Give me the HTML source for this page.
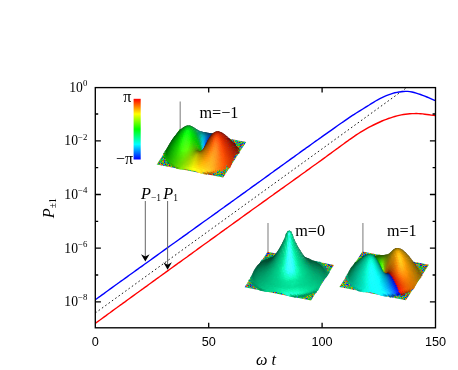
<!DOCTYPE html>
<html><head><meta charset="utf-8"><title>plot</title><style>html,body{margin:0;padding:0;background:#fff;overflow:hidden}svg{display:block;will-change:transform}</style></head><body>
<svg width="458" height="370" viewBox="0 0 458 370">
<rect width="458" height="370" fill="#fff"/>
<clipPath id="cp"><rect x="95.3" y="87.6" width="340.2" height="240.2"/></clipPath>
<g clip-path="url(#cp)" fill="none">
<path d="M95.3 313 L407 87.4" stroke="#1a1a1a" stroke-width="1" stroke-dasharray="1.6 2.5"/>
<path d="M95.3 299.8 L97.4 298.2 L99.6 296.7 L101.7 295.1 L103.9 293.6 L106.0 292.0 L108.1 290.5 L110.3 288.9 L112.4 287.4 L114.6 285.8 L116.7 284.3 L118.8 282.7 L121.0 281.2 L123.1 279.7 L125.3 278.1 L127.4 276.6 L129.5 275.0 L131.7 273.5 L133.8 272.0 L136.0 270.4 L138.1 268.9 L140.2 267.3 L142.4 265.8 L144.5 264.3 L146.7 262.7 L148.8 261.2 L150.9 259.7 L153.1 258.1 L155.2 256.6 L157.3 255.1 L159.5 253.5 L161.6 252.0 L163.8 250.4 L165.9 248.9 L168.0 247.4 L170.2 245.8 L172.3 244.3 L174.5 242.8 L176.6 241.2 L178.7 239.7 L180.9 238.2 L183.0 236.6 L185.2 235.1 L187.3 233.6 L189.4 232.0 L191.6 230.5 L193.7 229.0 L195.9 227.4 L198.0 225.9 L200.1 224.4 L202.3 222.8 L204.4 221.3 L206.6 219.8 L208.7 218.2 L210.8 216.7 L213.0 215.2 L215.1 213.6 L217.3 212.1 L219.4 210.5 L221.5 209.0 L223.7 207.5 L225.8 205.9 L228.0 204.4 L230.1 202.9 L232.2 201.3 L234.4 199.8 L236.5 198.2 L238.7 196.7 L240.8 195.1 L242.9 193.6 L245.1 192.1 L247.2 190.5 L249.4 189.0 L251.5 187.4 L253.6 185.9 L255.8 184.4 L257.9 182.8 L260.1 181.3 L262.2 179.7 L264.3 178.2 L266.5 176.6 L268.6 175.1 L270.7 173.5 L272.9 172.0 L275.0 170.4 L277.2 168.9 L279.3 167.4 L281.4 165.8 L283.6 164.3 L285.7 162.7 L287.9 161.2 L290.0 159.6 L292.1 158.1 L294.3 156.6 L296.4 155.0 L298.6 153.5 L300.7 151.9 L302.8 150.4 L305.0 148.9 L307.1 147.3 L309.3 145.8 L311.4 144.3 L313.5 142.7 L315.7 141.2 L317.8 139.7 L320.0 138.2 L322.1 136.6 L324.2 135.1 L326.4 133.6 L328.5 132.1 L330.7 130.6 L332.8 129.1 L334.9 127.6 L337.1 126.0 L339.2 124.5 L341.4 123.0 L343.5 121.6 L345.6 120.1 L347.8 118.6 L349.9 117.2 L352.1 115.7 L354.2 114.4 L356.3 113.0 L358.5 111.7 L360.6 110.3 L362.8 109.0 L364.9 107.7 L367.0 106.3 L369.2 105.0 L371.3 103.6 L373.5 102.3 L375.6 101.0 L377.7 99.8 L379.9 98.7 L382.0 97.6 L384.1 96.6 L386.3 95.7 L388.4 94.8 L390.6 94.1 L392.7 93.4 L394.8 92.8 L397.0 92.4 L399.1 92.0 L401.3 91.7 L403.4 91.5 L405.5 91.4 L407.7 91.4 L409.8 91.6 L412.0 92.0 L414.1 92.5 L416.2 93.1 L418.4 93.8 L420.5 94.5 L422.7 95.3 L424.8 96.1 L426.9 97.0 L429.1 97.9 L431.2 98.8 L433.4 99.8 L435.5 100.7" stroke="#0000ff" stroke-width="1.4"/>
<path d="M95.3 323.4 L97.4 321.8 L99.6 320.3 L101.7 318.7 L103.9 317.1 L106.0 315.6 L108.1 314.0 L110.3 312.5 L112.4 310.9 L114.6 309.3 L116.7 307.8 L118.8 306.2 L121.0 304.7 L123.1 303.1 L125.3 301.6 L127.4 300.0 L129.5 298.5 L131.7 296.9 L133.8 295.4 L136.0 293.8 L138.1 292.3 L140.2 290.7 L142.4 289.2 L144.5 287.6 L146.7 286.1 L148.8 284.5 L150.9 283.0 L153.1 281.4 L155.2 279.9 L157.3 278.3 L159.5 276.8 L161.6 275.2 L163.8 273.7 L165.9 272.1 L168.0 270.6 L170.2 269.0 L172.3 267.5 L174.5 265.9 L176.6 264.4 L178.7 262.8 L180.9 261.3 L183.0 259.8 L185.2 258.2 L187.3 256.7 L189.4 255.1 L191.6 253.6 L193.7 252.0 L195.9 250.5 L198.0 248.9 L200.1 247.4 L202.3 245.8 L204.4 244.3 L206.6 242.7 L208.7 241.2 L210.8 239.6 L213.0 238.1 L215.1 236.6 L217.3 235.0 L219.4 233.5 L221.5 231.9 L223.7 230.4 L225.8 228.8 L228.0 227.3 L230.1 225.7 L232.2 224.2 L234.4 222.6 L236.5 221.1 L238.7 219.6 L240.8 218.0 L242.9 216.5 L245.1 214.9 L247.2 213.4 L249.4 211.9 L251.5 210.3 L253.6 208.8 L255.8 207.2 L257.9 205.7 L260.1 204.2 L262.2 202.6 L264.3 201.1 L266.5 199.6 L268.6 198.0 L270.7 196.5 L272.9 195.0 L275.0 193.4 L277.2 191.9 L279.3 190.4 L281.4 188.8 L283.6 187.3 L285.7 185.8 L287.9 184.2 L290.0 182.7 L292.1 181.2 L294.3 179.6 L296.4 178.1 L298.6 176.6 L300.7 175.0 L302.8 173.5 L305.0 172.0 L307.1 170.4 L309.3 168.9 L311.4 167.3 L313.5 165.8 L315.7 164.3 L317.8 162.7 L320.0 161.2 L322.1 159.6 L324.2 158.1 L326.4 156.5 L328.5 154.9 L330.7 153.4 L332.8 151.8 L334.9 150.2 L337.1 148.7 L339.2 147.1 L341.4 145.5 L343.5 144.0 L345.6 142.4 L347.8 140.9 L349.9 139.3 L352.1 137.8 L354.2 136.4 L356.3 134.9 L358.5 133.5 L360.6 132.2 L362.8 130.8 L364.9 129.6 L367.0 128.4 L369.2 127.2 L371.3 126.1 L373.5 125.0 L375.6 124.0 L377.7 123.0 L379.9 122.0 L382.0 121.0 L384.1 120.1 L386.3 119.3 L388.4 118.5 L390.6 117.8 L392.7 117.1 L394.8 116.5 L397.0 115.9 L399.1 115.4 L401.3 114.9 L403.4 114.5 L405.5 114.2 L407.7 114.0 L409.8 113.8 L412.0 113.6 L414.1 113.6 L416.2 113.5 L418.4 113.6 L420.5 113.7 L422.7 113.9 L424.8 114.2 L426.9 114.5 L429.1 114.8 L431.2 115.1 L433.4 115.3 L435.5 115.6" stroke="#ff0000" stroke-width="1.4"/>
</g>
<filter id="nz" x="0" y="0" width="1" height="1" color-interpolation-filters="sRGB"><feTurbulence type="fractalNoise" baseFrequency="0.9" numOctaves="1" seed="4"/><feColorMatrix type="matrix" values="3 0 0 0 -1  3 0 0 0 -1  3 0 0 0 -1  0 0 0 0 1"/><feComponentTransfer><feFuncR type="table" tableValues=".05 .05 .05 .8 .85"/><feFuncG type="table" tableValues=".1 .7 .75 .7 .15"/><feFuncB type="table" tableValues=".85 .8 .1 .05 .05"/></feComponentTransfer><feComposite operator="in" in2="SourceGraphic"/></filter>
<g>
<path d="M180.2 129.9 V101.4" stroke="#909090" stroke-width="1.2" fill="none"/>
<path d="M179.7 128.9L246.2 142.1L223.2 177.6L156.7 164.4z" fill="#888" filter="url(#nz)"/>
<path d="M194.0 132.3l2.3 0.6l-0.7 1.3l-2.3-0.6z" fill="#009c81"/>
<path d="M195.4 132.7l2.4 0.5l-0.5 0.6l-2.5 0.2z" fill="#007b6a"/>
<path d="M200.4 132.9l2.5 0.5l-0.6-0.3l-2.5 0.5z" fill="#005b5c"/>
<path d="M186.9 132.7l2.3 0.6l-0.7 1.3l-2.3-0.6z" fill="#009f68"/>
<path d="M191.9 132.9l2.4 0.5l-0.7 1l-2.3-0.2z" fill="#008d6c"/>
<path d="M193.3 133.3l2.5 0.5l-0.6-0.6l-2.4 1z" fill="#005c4a"/>
<path d="M189.8 133.4l2.4 0.6l-0.5 0.2l-2.5 0.5z" fill="#006d4e"/>
<path d="M186.3 133.6l2.4 0.5l-0.7 1.3l-2.3-0.5z" fill="#009c62"/>
<path d="M187.8 134.0l2.4 0.5l-0.5-0.3l-2.5 1z" fill="#005c3c"/>
<path d="M184.3 134.1l2.3 0.5l-0.6 1.3l-2.4-0.5z" fill="#009c5b"/>
<path d="M185.7 134.5l2.5 0.5l-0.6-0.5l-2.4 1.2z" fill="#005c37"/>
<path d="M178.7 134.8l2.4 0.5l-0.7 1.3l-2.3-0.5z" fill="#009f4a"/>
<path d="M183.7 135.0l2.4 0.5l-0.5-0.5l-2.4 1.3z" fill="#005c33"/>
<path d="M180.2 135.1l2.4 0.5l-0.7 1.3l-2.3-0.5z" fill="#00a04e"/>
<path d="M181.7 135.5l2.4 0.5l-0.5-0.1l-2.5 0.9z" fill="#006332"/>
<path d="M208.4 133.0l2.5 0.3l-0.5-0.1l-2.5-0.4z" fill="#003e5c"/>
<path d="M179.7 135.9l2.4 0.6l-0.6 0.6l-2.4 0.1z" fill="#007f3a"/>
<path d="M209.9 133.2l2.5 0.4l-0.5-0.1l-2.5-0.5z" fill="#00385c"/>
<path d="M176.2 136.1l2.3 0.5l-0.7 1.3l-2.3-0.5z" fill="#009e3f"/>
<path d="M206.4 132.6l2.5 0.4l-0.6-0.1l-2.5-0.4z" fill="#00455c"/>
<path d="M211.4 133.4l2.5 0.5l-0.5-0.1l-2.5-0.5z" fill="#00325c"/>
<path d="M207.9 132.8l2.5 0.4l-0.6 0l-2.5-0.4z" fill="#003f5c"/>
<path d="M212.9 133.7l2.5 0.5l-0.5 0l-2.5-0.6z" fill="#002c5c"/>
<path d="M174.1 136.6l2.4 0.5l-0.7 1.3l-2.3-0.5z" fill="#00a23b"/>
<path d="M204.3 132.2l2.5 0.4l-0.5 0.1l-2.5-0.6z" fill="#004d5c"/>
<path d="M209.4 133.0l2.5 0.5l-0.6 0.1l-2.4-0.5z" fill="#00395c"/>
<path d="M214.4 134.0l2.5 0.6l-0.5-0.1l-2.5-0.6z" fill="#00265c"/>
<path d="M175.7 136.9l2.3 0.5l-0.7 1.3l-2.3-0.5z" fill="#009e3b"/>
<path d="M224.6 137.8l2.4 0.5l-0.6 0.5l-2.3-1.4z" fill="#000d5c"/>
<path d="M205.8 132.4l2.5 0.5l-0.5 0.1l-2.5-0.6z" fill="#00465c"/>
<path d="M210.9 133.3l2.5 0.5l-0.6 0.1l-2.4-0.6z" fill="#00325c"/>
<path d="M216.0 134.3l2.4 0.8l-0.5-0.1l-2.5-0.7z" fill="#00205c"/>
<path d="M177.1 137.3l2.4 0.4l-0.5-0.1l-2.5 1z" fill="#005e25"/>
<path d="M226.2 137.9l2.4 0.6l-0.8 1.1l-2.3-1.2z" fill="#000f87"/>
<path d="M202.3 131.8l2.5 0.5l-0.6 0l-2.4-0.7z" fill="#00545c"/>
<path d="M207.4 132.7l2.4 0.5l-0.5 0.2l-2.5-0.6z" fill="#00405c"/>
<path d="M212.4 133.5l2.5 0.6l-0.5 0.1l-2.5-0.6z" fill="#002c5c"/>
<path d="M217.5 134.8l2.4 0.7l-0.5-0.1l-2.5-0.7z" fill="#001b5c"/>
<path d="M227.7 138.1l2.4 0.6l-0.7 1.3l-2.4-0.7z" fill="#000d9f"/>
<path d="M203.8 132.1l2.5 0.5l-0.6 0.1l-2.4-0.7z" fill="#004e5c"/>
<path d="M208.9 132.9l2.5 0.6l-0.6 0.2l-2.5-0.6z" fill="#00395c"/>
<path d="M213.9 133.9l2.5 0.6l-0.5 0.1l-2.5-0.7z" fill="#00255c"/>
<path d="M219.0 135.2l2.4 0.9l-0.5-0.2l-2.4-0.8z" fill="#00165c"/>
<path d="M175.1 137.7l2.4 0.6l-0.7 1.1l-2.3-0.4z" fill="#009735"/>
<path d="M205.3 132.3l2.5 0.6l-0.6 0.3l-2.4-0.7z" fill="#00485c"/>
<path d="M210.4 133.2l2.5 0.6l-0.6 0.2l-2.5-0.6z" fill="#00325c"/>
<path d="M215.5 134.2l2.4 0.7l-0.5 0.1l-2.5-0.7z" fill="#001f5c"/>
<path d="M220.5 135.7l2.5 1l-0.6-0.3l-2.4-0.8z" fill="#00125c"/>
<path d="M201.8 131.6l2.5 0.7l-0.6 0l-2.4-0.8z" fill="#00565c"/>
<path d="M206.9 132.7l2.4 0.5l-0.5 0.3l-2.5-0.6z" fill="#00415c"/>
<path d="M211.9 133.5l2.5 0.6l-0.6 0.2l-2.4-0.6z" fill="#002b5c"/>
<path d="M217.0 134.6l2.4 0.8l-0.5 0l-2.5-0.7z" fill="#001a5c"/>
<path d="M173.1 138.2l2.3 0.6l-0.7 1.3l-2.3-0.6z" fill="#009e32"/>
<path d="M222.0 136.3l2.5 1l-0.6-0.3l-2.4-0.9z" fill="#000e5c"/>
<path d="M227.0 139.1l2.5 0.6l-0.6 0.3l-2.3-1.6z" fill="#00065c"/>
<path d="M203.3 131.9l2.5 0.7l-0.6 0.3l-2.4-0.9z" fill="#00505c"/>
<path d="M208.4 133.0l2.4 0.5l-0.5 0.4l-2.5-0.6z" fill="#003b5e"/>
<path d="M213.4 133.8l2.5 0.7l-0.6 0.2l-2.4-0.6z" fill="#00255c"/>
<path d="M218.5 135.1l2.4 0.8l-0.5-0.1l-2.5-0.7z" fill="#00155c"/>
<path d="M174.5 138.6l2.4 0.4l-0.5-0.1l-2.4 1z" fill="#005c1e"/>
<path d="M199.7 131.1l2.5 0.7l-0.5-0.1l-2.5-0.9z" fill="#005c59"/>
<path d="M204.8 132.3l2.5 0.7l-0.6 0.4l-2.4-0.9z" fill="#004b5e"/>
<path d="M209.9 133.3l2.4 0.5l-0.5 0.4l-2.5-0.6z" fill="#00325c"/>
<path d="M214.9 134.2l2.5 0.7l-0.6 0.2l-2.4-0.7z" fill="#001f5c"/>
<path d="M220.0 135.6l2.4 0.8l-0.5-0.1l-2.5-0.8z" fill="#00115c"/>
<path d="M201.3 131.4l2.4 0.8l-0.5 0.2l-2.5-1.1z" fill="#00585c"/>
<path d="M206.4 132.7l2.4 0.7l-0.6 0.4l-2.4-0.8z" fill="#004865"/>
<path d="M211.4 133.6l2.5 0.6l-0.6 0.3l-2.5-0.6z" fill="#002d60"/>
<path d="M216.5 134.6l2.4 0.7l-0.5 0.1l-2.5-0.6z" fill="#00195c"/>
<path d="M172.6 139.0l2.3 0.6l-0.7 1.2l-2.3-0.5z" fill="#009b2e"/>
<path d="M221.5 136.1l2.4 0.9l-0.5-0.2l-2.4-0.8z" fill="#000d5c"/>
<path d="M202.8 131.9l2.4 0.8l-0.6 0.3l-2.4-1z" fill="#00545e"/>
<path d="M207.9 133.1l2.4 0.6l-0.6 0.5l-2.4-0.7z" fill="#004167"/>
<path d="M212.9 133.9l2.5 0.6l-0.6 0.4l-2.5-0.7z" fill="#00245c"/>
<path d="M218.0 135.0l2.4 0.8l-0.5 0l-2.5-0.7z" fill="#00145c"/>
<path d="M223.0 136.6l2.4 1.1l-0.5-0.3l-2.4-0.9z" fill="#00095c"/>
<path d="M199.2 130.8l2.5 0.9l-0.6-0.1l-2.4-1.1z" fill="#005c56"/>
<path d="M204.3 132.3l2.5 0.9l-0.7 0.4l-2.4-1z" fill="#005468"/>
<path d="M209.4 133.4l2.4 0.6l-0.6 0.5l-2.4-0.6z" fill="#003765"/>
<path d="M214.4 134.3l2.5 0.6l-0.6 0.3l-2.4-0.6z" fill="#001f5f"/>
<path d="M219.5 135.5l2.4 0.7l-0.5 0l-2.5-0.7z" fill="#000f5c"/>
<path d="M229.6 140.5l2.4 0.6l-0.6 0.6l-2.3-1.9z" fill="#00025e"/>
<path d="M200.8 131.2l2.4 1.1l-0.6 0.1l-2.4-1.2z" fill="#005b5c"/>
<path d="M205.9 132.8l2.4 0.8l-0.6 0.5l-2.5-0.8z" fill="#00506d"/>
<path d="M210.9 133.7l2.4 0.6l-0.6 0.5l-2.4-0.6z" fill="#002f66"/>
<path d="M215.9 134.6l2.5 0.7l-0.6 0.2l-2.4-0.6z" fill="#00185c"/>
<path d="M172.0 139.9l2.4 0.5l-0.6 0.7l-2.4 0.1z" fill="#007d22"/>
<path d="M221.0 135.9l2.4 0.9l-0.5-0.2l-2.5-0.7z" fill="#000b5c"/>
<path d="M202.3 131.8l2.4 1.1l-0.6 0.3l-2.4-1.2z" fill="#005f68"/>
<path d="M207.4 133.3l2.4 0.6l-0.6 0.6l-2.4-0.7z" fill="#00476e"/>
<path d="M212.4 134.0l2.4 0.7l-0.5 0.4l-2.5-0.6z" fill="#002766"/>
<path d="M217.4 135.0l2.5 0.7l-0.6 0.1l-2.4-0.5z" fill="#00125c"/>
<path d="M222.5 136.5l2.4 0.9l-0.5-0.3l-2.4-0.8z" fill="#00085c"/>
<path d="M198.7 130.5l2.4 1.1l-0.5 0l-2.4-1.4z" fill="#005c53"/>
<path d="M203.8 132.4l2.4 1l-0.6 0.5l-2.4-1.1z" fill="#005d70"/>
<path d="M208.9 133.6l2.4 0.6l-0.6 0.6l-2.4-0.6z" fill="#003c6d"/>
<path d="M213.9 134.4l2.5 0.6l-0.6 0.4l-2.5-0.6z" fill="#002067"/>
<path d="M218.9 135.4l2.5 0.7l-0.5 0l-2.5-0.5z" fill="#000e5c"/>
<path d="M200.3 131.1l2.4 1.2l-0.7 0.2l-2.3-1.4z" fill="#00605e"/>
<path d="M205.4 133.0l2.4 0.9l-0.7 0.6l-2.4-1z" fill="#005775"/>
<path d="M210.4 133.9l2.4 0.6l-0.6 0.6l-2.4-0.5z" fill="#003470"/>
<path d="M215.4 134.8l2.5 0.6l-0.6 0.3l-2.5-0.5z" fill="#00175e"/>
<path d="M171.4 140.8l2.5-0.1l-0.6 0.1l-2.4 1.3z" fill="#005c17"/>
<path d="M220.4 135.9l2.5 0.7l-0.5-0.1l-2.5-0.6z" fill="#000a5c"/>
<path d="M230.6 141.2l2.4 1.2l-0.6-0.1l-2.3-1.9z" fill="#5c0100"/>
<path d="M201.8 131.8l2.4 1.3l-0.7 0.4l-2.3-1.5z" fill="#006b72"/>
<path d="M206.9 133.5l2.4 0.7l-0.7 0.8l-2.4-0.8z" fill="#004e79"/>
<path d="M211.9 134.3l2.4 0.6l-0.6 0.5l-2.4-0.5z" fill="#00296d"/>
<path d="M216.9 135.1l2.5 0.6l-0.6 0.2l-2.5-0.5z" fill="#00115c"/>
<path d="M222.0 136.3l2.4 0.9l-0.5-0.3l-2.5-0.7z" fill="#00075c"/>
<path d="M198.2 130.2l2.4 1.3l-0.6 0l-2.3-1.5z" fill="#005c50"/>
<path d="M203.4 132.6l2.3 1.1l-0.7 0.6l-2.3-1.3z" fill="#006d80"/>
<path d="M208.4 133.9l2.4 0.6l-0.6 0.8l-2.5-0.6z" fill="#004278"/>
<path d="M213.4 134.6l2.4 0.6l-0.5 0.5l-2.5-0.5z" fill="#001e67"/>
<path d="M218.4 135.5l2.5 0.6l-0.5 0l-2.5-0.5z" fill="#000c5c"/>
<path d="M199.8 130.9l2.3 1.5l-0.6 0.2l-2.3-1.7z" fill="#006a65"/>
<path d="M204.9 133.3l2.3 0.9l-0.7 0.8l-2.3-1.1z" fill="#006585"/>
<path d="M209.9 134.3l2.4 0.5l-0.6 0.8l-2.4-0.6z" fill="#003677"/>
<path d="M214.9 135.0l2.4 0.5l-0.5 0.3l-2.5-0.3z" fill="#00155c"/>
<path d="M170.9 142.0l2.4-1.3l-0.6 0.1l-2.2 2.1z" fill="#005c15"/>
<path d="M219.9 135.8l2.5 0.7l-0.5-0.2l-2.5-0.4z" fill="#00085c"/>
<path d="M196.2 129.2l2.4 1.2l-0.6-0.2l-2.3-1.5z" fill="#005c46"/>
<path d="M201.3 131.8l2.4 1.5l-0.7 0.5l-2.3-1.7z" fill="#007377"/>
<path d="M206.4 133.8l2.3 0.8l-0.6 0.9l-2.4-0.8z" fill="#005785"/>
<path d="M211.4 134.6l2.4 0.6l-0.6 0.7l-2.4-0.6z" fill="#002c78"/>
<path d="M216.4 135.3l2.5 0.4l-0.6 0.2l-2.5-0.3z" fill="#000f5c"/>
<path d="M221.4 136.2l2.5 0.7l-0.5-0.2l-2.5-0.6z" fill="#00055c"/>
<path d="M197.7 129.9l2.4 1.5l-0.6 0l-2.3-1.7z" fill="#005f4f"/>
<path d="M202.9 132.7l2.3 1.4l-0.7 0.7l-2.3-1.6z" fill="#007a8b"/>
<path d="M207.9 134.3l2.4 0.6l-0.7 0.9l-2.4-0.6z" fill="#004984"/>
<path d="M212.9 134.9l2.4 0.5l-0.6 0.6l-2.4-0.4z" fill="#001e6b"/>
<path d="M217.9 135.6l2.5 0.4l-0.6 0l-2.5-0.2z" fill="#000b5c"/>
<path d="M233.1 142.9l2.4 0.7l-0.7 1l-2.2-2.1z" fill="#720400"/>
<path d="M199.3 130.8l2.3 1.7l-0.7 0.3l-2.2-2z" fill="#007166"/>
<path d="M204.4 133.6l2.3 1.1l-0.7 0.9l-2.3-1.3z" fill="#007496"/>
<path d="M209.4 134.7l2.4 0.5l-0.7 0.9l-2.4-0.5z" fill="#003b83"/>
<path d="M214.4 135.2l2.4 0.4l-0.5 0.5l-2.5-0.3z" fill="#001461"/>
<path d="M219.4 135.8l2.5 0.5l-0.5-0.2l-2.5-0.2z" fill="#00075c"/>
<path d="M195.7 128.7l2.3 1.5l-0.5-0.2l-2.3-1.7z" fill="#005c42"/>
<path d="M200.9 131.9l2.2 1.7l-0.7 0.5l-2.2-2z" fill="#008282"/>
<path d="M205.9 134.3l2.3 0.8l-0.7 1.1l-2.3-1z" fill="#006394"/>
<path d="M210.9 135.0l2.4 0.5l-0.6 0.9l-2.5-0.5z" fill="#002c7e"/>
<path d="M215.8 135.5l2.5 0.3l-0.5 0.2l-2.5-0.1z" fill="#000d5c"/>
<path d="M197.3 129.6l2.2 1.8l-0.6 0l-2.2-2z" fill="#006650"/>
<path d="M202.4 133.0l2.3 1.5l-0.8 0.9l-2.2-1.9z" fill="#008491"/>
<path d="M207.4 134.8l2.3 0.6l-0.6 1.1l-2.4-0.6z" fill="#005091"/>
<path d="M212.4 135.3l2.4 0.4l-0.6 0.7l-2.4-0.3z" fill="#001e72"/>
<path d="M217.3 135.7l2.5 0.2l-0.5 0l-2.5 0z" fill="#00095c"/>
<path d="M198.8 130.7l2.3 1.9l-0.7 0.3l-2.2-2.2z" fill="#007868"/>
<path d="M203.9 134.0l2.3 1.3l-0.8 1l-2.2-1.5z" fill="#007fa0"/>
<path d="M208.9 135.2l2.3 0.5l-0.6 1.1l-2.4-0.5z" fill="#004091"/>
<path d="M213.8 135.6l2.5 0.2l-0.5 0.5l-2.5 0z" fill="#001261"/>
<path d="M234.1 144.0l2.4 0.7l-0.7 1l-2.2-2.4z" fill="#700600"/>
<path d="M195.2 128.3l2.3 1.7l-0.6-0.2l-2.2-1.9z" fill="#005c3e"/>
<path d="M200.4 131.9l2.2 2l-0.7 0.6l-2.2-2.3z" fill="#00908a"/>
<path d="M205.4 134.8l2.3 1l-0.7 1.2l-2.3-1.1z" fill="#0070a5"/>
<path d="M210.4 135.5l2.3 0.5l-0.6 1l-2.4-0.4z" fill="#002d85"/>
<path d="M215.3 135.8l2.5 0.1l-0.5 0.1l-2.5 0.2z" fill="#000c5c"/>
<path d="M196.8 129.3l2.2 2l-0.6 0l-2.2-2.2z" fill="#00694e"/>
<path d="M201.9 133.3l2.2 1.8l-0.7 0.9l-2.2-2.2z" fill="#0097a1"/>
<path d="M206.9 135.4l2.3 0.7l-0.7 1.2l-2.3-0.6z" fill="#0059a1"/>
<path d="M211.8 135.8l2.5 0.3l-0.6 0.8l-2.4-0.1z" fill="#001d76"/>
<path d="M216.8 135.9l2.5 0l-0.5-0.1l-2.5 0.3z" fill="#00075c"/>
<path d="M198.3 130.6l2.2 2.2l-0.7 0.3l-2.1-2.5z" fill="#008069"/>
<path d="M203.4 134.5l2.3 1.5l-0.8 1.2l-2.3-1.8z" fill="#0092b2"/>
<path d="M208.4 135.8l2.3 0.5l-0.7 1.3l-2.3-0.5z" fill="#004298"/>
<path d="M213.3 136.0l2.5 0l-0.6 0.5l-2.4 0.3z" fill="#001061"/>
<path d="M233.7 143.3l2.1 2.3l-0.5-0.5l-2.2-2.4z" fill="#5c0500"/>
<path d="M194.7 127.9l2.3 1.8l-0.6-0.1l-2.3-2z" fill="#005e3a"/>
<path d="M199.9 132.1l2.1 2.2l-0.7 0.6l-2.1-2.6z" fill="#009588"/>
<path d="M204.9 135.5l2.3 1l-0.8 1.4l-2.3-1.2z" fill="#0080b8"/>
<path d="M209.9 136.1l2.3 0.4l-0.6 1.2l-2.4-0.3z" fill="#002e90"/>
<path d="M214.8 136.1l2.5-0.2l-0.5 0.2l-2.5 0.5z" fill="#000a5c"/>
<path d="M196.3 129.0l2.2 2.2l-0.7 0.1l-2.1-2.4z" fill="#00724e"/>
<path d="M201.4 133.6l2.2 2.1l-0.8 1l-2.1-2.5z" fill="#00a5a8"/>
<path d="M206.4 136.2l2.3 0.6l-0.7 1.5l-2.3-0.7z" fill="#0063b2"/>
<path d="M211.3 136.4l2.4 0.1l-0.5 0.9l-2.5 0.1z" fill="#001b79"/>
<path d="M231.6 141.2l2.2 2.2l-0.5-0.6l-2.2-2.1z" fill="#5c0500"/>
<path d="M192.6 126.7l2.4 1.5l-0.6-0.3l-2.3-1.5z" fill="#005c2e"/>
<path d="M197.8 130.5l2.2 2.5l-0.7 0.3l-2.1-2.8z" fill="#008364"/>
<path d="M202.9 135.1l2.2 1.7l-0.8 1.3l-2.2-2z" fill="#00a0bb"/>
<path d="M207.9 136.6l2.3 0.5l-0.7 1.4l-2.3-0.4z" fill="#0049ad"/>
<path d="M212.8 136.5l2.4-0.2l-0.5 0.5l-2.4 0.6z" fill="#000d5d"/>
<path d="M233.1 142.7l2.2 2.4l-0.5-0.6l-2.2-2.4z" fill="#5c0600"/>
<path d="M194.2 127.5l2.2 2l-0.6-0.1l-2.2-2.1z" fill="#006136"/>
<path d="M199.4 132.2l2.1 2.6l-0.7 0.6l-2.1-2.9z" fill="#009681"/>
<path d="M204.4 136.3l2.3 1.2l-0.8 1.5l-2.3-1.3z" fill="#008ec8"/>
<path d="M209.3 136.9l2.4 0.3l-0.6 1.3l-2.4-0.2z" fill="#002d98"/>
<path d="M214.3 136.5l2.5-0.5l-0.6 0.1l-2.4 0.8z" fill="#00075c"/>
<path d="M234.7 144.3l2.1 2.5l-0.5-0.4l-2.2-2.7z" fill="#600600"/>
<path d="M190.5 125.9l2.5 0.9l-0.6-0.2l-2.4-1z" fill="#005c25"/>
<path d="M195.8 128.8l2.1 2.4l-0.6 0.1l-2.1-2.6z" fill="#00774a"/>
<path d="M200.9 134.0l2.1 2.5l-0.7 1l-2.1-2.9z" fill="#00b3ae"/>
<path d="M205.9 137.1l2.2 0.6l-0.7 1.7l-2.2-0.6z" fill="#006cc1"/>
<path d="M210.8 137.1l2.4-0.1l-0.5 0.9l-2.5 0.5z" fill="#00187a"/>
<path d="M231.1 140.7l2.2 2.1l-0.5-0.6l-2.2-2.1z" fill="#5c0600"/>
<path d="M236.1 146.2l2.4 0.7l-0.8 1.2l-2.1-2.4z" fill="#7b0900"/>
<path d="M192.1 126.3l2.3 1.6l-0.5-0.1l-2.4-1.7z" fill="#005c29"/>
<path d="M197.3 130.4l2.1 2.7l-0.7 0.4l-2-3z" fill="#008a60"/>
<path d="M202.4 135.8l2.2 2l-0.8 1.4l-2.2-2.4z" fill="#00afc4"/>
<path d="M207.4 137.5l2.2 0.4l-0.6 1.7l-2.3-0.4z" fill="#004ab5"/>
<path d="M212.2 137.1l2.5-0.5l-0.5 0.4l-2.4 1z" fill="#000b5c"/>
<path d="M168.5 145.7l2-3.3l-0.5 0.7l-2.1 3.3z" fill="#005c0e"/>
<path d="M232.6 142.1l2.2 2.4l-0.5-0.6l-2.2-2.4z" fill="#5c0600"/>
<path d="M188.5 125.6l2.5 0.3l-0.6-0.1l-2.5-0.3z" fill="#005c1e"/>
<path d="M193.7 127.2l2.2 2.1l-0.6 0l-2.2-2.2z" fill="#007037"/>
<path d="M198.9 132.3l2.1 2.9l-0.8 0.7l-2-3.2z" fill="#00997a"/>
<path d="M203.9 137.2l2.2 1.3l-0.8 1.8l-2.2-1.6z" fill="#019cd5"/>
<path d="M208.8 137.8l2.3 0.1l-0.6 1.5l-2.3 0.1z" fill="#002b9c"/>
<path d="M213.8 136.9l2.4-0.8l-0.5 0l-2.4 1.2z" fill="#00055c"/>
<path d="M170.0 143.2l2-3.1l-0.5 0.7l-2.1 3.2z" fill="#005c0e"/>
<path d="M175.0 136.0l2.1-2.7l-0.5 0.6l-2.1 2.7z" fill="#005c10"/>
<path d="M234.2 143.7l2.1 2.7l-0.5-0.6l-2.2-2.6z" fill="#5d0700"/>
<path d="M190.0 125.6l2.4 1l-0.5 0l-2.4-1z" fill="#005c20"/>
<path d="M195.3 128.6l2.1 2.6l-0.7 0.1l-2.1-2.7z" fill="#008147"/>
<path d="M200.4 134.4l2.1 2.9l-0.8 1l-2-3.2z" fill="#00b3a4"/>
<path d="M205.4 138.2l2.2 0.6l-0.7 1.9l-2.3-0.7z" fill="#0176d0"/>
<path d="M210.2 137.9l2.4-0.4l-0.4 1l-2.4 0.8z" fill="#001370"/>
<path d="M171.5 140.9l2-3l-0.5 0.7l-2.1 3.1z" fill="#005c0e"/>
<path d="M176.5 134.1l2.1-2.6l-0.5 0.6l-2.1 2.6z" fill="#005c10"/>
<path d="M181.5 128.8l2.3-1.7l-0.6 0.3l-2.3 1.8z" fill="#005c13"/>
<path d="M230.5 140.1l2.3 2.2l-0.5-0.6l-2.3-2.1z" fill="#5c0600"/>
<path d="M186.4 125.8l2.5-0.3l-0.5 0.1l-2.5 0.4z" fill="#005c18"/>
<path d="M235.7 145.6l2.1 2.4l-0.6 0l-2.1-3z" fill="#6d0800"/>
<path d="M191.6 126.0l2.3 1.7l-0.6 0.1l-2.3-1.7z" fill="#006828"/>
<path d="M196.8 130.4l2.1 3l-0.7 0.3l-2-3.2z" fill="#008e59"/>
<path d="M201.9 136.5l2.2 2.4l-0.9 1.5l-2.1-2.8z" fill="#00b8c3"/>
<path d="M206.9 138.6l2.2 0.4l-0.7 1.8l-2.2-0.3z" fill="#004cc2"/>
<path d="M211.7 137.9l2.4-1l-0.5 0.3l-2.3 1.5z" fill="#00085c"/>
<path d="M167.9 146.4l2.1-3.2l-0.5 0.8l-2.1 3.3z" fill="#005c0d"/>
<path d="M173.0 138.7l2.1-2.9l-0.6 0.8l-2.1 2.9z" fill="#005c0e"/>
<path d="M178.0 132.3l2.2-2.3l-0.5 0.6l-2.2 2.3z" fill="#005c10"/>
<path d="M182.9 127.6l2.4-1.4l-0.5 0.4l-2.4 1.4z" fill="#005c13"/>
<path d="M232.1 141.5l2.2 2.4l-0.6-0.5l-2.1-2.4z" fill="#5c0700"/>
<path d="M187.9 125.4l2.5 0.3l-0.5 0.3l-2.5-0.4z" fill="#005c19"/>
<path d="M237.1 147.3l2.4 0.6l-0.8 1.3l-2.2-1.8z" fill="#850a00"/>
<path d="M193.2 127.0l2.2 2.2l-0.7 0.2l-2.1-2.3z" fill="#007a33"/>
<path d="M198.4 132.5l2 3.3l-0.7 0.6l-2-3.5z" fill="#009f72"/>
<path d="M203.4 138.3l2.2 1.5l-0.8 1.9l-2.2-1.8z" fill="#02ace0"/>
<path d="M208.3 138.9l2.3-0.1l-0.6 1.5l-2.3 0.4z" fill="#0027a0"/>
<path d="M169.4 144.0l2.1-3.2l-0.5 0.9l-2.1 3.2z" fill="#005c0d"/>
<path d="M174.4 136.6l2.2-2.7l-0.5 0.8l-2.2 2.7z" fill="#005c0e"/>
<path d="M179.4 130.6l2.3-2l-0.5 0.6l-2.3 2.1z" fill="#005c10"/>
<path d="M184.4 126.6l2.4-0.9l-0.4 0.4l-2.5 1z" fill="#005c14"/>
<path d="M233.6 143.2l2.2 2.6l-0.6-0.5l-2.1-2.7z" fill="#5d0700"/>
<path d="M189.5 125.4l2.4 1l-0.6 0.3l-2.4-1z" fill="#00601d"/>
<path d="M194.8 128.5l2.1 2.7l-0.7 0.3l-2.1-2.9z" fill="#008c42"/>
<path d="M199.9 134.9l2 3.2l-0.7 1l-2-3.6z" fill="#00b296"/>
<path d="M204.9 139.4l2.2 0.7l-0.8 2.1l-2.2-0.7z" fill="#027fde"/>
<path d="M209.7 139.0l2.4-0.9l-0.5 0.9l-2.3 1.4z" fill="#000e68"/>
<path d="M170.9 141.6l2.1-3l-0.5 1l-2.1 3z" fill="#005c0d"/>
<path d="M175.9 134.7l2.2-2.6l-0.5 0.9l-2.2 2.5z" fill="#005c0e"/>
<path d="M180.9 129.2l2.3-1.8l-0.4 0.7l-2.4 1.8z" fill="#005c10"/>
<path d="M230.0 139.6l2.3 2.1l-0.6-0.5l-2.2-2.2z" fill="#5c0700"/>
<path d="M185.9 125.8l2.5-0.3l-0.5 0.6l-2.5 0.3z" fill="#005c15"/>
<path d="M235.2 145.0l2.1 3l-0.6-0.6l-2.1-2.9z" fill="#620700"/>
<path d="M191.1 125.9l2.3 1.7l-0.6 0.3l-2.3-1.7z" fill="#007826"/>
<path d="M196.3 130.4l2.1 3.2l-0.7 0.4l-2-3.4z" fill="#00914e"/>
<path d="M201.4 137.3l2.1 2.8l-0.8 1.6l-2.1-3.3z" fill="#00c4c4"/>
<path d="M206.4 139.9l2.2 0.3l-0.7 2l-2.2-0.2z" fill="#004ac6"/>
<path d="M211.2 138.6l2.4-1.4l-0.6 0.2l-2.2 2z" fill="#00055c"/>
<path d="M167.4 147.2l2-3.2l-0.4 1.1l-2.1 3.1z" fill="#005c0b"/>
<path d="M172.4 139.4l2.1-2.8l-0.4 1l-2.2 2.8z" fill="#005c0c"/>
<path d="M177.4 132.8l2.2-2.3l-0.4 0.9l-2.3 2.3z" fill="#005c0e"/>
<path d="M182.4 127.9l2.4-1.4l-0.5 0.8l-2.4 1.3z" fill="#005c11"/>
<path d="M231.6 141.0l2.2 2.4l-0.6-0.5l-2.2-2.5z" fill="#5c0700"/>
<path d="M187.5 125.4l2.4 0.4l-0.6 0.6l-2.4-0.4z" fill="#006919"/>
<path d="M236.6 147.2l2.3 1.8l-0.7 0.7l-2.1-3.1z" fill="#7a0900"/>
<path d="M192.7 127.0l2.2 2.2l-0.7 0.4l-2.2-2.4z" fill="#00862f"/>
<path d="M197.9 132.8l2 3.5l-0.7 0.6l-2-3.8z" fill="#00a367"/>
<path d="M202.9 139.4l2.2 1.9l-0.9 2l-2.1-2.2z" fill="#02b9e5"/>
<path d="M207.7 140.1l2.3-0.4l-0.4 1.6l-2.4 0.8z" fill="#001f93"/>
<path d="M168.9 144.9l2.1-3.2l-0.5 1.1l-2.1 3.1z" fill="#005c0b"/>
<path d="M173.9 137.3l2.1-2.6l-0.4 1l-2.2 2.6z" fill="#005c0c"/>
<path d="M178.9 131.2l2.3-2l-0.5 0.9l-2.3 2z" fill="#005c0e"/>
<path d="M183.9 126.9l2.4-0.9l-0.5 0.8l-2.4 0.9z" fill="#005d11"/>
<path d="M233.1 142.6l2.2 2.7l-0.6-0.5l-2.1-2.7z" fill="#620800"/>
<path d="M189.1 125.5l2.3 1l-0.6 0.6l-2.4-1z" fill="#007c1e"/>
<path d="M194.3 128.5l2.1 2.8l-0.7 0.4l-2.1-2.9z" fill="#009239"/>
<path d="M199.4 135.4l2 3.6l-0.8 1l-1.9-4z" fill="#00b084"/>
<path d="M204.4 140.8l2.1 0.7l-0.7 2.4l-2.2-0.8z" fill="#058bee"/>
<path d="M209.1 140.1l2.4-1.4l-0.4 0.8l-2.3 2z" fill="#00095d"/>
<path d="M170.4 142.5l2.1-3l-0.5 1.2l-2.1 2.9z" fill="#005c0b"/>
<path d="M175.4 135.4l2.2-2.5l-0.5 1.1l-2.2 2.4z" fill="#005c0c"/>
<path d="M180.3 129.7l2.4-1.7l-0.4 1l-2.4 1.7z" fill="#005c0e"/>
<path d="M229.5 139.0l2.2 2.2l-0.5-0.6l-2.2-2.2z" fill="#5c0700"/>
<path d="M185.4 126.1l2.4-0.3l-0.5 1l-2.4 0.2z" fill="#007416"/>
<path d="M234.7 144.5l2.1 2.8l-0.6-0.4l-2.1-2.9z" fill="#670800"/>
<path d="M190.6 126.0l2.3 1.7l-0.7 0.6l-2.3-1.7z" fill="#009126"/>
<path d="M195.8 130.5l2 3.4l-0.7 0.4l-2-3.4z" fill="#009b45"/>
<path d="M200.9 138.2l2.1 3.3l-0.9 1.4l-1.9-3.8z" fill="#00c5b5"/>
<path d="M205.8 141.3l2.2 0.2l-0.6 2.2l-2.2 0z" fill="#0046ca"/>
<path d="M166.8 148.2l2.1-3.2l-0.4 1.2l-2.1 3z" fill="#005c0a"/>
<path d="M171.9 140.3l2.1-2.8l-0.4 1.2l-2.2 2.7z" fill="#005c0b"/>
<path d="M176.8 133.6l2.3-2.3l-0.4 1.2l-2.3 2.2z" fill="#005c0c"/>
<path d="M181.8 128.4l2.4-1.3l-0.4 1.1l-2.4 1.3z" fill="#006310"/>
<path d="M231.1 140.4l2.1 2.5l-0.5-0.5l-2.2-2.5z" fill="#5e0700"/>
<path d="M187.0 125.7l2.4 0.4l-0.6 1l-2.4-0.4z" fill="#008219"/>
<path d="M236.2 146.5l2 3.1l-0.5-0.3l-2.1-3.2z" fill="#720900"/>
<path d="M192.2 127.1l2.2 2.3l-0.8 0.6l-2.1-2.4z" fill="#009c2c"/>
<path d="M197.4 133.0l1.9 3.8l-0.7 0.6l-1.9-3.9z" fill="#00a556"/>
<path d="M202.4 140.7l2.2 2.2l-0.9 2.1l-2.1-2.7z" fill="#02c3e3"/>
<path d="M207.2 141.6l2.3-0.9l-0.4 1.5l-2.3 1.5z" fill="#001581"/>
<path d="M168.3 145.8l2.1-3l-0.4 1.2l-2.1 3z" fill="#005c0a"/>
<path d="M173.3 138.2l2.2-2.6l-0.4 1.2l-2.2 2.6z" fill="#005c0b"/>
<path d="M178.3 131.9l2.3-2l-0.4 1.3l-2.3 1.9z" fill="#005d0c"/>
<path d="M183.3 127.3l2.5-0.8l-0.5 1.3l-2.4 0.7z" fill="#007412"/>
<path d="M232.6 142.1l2.1 2.7l-0.5-0.5l-2.2-2.7z" fill="#650800"/>
<path d="M188.6 125.8l2.3 1l-0.7 1l-2.3-1.1z" fill="#00991e"/>
<path d="M237.6 148.9l2.4 1.1l-0.8 1.1l-2.2-2.6z" fill="#810a00"/>
<path d="M193.8 128.7l2 2.9l-0.7 0.5l-2.1-2.9z" fill="#009f31"/>
<path d="M198.9 135.9l1.9 4l-0.7 0.9l-1.9-4.3z" fill="#00ae6f"/>
<path d="M203.9 142.4l2.1 0.7l-0.8 2.6l-2.1-0.9z" fill="#0a99ff"/>
<path d="M208.7 141.4l2.3-2.1l-0.6 0.6l-2.1 2.6z" fill="#00055c"/>
<path d="M169.8 143.5l2.1-2.9l-0.4 1.3l-2.1 2.9z" fill="#005c0a"/>
<path d="M174.8 136.3l2.2-2.4l-0.3 1.3l-2.3 2.3z" fill="#005d0b"/>
<path d="M179.8 130.4l2.3-1.6l-0.3 1.3l-2.4 1.6z" fill="#00670e"/>
<path d="M229.0 138.4l2.2 2.2l-0.5-0.5l-2.2-2.2z" fill="#5c0700"/>
<path d="M184.9 126.6l2.4-0.2l-0.5 1.3l-2.4 0.2z" fill="#008816"/>
<path d="M234.1 144.0l2.1 2.9l-0.6-0.4l-2-3z" fill="#6c0900"/>
<path d="M190.2 126.3l2.2 1.7l-0.8 0.9l-2.2-1.6z" fill="#00a823"/>
<path d="M195.3 130.8l2 3.4l-0.7 0.6l-2-3.5z" fill="#00a539"/>
<path d="M200.4 139.0l2 3.8l-0.8 1.4l-1.9-4.3z" fill="#00bd99"/>
<path d="M205.3 143.0l2.2 0l-0.6 2.2l-2.2 0.4z" fill="#003cc4"/>
<path d="M166.3 149.2l2.1-3l-0.4 1.3l-2.2 2.7z" fill="#005c09"/>
<path d="M171.3 141.3l2.2-2.7l-0.4 1.3l-2.2 2.7z" fill="#005c09"/>
<path d="M176.3 134.5l2.3-2.2l-0.4 1.4l-2.3 2.1z" fill="#00620b"/>
<path d="M181.3 129.1l2.4-1.2l-0.4 1.5l-2.4 1.1z" fill="#007610"/>
<path d="M230.5 139.9l2.2 2.5l-0.5-0.5l-2.2-2.5z" fill="#5f0800"/>
<path d="M186.5 126.2l2.3 0.4l-0.6 1.4l-2.3-0.4z" fill="#00a21a"/>
<path d="M235.7 146.0l2 3.2l-0.6-0.4l-2-3.2z" fill="#700900"/>
<path d="M191.7 127.4l2.2 2.3l-0.8 0.9l-2.2-2.3z" fill="#00ac26"/>
<path d="M196.8 133.4l2 3.9l-0.7 0.6l-2-4z" fill="#00a744"/>
<path d="M201.9 142.0l2.1 2.7l-0.9 2.2l-2-3.5z" fill="#01cedb"/>
<path d="M206.6 143.2l2.3-1.4l-0.4 1.1l-2.2 2.3z" fill="#000c70"/>
<path d="M167.8 147.0l2.1-3.1l-0.4 1.4l-2.1 3z" fill="#005c08"/>
<path d="M172.8 139.3l2.2-2.6l-0.4 1.4l-2.2 2.6z" fill="#00620a"/>
<path d="M177.8 132.8l2.3-1.9l-0.4 1.6l-2.3 1.8z" fill="#006d0c"/>
<path d="M182.9 128.0l2.3-0.6l-0.5 1.6l-2.3 0.6z" fill="#008912"/>
<path d="M232.1 141.6l2.1 2.7l-0.6-0.4l-2.1-2.8z" fill="#660800"/>
<path d="M188.1 126.3l2.3 1l-0.8 1.4l-2.2-1z" fill="#00b41d"/>
<path d="M193.3 129.0l2 3l-0.7 0.8l-2.1-3z" fill="#00ae28"/>
<path d="M198.4 136.4l1.9 4.3l-0.7 0.8l-1.9-4.4z" fill="#00ac56"/>
<path d="M203.4 144.1l2.1 0.8l-0.8 2.7l-2.1-1z" fill="#11adff"/>
<path d="M208.3 142.5l2.1-2.6l-0.6 0.3l-2 3.3z" fill="#00015c"/>
<path d="M169.3 144.7l2.1-2.9l-0.4 1.4l-2.1 2.9z" fill="#005e08"/>
<path d="M174.3 137.3l2.2-2.3l-0.3 1.5l-2.3 2.3z" fill="#00670a"/>
<path d="M179.3 131.3l2.3-1.5l-0.3 1.7l-2.4 1.4z" fill="#00760d"/>
<path d="M228.5 137.9l2.2 2.2l-0.6-0.4l-2.1-2.4z" fill="#5d0800"/>
<path d="M184.4 127.3l2.4-0.1l-0.6 1.7l-2.3 0.1z" fill="#009e15"/>
<path d="M233.6 143.5l2.1 2.9l-0.6-0.3l-2.1-3z" fill="#6e0900"/>
<path d="M189.7 126.9l2.2 1.7l-0.8 1.2l-2.2-1.6z" fill="#00c01f"/>
<path d="M194.8 131.2l2 3.5l-0.7 0.8l-2-3.5z" fill="#00b22d"/>
<path d="M199.9 139.8l1.9 4.3l-0.7 1.2l-1.9-4.7z" fill="#00b879"/>
<path d="M204.8 144.8l2.1-0.3l-0.5 2.1l-2.2 0.9z" fill="#002cb0"/>
<path d="M165.7 150.1l2.2-2.7l-0.3 1.7l-2.3 2z" fill="#005c07"/>
<path d="M170.7 142.5l2.2-2.7l-0.3 1.5l-2.2 2.7z" fill="#006208"/>
<path d="M175.7 135.5l2.3-2l-0.3 1.6l-2.3 2z" fill="#006e0a"/>
<path d="M180.8 130.0l2.3-1l-0.4 1.8l-2.3 1z" fill="#00860e"/>
<path d="M230.0 139.4l2.2 2.5l-0.6-0.4l-2.1-2.6z" fill="#630800"/>
<path d="M186.0 127.0l2.3 0.4l-0.7 1.7l-2.2-0.4z" fill="#00b818"/>
<path d="M235.2 145.6l2 3.2l-0.6-0.3l-2-3.2z" fill="#720a00"/>
<path d="M191.2 128.0l2.2 2.3l-0.8 1.2l-2.2-2.3z" fill="#00c321"/>
<path d="M196.3 133.8l2 4l-0.7 0.9l-2-4.1z" fill="#00b032"/>
<path d="M201.4 143.2l2 3.4l-0.8 2l-2-4.2z" fill="#00cfc1"/>
<path d="M206.1 145.1l2.3-2.4l-0.6 0.7l-2 3.3z" fill="#00045c"/>
<path d="M167.2 148.2l2.2-3l-0.4 1.5l-2.1 3z" fill="#006107"/>
<path d="M172.2 140.4l2.3-2.4l-0.4 1.6l-2.2 2.4z" fill="#006a09"/>
<path d="M177.2 133.9l2.3-1.8l-0.3 1.9l-2.3 1.6z" fill="#007c0b"/>
<path d="M226.4 136.0l2.3 2l-0.5-0.5l-2.3-2z" fill="#5c0800"/>
<path d="M182.4 129.0l2.3-0.6l-0.5 2l-2.3 0.5z" fill="#009910"/>
<path d="M231.6 141.1l2.1 2.8l-0.6-0.3l-2.1-2.9z" fill="#6a0900"/>
<path d="M187.6 127.2l2.2 0.9l-0.7 1.7l-2.3-0.9z" fill="#00cc1a"/>
<path d="M236.7 147.9l2 3.5l-0.6-0.3l-2-3.5z" fill="#750a00"/>
<path d="M192.8 129.7l2 2.9l-0.8 1.1l-2-2.9z" fill="#00be20"/>
<path d="M197.8 137.0l2 4.4l-0.7 0.8l-2-4.4z" fill="#00ae3b"/>
<path d="M202.8 145.9l2.2 1l-0.8 2.7l-2.2-1.2z" fill="#14b9ff"/>
<path d="M168.7 145.9l2.2-2.8l-0.4 1.6l-2.1 2.8z" fill="#006307"/>
<path d="M173.7 138.5l2.3-2.2l-0.3 1.8l-2.3 2.1z" fill="#007209"/>
<path d="M178.8 132.4l2.3-1.4l-0.4 2l-2.3 1.3z" fill="#00840c"/>
<path d="M228.0 137.3l2.2 2.3l-0.6-0.4l-2.2-2.4z" fill="#5d0800"/>
<path d="M184.0 128.4l2.2-0.2l-0.6 2.1l-2.2 0.1z" fill="#00af12"/>
<path d="M233.1 143.1l2.1 3l-0.6-0.3l-2.1-3.1z" fill="#730a00"/>
<path d="M189.2 127.8l2.2 1.6l-0.9 1.6l-2.2-1.6z" fill="#01d71b"/>
<path d="M194.3 131.8l2 3.5l-0.8 1.1l-2-3.5z" fill="#00bb21"/>
<path d="M199.4 140.5l1.9 4.7l-0.7 0.9l-1.9-4.8z" fill="#00b351"/>
<path d="M204.1 146.8l2.3-0.9l-0.4 1.5l-2.3 2.2z" fill="#001685"/>
<path d="M165.1 150.8l2.3-2l-0.4 2.1l-2.3 0.9z" fill="#007107"/>
<path d="M170.2 143.8l2.2-2.6l-0.3 1.7l-2.2 2.5z" fill="#006807"/>
<path d="M175.2 136.7l2.3-1.9l-0.3 2l-2.3 1.8z" fill="#007909"/>
<path d="M180.3 131.2l2.3-1l-0.4 2.2l-2.3 0.8z" fill="#00980d"/>
<path d="M229.5 138.9l2.2 2.6l-0.6-0.3l-2.1-2.7z" fill="#670900"/>
<path d="M185.5 128.1l2.3 0.4l-0.7 2.1l-2.2-0.5z" fill="#01ce15"/>
<path d="M234.7 145.2l2 3.2l-0.6-0.2l-2.1-3.2z" fill="#780a00"/>
<path d="M190.7 128.9l2.2 2.3l-0.9 1.5l-2.1-2.3z" fill="#00d41a"/>
<path d="M195.8 134.5l2 4l-0.8 1.1l-1.9-4z" fill="#00bb22"/>
<path d="M200.9 144.3l1.9 4.2l-0.7 1.7l-1.9-5z" fill="#00c088"/>
<path d="M166.7 149.5l2.2-2.9l-0.4 1.7l-2.2 2.8z" fill="#006606"/>
<path d="M171.7 141.7l2.2-2.3l-0.3 1.8l-2.2 2.3z" fill="#007207"/>
<path d="M176.7 135.1l2.3-1.6l-0.3 2.1l-2.3 1.5z" fill="#008409"/>
<path d="M225.9 135.5l2.3 2l-0.6-0.3l-2.2-2.2z" fill="#5c0800"/>
<path d="M181.9 130.2l2.2-0.5l-0.5 2.3l-2.2 0.4z" fill="#00ac0e"/>
<path d="M231.1 140.7l2.1 2.8l-0.6-0.2l-2.1-2.9z" fill="#700a00"/>
<path d="M187.1 128.3l2.2 0.9l-0.8 2.1l-2.2-1z" fill="#02e117"/>
<path d="M236.2 147.6l2 3.5l-0.6-0.3l-2-3.4z" fill="#790b00"/>
<path d="M192.2 130.6l2.1 2.9l-0.8 1.4l-2.1-2.9z" fill="#00cd18"/>
<path d="M197.3 137.7l2 4.4l-0.8 1.1l-1.9-4.5z" fill="#00b824"/>
<path d="M202.3 147.7l2.2 1.3l-0.9 2.6l-2.1-1.9z" fill="#0db9ff"/>
<path d="M168.2 147.3l2.2-2.8l-0.4 1.8l-2.2 2.7z" fill="#006906"/>
<path d="M173.2 139.8l2.2-2l-0.2 2l-2.3 2z" fill="#007707"/>
<path d="M178.3 133.7l2.2-1.2l-0.4 2.2l-2.2 1.2z" fill="#00940a"/>
<path d="M227.5 136.8l2.1 2.4l-0.5-0.3l-2.2-2.5z" fill="#620900"/>
<path d="M183.5 129.7l2.2-0.1l-0.6 2.3l-2.2 0z" fill="#00c30e"/>
<path d="M232.6 142.7l2.1 3l-0.7-0.1l-2-3.2z" fill="#760a00"/>
<path d="M188.7 128.9l2.1 1.6l-0.8 2l-2.2-1.6z" fill="#03e716"/>
<path d="M237.7 150.2l2.1 2.7l-0.8 0.7l-1.9-3.6z" fill="#8e0d00"/>
<path d="M193.8 132.8l2 3.4l-0.8 1.5l-2-3.5z" fill="#00ca17"/>
<path d="M198.9 141.3l1.8 4.8l-0.7 1l-1.9-4.8z" fill="#00b92a"/>
<path d="M203.5 149.3l2.3-2.3l-0.6 0.6l-1.9 4z" fill="#00035c"/>
<path d="M164.6 151.3l2.3-0.9l-0.5 2.1l-2.3 0.1z" fill="#009107"/>
<path d="M169.6 145.1l2.3-2.4l-0.3 1.8l-2.3 2.5z" fill="#007106"/>
<path d="M174.7 138.1l2.3-1.8l-0.3 2.2l-2.3 1.7z" fill="#008107"/>
<path d="M223.8 133.9l2.3 1.7l-0.5-0.3l-2.3-1.9z" fill="#5c0800"/>
<path d="M179.9 132.6l2.2-0.9l-0.5 2.4l-2.2 0.8z" fill="#00a30a"/>
<path d="M229.0 138.4l2.1 2.7l-0.6-0.2l-2.1-2.8z" fill="#6e0a00"/>
<path d="M185.1 129.5l2.1 0.3l-0.7 2.4l-2.2-0.5z" fill="#02df11"/>
<path d="M234.1 144.9l2.1 3.3l-0.7-0.2l-2-3.3z" fill="#7c0b00"/>
<path d="M190.2 130.1l2.2 2.2l-0.9 1.9l-2.2-2.3z" fill="#02e413"/>
<path d="M195.3 135.5l2 4l-0.8 1.3l-2-4z" fill="#00c014"/>
<path d="M200.4 145.2l1.9 4.9l-0.8 1.1l-1.8-5z" fill="#00bb3c"/>
<path d="M166.2 151.0l2.1-2.9l-0.3 1.8l-2.2 2.7z" fill="#006905"/>
<path d="M171.1 143.1l2.3-2.2l-0.3 2.1l-2.3 2.1z" fill="#007706"/>
<path d="M176.2 136.5l2.3-1.4l-0.4 2.3l-2.2 1.4z" fill="#008f07"/>
<path d="M225.4 135.0l2.2 2.1l-0.5-0.2l-2.2-2.3z" fill="#600900"/>
<path d="M181.4 131.7l2.2-0.5l-0.6 2.5l-2.1 0.4z" fill="#00b80a"/>
<path d="M230.6 140.3l2 2.9l-0.6-0.1l-2-3z" fill="#770b00"/>
<path d="M186.6 129.7l2.2 0.9l-0.8 2.3l-2.2-1z" fill="#09fd17"/>
<path d="M235.7 147.3l2 3.5l-0.7-0.1l-2-3.5z" fill="#820c00"/>
<path d="M191.7 131.8l2.1 2.8l-0.8 1.8l-2.1-2.9z" fill="#01db0f"/>
<path d="M196.8 138.6l2 4.5l-0.8 1.3l-1.9-4.4z" fill="#00c512"/>
<path d="M201.8 149.2l2.2 2.1l-0.8 1.3l-2.2-2z" fill="#00b9c8"/>
<path d="M167.6 148.7l2.2-2.6l-0.3 1.9l-2.2 2.6z" fill="#006f04"/>
<path d="M172.6 141.3l2.3-2l-0.3 2.3l-2.2 1.8z" fill="#008105"/>
<path d="M221.8 132.6l2.3 1.4l-0.5-0.3l-2.3-1.5z" fill="#5c0800"/>
<path d="M177.8 135.2l2.2-1.1l-0.4 2.5l-2.2 1z" fill="#009c07"/>
<path d="M227.0 136.4l2.1 2.5l-0.6-0.2l-2.1-2.6z" fill="#6b0a00"/>
<path d="M183.0 131.2l2.1-0.1l-0.6 2.5l-2.1 0z" fill="#01d10a"/>
<path d="M232.1 142.4l2 3.1l-0.6-0.1l-2-3.2z" fill="#7c0b00"/>
<path d="M188.1 130.3l2.2 1.6l-0.8 2.2l-2.2-1.6z" fill="#0aff15"/>
<path d="M237.2 149.9l2 3.6l-0.7 0.1l-1.9-3.8z" fill="#8c0d00"/>
<path d="M193.3 134.0l2 3.4l-0.8 1.7l-2.1-3.5z" fill="#00d50b"/>
<path d="M198.3 142.2l1.9 4.8l-0.7 1.3l-1.9-4.8z" fill="#00c30e"/>
<path d="M169.1 146.6l2.3-2.4l-0.3 2.1l-2.3 2.3z" fill="#007504"/>
<path d="M174.2 139.6l2.2-1.6l-0.3 2.3l-2.2 1.6z" fill="#009005"/>
<path d="M223.4 133.4l2.2 1.9l-0.6-0.2l-2.2-2z" fill="#5c0900"/>
<path d="M179.4 134.1l2.1-0.7l-0.5 2.5l-2.1 0.7z" fill="#00b306"/>
<path d="M228.5 138.1l2.1 2.7l-0.6-0.1l-2.1-2.8z" fill="#750b00"/>
<path d="M184.6 131.0l2.1 0.4l-0.7 2.6l-2.2-0.5z" fill="#05ed0d"/>
<path d="M233.6 144.6l2 3.4l-0.6-0.1l-2-3.3z" fill="#7c0c00"/>
<path d="M189.7 131.5l2.1 2.2l-0.8 2.1l-2.2-2.2z" fill="#05f30c"/>
<path d="M194.8 136.7l2 4l-0.8 1.5l-2-3.9z" fill="#00cb06"/>
<path d="M199.8 146.1l1.9 5l-0.7 1.1l-1.9-4.8z" fill="#00bd01"/>
<path d="M165.6 152.4l2.2-2.7l-0.3 2.1l-2.3 2z" fill="#006d03"/>
<path d="M170.6 144.7l2.3-2.1l-0.3 2.2l-2.3 2z" fill="#008104"/>
<path d="M219.7 131.7l2.4 0.9l-0.5-0.2l-2.4-1z" fill="#5c0900"/>
<path d="M175.7 138.1l2.3-1.3l-0.4 2.5l-2.2 1.3z" fill="#009c04"/>
<path d="M224.9 134.6l2.2 2.2l-0.6-0.1l-2.2-2.3z" fill="#6c0a00"/>
<path d="M180.9 133.3l2.2-0.4l-0.6 2.7l-2.1 0.3z" fill="#00c205"/>
<path d="M230.1 140.0l2 3l-0.6-0.1l-2.1-3z" fill="#7e0c00"/>
<path d="M186.1 131.3l2.1 0.9l-0.7 2.5l-2.2-1z" fill="#0fff14"/>
<path d="M235.2 147.1l1.9 3.5l-0.6 0l-2-3.5z" fill="#840c00"/>
<path d="M191.2 133.2l2.1 2.8l-0.8 2l-2.2-2.8z" fill="#02e505"/>
<path d="M196.3 139.9l1.9 4.4l-0.7 1.5l-2-4.4z" fill="#02c500"/>
<path d="M201.2 150.2l2.2 2.1l-0.7 0.6l-2.3-1.2z" fill="#60b000"/>
<path d="M167.1 150.3l2.2-2.6l-0.3 2.1l-2.2 2.5z" fill="#007503"/>
<path d="M172.1 142.9l2.3-1.9l-0.3 2.4l-2.3 1.8z" fill="#008903"/>
<path d="M221.3 132.1l2.3 1.6l-0.6-0.1l-2.3-1.6z" fill="#5f0900"/>
<path d="M177.3 136.9l2.2-1.1l-0.5 2.7l-2.1 0.9z" fill="#00a403"/>
<path d="M226.5 136.1l2.1 2.5l-0.6 0l-2.1-2.7z" fill="#770b00"/>
<path d="M182.5 132.9l2.1 0l-0.6 2.7l-2.2-0.1z" fill="#02dc05"/>
<path d="M231.6 142.1l2 3.2l-0.6 0.1l-2-3.3z" fill="#820c00"/>
<path d="M187.6 132.0l2.2 1.5l-0.9 2.4l-2.1-1.5z" fill="#0cff0e"/>
<path d="M236.7 149.7l1.9 3.9l-0.6 0l-2-3.9z" fill="#8d0d00"/>
<path d="M192.7 135.4l2.1 3.4l-0.8 1.8l-2.1-3.3z" fill="#03d900"/>
<path d="M197.8 143.4l1.9 4.8l-0.7 1.2l-1.9-4.5z" fill="#0fc200"/>
<path d="M163.7 152.7l2.3 0.5l-0.7 1.4l-2.3-0.6z" fill="#009e03"/>
<path d="M168.6 148.2l2.2-2.3l-0.2 2.3l-2.3 2.1z" fill="#007902"/>
<path d="M217.6 131.4l2.5 0.3l-0.5 0l-2.5-0.4z" fill="#5c0900"/>
<path d="M173.7 141.2l2.2-1.5l-0.3 2.6l-2.3 1.4z" fill="#009002"/>
<path d="M222.9 133.0l2.2 2l-0.6 0l-2.2-2z" fill="#6d0b00"/>
<path d="M178.9 135.9l2.1-0.7l-0.5 2.7l-2.1 0.6z" fill="#00b702"/>
<path d="M228.0 137.8l2.1 2.8l-0.6 0.1l-2.1-2.9z" fill="#800d00"/>
<path d="M184.0 132.8l2.1 0.4l-0.7 2.7l-2.1-0.5z" fill="#08f909"/>
<path d="M233.1 144.5l2 3.4l-0.6 0l-2-3.4z" fill="#890d00"/>
<path d="M189.2 133.1l2.1 2.2l-0.9 2.3l-2.1-2.1z" fill="#0bff08"/>
<path d="M194.3 138.1l2 4l-0.8 1.6l-2.1-3.9z" fill="#0ad000"/>
<path d="M199.3 147.3l1.9 4.8l-0.7 0.2l-1.9-3.8z" fill="#29a900"/>
<path d="M165.0 153.4l2.3-2l-0.4 2.5l-2.3 0.7z" fill="#008302"/>
<path d="M170.1 146.3l2.3-2l-0.3 2.4l-2.3 1.9z" fill="#008302"/>
<path d="M219.2 131.4l2.4 1l-0.5 0.1l-2.5-1.1z" fill="#5c0900"/>
<path d="M175.2 139.8l2.2-1.2l-0.4 2.7l-2.2 1.1z" fill="#009e01"/>
<path d="M224.4 134.3l2.2 2.3l-0.6 0.1l-2.2-2.4z" fill="#780c00"/>
<path d="M180.4 135.1l2.1-0.3l-0.6 2.8l-2.1 0.3z" fill="#01cd01"/>
<path d="M229.6 139.8l2 3.1l-0.7 0.1l-2-3.2z" fill="#830d00"/>
<path d="M185.6 133.0l2.1 1l-0.8 2.6l-2.1-0.9z" fill="#17ff14"/>
<path d="M234.6 147.0l2 3.6l-0.6 0.1l-2-3.6z" fill="#900e00"/>
<path d="M190.7 134.8l2.1 2.8l-0.9 2.1l-2.1-2.7z" fill="#0bec03"/>
<path d="M195.8 141.3l1.9 4.3l-0.7 1.4l-2-4.2z" fill="#15ca00"/>
<path d="M200.5 151.4l2.4 1.3l-0.5-0.4l-2.5-0.6z" fill="#485c00"/>
<path d="M166.5 151.9l2.3-2.4l-0.3 2.2l-2.2 2.3z" fill="#007a01"/>
<path d="M215.6 131.7l2.5-0.4l-0.5 0.2l-2.5 0.4z" fill="#5c0a00"/>
<path d="M171.6 144.6l2.3-1.7l-0.4 2.5l-2.2 1.6z" fill="#009101"/>
<path d="M220.8 131.9l2.3 1.6l-0.6 0.2l-2.3-1.7z" fill="#6c0b00"/>
<path d="M176.8 138.7l2.2-1l-0.5 2.8l-2.2 0.8z" fill="#01af00"/>
<path d="M226.0 135.9l2.1 2.6l-0.7 0.1l-2.1-2.7z" fill="#810d00"/>
<path d="M182.0 134.7l2.1 0.1l-0.7 2.8l-2.1-0.1z" fill="#05dd02"/>
<path d="M231.1 142.0l2 3.3l-0.7 0.1l-2-3.3z" fill="#8a0e00"/>
<path d="M187.1 133.8l2.1 1.5l-0.8 2.5l-2.1-1.5z" fill="#1fff16"/>
<path d="M236.2 149.7l1.9 3.8l-0.6 0.1l-2-3.8z" fill="#8f0e00"/>
<path d="M192.2 137.0l2.1 3.4l-0.9 1.8l-2.1-3.2z" fill="#10db01"/>
<path d="M197.3 144.8l1.9 4.5l-0.7 0.8l-2-4z" fill="#27be00"/>
<path d="M168.1 149.9l2.2-2.2l-0.3 2.4l-2.2 2.1z" fill="#008300"/>
<path d="M217.1 131.2l2.5 0.4l-0.5 0.4l-2.5-0.5z" fill="#5d0b00"/>
<path d="M173.2 143.0l2.2-1.4l-0.4 2.6l-2.2 1.4z" fill="#019900"/>
<path d="M222.4 132.8l2.2 2.1l-0.7 0.2l-2.2-2.1z" fill="#7e0e00"/>
<path d="M178.4 137.7l2.1-0.6l-0.6 2.8l-2.1 0.6z" fill="#03bf00"/>
<path d="M227.5 137.7l2.1 2.9l-0.7 0.2l-2.1-3z" fill="#8b0f00"/>
<path d="M183.5 134.7l2.1 0.4l-0.7 2.8l-2.1-0.4z" fill="#12ff0b"/>
<path d="M232.6 144.4l2 3.5l-0.7 0.1l-2-3.4z" fill="#930f00"/>
<path d="M188.6 134.9l2.2 2.1l-0.9 2.4l-2.1-2z" fill="#1aff0c"/>
<path d="M193.7 139.7l2 3.8l-0.8 1.5l-2-3.6z" fill="#19d100"/>
<path d="M198.7 148.4l2 3.8l-0.6-0.2l-2.1-2.7z" fill="#3e9400"/>
<path d="M164.6 154.0l2.3-0.7l-0.6 2.3l-2.3-0.4z" fill="#00a000"/>
<path d="M213.6 132.7l2.4-1.2l-0.5 0.5l-2.4 1.2z" fill="#5c0c00"/>
<path d="M169.6 148.0l2.2-1.9l-0.3 2.5l-2.2 1.8z" fill="#018b00"/>
<path d="M218.7 131.2l2.4 1.2l-0.6 0.4l-2.4-1.1z" fill="#760e00"/>
<path d="M174.8 141.7l2.1-1.2l-0.4 2.8l-2.2 1.1z" fill="#02a600"/>
<path d="M223.9 134.2l2.2 2.4l-0.7 0.3l-2.1-2.5z" fill="#870f00"/>
<path d="M179.9 137.1l2.1-0.3l-0.6 2.9l-2.1 0.2z" fill="#07d401"/>
<path d="M229.0 139.8l2.1 3.1l-0.7 0.2l-2-3.2z" fill="#8c0f00"/>
<path d="M185.1 135.0l2.1 0.9l-0.8 2.8l-2.1-1z" fill="#23ff16"/>
<path d="M234.1 147.0l2 3.6l-0.7 0.2l-1.9-3.6z" fill="#940f00"/>
<path d="M190.2 136.6l2.1 2.7l-0.9 2.1l-2.1-2.5z" fill="#19f204"/>
<path d="M195.2 142.7l2 4.1l-0.7 1.1l-2.1-3.7z" fill="#27c800"/>
<path d="M210.2 136.5l2.1-2.6l-0.5 0.7l-2.1 2.6z" fill="#5c1000"/>
<path d="M166.0 153.7l2.3-2.4l-0.3 2.4l-2.3 1.9z" fill="#017d00"/>
<path d="M215.1 131.7l2.5-0.3l-0.5 0.7l-2.5 0.2z" fill="#5c0c00"/>
<path d="M171.1 146.3l2.2-1.6l-0.3 2.7l-2.2 1.5z" fill="#029700"/>
<path d="M220.3 131.8l2.3 1.7l-0.7 0.5l-2.3-1.7z" fill="#830f00"/>
<path d="M176.3 140.6l2.1-0.9l-0.5 2.8l-2.1 0.8z" fill="#05b200"/>
<path d="M225.5 135.8l2.1 2.7l-0.7 0.3l-2.1-2.7z" fill="#8e1000"/>
<path d="M181.5 136.7l2 0.1l-0.6 2.9l-2.1-0.1z" fill="#0de603"/>
<path d="M230.6 142.0l2 3.3l-0.7 0.3l-2-3.3z" fill="#931000"/>
<path d="M186.6 135.7l2.1 1.4l-0.8 2.7l-2.1-1.4z" fill="#2aff17"/>
<path d="M235.6 149.7l2 3.8l-0.7 0.3l-1.9-3.8z" fill="#961000"/>
<path d="M191.7 138.7l2.1 3.2l-0.9 1.8l-2.1-2.9z" fill="#1ee001"/>
<path d="M196.7 146.0l2 4l-0.7 0.4l-2-3.3z" fill="#37ae00"/>
<path d="M206.7 142.6l2-3.8l-0.5 1l-2 3.8z" fill="#5c1800"/>
<path d="M211.6 134.5l2.3-1.9l-0.5 0.8l-2.2 1.9z" fill="#5c0f00"/>
<path d="M167.5 151.6l2.3-2l-0.3 2.4l-2.2 2z" fill="#028900"/>
<path d="M216.7 131.2l2.4 0.5l-0.6 0.8l-2.4-0.5z" fill="#7b1000"/>
<path d="M172.7 144.9l2.2-1.4l-0.4 2.8l-2.2 1.2z" fill="#04a000"/>
<path d="M221.9 132.9l2.2 2.1l-0.7 0.5l-2.2-2.2z" fill="#8e1100"/>
<path d="M177.9 139.7l2.1-0.6l-0.6 2.9l-2.1 0.5z" fill="#08c500"/>
<path d="M227.0 137.7l2.1 2.9l-0.7 0.4l-2.1-3z" fill="#951100"/>
<path d="M183.0 136.7l2.1 0.4l-0.7 2.9l-2.1-0.5z" fill="#1cff0d"/>
<path d="M232.1 144.5l2 3.5l-0.7 0.3l-2-3.5z" fill="#961000"/>
<path d="M188.1 136.8l2.2 2l-0.9 2.5l-2.2-1.9z" fill="#27ff0d"/>
<path d="M193.2 141.2l2 3.6l-0.8 1.5l-2-3.3z" fill="#28d400"/>
<path d="M198.2 149.1l2 2.8l-0.6-0.2l-2.2-2z" fill="#447f00"/>
<path d="M208.2 139.7l2.1-3.3l-0.5 1l-2.1 3.3z" fill="#5c1600"/>
<path d="M164.1 154.7l2.4 0.3l-0.7 1.5l-2.3-0.5z" fill="#02a200"/>
<path d="M213.0 133.0l2.5-1.1l-0.5 1l-2.4 1.1z" fill="#5d0f00"/>
<path d="M169.1 149.8l2.2-1.8l-0.3 2.6l-2.2 1.8z" fill="#038f00"/>
<path d="M218.3 131.4l2.3 1.1l-0.7 0.9l-2.3-1.2z" fill="#901300"/>
<path d="M174.2 143.6l2.2-1.1l-0.5 2.8l-2.1 1.1z" fill="#06ad00"/>
<path d="M223.4 134.3l2.2 2.4l-0.7 0.5l-2.2-2.5z" fill="#9a1300"/>
<path d="M179.4 139.1l2.1-0.3l-0.6 3l-2.1 0.2z" fill="#0cd401"/>
<path d="M228.5 139.8l2.1 3.2l-0.7 0.4l-2.1-3.2z" fill="#9a1200"/>
<path d="M184.5 137.0l2.1 0.9l-0.7 2.8l-2.1-0.9z" fill="#2eff18"/>
<path d="M233.6 147.1l2 3.6l-0.7 0.4l-2-3.7z" fill="#9c1100"/>
<path d="M189.6 138.4l2.2 2.6l-0.9 2.1l-2.2-2.3z" fill="#25f505"/>
<path d="M194.7 144.1l2 3.7l-0.8 1l-2-3.3z" fill="#36c400"/>
<path d="M209.6 137.2l2.2-2.6l-0.4 1.1l-2.2 2.5z" fill="#5c1500"/>
<path d="M165.5 155.2l2.3-2l-0.4 2.7l-2.3 0.6z" fill="#038700"/>
<path d="M214.6 132.0l2.4-0.3l-0.5 1.2l-2.4 0.2z" fill="#7f1500"/>
<path d="M170.6 148.2l2.2-1.5l-0.3 2.7l-2.2 1.4z" fill="#059500"/>
<path d="M219.8 132.0l2.3 1.7l-0.7 0.8l-2.3-1.7z" fill="#9b1500"/>
<path d="M175.8 142.5l2.1-0.8l-0.5 2.9l-2.1 0.8z" fill="#09b800"/>
<path d="M225.0 136.0l2.1 2.7l-0.8 0.5l-2-2.7z" fill="#9e1300"/>
<path d="M181.0 138.8l2 0.1l-0.6 2.9l-2.1-0.1z" fill="#15ec05"/>
<path d="M230.1 142.2l2 3.3l-0.7 0.5l-2-3.4z" fill="#991200"/>
<path d="M186.1 137.7l2.1 1.4l-0.8 2.7l-2.2-1.3z" fill="#36ff18"/>
<path d="M235.1 149.9l2 3.8l-0.7 0.4l-1.9-3.9z" fill="#991100"/>
<path d="M191.2 140.4l2.1 3l-0.9 1.8l-2.1-2.7z" fill="#2be402"/>
<path d="M196.2 147.0l2 3.3l-0.7 0.4l-2.1-2.7z" fill="#42a300"/>
<path d="M206.2 143.5l2-3.7l-0.5 1.2l-2 3.7z" fill="#5c1f00"/>
<path d="M211.0 135.1l2.3-1.8l-0.3 1.3l-2.3 1.8z" fill="#661600"/>
<path d="M167.0 153.5l2.3-2l-0.3 2.5l-2.3 2z" fill="#048600"/>
<path d="M216.2 131.6l2.4 0.5l-0.7 1.3l-2.3-0.6z" fill="#9a1900"/>
<path d="M172.2 146.8l2.1-1.3l-0.4 2.8l-2.1 1.2z" fill="#07a300"/>
<path d="M221.4 133.1l2.2 2.1l-0.8 0.8l-2.2-2.1z" fill="#a41600"/>
<path d="M177.4 141.7l2-0.5l-0.5 3l-2.1 0.4z" fill="#0cc400"/>
<path d="M226.5 137.9l2.1 3l-0.8 0.6l-2-3.1z" fill="#9f1400"/>
<path d="M182.5 138.8l2.1 0.4l-0.7 2.9l-2.1-0.4z" fill="#24ff0d"/>
<path d="M231.6 144.7l2 3.5l-0.7 0.5l-2-3.6z" fill="#9f1300"/>
<path d="M187.6 138.8l2.1 1.9l-0.8 2.4l-2.2-1.7z" fill="#31ff0d"/>
<path d="M192.7 142.8l2 3.3l-0.8 1.3l-2.1-2.9z" fill="#35d200"/>
<path d="M197.6 149.6l2.2 2l-0.6-0.1l-2.3-1.5z" fill="#467300"/>
<path d="M207.6 140.6l2.1-3.2l-0.4 1.3l-2.1 3.2z" fill="#5c1c00"/>
<path d="M212.5 133.5l2.4-0.9l-0.4 1.5l-2.4 0.9z" fill="#7c1900"/>
<path d="M168.6 151.7l2.2-1.7l-0.3 2.6l-2.3 1.7z" fill="#069600"/>
<path d="M217.8 131.8l2.3 1.2l-0.8 1.2l-2.2-1.2z" fill="#ab1b00"/>
<path d="M173.7 145.6l2.2-1l-0.5 2.8l-2.1 1z" fill="#0aaf00"/>
<path d="M222.9 134.6l2.2 2.4l-0.8 0.8l-2.1-2.5z" fill="#a91700"/>
<path d="M178.9 141.2l2.1-0.2l-0.6 2.9l-2.1 0.2z" fill="#12d901"/>
<path d="M228.0 140.1l2.1 3.2l-0.8 0.6l-2-3.3z" fill="#a21400"/>
<path d="M184.0 139.1l2.1 0.9l-0.8 2.8l-2-0.8z" fill="#35ff17"/>
<path d="M233.1 147.3l2 3.7l-0.7 0.5l-2-3.7z" fill="#a21300"/>
<path d="M189.1 140.3l2.2 2.4l-0.9 2.1l-2.2-2.1z" fill="#35ff08"/>
<path d="M194.2 145.3l2 3.3l-0.8 0.8l-2.1-2.7z" fill="#41be00"/>
<path d="M204.2 147.7l2-3.9l-0.6 1.1l-2 3.6z" fill="#5c2c00"/>
<path d="M209.0 138.1l2.3-2.5l-0.4 1.4l-2.2 2.5z" fill="#641c00"/>
<path d="M165.1 155.9l2.3-0.7l-0.7 2.4l-2.2-0.4z" fill="#06a700"/>
<path d="M214.1 132.6l2.4-0.2l-0.6 1.7l-2.3 0.1z" fill="#9a1f00"/>
<path d="M170.1 150.1l2.2-1.4l-0.4 2.7l-2.2 1.4z" fill="#089800"/>
<path d="M219.4 132.5l2.2 1.7l-0.8 1.1l-2.2-1.7z" fill="#b81d00"/>
<path d="M175.3 144.6l2.1-0.8l-0.5 3l-2.1 0.7z" fill="#0dbc00"/>
<path d="M224.5 136.3l2.1 2.8l-0.8 0.7l-2.1-2.7z" fill="#ac1800"/>
<path d="M180.4 140.9l2.1 0.1l-0.7 2.9l-2-0.1z" fill="#1ae904"/>
<path d="M229.5 142.5l2.1 3.3l-0.8 0.7l-2-3.5z" fill="#a41500"/>
<path d="M185.5 139.8l2.2 1.3l-0.9 2.6l-2.1-1.2z" fill="#41ff19"/>
<path d="M234.6 150.2l2 3.8l-0.7 0.5l-2-3.8z" fill="#a61400"/>
<path d="M190.6 142.1l2.2 2.8l-0.9 1.7l-2.2-2.4z" fill="#37e502"/>
<path d="M195.6 147.8l2.1 2.7l-0.7 0.4l-2.2-2.2z" fill="#4ea300"/>
<path d="M205.7 144.6l2-3.6l-0.5 1.3l-2 3.5z" fill="#5c2500"/>
<path d="M210.5 136.0l2.3-1.7l-0.3 1.7l-2.3 1.7z" fill="#741e00"/>
<path d="M166.5 155.5l2.2-2l-0.3 2.7l-2.2 1.4z" fill="#078b00"/>
<path d="M215.7 132.3l2.3 0.5l-0.7 1.6l-2.3-0.5z" fill="#ba2400"/>
<path d="M171.7 148.8l2.1-1.2l-0.4 2.8l-2.2 1.2z" fill="#0aa400"/>
<path d="M220.9 133.6l2.2 2.1l-0.8 1.1l-2.2-2.1z" fill="#ba1d00"/>
<path d="M176.8 143.8l2.1-0.5l-0.6 3l-2 0.4z" fill="#11c700"/>
<path d="M226.0 138.3l2.1 3l-0.8 0.8l-2.1-3z" fill="#af1800"/>
<path d="M182.0 140.9l2 0.4l-0.7 2.9l-2-0.4z" fill="#2aff0c"/>
<path d="M231.1 145.0l2 3.6l-0.8 0.6l-1.9-3.6z" fill="#a61500"/>
<path d="M187.1 140.8l2.1 1.7l-0.8 2.5l-2.2-1.6z" fill="#41ff12"/>
<path d="M192.1 144.3l2.1 2.9l-0.8 1.3l-2.1-2.5z" fill="#41d400"/>
<path d="M197.0 149.8l2.3 1.5l-0.6 0.1l-2.4-1.1z" fill="#476c00"/>
<path d="M207.1 141.8l2.1-3.1l-0.4 1.5l-2.1 3z" fill="#5e2200"/>
<path d="M163.1 156.3l2.3 0.5l-0.6 1.3l-2.4-0.5z" fill="#079f00"/>
<path d="M212.1 134.4l2.3-0.8l-0.5 1.9l-2.3 0.9z" fill="#8e2300"/>
<path d="M168.1 153.6l2.2-1.6l-0.4 2.7l-2.2 1.6z" fill="#099400"/>
<path d="M217.3 132.6l2.3 1.1l-0.8 1.5l-2.3-1.1z" fill="#c52500"/>
<path d="M173.2 147.6l2.1-1l-0.4 2.9l-2.2 1z" fill="#0eb300"/>
<path d="M222.4 135.1l2.2 2.5l-0.8 1l-2.2-2.4z" fill="#b91d00"/>
<path d="M178.4 143.3l2-0.2l-0.6 3l-2 0.1z" fill="#17d801"/>
<path d="M227.5 140.5l2.1 3.2l-0.8 0.8l-2-3.2z" fill="#ae1800"/>
<path d="M183.5 141.2l2.1 0.8l-0.8 2.8l-2.1-0.7z" fill="#3bff14"/>
<path d="M232.6 147.7l2 3.7l-0.8 0.7l-1.9-3.7z" fill="#a91600"/>
<path d="M188.6 142.2l2.1 2.1l-0.8 2.1l-2.2-1.8z" fill="#40ff08"/>
<path d="M193.6 146.5l2.1 2.7l-0.7 0.9l-2.2-2.3z" fill="#4dbf00"/>
<path d="M198.3 151.0l2.5 0.4l-0.5 0l-2.5-0.3z" fill="#515c00"/>
<path d="M203.7 148.5l2-3.6l-0.5 1.1l-2.1 3.1z" fill="#5c3200"/>
<path d="M208.5 139.3l2.2-2.4l-0.3 1.8l-2.2 2.3z" fill="#702400"/>
<path d="M164.6 156.6l2.3 0.4l-0.6 1.4l-2.4-0.5z" fill="#09a200"/>
<path d="M213.7 133.6l2.2-0.2l-0.6 2.1l-2.2 0.1z" fill="#af2900"/>
<path d="M169.6 152.1l2.2-1.4l-0.4 2.8l-2.2 1.4z" fill="#0b9f00"/>
<path d="M218.9 133.3l2.2 1.6l-0.8 1.5l-2.3-1.6z" fill="#ce2600"/>
<path d="M174.8 146.6l2.1-0.7l-0.6 3l-2.1 0.7z" fill="#12c000"/>
<path d="M224.0 136.9l2.1 2.7l-0.8 1.1l-2.1-2.8z" fill="#ba1d00"/>
<path d="M179.9 143.0l2.1 0.1l-0.7 3l-2-0.1z" fill="#21ec05"/>
<path d="M229.0 142.9l2.1 3.4l-0.8 0.8l-2-3.4z" fill="#b01800"/>
<path d="M185.0 141.8l2.1 1.2l-0.8 2.7l-2.1-1.1z" fill="#46ff16"/>
<path d="M234.1 150.6l2 3.8l-0.7 0.7l-2-3.9z" fill="#ab1600"/>
<path d="M190.1 143.8l2.1 2.4l-0.8 1.8l-2.2-2.1z" fill="#44eb03"/>
<path d="M195.1 148.5l2.2 2.2l-0.8 0.5l-2.2-1.7z" fill="#559f00"/>
<path d="M205.1 145.7l2.1-3.4l-0.5 1.5l-2.1 3z" fill="#5c2b00"/>
<path d="M210.0 137.2l2.3-1.6l-0.4 2.1l-2.3 1.5z" fill="#862800"/>
<path d="M166.0 157.1l2.3-1.6l-0.6 2.8l-2.2 0z" fill="#0a9b00"/>
<path d="M215.3 133.3l2.2 0.5l-0.7 2l-2.2-0.5z" fill="#cd2e01"/>
<path d="M171.2 150.8l2.1-1.2l-0.4 2.9l-2.2 1.1z" fill="#0eaa00"/>
<path d="M220.4 134.4l2.2 2.1l-0.9 1.4l-2.1-2.1z" fill="#ce2600"/>
<path d="M176.3 145.9l2.1-0.4l-0.6 2.9l-2.1 0.5z" fill="#16c900"/>
<path d="M225.5 138.9l2.1 3l-0.8 1l-2.1-3z" fill="#bb1d00"/>
<path d="M181.4 143.0l2.1 0.4l-0.7 2.9l-2.1-0.3z" fill="#30ff0b"/>
<path d="M230.5 145.5l2.1 3.6l-0.8 0.8l-2-3.6z" fill="#b31900"/>
<path d="M186.5 142.8l2.2 1.5l-0.9 2.5l-2.1-1.4z" fill="#4aff11"/>
<path d="M191.6 145.7l2.1 2.5l-0.8 1.3l-2.2-2.1z" fill="#4dd701"/>
<path d="M196.4 150.1l2.4 1.1l-0.6 0.4l-2.4-0.9z" fill="#4d6e00"/>
<path d="M206.5 143.1l2.2-3l-0.4 1.7l-2.2 2.8z" fill="#642900"/>
<path d="M211.6 135.7l2.2-0.8l-0.5 2.3l-2.2 0.7z" fill="#a22e00"/>
<path d="M167.5 155.6l2.2-1.6l-0.3 2.8l-2.2 1.5z" fill="#0c9b00"/>
<path d="M216.8 133.6l2.2 1l-0.8 1.9l-2.2-1z" fill="#e23302"/>
<path d="M172.7 149.7l2.1-1l-0.5 2.9l-2.1 0.9z" fill="#11b200"/>
<path d="M221.9 135.9l2.2 2.4l-0.9 1.4l-2.1-2.5z" fill="#c92400"/>
<path d="M177.9 145.4l2-0.2l-0.6 3l-2.1 0.2z" fill="#1dd801"/>
<path d="M227.0 141.1l2 3.3l-0.7 1l-2.1-3.3z" fill="#bb1d00"/>
<path d="M183.0 143.3l2.1 0.8l-0.8 2.7l-2.1-0.6z" fill="#3fff11"/>
<path d="M232.1 148.2l2 3.8l-0.8 0.8l-2-3.8z" fill="#ae1800"/>
<path d="M188.1 144.0l2.1 1.9l-0.9 2.1l-2.1-1.6z" fill="#4aff09"/>
<path d="M193.1 147.5l2.1 2.3l-0.7 1l-2.3-1.9z" fill="#56bf00"/>
<path d="M197.8 151.0l2.5 0.4l-0.5 0.3l-2.5-0.4z" fill="#525c00"/>
<path d="M203.1 149.1l2.1-3.1l-0.5 1.1l-2.1 2.7z" fill="#5c3800"/>
<path d="M207.9 140.6l2.3-2.2l-0.3 2.1l-2.3 2z" fill="#7c2e00"/>
<path d="M213.2 134.9l2.2-0.1l-0.6 2.3l-2.2 0.1z" fill="#c23400"/>
<path d="M169.1 154.1l2.2-1.3l-0.4 2.8l-2.2 1.3z" fill="#0e9e00"/>
<path d="M218.4 134.3l2.2 1.6l-0.9 1.8l-2.2-1.6z" fill="#e43202"/>
<path d="M174.3 148.7l2-0.6l-0.5 2.9l-2.1 0.7z" fill="#16c000"/>
<path d="M223.4 137.7l2.2 2.7l-0.9 1.3l-2.1-2.7z" fill="#c82300"/>
<path d="M179.4 145.2l2.1 0.1l-0.7 2.9l-2.1-0.1z" fill="#26ea04"/>
<path d="M228.5 143.6l2 3.4l-0.7 1l-2-3.4z" fill="#b81c00"/>
<path d="M184.5 143.9l2.1 1.1l-0.8 2.6l-2.1-1z" fill="#4dff15"/>
<path d="M233.6 151.1l2 3.9l-0.8 0.8l-1.9-3.9z" fill="#b31900"/>
<path d="M189.6 145.5l2.1 2l-0.8 1.8l-2.2-1.7z" fill="#4eeb03"/>
<path d="M194.5 149.2l2.3 1.7l-0.8 0.7l-2.2-1.3z" fill="#5ca000"/>
<path d="M199.3 151.5l2.5-0.9l-0.5 0.5l-2.5 0.5z" fill="#5c5500"/>
<path d="M204.5 146.8l2.1-3.1l-0.3 1.5l-2.2 2.7z" fill="#5c3000"/>
<path d="M209.5 138.6l2.2-1.4l-0.3 2.4l-2.3 1.3z" fill="#933200"/>
<path d="M165.6 157.7l2.3 0l-0.7 1.8l-2.3-0.5z" fill="#0da900"/>
<path d="M214.8 134.6l2.1 0.5l-0.7 2.3l-2.1-0.5z" fill="#e03b02"/>
<path d="M170.6 152.8l2.2-1.1l-0.5 2.9l-2.1 1.1z" fill="#11aa00"/>
<path d="M219.9 135.5l2.2 2l-0.9 1.7l-2.2-2z" fill="#de2f01"/>
<path d="M175.8 148.0l2.1-0.4l-0.6 2.9l-2.1 0.5z" fill="#1bcb00"/>
<path d="M225.0 139.7l2 3l-0.8 1.2l-2-2.9z" fill="#c92300"/>
<path d="M180.9 145.2l2.1 0.3l-0.7 2.9l-2.1-0.3z" fill="#34fc09"/>
<path d="M230.0 146.2l2 3.6l-0.7 0.9l-2-3.5z" fill="#b91c00"/>
<path d="M186.0 144.7l2.1 1.4l-0.8 2.4l-2.1-1.2z" fill="#53ff11"/>
<path d="M191.1 147.0l2.1 2.1l-0.8 1.5l-2.2-1.8z" fill="#57d801"/>
<path d="M195.9 150.4l2.4 0.9l-0.6 0.6l-2.4-0.7z" fill="#597a00"/>
<path d="M201.0 151.1l2.2-2.1l-0.4 0.8l-2.4 1.6z" fill="#5c4700"/>
<path d="M206.0 144.4l2.2-2.7l-0.3 1.9l-2.3 2.3z" fill="#6a3100"/>
<path d="M211.1 137.2l2.2-0.7l-0.5 2.5l-2.2 0.7z" fill="#af3800"/>
<path d="M167.0 157.8l2.2-1.7l-0.4 2.9l-2.2 0.5z" fill="#0e9e00"/>
<path d="M216.3 134.9l2.2 1l-0.8 2.2l-2.2-1z" fill="#f44106"/>
<path d="M172.2 151.7l2.1-0.9l-0.5 2.9l-2.1 0.9z" fill="#15b400"/>
<path d="M221.4 136.9l2.2 2.4l-0.9 1.6l-2.1-2.3z" fill="#d92c01"/>
<path d="M177.3 147.6l2.1-0.2l-0.6 2.9l-2.1 0.2z" fill="#21d601"/>
<path d="M226.5 142.0l2 3.2l-0.8 1.2l-2-3.2z" fill="#c32200"/>
<path d="M182.4 145.4l2.1 0.7l-0.7 2.7l-2.1-0.6z" fill="#41ff0d"/>
<path d="M231.5 148.9l2 3.8l-0.7 1l-2-3.8z" fill="#b91c00"/>
<path d="M187.5 145.8l2.2 1.6l-0.9 2.2l-2.1-1.4z" fill="#54ff09"/>
<path d="M192.5 148.6l2.2 1.8l-0.7 1.1l-2.3-1.4z" fill="#5ebd00"/>
<path d="M197.4 151.0l2.4 0.5l-0.6 0.6l-2.4-0.5z" fill="#5f6b00"/>
<path d="M202.5 149.7l2.2-2.6l-0.4 1.2l-2.3 2.2z" fill="#5c3c00"/>
<path d="M207.4 142.1l2.3-2.1l-0.3 2.4l-2.3 1.7z" fill="#7f3500"/>
<path d="M212.7 136.4l2.1-0.1l-0.6 2.6l-2.1 0.1z" fill="#d13f01"/>
<path d="M168.6 156.2l2.1-1.4l-0.4 2.9l-2.1 1.4z" fill="#11a200"/>
<path d="M217.8 135.6l2.2 1.5l-0.8 2.1l-2.2-1.4z" fill="#f53f06"/>
<path d="M173.7 150.8l2.1-0.6l-0.5 2.9l-2.1 0.7z" fill="#1ac100"/>
<path d="M222.9 138.7l2.2 2.7l-0.9 1.5l-2.1-2.6z" fill="#d32a00"/>
<path d="M178.9 147.3l2 0.1l-0.6 2.9l-2.1-0.1z" fill="#2ce904"/>
<path d="M228.0 144.4l2 3.4l-0.7 1.2l-2.1-3.4z" fill="#c12100"/>
<path d="M184.0 145.9l2.1 1l-0.8 2.5l-2.1-0.8z" fill="#4fff10"/>
<path d="M233.1 151.8l1.9 3.9l-0.7 1l-2-3.9z" fill="#b81c00"/>
<path d="M189.0 147.1l2.2 1.7l-0.8 1.8l-2.2-1.4z" fill="#57ea03"/>
<path d="M194.0 149.9l2.3 1.3l-0.8 1l-2.3-1.1z" fill="#65a500"/>
<path d="M198.8 151.5l2.5-0.5l-0.5 0.7l-2.5 0.3z" fill="#5c5700"/>
<path d="M204.0 147.8l2.1-2.7l-0.3 1.6l-2.3 2.3z" fill="#613700"/>
<path d="M209.0 140.2l2.2-1.3l-0.4 2.6l-2.2 1.2z" fill="#9c3b00"/>
<path d="M214.3 136.2l2.1 0.4l-0.7 2.6l-2.2-0.4z" fill="#ee4705"/>
<path d="M170.1 154.9l2.2-1.1l-0.5 2.9l-2.1 1.1z" fill="#14ab00"/>
<path d="M219.4 136.7l2.1 2l-0.8 2l-2.2-1.9z" fill="#ee3a04"/>
<path d="M175.3 150.2l2.1-0.5l-0.6 2.9l-2.1 0.5z" fill="#1fcb00"/>
<path d="M224.4 140.7l2.1 3l-0.8 1.5l-2.1-3z" fill="#ce2800"/>
<path d="M180.4 147.3l2.1 0.3l-0.7 2.8l-2.1-0.3z" fill="#37f607"/>
<path d="M229.5 147.0l2 3.6l-0.7 1.2l-2.1-3.6z" fill="#bf2000"/>
<path d="M185.5 146.6l2.1 1.2l-0.8 2.4l-2.1-1z" fill="#57ff0f"/>
<path d="M190.5 148.4l2.2 1.7l-0.8 1.5l-2.2-1.4z" fill="#5fd801"/>
<path d="M195.4 150.8l2.4 0.8l-0.7 0.9l-2.4-0.7z" fill="#668800"/>
<path d="M200.4 151.3l2.3-1.5l-0.4 1l-2.4 1.1z" fill="#5c4a00"/>
<path d="M205.4 145.6l2.2-2.3l-0.2 2.1l-2.3 1.9z" fill="#773c00"/>
<path d="M210.6 138.9l2.1-0.6l-0.5 2.7l-2.1 0.6z" fill="#b94100"/>
<path d="M166.5 158.9l2.3-0.6l-0.6 2.3l-2.3-0.4z" fill="#13b100"/>
<path d="M215.8 136.5l2.1 0.9l-0.7 2.5l-2.2-0.9z" fill="#ff520d"/>
<path d="M171.7 153.8l2.1-0.9l-0.5 2.9l-2.1 0.9z" fill="#18b500"/>
<path d="M220.9 138.2l2.1 2.3l-0.8 1.9l-2.2-2.3z" fill="#e43402"/>
<path d="M176.8 149.7l2.1-0.2l-0.6 2.9l-2.1 0.2z" fill="#26d601"/>
<path d="M226.0 143.0l2 3.2l-0.8 1.4l-2.1-3.2z" fill="#ce2700"/>
<path d="M181.9 147.5l2.1 0.6l-0.7 2.7l-2.1-0.5z" fill="#47ff0d"/>
<path d="M231.0 149.8l2 3.7l-0.7 1.2l-2-3.8z" fill="#bc2000"/>
<path d="M187.0 147.6l2.1 1.3l-0.8 2.2l-2.1-1.2z" fill="#5fff0b"/>
<path d="M192.0 149.6l2.2 1.5l-0.8 1.3l-2.2-1.2z" fill="#68c400"/>
<path d="M196.9 151.3l2.4 0.5l-0.6 0.8l-2.4-0.4z" fill="#717e00"/>
<path d="M201.9 150.3l2.3-2.1l-0.4 1.3l-2.3 1.7z" fill="#5c4000"/>
<path d="M206.9 143.6l2.3-1.8l-0.4 2.5l-2.2 1.5z" fill="#8a3f00"/>
<path d="M212.2 138.2l2.1-0.1l-0.6 2.8l-2.1 0z" fill="#d24601"/>
<path d="M168.0 158.4l2.2-1.4l-0.5 2.9l-2.1 0.7z" fill="#14a500"/>
<path d="M217.3 137.2l2.2 1.4l-0.8 2.4l-2.2-1.4z" fill="#ff510e"/>
<path d="M173.2 152.9l2.1-0.6l-0.5 2.9l-2.1 0.7z" fill="#1ec100"/>
<path d="M222.4 140.0l2.1 2.6l-0.8 1.8l-2.2-2.6z" fill="#e13201"/>
<path d="M178.3 149.4l2.1 0l-0.6 2.9l-2.1 0z" fill="#2fe203"/>
<path d="M227.5 145.4l2 3.4l-0.8 1.4l-2-3.4z" fill="#cb2600"/>
<path d="M183.4 147.9l2.1 0.8l-0.7 2.6l-2.1-0.7z" fill="#53ff0e"/>
<path d="M232.5 152.7l2 3.9l-0.7 1.1l-2-3.9z" fill="#bd2000"/>
<path d="M188.5 148.6l2.2 1.5l-0.8 1.9l-2.2-1.3z" fill="#61ee04"/>
<path d="M193.4 150.7l2.3 1l-0.7 1.2l-2.3-0.9z" fill="#6ca800"/>
<path d="M198.3 151.7l2.5-0.3l-0.6 1l-2.4 0.1z" fill="#6d6900"/>
<path d="M203.4 148.7l2.2-2.2l-0.3 1.8l-2.3 1.8z" fill="#6d4200"/>
<path d="M208.5 141.9l2.2-1.1l-0.5 2.7l-2.1 1z" fill="#a64500"/>
<path d="M213.7 138.0l2.1 0.4l-0.7 2.7l-2.1-0.4z" fill="#fc5509"/>
<path d="M169.6 157.0l2.1-1.1l-0.4 2.9l-2.1 1.2z" fill="#18ac00"/>
<path d="M218.9 138.3l2.1 1.8l-0.9 2.2l-2.1-1.7z" fill="#ff4708"/>
<path d="M174.7 152.3l2.1-0.5l-0.5 2.9l-2.1 0.5z" fill="#23c900"/>
<path d="M223.9 142.0l2.1 2.9l-0.8 1.7l-2.1-2.9z" fill="#db2f01"/>
<path d="M179.9 149.3l2 0.3l-0.6 2.8l-2.1-0.2z" fill="#3bef06"/>
<path d="M229.0 148.0l2 3.6l-0.8 1.3l-2-3.5z" fill="#c82500"/>
<path d="M184.9 148.5l2.2 1l-0.8 2.4l-2.1-0.9z" fill="#5dff0d"/>
<path d="M190.0 149.7l2.2 1.4l-0.8 1.6l-2.2-1.1z" fill="#68da01"/>
<path d="M194.9 151.4l2.3 0.6l-0.6 1.1l-2.4-0.5z" fill="#749700"/>
<path d="M199.8 151.6l2.4-1.1l-0.4 1.3l-2.5 0.7z" fill="#675500"/>
<path d="M204.8 146.9l2.3-2l-0.3 2.3l-2.3 1.5z" fill="#804500"/>
<path d="M210.1 140.8l2.1-0.6l-0.5 2.8l-2.1 0.5z" fill="#c24b00"/>
<path d="M166.1 159.6l2.3 0.5l-0.7 1.3l-2.3-0.5z" fill="#14a400"/>
<path d="M215.3 138.3l2.1 0.9l-0.8 2.6l-2.1-0.8z" fill="#ff6213"/>
<path d="M171.2 155.9l2.1-0.9l-0.5 3l-2.1 0.9z" fill="#1bb300"/>
<path d="M220.4 139.7l2.1 2.2l-0.9 2.1l-2.1-2.1z" fill="#f64005"/>
<path d="M176.3 151.8l2.1-0.2l-0.6 2.8l-2.1 0.3z" fill="#2ad201"/>
<path d="M225.4 144.2l2.1 3.1l-0.8 1.6l-2.1-3z" fill="#d72d00"/>
<path d="M181.4 149.5l2.1 0.5l-0.7 2.6l-2.1-0.3z" fill="#4aff0a"/>
<path d="M230.5 150.8l2 3.7l-0.8 1.3l-2-3.7z" fill="#c62500"/>
<path d="M186.4 149.3l2.2 1.1l-0.8 2.2l-2.1-1z" fill="#61fb08"/>
<path d="M191.5 150.7l2.2 1.2l-0.8 1.4l-2.2-0.9z" fill="#70c700"/>
<path d="M196.4 151.8l2.3 0.4l-0.6 1.2l-2.4-0.5z" fill="#7e8c00"/>
<path d="M201.3 150.9l2.4-1.6l-0.4 1.6l-2.4 1.1z" fill="#6e5000"/>
<path d="M206.4 145.1l2.2-1.4l-0.3 2.5l-2.3 1.2z" fill="#944900"/>
<path d="M211.7 140.1l2.1 0l-0.7 2.8l-2 0.1z" fill="#db5002"/>
<path d="M167.5 160.0l2.3-0.8l-0.6 2.5l-2.3-0.4z" fill="#19b100"/>
<path d="M216.8 138.9l2.1 1.4l-0.8 2.6l-2.1-1.3z" fill="#ff5f13"/>
<path d="M172.7 155.0l2.1-0.6l-0.6 2.9l-2 0.7z" fill="#21bd00"/>
<path d="M221.9 141.4l2.1 2.6l-0.8 2l-2.2-2.5z" fill="#e93902"/>
<path d="M177.8 151.5l2.1 0l-0.7 2.8l-2 0z" fill="#33df02"/>
<path d="M227.0 146.6l2 3.3l-0.8 1.6l-2.1-3.3z" fill="#d32c00"/>
<path d="M182.9 149.8l2.1 0.7l-0.7 2.6l-2.1-0.6z" fill="#54ff0a"/>
<path d="M232.0 153.7l2 3.9l-0.8 1.3l-1.9-3.9z" fill="#c42400"/>
<path d="M187.9 150.2l2.2 1.2l-0.8 1.9l-2.2-1z" fill="#65e603"/>
<path d="M192.9 151.5l2.3 0.9l-0.7 1.3l-2.3-0.7z" fill="#76b100"/>
<path d="M197.8 152.1l2.4 0l-0.5 1.2l-2.4-0.1z" fill="#817e00"/>
<path d="M202.8 149.7l2.3-1.8l-0.3 2l-2.3 1.3z" fill="#794e00"/>
<path d="M208.0 143.7l2.2-1l-0.5 2.9l-2.2 0.8z" fill="#ab4d00"/>
<path d="M213.2 140.0l2.1 0.4l-0.7 2.8l-2.1-0.4z" fill="#ff5e0a"/>
<path d="M169.1 159.2l2.1-1.2l-0.5 3l-2.1 0.7z" fill="#1bae00"/>
<path d="M218.3 140.0l2.2 1.8l-0.9 2.4l-2.1-1.7z" fill="#ff570f"/>
<path d="M174.2 154.4l2.1-0.5l-0.6 2.9l-2 0.5z" fill="#27c900"/>
<path d="M223.4 143.4l2.1 2.8l-0.8 1.9l-2.2-2.7z" fill="#e43602"/>
<path d="M179.3 151.4l2.1 0.2l-0.6 2.7l-2.1-0.1z" fill="#3de804"/>
<path d="M228.5 149.2l2 3.5l-0.8 1.5l-2-3.5z" fill="#cf2a00"/>
<path d="M184.4 150.3l2.1 0.9l-0.7 2.4l-2.2-0.7z" fill="#5cfc09"/>
<path d="M189.4 151.0l2.3 1.2l-0.8 1.7l-2.2-0.9z" fill="#6fda01"/>
<path d="M194.4 152.1l2.3 0.6l-0.7 1.3l-2.3-0.5z" fill="#80a300"/>
<path d="M199.3 152.1l2.4-0.7l-0.5 1.5l-2.4 0.4z" fill="#7c6a00"/>
<path d="M204.3 148.2l2.3-1.6l-0.3 2.4l-2.3 1.2z" fill="#8c5100"/>
<path d="M209.6 142.7l2.1-0.5l-0.6 3l-2.1 0.4z" fill="#c55200"/>
<path d="M214.8 140.2l2.1 0.9l-0.8 2.8l-2.1-0.8z" fill="#ff7018"/>
<path d="M170.6 158.1l2.1-1l-0.5 3l-2.1 0.9z" fill="#1fb300"/>
<path d="M219.9 141.4l2.1 2.1l-0.9 2.3l-2.1-2z" fill="#ff4c09"/>
<path d="M175.7 153.9l2.1-0.3l-0.6 2.8l-2.1 0.3z" fill="#2dcd01"/>
<path d="M224.9 145.6l2.1 3.1l-0.8 1.8l-2.1-3z" fill="#e03401"/>
<path d="M180.8 151.5l2.2 0.4l-0.7 2.6l-2.2-0.3z" fill="#48ee05"/>
<path d="M230.0 152.0l2 3.6l-0.8 1.5l-2-3.6z" fill="#cd2900"/>
<path d="M185.9 151.0l2.2 0.9l-0.8 2.2l-2.2-0.8z" fill="#65f407"/>
<path d="M190.9 151.8l2.3 1l-0.8 1.6l-2.2-0.8z" fill="#77c900"/>
<path d="M195.9 152.4l2.3 0.5l-0.6 1.3l-2.4-0.5z" fill="#8e9d00"/>
<path d="M200.8 151.6l2.4-1.1l-0.5 1.7l-2.3 0.8z" fill="#7f6000"/>
<path d="M205.9 146.7l2.2-1.2l-0.4 2.7l-2.2 0.9z" fill="#a15500"/>
<path d="M211.2 142.2l2-0.1l-0.6 3l-2.1 0z" fill="#e65c03"/>
<path d="M216.3 140.9l2.1 1.3l-0.8 2.7l-2.1-1.2z" fill="#ff6e19"/>
<path d="M172.2 157.2l2.1-0.7l-0.6 2.9l-2.1 0.7z" fill="#24bc00"/>
<path d="M221.4 143.1l2.1 2.4l-0.9 2.2l-2.1-2.4z" fill="#f44304"/>
<path d="M177.3 153.5l2.1 0l-0.7 2.8l-2.1 0.1z" fill="#37dc02"/>
<path d="M226.4 148.0l2.1 3.3l-0.8 1.7l-2.1-3.2z" fill="#db3101"/>
<path d="M182.4 151.7l2.1 0.6l-0.7 2.5l-2.2-0.4z" fill="#54f507"/>
<path d="M231.5 154.8l2 3.9l-0.8 1.4l-2-3.8z" fill="#cd2900"/>
<path d="M187.4 151.7l2.2 1l-0.8 2l-2.2-0.8z" fill="#6be603"/>
<path d="M192.4 152.5l2.3 0.7l-0.7 1.5l-2.3-0.6z" fill="#7fb900"/>
<path d="M197.4 152.7l2.3 0.1l-0.6 1.4l-2.4-0.2z" fill="#969300"/>
<path d="M202.3 150.7l2.3-1.3l-0.4 2.1l-2.3 0.9z" fill="#8d5f00"/>
<path d="M207.5 145.6l2.2-0.8l-0.6 2.8l-2.1 0.6z" fill="#b75800"/>
<path d="M212.7 142.0l2.1 0.4l-0.7 3l-2.1-0.4z" fill="#ff680c"/>
<path d="M168.5 161.0l2.3-0.7l-0.6 2.6l-2.3-0.5z" fill="#1eb100"/>
<path d="M217.8 141.9l2.1 1.7l-0.8 2.6l-2.1-1.6z" fill="#ff6716"/>
<path d="M173.7 156.4l2.1-0.4l-0.6 2.8l-2.1 0.5z" fill="#2ac400"/>
<path d="M222.9 145.0l2.1 2.7l-0.9 2.1l-2.1-2.6z" fill="#ef3f03"/>
<path d="M178.8 153.4l2.1 0.1l-0.7 2.7l-2.1 0z" fill="#40e203"/>
<path d="M228.0 150.5l2 3.5l-0.8 1.7l-2.1-3.4z" fill="#d52f00"/>
<path d="M183.9 152.1l2.1 0.7l-0.7 2.4l-2.2-0.6z" fill="#5df106"/>
<path d="M188.9 152.4l2.2 0.9l-0.7 1.8l-2.3-0.7z" fill="#74d801"/>
<path d="M193.9 152.9l2.3 0.6l-0.7 1.5l-2.3-0.5z" fill="#8aae00"/>
<path d="M198.8 152.7l2.4-0.3l-0.6 1.6l-2.3 0.1z" fill="#8d7b00"/>
<path d="M203.9 149.5l2.2-1.2l-0.4 2.4l-2.2 0.9z" fill="#9b5e00"/>
<path d="M209.1 144.7l2.1-0.4l-0.6 3l-2.1 0.3z" fill="#ce5c01"/>
<path d="M214.3 142.3l2 0.8l-0.7 3l-2.1-0.8z" fill="#ff7c1b"/>
<path d="M170.1 160.2l2.1-0.9l-0.5 3l-2.1 0.5z" fill="#23b900"/>
<path d="M219.3 143.3l2.2 2l-0.9 2.5l-2.1-2z" fill="#ff5b10"/>
<path d="M175.2 155.9l2.1-0.3l-0.6 2.8l-2.1 0.4z" fill="#31cb00"/>
<path d="M224.4 147.2l2.1 2.9l-0.9 2.1l-2.1-3z" fill="#e63a02"/>
<path d="M180.3 153.4l2.1 0.3l-0.7 2.6l-2.1-0.2z" fill="#4ceb05"/>
<path d="M229.5 153.3l2 3.6l-0.8 1.7l-2-3.7z" fill="#d02d00"/>
<path d="M185.4 152.6l2.1 0.8l-0.7 2.2l-2.2-0.6z" fill="#67ec05"/>
<path d="M190.4 153.0l2.2 0.8l-0.7 1.7l-2.2-0.6z" fill="#7dcb00"/>
<path d="M195.4 153.2l2.3 0.5l-0.7 1.5l-2.3-0.5z" fill="#9cad00"/>
<path d="M200.3 152.4l2.3-0.7l-0.5 1.9l-2.3 0.4z" fill="#957500"/>
<path d="M205.4 148.4l2.2-0.9l-0.5 2.6l-2.1 0.7z" fill="#ab5f00"/>
<path d="M210.7 144.3l2 0l-0.6 3l-2.1 0z" fill="#ea6404"/>
<path d="M215.8 143.0l2.1 1.2l-0.8 2.9l-2.1-1.2z" fill="#ff7f20"/>
<path d="M171.6 159.3l2.1-0.8l-0.5 3l-2.1 0.8z" fill="#28bd00"/>
<path d="M220.9 144.9l2.1 2.3l-0.9 2.4l-2.1-2.3z" fill="#ff4e08"/>
<path d="M176.7 155.6l2.1-0.1l-0.6 2.7l-2.1 0.2z" fill="#3ad801"/>
<path d="M225.9 149.5l2.1 3.2l-0.9 1.9l-2-3.1z" fill="#de3601"/>
<path d="M181.8 153.6l2.2 0.5l-0.7 2.4l-2.2-0.3z" fill="#56ec05"/>
<path d="M231.0 156.1l2 3.9l-0.8 1.6l-2-3.8z" fill="#cd2c00"/>
<path d="M186.9 153.2l2.2 0.8l-0.8 2.1l-2.2-0.7z" fill="#6fe203"/>
<path d="M191.9 153.5l2.2 0.6l-0.7 1.7l-2.2-0.5z" fill="#86bd00"/>
<path d="M196.9 153.5l2.3 0.2l-0.7 1.6l-2.3-0.3z" fill="#a7a500"/>
<path d="M201.8 151.8l2.3-0.9l-0.5 2.1l-2.2 0.6z" fill="#9b6d00"/>
<path d="M207.0 147.4l2.1-0.6l-0.5 2.9l-2.1 0.4z" fill="#bf6200"/>
<path d="M212.2 144.2l2.1 0.4l-0.7 3.1l-2.1-0.5z" fill="#ff710d"/>
<path d="M168.0 161.8l2.4 0.5l-0.7 1.3l-2.3-0.5z" fill="#1e9e00"/>
<path d="M217.3 143.9l2.1 1.6l-0.8 2.8l-2.1-1.5z" fill="#ff741b"/>
<path d="M173.2 158.5l2.1-0.5l-0.6 2.9l-2.1 0.6z" fill="#2ec600"/>
<path d="M222.4 146.8l2.1 2.6l-0.9 2.3l-2.1-2.6z" fill="#f94705"/>
<path d="M178.3 155.4l2.1 0l-0.7 2.7l-2.1 0z" fill="#42db02"/>
<path d="M227.4 152.0l2.1 3.5l-0.8 1.8l-2.1-3.4z" fill="#da3401"/>
<path d="M183.3 153.9l2.2 0.6l-0.7 2.3l-2.2-0.4z" fill="#62ef06"/>
<path d="M188.4 153.8l2.2 0.7l-0.8 1.9l-2.2-0.6z" fill="#79d901"/>
<path d="M193.4 153.9l2.2 0.5l-0.6 1.6l-2.3-0.4z" fill="#93b700"/>
<path d="M198.3 153.6l2.4-0.2l-0.6 1.8l-2.3 0z" fill="#9f8d00"/>
<path d="M203.4 150.9l2.2-0.9l-0.5 2.5l-2.2 0.6z" fill="#a66a00"/>
<path d="M208.6 146.8l2.1-0.3l-0.6 3l-2.1 0.1z" fill="#d56601"/>
<path d="M213.7 144.5l2.1 0.8l-0.8 3l-2-0.8z" fill="#ff811a"/>
<path d="M169.5 162.1l2.3-0.6l-0.7 2.5l-2.2-0.5z" fill="#25b300"/>
<path d="M218.8 145.3l2.1 1.9l-0.8 2.7l-2.2-1.9z" fill="#ff6512"/>
<path d="M174.7 158.0l2.1-0.4l-0.6 2.8l-2.1 0.4z" fill="#35ca00"/>
<path d="M223.9 148.9l2.1 2.9l-0.9 2.2l-2.1-2.9z" fill="#ec4003"/>
<path d="M179.8 155.3l2.1 0.3l-0.7 2.6l-2.1-0.2z" fill="#4ee403"/>
<path d="M229.0 154.7l2 3.6l-0.8 1.8l-2.1-3.5z" fill="#d73200"/>
<path d="M184.8 154.3l2.2 0.6l-0.7 2.3l-2.2-0.6z" fill="#68e403"/>
<path d="M189.9 154.3l2.2 0.6l-0.7 1.8l-2.3-0.5z" fill="#82cd01"/>
<path d="M194.9 154.2l2.3 0.4l-0.7 1.7l-2.3-0.5z" fill="#a8b900"/>
<path d="M199.8 153.4l2.3-0.5l-0.5 2l-2.3 0.2z" fill="#a48300"/>
<path d="M205.0 150.0l2.1-0.6l-0.5 2.6l-2.2 0.5z" fill="#b96c00"/>
<path d="M210.1 146.4l2.1 0.1l-0.7 3.1l-2-0.2z" fill="#ef6e05"/>
<path d="M215.3 145.1l2 1.2l-0.8 3l-2-1.2z" fill="#ff8721"/>
<path d="M171.1 161.5l2.1-0.8l-0.5 3l-2.2 0.2z" fill="#2cc000"/>
<path d="M220.3 146.8l2.2 2.3l-0.9 2.6l-2.2-2.3z" fill="#ff590c"/>
<path d="M176.2 157.6l2.1-0.2l-0.6 2.8l-2.1 0.2z" fill="#3cd001"/>
<path d="M225.4 151.2l2.1 3.1l-0.9 2.1l-2.1-3.1z" fill="#e73d02"/>
<path d="M181.3 155.4l2.1 0.4l-0.7 2.5l-2.1-0.3z" fill="#58e604"/>
<path d="M230.5 157.6l2 3.8l-0.8 1.8l-2.1-3.9z" fill="#d43000"/>
<path d="M186.3 154.7l2.2 0.7l-0.7 2.1l-2.2-0.5z" fill="#74e103"/>
<path d="M191.4 154.7l2.2 0.5l-0.7 1.8l-2.2-0.5z" fill="#8cc200"/>
<path d="M196.4 154.4l2.2 0.3l-0.6 1.7l-2.3-0.3z" fill="#b7b600"/>
<path d="M201.4 152.9l2.2-0.5l-0.5 2.2l-2.3 0.3z" fill="#a77900"/>
<path d="M206.5 149.3l2.1-0.4l-0.6 2.8l-2.1 0.3z" fill="#c96d00"/>
<path d="M211.7 146.4l2 0.5l-0.7 3l-2-0.4z" fill="#ff7d10"/>
<path d="M216.8 146.1l2.1 1.5l-0.9 2.9l-2.1-1.5z" fill="#ff7e1d"/>
<path d="M172.6 160.6l2.1-0.5l-0.5 2.9l-2.1 0.7z" fill="#31c000"/>
<path d="M221.9 148.7l2.1 2.5l-0.9 2.5l-2.1-2.5z" fill="#fd4e07"/>
<path d="M177.7 157.3l2.1 0l-0.6 2.7l-2.1 0.1z" fill="#46d801"/>
<path d="M226.9 153.7l2.1 3.3l-0.9 2l-2.1-3.3z" fill="#e33a01"/>
<path d="M182.8 155.7l2.2 0.4l-0.8 2.4l-2.1-0.4z" fill="#63e704"/>
<path d="M187.8 155.2l2.2 0.6l-0.7 2l-2.2-0.5z" fill="#7dd701"/>
<path d="M192.9 155.0l2.2 0.4l-0.7 1.8l-2.2-0.4z" fill="#9cbf00"/>
<path d="M197.9 154.5l2.2 0.1l-0.6 1.9l-2.3-0.2z" fill="#b4a300"/>
<path d="M202.9 152.3l2.2-0.5l-0.5 2.4l-2.2 0.4z" fill="#b47700"/>
<path d="M208.1 148.8l2.1-0.1l-0.7 2.9l-2 0.1z" fill="#da6e02"/>
<path d="M213.2 146.7l2.1 0.8l-0.8 3.1l-2-0.8z" fill="#ff8b1c"/>
<path d="M218.3 147.4l2.1 1.8l-0.9 2.8l-2.1-1.8z" fill="#ff6f16"/>
<path d="M174.2 160.0l2.1-0.4l-0.6 2.9l-2.1 0.5z" fill="#39cb00"/>
<path d="M223.4 150.7l2.1 2.8l-0.9 2.4l-2.1-2.8z" fill="#f44804"/>
<path d="M179.3 157.2l2.1 0.2l-0.7 2.6l-2.1-0.1z" fill="#4fdb02"/>
<path d="M228.4 156.3l2.1 3.6l-0.9 1.9l-2-3.5z" fill="#dd3701"/>
<path d="M184.3 155.9l2.2 0.5l-0.7 2.3l-2.2-0.4z" fill="#6ee503"/>
<path d="M189.3 155.6l2.3 0.5l-0.8 2l-2.2-0.5z" fill="#8ad301"/>
<path d="M194.4 155.2l2.2 0.5l-0.7 1.8l-2.2-0.5z" fill="#b1c300"/>
<path d="M199.4 154.5l2.2-0.2l-0.6 2l-2.2 0.1z" fill="#b39300"/>
<path d="M204.5 151.7l2.1-0.4l-0.6 2.6l-2.1 0.3z" fill="#c27600"/>
<path d="M209.6 148.6l2.1 0.1l-0.7 3.1l-2-0.2z" fill="#f67707"/>
<path d="M214.7 147.4l2.1 1.1l-0.8 3.1l-2.1-1.2z" fill="#ff9123"/>
<path d="M170.5 163.2l2.3-0.2l-0.6 2.1l-2.3-0.5z" fill="#2aac00"/>
<path d="M219.8 148.9l2.1 2.2l-0.8 2.7l-2.2-2.2z" fill="#ff5f0d"/>
<path d="M175.7 159.6l2.1-0.2l-0.6 2.7l-2.1 0.3z" fill="#40cf01"/>
<path d="M224.9 153.0l2.1 3l-0.9 2.3l-2.1-3z" fill="#ec4202"/>
<path d="M180.8 157.3l2.1 0.2l-0.7 2.5l-2.1-0.1z" fill="#5adf02"/>
<path d="M230.0 159.1l2 3.9l-0.9 1.9l-2-3.9z" fill="#d83500"/>
<path d="M185.8 156.3l2.2 0.5l-0.7 2.2l-2.2-0.5z" fill="#76dd02"/>
<path d="M190.8 155.9l2.3 0.5l-0.7 1.9l-2.3-0.4z" fill="#98ce01"/>
<path d="M195.9 155.5l2.2 0.3l-0.7 1.9l-2.2-0.4z" fill="#c0c000"/>
<path d="M200.9 154.2l2.2-0.3l-0.6 2.2l-2.2 0.2z" fill="#b68800"/>
<path d="M206.0 151.2l2.1-0.3l-0.6 2.9l-2.1 0.1z" fill="#d27701"/>
<path d="M211.2 148.6l2 0.5l-0.7 3.1l-2.1-0.5z" fill="#ff8210"/>
<path d="M216.3 148.3l2.1 1.5l-0.9 3l-2.1-1.5z" fill="#ff8a21"/>
<path d="M172.1 162.9l2.1-0.7l-0.6 3l-2.1-0.2z" fill="#35c500"/>
<path d="M221.3 150.7l2.2 2.5l-0.9 2.5l-2.2-2.4z" fill="#ff580a"/>
<path d="M177.2 159.3l2.1-0.1l-0.6 2.7l-2.1 0.2z" fill="#49d601"/>
<path d="M226.4 155.4l2.1 3.3l-0.9 2.2l-2.1-3.3z" fill="#ea4002"/>
<path d="M182.3 157.4l2.1 0.3l-0.7 2.4l-2.1-0.2z" fill="#65e103"/>
<path d="M187.3 156.6l2.2 0.5l-0.7 2.1l-2.2-0.4z" fill="#80d501"/>
<path d="M192.3 156.2l2.3 0.4l-0.7 1.9l-2.2-0.4z" fill="#a3c600"/>
<path d="M197.4 155.7l2.2 0.1l-0.6 2l-2.3-0.3z" fill="#bfaf00"/>
<path d="M202.4 153.8l2.2-0.3l-0.6 2.5l-2.2 0.1z" fill="#bd8200"/>
<path d="M207.6 150.9l2-0.1l-0.6 3l-2.1-0.1z" fill="#e47903"/>
<path d="M212.7 149.0l2 0.8l-0.7 3.1l-2.1-0.8z" fill="#ff921d"/>
<path d="M217.8 149.6l2.1 1.8l-0.9 2.8l-2.1-1.7z" fill="#ff7b1a"/>
<path d="M173.6 162.1l2.1-0.4l-0.5 2.9l-2.1 0.5z" fill="#3dcc00"/>
<path d="M222.8 152.7l2.2 2.7l-0.9 2.5l-2.2-2.7z" fill="#ff5208"/>
<path d="M178.7 159.1l2.1 0.1l-0.6 2.6l-2.1 0z" fill="#52d801"/>
<path d="M227.9 158.0l2.1 3.5l-0.9 2.1l-2.1-3.4z" fill="#e33c01"/>
<path d="M183.8 157.6l2.1 0.4l-0.7 2.3l-2.1-0.3z" fill="#6fdf02"/>
<path d="M188.8 156.9l2.2 0.5l-0.7 2l-2.2-0.4z" fill="#8dd301"/>
<path d="M193.9 156.4l2.2 0.5l-0.7 1.9l-2.2-0.5z" fill="#b7c900"/>
<path d="M198.9 155.7l2.2 0l-0.6 2.1l-2.2-0.1z" fill="#be9f00"/>
<path d="M204.0 153.4l2.1-0.2l-0.6 2.6l-2.1 0.1z" fill="#cd8201"/>
<path d="M209.1 150.7l2.1 0.3l-0.7 3l-2.1-0.3z" fill="#fd8209"/>
<path d="M214.2 149.7l2.1 1.1l-0.8 3.1l-2.1-1.2z" fill="#ff9723"/>
<path d="M219.3 151.0l2.1 2.2l-0.9 2.7l-2.1-2z" fill="#ff6e13"/>
<path d="M175.2 161.6l2-0.3l-0.5 2.9l-2.1 0.4z" fill="#42cb00"/>
<path d="M224.4 154.9l2.1 3l-0.9 2.3l-2.1-2.9z" fill="#f34904"/>
<path d="M180.2 159.1l2.2 0.2l-0.7 2.5l-2.1-0.1z" fill="#5ddc02"/>
<path d="M229.4 160.8l2.1 3.9l-0.9 1.8l-2-3.6z" fill="#db3801"/>
<path d="M185.3 157.8l2.2 0.5l-0.7 2.2l-2.2-0.3z" fill="#79da02"/>
<path d="M190.3 157.2l2.2 0.4l-0.7 2.1l-2.2-0.4z" fill="#9acf01"/>
<path d="M195.4 156.7l2.2 0.3l-0.7 2l-2.2-0.4z" fill="#c9ca00"/>
<path d="M200.4 155.6l2.2-0.2l-0.6 2.3l-2.2 0z" fill="#c29500"/>
<path d="M205.5 153.1l2.1-0.1l-0.6 2.8l-2.1-0.1z" fill="#d87f01"/>
<path d="M210.6 150.9l2.1 0.5l-0.7 3.1l-2.1-0.6z" fill="#ff8f14"/>
<path d="M215.7 150.6l2.1 1.5l-0.8 3l-2.1-1.5z" fill="#ff9122"/>
<path d="M171.5 164.3l2.3 0.2l-0.6 1.7l-2.3-0.6z" fill="#30a600"/>
<path d="M220.8 152.8l2.1 2.4l-0.9 2.7l-2.1-2.4z" fill="#ff5d0a"/>
<path d="M176.7 161.3l2.1-0.2l-0.6 2.8l-2.1 0.2z" fill="#4cd101"/>
<path d="M225.9 157.3l2.1 3.2l-0.9 2.3l-2.1-3.2z" fill="#ed4503"/>
<path d="M181.7 159.1l2.2 0.3l-0.7 2.4l-2.1-0.1z" fill="#6ae103"/>
<path d="M186.8 158.1l2.2 0.4l-0.7 2.2l-2.2-0.4z" fill="#85d801"/>
<path d="M191.8 157.4l2.2 0.5l-0.7 2l-2.2-0.4z" fill="#acd001"/>
<path d="M196.9 156.9l2.2 0.2l-0.7 2.1l-2.2-0.3z" fill="#c7b800"/>
<path d="M201.9 155.3l2.2-0.1l-0.6 2.5l-2.2-0.1z" fill="#c78d00"/>
<path d="M207.1 152.9l2 0.1l-0.6 2.9l-2.1-0.2z" fill="#ee8505"/>
<path d="M212.2 151.3l2 0.8l-0.7 3.1l-2.1-0.9z" fill="#ff991e"/>
<path d="M217.3 151.8l2.1 1.8l-0.9 2.9l-2.1-1.7z" fill="#ff851d"/>
<path d="M173.0 164.4l2.2-0.6l-0.6 2.7l-2.2-0.5z" fill="#3cbf00"/>
<path d="M222.3 154.7l2.1 2.7l-0.9 2.6l-2.1-2.6z" fill="#ff5809"/>
<path d="M178.2 161.0l2.1 0l-0.6 2.7l-2.1 0.1z" fill="#56d701"/>
<path d="M227.4 159.9l2.1 3.4l-0.9 2.3l-2.1-3.5z" fill="#e54001"/>
<path d="M183.3 159.3l2.1 0.3l-0.7 2.4l-2.1-0.3z" fill="#72dc02"/>
<path d="M188.3 158.3l2.2 0.5l-0.7 2.1l-2.2-0.4z" fill="#90d301"/>
<path d="M193.3 157.7l2.3 0.4l-0.7 2.1l-2.3-0.5z" fill="#bed101"/>
<path d="M198.4 157.0l2.2 0.1l-0.7 2.2l-2.2-0.3z" fill="#c7aa00"/>
<path d="M203.5 155.1l2.1-0.1l-0.6 2.7l-2.2-0.1z" fill="#d68d01"/>
<path d="M208.6 152.9l2.1 0.3l-0.7 3l-2.1-0.4z" fill="#ff8a0b"/>
<path d="M213.7 152.0l2.1 1.1l-0.8 3.1l-2.1-1.2z" fill="#ff9b22"/>
<path d="M218.8 153.3l2.1 2l-0.9 2.9l-2.1-2.1z" fill="#ff7313"/>
<path d="M174.6 163.7l2.1-0.4l-0.6 3l-2.1 0.1z" fill="#49d301"/>
<path d="M223.8 156.9l2.2 2.9l-1 2.5l-2.1-2.9z" fill="#f95005"/>
<path d="M179.7 160.9l2.1 0.1l-0.6 2.6l-2.1 0z" fill="#61db02"/>
<path d="M228.9 162.6l2 3.7l-0.8 1.3l-2.1-2.6z" fill="#da3b01"/>
<path d="M184.8 159.4l2.1 0.4l-0.7 2.3l-2.1-0.3z" fill="#7fde02"/>
<path d="M189.8 158.6l2.2 0.4l-0.7 2.1l-2.2-0.4z" fill="#a0d301"/>
<path d="M194.9 157.9l2.2 0.5l-0.7 2l-2.2-0.4z" fill="#cfd201"/>
<path d="M199.9 157.0l2.2 0l-0.7 2.3l-2.2-0.1z" fill="#cca000"/>
<path d="M205.0 154.9l2.1 0.1l-0.7 2.8l-2.1-0.2z" fill="#e58d03"/>
<path d="M210.1 153.1l2.1 0.6l-0.8 3.1l-2-0.7z" fill="#ff9816"/>
<path d="M215.2 152.9l2.1 1.4l-0.8 3.1l-2.1-1.5z" fill="#ff9823"/>
<path d="M220.3 155.0l2.1 2.3l-0.9 2.7l-2.1-2.2z" fill="#ff6a10"/>
<path d="M176.2 163.3l2-0.3l-0.6 2.9l-2 0.4z" fill="#50d301"/>
<path d="M225.4 159.3l2.1 3.1l-0.9 2.4l-2.1-3.1z" fill="#f04a03"/>
<path d="M181.2 160.9l2.2 0.2l-0.7 2.5l-2.1-0.1z" fill="#6adb02"/>
<path d="M186.3 159.6l2.1 0.4l-0.6 2.3l-2.2-0.4z" fill="#88d701"/>
<path d="M191.3 158.8l2.2 0.4l-0.7 2.2l-2.2-0.5z" fill="#b2d501"/>
<path d="M196.4 158.2l2.2 0.3l-0.7 2.1l-2.2-0.3z" fill="#d1c401"/>
<path d="M201.4 156.9l2.2 0l-0.7 2.5l-2.1-0.2z" fill="#d39901"/>
<path d="M206.5 154.9l2.1 0.2l-0.7 2.9l-2.1-0.3z" fill="#f58f07"/>
<path d="M211.6 153.6l2.1 0.8l-0.8 3.1l-2-0.9z" fill="#ffa21f"/>
<path d="M216.7 154.1l2.1 1.7l-0.8 3l-2.1-1.7z" fill="#ff8a1d"/>
<path d="M172.5 165.4l2.4 0.5l-0.7 1.4l-2.3-0.6z" fill="#35a100"/>
<path d="M221.8 156.9l2.1 2.6l-0.9 2.6l-2.1-2.5z" fill="#ff5e0a"/>
<path d="M177.7 163.0l2.1-0.1l-0.6 2.8l-2.1 0.2z" fill="#5ad701"/>
<path d="M226.9 161.8l2 3.5l-0.8 2.3l-2.1-3.5z" fill="#e84502"/>
<path d="M182.7 161.0l2.2 0.2l-0.7 2.5l-2.1-0.2z" fill="#76dc02"/>
<path d="M187.8 159.8l2.2 0.4l-0.7 2.2l-2.2-0.3z" fill="#97d801"/>
<path d="M192.8 159.0l2.2 0.5l-0.7 2.1l-2.2-0.4z" fill="#c4d701"/>
<path d="M197.9 158.3l2.2 0.3l-0.7 2.2l-2.2-0.3z" fill="#d1b501"/>
<path d="M203.0 156.8l2.1 0.1l-0.7 2.6l-2.1-0.2z" fill="#db9402"/>
<path d="M208.1 155.0l2 0.4l-0.7 3l-2-0.5z" fill="#ff950d"/>
<path d="M213.2 154.3l2 1.1l-0.8 3.1l-2-1.2z" fill="#ffa223"/>
<path d="M218.2 155.5l2.2 2l-0.9 2.9l-2.1-1.9z" fill="#ff8019"/>
<path d="M223.3 159.0l2.1 2.9l-0.9 2.5l-2.1-2.8z" fill="#fd5606"/>
<path d="M179.2 162.8l2.1 0l-0.6 2.7l-2.1 0.1z" fill="#63d801"/>
<path d="M228.3 164.6l2.2 2.6l-0.8 1.2l-2.2-1.2z" fill="#e54302"/>
<path d="M184.2 161.1l2.2 0.3l-0.7 2.4l-2.1-0.3z" fill="#81db02"/>
<path d="M189.3 160.0l2.2 0.4l-0.7 2.2l-2.2-0.3z" fill="#a6d801"/>
<path d="M194.3 159.3l2.2 0.4l-0.7 2.2l-2.2-0.4z" fill="#d0d401"/>
<path d="M199.4 158.4l2.2 0.2l-0.7 2.4l-2.2-0.3z" fill="#d5ab01"/>
<path d="M204.5 156.8l2.1 0.2l-0.7 2.8l-2.1-0.4z" fill="#ee9805"/>
<path d="M209.6 155.3l2.1 0.7l-0.8 3l-2-0.7z" fill="#ffa017"/>
<path d="M214.7 155.2l2.1 1.4l-0.9 3.1l-2-1.5z" fill="#ff9920"/>
<path d="M219.8 157.2l2.1 2.3l-0.9 2.8l-2.1-2.3z" fill="#ff6e10"/>
<path d="M175.6 165.5l2.1-0.4l-0.6 2.8l-2.2-0.4z" fill="#52ce01"/>
<path d="M224.8 161.3l2.1 3.1l-0.9 2.6l-2.1-3.2z" fill="#f65004"/>
<path d="M180.7 162.7l2.1 0.1l-0.6 2.6l-2.1 0z" fill="#6edb02"/>
<path d="M185.8 161.2l2.1 0.3l-0.7 2.4l-2.1-0.3z" fill="#8fdd02"/>
<path d="M190.8 160.2l2.2 0.5l-0.7 2.2l-2.2-0.4z" fill="#b7da02"/>
<path d="M195.9 159.6l2.1 0.3l-0.7 2.3l-2.1-0.5z" fill="#d9cd02"/>
<path d="M200.9 158.5l2.2 0.2l-0.7 2.5l-2.2-0.3z" fill="#dea602"/>
<path d="M206.0 156.9l2.1 0.3l-0.7 2.9l-2.1-0.5z" fill="#fc9909"/>
<path d="M211.1 155.8l2.1 0.9l-0.8 3.1l-2-1z" fill="#ffaa20"/>
<path d="M216.2 156.4l2.1 1.7l-0.8 3l-2.1-1.7z" fill="#ff911e"/>
<path d="M221.3 159.1l2.1 2.5l-0.9 2.8l-2.1-2.6z" fill="#ff620a"/>
<path d="M177.2 165.1l2-0.3l-0.6 3l-2.1 0z" fill="#60db02"/>
<path d="M182.2 162.7l2.1 0.2l-0.6 2.5l-2.1-0.1z" fill="#78d902"/>
<path d="M187.3 161.4l2.1 0.3l-0.7 2.4l-2.1-0.4z" fill="#9dde02"/>
<path d="M192.3 160.5l2.2 0.4l-0.7 2.3l-2.2-0.5z" fill="#c7db02"/>
<path d="M197.4 159.8l2.1 0.3l-0.6 2.3l-2.2-0.4z" fill="#d8be01"/>
<path d="M202.4 158.5l2.2 0.3l-0.7 2.6l-2.1-0.4z" fill="#e9a304"/>
<path d="M207.6 157.1l2 0.5l-0.7 3l-2.1-0.7z" fill="#ffa111"/>
<path d="M212.6 156.6l2.1 1.1l-0.8 3.1l-2.1-1.2z" fill="#ffa823"/>
<path d="M217.7 157.8l2.1 2l-0.8 2.9l-2.1-1.9z" fill="#ff8016"/>
<path d="M222.8 161.2l2.1 2.8l-0.9 2.6l-2.1-2.7z" fill="#ff5b07"/>
<path d="M178.7 164.8l2-0.1l-0.6 2.9l-2 0.2z" fill="#67d901"/>
<path d="M183.7 162.8l2.2 0.2l-0.7 2.5l-2.1-0.2z" fill="#86dd02"/>
<path d="M188.8 161.6l2.1 0.3l-0.7 2.4l-2.1-0.4z" fill="#abdc02"/>
<path d="M193.8 160.8l2.2 0.4l-0.7 2.3l-2.2-0.5z" fill="#dadf02"/>
<path d="M198.9 160.0l2.1 0.3l-0.6 2.4l-2.2-0.4z" fill="#dfb602"/>
<path d="M204.0 158.6l2.1 0.4l-0.7 2.7l-2.1-0.4z" fill="#f29f06"/>
<path d="M209.1 157.5l2 0.7l-0.7 3l-2.1-0.8z" fill="#ffa919"/>
<path d="M214.2 157.5l2.1 1.5l-0.9 3l-2.1-1.4z" fill="#ffa323"/>
<path d="M219.2 159.5l2.2 2.2l-0.9 2.9l-2.2-2.2z" fill="#ff7612"/>
<path d="M224.3 163.4l2.1 3.2l-0.9 2.5l-2.1-3z" fill="#f65404"/>
<path d="M180.2 164.6l2.1 0l-0.7 2.8l-2 0.1z" fill="#73dd02"/>
<path d="M185.2 162.9l2.2 0.2l-0.7 2.5l-2.1-0.2z" fill="#93de02"/>
<path d="M190.3 161.8l2.2 0.4l-0.7 2.3l-2.2-0.4z" fill="#badc02"/>
<path d="M195.3 161.0l2.2 0.5l-0.7 2.3l-2.2-0.5z" fill="#dfd402"/>
<path d="M200.4 160.1l2.2 0.3l-0.7 2.5l-2.2-0.4z" fill="#e9b204"/>
<path d="M205.5 158.8l2.1 0.5l-0.7 2.8l-2.1-0.5z" fill="#ffa40c"/>
<path d="M210.6 158.1l2.1 0.9l-0.8 3.1l-2.1-1.1z" fill="#ffae20"/>
<path d="M215.7 158.7l2.1 1.7l-0.9 3l-2.1-1.7z" fill="#ff971f"/>
<path d="M220.8 161.3l2.1 2.5l-0.9 2.8l-2.1-2.5z" fill="#ff6b0c"/>
<path d="M176.5 167.1l2.3 0.1l-0.6 1.8l-2.3-0.5z" fill="#4ca900"/>
<path d="M181.7 164.6l2.1 0.1l-0.7 2.7l-2.1-0.1z" fill="#7fdf02"/>
<path d="M186.8 163.0l2.1 0.3l-0.7 2.5l-2.1-0.3z" fill="#a0de02"/>
<path d="M191.8 162.0l2.2 0.5l-0.7 2.3l-2.2-0.5z" fill="#cee103"/>
<path d="M196.9 161.3l2.1 0.4l-0.7 2.4l-2.1-0.5z" fill="#e5cb03"/>
<path d="M201.9 160.3l2.2 0.3l-0.7 2.7l-2.2-0.5z" fill="#f1ad06"/>
<path d="M207.0 159.2l2.1 0.6l-0.7 2.9l-2.1-0.7z" fill="#ffa711"/>
<path d="M212.1 158.8l2.1 1.2l-0.8 3.1l-2.1-1.3z" fill="#ffac22"/>
<path d="M217.2 160.1l2.1 2l-0.9 3l-2.1-2z" fill="#ff8b1a"/>
<path d="M222.3 163.4l2.1 2.7l-0.9 2.9l-2.1-2.9z" fill="#ff6209"/>
<path d="M178.1 167.0l2.2-0.2l-0.7 2.5l-2.2-0.4z" fill="#62c900"/>
<path d="M183.2 164.6l2.1 0.1l-0.6 2.7l-2.2-0.1z" fill="#8fe604"/>
<path d="M188.3 163.2l2.1 0.3l-0.7 2.5l-2.1-0.4z" fill="#afdf02"/>
<path d="M193.3 162.3l2.2 0.4l-0.7 2.4l-2.2-0.5z" fill="#e1e603"/>
<path d="M198.4 161.5l2.1 0.4l-0.7 2.5l-2.1-0.5z" fill="#e8c104"/>
<path d="M203.5 160.5l2.1 0.4l-0.7 2.8l-2.2-0.6z" fill="#ffaf0a"/>
<path d="M208.6 159.6l2 0.8l-0.7 3l-2.1-0.9z" fill="#ffac18"/>
<path d="M213.6 159.8l2.1 1.5l-0.8 3l-2.1-1.5z" fill="#ffa723"/>
<path d="M218.7 161.8l2.1 2.2l-0.9 2.9l-2.1-2.2z" fill="#ff7e14"/>
<path d="M223.8 165.6l2.1 3.1l-0.9 1.5l-2.1-1.6z" fill="#f15504"/>
<path d="M179.7 166.7l2.1-0.1l-0.7 3l-2.1-0.4z" fill="#7ae303"/>
<path d="M184.7 164.6l2.1 0.2l-0.6 2.7l-2.1-0.2z" fill="#98e103"/>
<path d="M189.8 163.4l2.1 0.4l-0.7 2.4l-2.1-0.4z" fill="#c4e704"/>
<path d="M194.8 162.6l2.2 0.4l-0.7 2.4l-2.2-0.5z" fill="#e6dc04"/>
<path d="M199.9 161.8l2.1 0.4l-0.7 2.5l-2.1-0.5z" fill="#efbb06"/>
<path d="M205.0 160.8l2.1 0.6l-0.8 2.8l-2-0.7z" fill="#ffad0e"/>
<path d="M210.1 160.3l2.1 1l-0.8 3l-2.1-1.1z" fill="#ffb31f"/>
<path d="M215.2 161.0l2.1 1.7l-0.9 3.1l-2.1-1.8z" fill="#ff9b1e"/>
<path d="M220.2 163.6l2.2 2.5l-1 2.9l-2.1-2.5z" fill="#ff710e"/>
<path d="M181.2 166.5l2.1 0.1l-0.7 3l-2.1-0.1z" fill="#88e804"/>
<path d="M186.2 164.7l2.2 0.3l-0.7 2.6l-2.1-0.3z" fill="#a8e503"/>
<path d="M191.3 163.6l2.1 0.5l-0.7 2.4l-2.1-0.5z" fill="#d3e704"/>
<path d="M196.4 162.9l2.1 0.4l-0.7 2.5l-2.2-0.6z" fill="#edd505"/>
<path d="M201.4 162.0l2.1 0.5l-0.7 2.7l-2.1-0.6z" fill="#fbb909"/>
<path d="M206.5 161.2l2.1 0.7l-0.8 2.9l-2-0.8z" fill="#ffb214"/>
<path d="M211.6 161.1l2.1 1.3l-0.8 3l-2.1-1.3z" fill="#ffb223"/>
<path d="M216.7 162.5l2.1 1.9l-0.9 3l-2.1-2z" fill="#ff8b17"/>
<path d="M221.7 165.6l2.2 2.9l-0.9 2.2l-2.2-2.1z" fill="#ff6408"/>
<path d="M182.7 166.5l2.1 0.1l-0.7 2.9l-2 0z" fill="#93e704"/>
<path d="M187.8 164.9l2.1 0.3l-0.7 2.6l-2.1-0.3z" fill="#b7e704"/>
<path d="M192.8 163.9l2.2 0.5l-0.8 2.4l-2.1-0.5z" fill="#e7ec05"/>
<path d="M197.9 163.2l2.1 0.4l-0.7 2.6l-2.2-0.6z" fill="#ecc705"/>
<path d="M202.9 162.4l2.2 0.5l-0.8 2.7l-2.1-0.6z" fill="#ffb60c"/>
<path d="M208.0 161.8l2.1 0.9l-0.8 2.9l-2-1z" fill="#ffb91c"/>
<path d="M213.1 162.1l2.1 1.5l-0.8 3.1l-2.1-1.6z" fill="#ffa921"/>
<path d="M218.2 164.1l2.1 2.2l-0.9 3l-2.1-2.3z" fill="#ff8213"/>
<path d="M184.2 166.5l2.1 0.2l-0.7 2.8l-2-0.1z" fill="#a1ea04"/>
<path d="M189.3 165.1l2.1 0.3l-0.7 2.6l-2.1-0.4z" fill="#caed05"/>
<path d="M194.3 164.2l2.2 0.5l-0.8 2.5l-2.1-0.6z" fill="#efe605"/>
<path d="M199.4 163.5l2.1 0.5l-0.7 2.6l-2.1-0.6z" fill="#f6c407"/>
<path d="M204.5 162.7l2.1 0.7l-0.8 2.8l-2.1-0.7z" fill="#ffb911"/>
<path d="M209.6 162.5l2 1.1l-0.8 3l-2-1.2z" fill="#ffb71f"/>
<path d="M214.6 163.4l2.1 1.7l-0.8 3l-2.1-1.7z" fill="#ff9f1e"/>
<path d="M219.7 165.9l2.1 2.6l-0.9 2.6l-2.1-2.2z" fill="#ff730d"/>
<path d="M185.7 166.6l2.1 0.2l-0.7 2.8l-2-0.2z" fill="#b4f206"/>
<path d="M190.8 165.3l2.1 0.4l-0.7 2.6l-2.1-0.4z" fill="#dcf006"/>
<path d="M195.8 164.5l2.2 0.5l-0.8 2.6l-2.1-0.6z" fill="#f6df07"/>
<path d="M200.9 163.8l2.1 0.6l-0.7 2.7l-2.1-0.7z" fill="#ffc20b"/>
<path d="M206.0 163.3l2.1 0.8l-0.8 2.9l-2.1-0.9z" fill="#ffbd18"/>
<path d="M211.1 163.4l2.1 1.3l-0.8 3l-2.1-1.4z" fill="#ffb522"/>
<path d="M216.2 164.8l2.1 1.9l-0.9 3.1l-2.1-2z" fill="#ff9419"/>
<path d="M221.2 168.0l2.1 2.3l-0.7 1.2l-2.2-0.6z" fill="#fa6407"/>
<path d="M187.2 166.7l2.1 0.3l-0.7 2.8l-2-0.3z" fill="#c3f407"/>
<path d="M192.3 165.6l2.1 0.5l-0.7 2.5l-2.1-0.5z" fill="#f0f607"/>
<path d="M197.4 164.9l2.1 0.5l-0.7 2.6l-2.2-0.6z" fill="#feda0a"/>
<path d="M202.4 164.2l2.1 0.7l-0.7 2.7l-2.1-0.7z" fill="#ffc30f"/>
<path d="M207.5 163.9l2.1 1l-0.8 2.9l-2.1-1z" fill="#ffbb1a"/>
<path d="M212.6 164.4l2.1 1.5l-0.8 3.1l-2.1-1.6z" fill="#ffae21"/>
<path d="M217.7 166.4l2.1 2.3l-0.9 2.9l-2.1-2.1z" fill="#ff8513"/>
<path d="M188.8 166.9l2.1 0.3l-0.7 2.8l-2.1-0.3z" fill="#d6f908"/>
<path d="M193.8 165.9l2.1 0.5l-0.7 2.6l-2.1-0.5z" fill="#f7ef07"/>
<path d="M198.9 165.2l2.1 0.6l-0.7 2.7l-2.2-0.7z" fill="#ffcf0a"/>
<path d="M204.0 164.7l2.1 0.8l-0.8 2.8l-2.1-0.8z" fill="#ffc314"/>
<path d="M209.0 164.7l2.1 1.1l-0.8 3l-2.1-1.2z" fill="#ffbf21"/>
<path d="M214.1 165.7l2.1 1.7l-0.8 3.1l-2.1-1.8z" fill="#ffa51f"/>
<path d="M190.3 167.1l2.1 0.4l-0.7 2.8l-2.1-0.4z" fill="#e5fa08"/>
<path d="M195.3 166.3l2.1 0.5l-0.7 2.7l-2.1-0.6z" fill="#fce709"/>
<path d="M200.4 165.7l2.1 0.6l-0.7 2.8l-2.2-0.8z" fill="#ffcf0e"/>
<path d="M205.5 165.3l2.1 0.9l-0.8 2.9l-2.1-1z" fill="#ffc318"/>
<path d="M210.6 165.6l2 1.4l-0.8 3l-2.1-1.4z" fill="#ffb720"/>
<path d="M215.6 167.1l2.1 2.1l-0.8 2.9l-2.1-1.9z" fill="#ff9417"/>
<path d="M191.8 167.4l2.1 0.5l-0.7 2.8l-2.1-0.5z" fill="#f7fe0a"/>
<path d="M196.8 166.6l2.2 0.6l-0.8 2.7l-2.1-0.6z" fill="#ffe50d"/>
<path d="M201.9 166.1l2.1 0.8l-0.7 2.8l-2.1-0.8z" fill="#ffd114"/>
<path d="M207.0 166.0l2.1 1.1l-0.8 2.9l-2.1-1.1z" fill="#ffc61e"/>
<path d="M212.1 166.7l2.1 1.6l-0.9 3.1l-2.1-1.7z" fill="#ffb623"/>
<path d="M193.3 167.7l2.1 0.6l-0.7 2.8l-2.1-0.6z" fill="#ffff0f"/>
<path d="M198.4 167.1l2.1 0.6l-0.8 2.8l-2.1-0.7z" fill="#ffe110"/>
<path d="M203.4 166.7l2.1 0.9l-0.7 2.9l-2.1-1z" fill="#ffce17"/>
<path d="M208.5 166.9l2.1 1.2l-0.8 3l-2.1-1.3z" fill="#ffc521"/>
<path d="M213.6 168.0l2.1 1.9l-0.9 2.8l-2-1.5z" fill="#ffab20"/>
<path d="M194.8 168.1l2.1 0.6l-0.7 2.8l-2.1-0.6z" fill="#ffff11"/>
<path d="M199.9 167.6l2.1 0.7l-0.8 2.8l-2.1-0.8z" fill="#ffdd13"/>
<path d="M205.0 167.4l2 1l-0.7 2.9l-2.1-1z" fill="#ffcf1c"/>
<path d="M210.0 167.9l2.1 1.4l-0.8 3.2l-2.1-1.6z" fill="#ffc224"/>
<path d="M215.1 169.6l2.1 2l-0.7 1.4l-2.2-0.5z" fill="#fa7907"/>
<path d="M196.3 168.5l2.1 0.7l-0.7 2.9l-2.1-0.7z" fill="#fff412"/>
<path d="M201.4 168.1l2.1 0.8l-0.8 3l-2.1-0.9z" fill="#ffdd18"/>
<path d="M206.5 168.2l2.1 1.1l-0.8 3.1l-2.1-1.3z" fill="#ffd423"/>
<path d="M211.6 169.1l2.1 1.7l-0.9 2.4l-2.1-0.9z" fill="#ffaf1d"/>
<path d="M197.9 169.0l2 0.7l-0.7 3.1l-2.1-0.9z" fill="#fff818"/>
<path d="M202.9 168.8l2.1 0.9l-0.8 3.1l-2.1-1.1z" fill="#ffe621"/>
<path d="M208.0 169.1l2.1 1.3l-0.8 3l-2.1-1.2z" fill="#ffcb23"/>
<path d="M213.0 170.5l2.2 1.7l-0.8 1.3l-2.2-0.5z" fill="#e47303"/>
<path d="M199.4 169.6l2 0.8l-0.7 3l-2.1-0.8z" fill="#fff31c"/>
<path d="M204.4 169.5l2.1 1.1l-0.8 3l-2-1z" fill="#ffde22"/>
<path d="M200.9 170.2l2.1 0.9l-0.8 2.8l-2.1-0.6z" fill="#ffdb15"/>
<path d="M206.0 170.4l2.1 1.4l-0.8 2.2l-2.1-0.6z" fill="#ffba14"/>
<path d="M210.9 171.5l2.3 1.2l-0.8 1.3l-2.2-0.5z" fill="#c26800"/>
<path d="M207.4 171.5l2.2 1.3l-0.7 1.4l-2.3-0.5z" fill="#d07d01"/>
<path d="M203.8 171.9l2.3 1.1l-0.8 1.4l-2.2-0.5z" fill="#cd8900"/>
<path d="M208.8 172.5l2.3 0.7l-0.7 1.3l-2.3-0.6z" fill="#a86000"/>
<path d="M205.3 172.7l2.3 0.7l-0.7 1.3l-2.3-0.6z" fill="#aa6d00"/>
<path d="M268.0 252.7 V222.9" stroke="#909090" stroke-width="1.2" fill="none"/>
<path d="M267.5 251.7L334.0 264.9L311.0 300.4L244.5 287.2z" fill="#888" filter="url(#nz)"/>
<path d="M277.2 254.2l2.4 0.6l-0.7 1.3l-2.4-0.6z" fill="#009462"/>
<path d="M278.7 254.5l2.4 0.6l-0.7 1.3l-2.3-0.6z" fill="#009161"/>
<path d="M283.8 254.6l2.3 0.6l-0.6 1.2l-2.4-0.5z" fill="#008b5c"/>
<path d="M280.2 254.8l2.4 0.6l-0.7 1.2l-2.3-0.5z" fill="#008f5f"/>
<path d="M285.2 255.0l2.4 0.6l-0.5 0.4l-2.5 0.2z" fill="#006745"/>
<path d="M276.7 255.0l2.3 0.6l-0.6 1.3l-2.4-0.6z" fill="#008f5f"/>
<path d="M281.7 255.2l2.4 0.6l-0.5 0.4l-2.5 0.2z" fill="#006543"/>
<path d="M286.7 255.5l2.5 0.5l-0.6-0.6l-2.5 0.5z" fill="#004f35"/>
<path d="M278.2 255.4l2.3 0.5l-0.5 0.9l-2.5-0.1z" fill="#007a51"/>
<path d="M274.7 255.5l2.3 0.6l-0.7 1.3l-2.3-0.6z" fill="#009060"/>
<path d="M279.6 255.8l2.5 0.5l-0.6-0.5l-2.4 0.9z" fill="#004f35"/>
<path d="M271.1 255.8l2.4 0.5l-0.7 1.3l-2.4-0.5z" fill="#009161"/>
<path d="M276.1 255.9l2.4 0.6l-0.5 0.3l-2.5 0.4z" fill="#006443"/>
<path d="M272.6 256.1l2.4 0.5l-0.7 1.3l-2.3-0.5z" fill="#008d5e"/>
<path d="M269.1 256.3l2.3 0.5l-0.7 1.3l-2.3-0.5z" fill="#009261"/>
<path d="M274.1 256.4l2.4 0.6l-0.5 0l-2.5 0.7z" fill="#005539"/>
<path d="M270.6 256.6l2.3 0.5l-0.6 1.3l-2.4-0.5z" fill="#008e5e"/>
<path d="M267.1 256.8l2.3 0.5l-0.7 1.3l-2.3-0.5z" fill="#009161"/>
<path d="M272.0 257.0l2.5 0.5l-0.6-0.1l-2.4 0.8z" fill="#005035"/>
<path d="M265.0 257.3l2.3 0.5l-0.6 1.3l-2.4-0.5z" fill="#009060"/>
<path d="M270.0 257.5l2.4 0.5l-0.5 0l-2.5 0.7z" fill="#005438"/>
<path d="M268.0 257.9l2.4 0.6l-0.5 0.4l-2.5 0.3z" fill="#006845"/>
<path d="M266.0 258.4l2.3 0.6l-0.6 0.8l-2.4-0.1z" fill="#007a51"/>
<path d="M267.4 259.1l2.4-0.5l-0.6-0.3l-2.3 1.5z" fill="#004f35"/>
<path d="M282.5 255.1l2.5-0.3l-0.5 0l-2.5 0.2z" fill="#004f35"/>
<path d="M292.6 254.9l2.5 0.2l-0.5-0.1l-2.5-0.2z" fill="#004f35"/>
<path d="M297.7 255.5l2.5 0.4l-0.5-0.1l-2.5-0.5z" fill="#004f35"/>
<path d="M264.0 258.9l2.3 0.5l-0.7 1.3l-2.3-0.5z" fill="#008e5f"/>
<path d="M279.0 255.6l2.5-0.5l-0.5 0.1l-2.5 0.4z" fill="#004f35"/>
<path d="M294.1 255.0l2.6 0.3l-0.6-0.2l-2.5-0.2z" fill="#004f35"/>
<path d="M299.2 255.7l2.5 0.6l-0.5-0.2l-2.5-0.5z" fill="#004f35"/>
<path d="M265.3 259.4l2.5 0.1l-0.5-0.2l-2.4 1.3z" fill="#004f35"/>
<path d="M275.5 256.4l2.4-0.7l-0.5 0.1l-2.5 0.6z" fill="#004f35"/>
<path d="M280.5 255.3l2.5-0.4l-0.5 0.1l-2.5 0.3z" fill="#004f35"/>
<path d="M295.7 255.1l2.5 0.4l-0.6-0.1l-2.5-0.4z" fill="#004f35"/>
<path d="M300.7 256.0l2.5 0.7l-0.5-0.2l-2.5-0.6z" fill="#004f35"/>
<path d="M261.9 259.4l2.4 0.5l-0.7 1.3l-2.3-0.5z" fill="#009161"/>
<path d="M277.0 255.9l2.4-0.5l-0.5 0.1l-2.5 0.5z" fill="#004f35"/>
<path d="M297.2 255.3l2.5 0.5l-0.5-0.1l-2.5-0.5z" fill="#004f35"/>
<path d="M302.2 256.4l2.5 0.7l-0.5-0.2l-2.5-0.6z" fill="#004f35"/>
<path d="M263.4 259.8l2.4 0.4l-0.5 0.5l-2.5 0.4z" fill="#006443"/>
<path d="M312.4 260.5l2.4 0.6l-0.6 0.5l-2.3-1.4z" fill="#005035"/>
<path d="M273.4 256.9l2.5-0.8l-0.5 0.2l-2.5 0.7z" fill="#004f35"/>
<path d="M278.5 255.6l2.5-0.4l-0.6 0l-2.5 0.5z" fill="#004f35"/>
<path d="M298.7 255.6l2.5 0.5l-0.5-0.1l-2.5-0.5z" fill="#004f35"/>
<path d="M303.8 256.8l2.4 0.8l-0.5-0.2l-2.5-0.7z" fill="#004f35"/>
<path d="M314.0 260.7l2.4 0.6l-0.7 1.1l-2.4-1.2z" fill="#007a51"/>
<path d="M274.9 256.4l2.5-0.6l-0.5 0.2l-2.5 0.6z" fill="#004f35"/>
<path d="M300.2 255.9l2.5 0.6l-0.5-0.1l-2.5-0.6z" fill="#004f35"/>
<path d="M305.3 257.3l2.4 0.9l-0.5-0.2l-2.4-0.9z" fill="#004f35"/>
<path d="M261.4 260.2l2.3 0.6l-0.6 1.1l-2.4-0.4z" fill="#00895b"/>
<path d="M315.5 260.9l2.4 0.6l-0.7 1.3l-2.4-0.7z" fill="#008c5e"/>
<path d="M271.4 257.5l2.4-0.8l-0.5 0.2l-2.4 0.7z" fill="#004f35"/>
<path d="M276.4 256.0l2.5-0.5l-0.5 0.1l-2.5 0.6z" fill="#004f35"/>
<path d="M301.7 256.2l2.5 0.7l-0.5 0l-2.5-0.7z" fill="#004f35"/>
<path d="M306.8 257.8l2.4 1l-0.5-0.3l-2.4-0.9z" fill="#004f35"/>
<path d="M262.8 260.8l2.4-0.4l-0.5 0l-2.4 1.5z" fill="#004f35"/>
<path d="M272.9 256.9l2.5-0.6l-0.5 0.2l-2.5 0.7z" fill="#004f35"/>
<path d="M277.9 255.7l2.5-0.4l-0.5 0l-2.5 0.5z" fill="#004f35"/>
<path d="M298.2 255.5l2.5 0.5l-0.6-0.1l-2.5-0.6z" fill="#004f35"/>
<path d="M303.2 256.6l2.5 0.8l-0.5 0l-2.5-0.8z" fill="#004f35"/>
<path d="M308.3 258.4l2.4 1.1l-0.5-0.3l-2.4-1z" fill="#004f35"/>
<path d="M269.4 258.2l2.4-0.9l-0.5 0.3l-2.5 0.8z" fill="#004f35"/>
<path d="M318.6 261.5l2.3 0.6l-0.7 1.3l-2.3-0.6z" fill="#008f5f"/>
<path d="M274.4 256.5l2.5-0.5l-0.5 0.1l-2.5 0.7z" fill="#004f35"/>
<path d="M299.7 255.8l2.5 0.6l-0.6-0.1l-2.4-0.7z" fill="#004f35"/>
<path d="M304.8 257.1l2.4 0.8l-0.5 0l-2.5-0.8z" fill="#004f35"/>
<path d="M260.8 261.1l2.4 0.4l-0.5 0.6l-2.5 0.3z" fill="#006a47"/>
<path d="M309.8 259.0l2.4 1.2l-0.5-0.3l-2.4-1.1z" fill="#004f35"/>
<path d="M265.8 259.8l2.4-1.1l-0.5 0.2l-2.4 1.2z" fill="#004f35"/>
<path d="M314.9 261.9l2.4 0.6l-0.6 0.5l-2.3-1.6z" fill="#004f35"/>
<path d="M270.9 257.6l2.4-0.7l-0.5 0.3l-2.5 0.7z" fill="#004f35"/>
<path d="M275.9 256.2l2.5-0.6l-0.5 0.1l-2.5 0.7z" fill="#004f35"/>
<path d="M301.2 256.2l2.5 0.7l-0.6-0.2l-2.4-0.7z" fill="#004f35"/>
<path d="M306.3 257.6l2.4 0.9l-0.5 0l-2.5-0.9z" fill="#004f35"/>
<path d="M262.3 261.9l2.4-1.5l-0.6 0.2l-2.3 1.6z" fill="#004f35"/>
<path d="M311.3 259.7l2.5 1.3l-0.6-0.3l-2.4-1.2z" fill="#004f35"/>
<path d="M267.3 259.1l2.5-1.1l-0.5 0.4l-2.5 0.9z" fill="#004f35"/>
<path d="M316.5 262.1l2.4 0.6l-0.8 1.2l-2.3-1.3z" fill="#007d53"/>
<path d="M272.4 257.1l2.4-0.6l-0.5 0.3l-2.4 0.7z" fill="#004f35"/>
<path d="M277.4 255.9l2.5-0.6l-0.5 0.1l-2.5 0.6z" fill="#004f35"/>
<path d="M302.7 256.6l2.5 0.7l-0.6 0l-2.4-0.8z" fill="#004f35"/>
<path d="M307.8 258.1l2.4 1.1l-0.5-0.1l-2.4-1z" fill="#004f35"/>
<path d="M263.8 260.9l2.4-1.3l-0.5 0.3l-2.4 1.2z" fill="#004f35"/>
<path d="M312.9 260.5l2.4 1.4l-0.6-0.4l-2.4-1.3z" fill="#004f35"/>
<path d="M268.8 258.4l2.5-0.8l-0.5 0.3l-2.5 0.8z" fill="#004f35"/>
<path d="M318.0 262.3l2.4 0.6l-0.7 1.3l-2.3-0.6z" fill="#009463"/>
<path d="M273.9 256.7l2.5-0.6l-0.6 0.2l-2.4 0.7z" fill="#004f35"/>
<path d="M299.2 255.7l2.4 0.6l-0.5-0.2l-2.5-0.6z" fill="#004f35"/>
<path d="M304.2 257.0l2.5 0.9l-0.6-0.1l-2.4-0.9z" fill="#004f35"/>
<path d="M260.2 262.1l2.5-0.3l-0.5 0.2l-2.4 1.2z" fill="#004f35"/>
<path d="M309.3 258.7l2.4 1.2l-0.5-0.1l-2.4-1.1z" fill="#004f35"/>
<path d="M265.3 260.1l2.4-1.2l-0.5 0.4l-2.4 1.1z" fill="#004f35"/>
<path d="M270.3 257.8l2.5-0.7l-0.5 0.4l-2.5 0.7z" fill="#004f35"/>
<path d="M319.5 262.6l2.4 0.6l-0.7 1.3l-2.3-0.6z" fill="#009261"/>
<path d="M275.4 256.4l2.5-0.7l-0.6 0.2l-2.4 0.7z" fill="#004f35"/>
<path d="M300.7 256.0l2.5 0.7l-0.6-0.1l-2.4-0.7z" fill="#004f35"/>
<path d="M305.8 257.5l2.4 0.9l-0.6 0.1l-2.4-1z" fill="#004f35"/>
<path d="M310.8 259.4l2.4 1.3l-0.5-0.2l-2.4-1.1z" fill="#004f35"/>
<path d="M266.8 259.3l2.4-1l-0.5 0.5l-2.4 0.8z" fill="#004f35"/>
<path d="M271.8 257.4l2.5-0.7l-0.5 0.3l-2.5 0.8z" fill="#004f35"/>
<path d="M276.9 256.0l2.5-0.6l-0.5 0l-2.5 0.7z" fill="#004f35"/>
<path d="M302.2 256.4l2.5 0.8l-0.6-0.1l-2.4-0.8z" fill="#004f35"/>
<path d="M307.3 258.0l2.4 1l-0.6 0.1l-2.4-1z" fill="#004f35"/>
<path d="M263.3 261.1l2.4-1.2l-0.5 0.4l-2.4 1.2z" fill="#004f35"/>
<path d="M312.4 260.2l2.3 1.3l-0.5-0.2l-2.4-1.2z" fill="#004f35"/>
<path d="M268.3 258.6l2.5-0.7l-0.5 0.4l-2.5 0.8z" fill="#004f35"/>
<path d="M317.4 263.2l2.4 0.7l-0.7 0.8l-2.2-1.7z" fill="#006040"/>
<path d="M273.4 257.0l2.4-0.7l-0.5 0.2l-2.5 0.7z" fill="#004f35"/>
<path d="M303.7 256.9l2.5 0.9l-0.6-0.1l-2.4-0.9z" fill="#004f35"/>
<path d="M259.7 263.1l2.4-1.2l-0.5 0.3l-2.3 1.7z" fill="#004f35"/>
<path d="M308.8 258.6l2.4 1.1l-0.6 0.1l-2.4-1.1z" fill="#004f35"/>
<path d="M264.8 260.3l2.4-1.1l-0.5 0.5l-2.4 1z" fill="#004f35"/>
<path d="M313.9 261.0l2.3 1.4l-0.5-0.2l-2.4-1.4z" fill="#004f35"/>
<path d="M269.8 258.1l2.5-0.7l-0.5 0.4l-2.5 0.8z" fill="#004f35"/>
<path d="M319.0 263.5l2.4 0.5l-0.8 1.3l-2.3-1z" fill="#00885b"/>
<path d="M274.9 256.5l2.4-0.7l-0.5 0.2l-2.4 0.8z" fill="#004f35"/>
<path d="M305.2 257.4l2.5 1l-0.6 0l-2.4-1z" fill="#004f35"/>
<path d="M261.3 262.4l2.3-1.4l-0.5 0.4l-2.4 1.3z" fill="#004f35"/>
<path d="M310.3 259.3l2.4 1.2l-0.5 0l-2.4-1.1z" fill="#005136"/>
<path d="M266.3 259.5l2.4-0.8l-0.5 0.5l-2.4 0.8z" fill="#004f35"/>
<path d="M315.4 261.9l2.3 1.6l-0.5-0.3l-2.3-1.5z" fill="#004f35"/>
<path d="M271.3 257.7l2.5-0.8l-0.5 0.3l-2.5 0.9z" fill="#004f35"/>
<path d="M320.5 263.7l2.4 0.6l-0.7 1.3l-2.3-0.6z" fill="#009362"/>
<path d="M301.7 256.3l2.4 0.8l-0.5-0.1l-2.4-0.9z" fill="#004f35"/>
<path d="M306.8 258.0l2.4 1l-0.6 0.1l-2.4-1.1z" fill="#004f35"/>
<path d="M262.7 261.4l2.4-1.2l-0.4 0.5l-2.5 1.2z" fill="#004f35"/>
<path d="M311.9 260.0l2.3 1.3l-0.5 0l-2.4-1.3z" fill="#004f35"/>
<path d="M267.8 258.9l2.4-0.7l-0.5 0.5l-2.4 0.8z" fill="#004f35"/>
<path d="M316.9 262.9l2.3 1.7l-0.5-0.4l-2.3-1.6z" fill="#004f35"/>
<path d="M272.8 257.2l2.5-0.8l-0.5 0.3l-2.5 0.8z" fill="#004f35"/>
<path d="M303.2 256.8l2.4 0.9l-0.5-0.1l-2.4-1z" fill="#004f35"/>
<path d="M259.2 263.8l2.4-1.6l-0.5 0.4l-2.4 1.7z" fill="#004f35"/>
<path d="M308.3 258.6l2.4 1.1l-0.6 0.1l-2.4-1.2z" fill="#004f35"/>
<path d="M264.2 260.6l2.5-1l-0.5 0.6l-2.5 0.9z" fill="#004f35"/>
<path d="M313.4 260.8l2.3 1.4l-0.5-0.1l-2.4-1.3z" fill="#004f35"/>
<path d="M269.3 258.5l2.4-0.8l-0.4 0.4l-2.5 0.9z" fill="#004f35"/>
<path d="M318.4 264.1l2.4 1l-0.7 0.4l-2.2-1.9z" fill="#005438"/>
<path d="M274.4 256.8l2.4-0.8l-0.5 0.1l-2.5 0.9z" fill="#004f35"/>
<path d="M304.7 257.3l2.5 1l-0.6 0l-2.4-1.1z" fill="#004f35"/>
<path d="M260.7 262.7l2.4-1.3l-0.5 0.5l-2.4 1.3z" fill="#004f35"/>
<path d="M309.8 259.2l2.4 1.2l-0.6 0.1l-2.4-1.2z" fill="#005237"/>
<path d="M265.7 259.9l2.5-0.8l-0.5 0.6l-2.4 0.8z" fill="#004f35"/>
<path d="M314.9 261.6l2.3 1.5l-0.5-0.1l-2.4-1.4z" fill="#005035"/>
<path d="M270.8 258.0l2.5-0.8l-0.5 0.3l-2.5 0.9z" fill="#004f35"/>
<path d="M320.0 264.6l2.3 0.6l-0.7 1.2l-2.3-1.4z" fill="#008055"/>
<path d="M306.3 257.9l2.4 1.1l-0.6 0l-2.4-1.1z" fill="#004f35"/>
<path d="M262.2 261.8l2.4-1.2l-0.4 0.6l-2.5 1.1z" fill="#004f35"/>
<path d="M311.3 259.9l2.4 1.3l-0.6 0.1l-2.4-1.2z" fill="#00583b"/>
<path d="M267.2 259.3l2.5-0.7l-0.5 0.5l-2.4 0.8z" fill="#004f35"/>
<path d="M316.4 262.6l2.3 1.5l-0.5-0.1l-2.4-1.5z" fill="#004f35"/>
<path d="M272.3 257.5l2.5-0.8l-0.5 0.2l-2.5 1z" fill="#004f35"/>
<path d="M321.5 264.8l2.3 0.6l-0.6 1.3l-2.4-0.6z" fill="#008d5e"/>
<path d="M302.7 256.6l2.4 1l-0.5-0.2l-2.4-1.1z" fill="#004f35"/>
<path d="M258.7 264.3l2.3-1.7l-0.4 0.6l-2.4 1.5z" fill="#004f35"/>
<path d="M307.8 258.5l2.4 1.2l-0.6 0l-2.4-1.2z" fill="#004f35"/>
<path d="M263.7 260.9l2.4-0.9l-0.4 0.7l-2.5 0.9z" fill="#004f35"/>
<path d="M312.9 260.7l2.3 1.3l-0.6 0.1l-2.3-1.3z" fill="#00573a"/>
<path d="M268.8 258.8l2.4-0.8l-0.5 0.5l-2.4 0.9z" fill="#004f35"/>
<path d="M317.9 263.5l2.3 1.9l-0.5-0.3l-2.3-1.6z" fill="#004f35"/>
<path d="M273.8 257.0l2.5-0.9l-0.6 0.1l-2.4 1.1z" fill="#004f35"/>
<path d="M304.2 257.2l2.4 1l-0.5-0.1l-2.4-1.1z" fill="#004f35"/>
<path d="M260.2 263.1l2.4-1.3l-0.5 0.6l-2.4 1.3z" fill="#004f35"/>
<path d="M309.3 259.2l2.4 1.2l-0.6 0.1l-2.4-1.2z" fill="#005438"/>
<path d="M265.2 260.3l2.5-0.8l-0.5 0.7l-2.5 0.8z" fill="#004f35"/>
<path d="M314.4 261.5l2.3 1.4l-0.6 0.1l-2.3-1.4z" fill="#00583b"/>
<path d="M270.3 258.3l2.4-0.8l-0.5 0.4l-2.4 0.9z" fill="#004f35"/>
<path d="M319.4 264.8l2.4 1.4l-0.7 0.2l-2.2-1.9z" fill="#005338"/>
<path d="M305.7 257.8l2.4 1.1l-0.5 0l-2.4-1.2z" fill="#004f35"/>
<path d="M261.7 262.2l2.4-1.1l-0.5 0.7l-2.4 1z" fill="#004f35"/>
<path d="M310.8 259.9l2.4 1.3l-0.6 0.2l-2.4-1.3z" fill="#005539"/>
<path d="M266.7 259.8l2.5-0.9l-0.5 0.6l-2.4 0.9z" fill="#004f35"/>
<path d="M315.9 262.4l2.3 1.6l-0.6-0.1l-2.3-1.5z" fill="#00593c"/>
<path d="M271.8 257.8l2.4-0.9l-0.5 0.3l-2.4 1z" fill="#004f35"/>
<path d="M320.9 265.7l2.4 0.6l-0.7 1.2l-2.3-1.6z" fill="#00754e"/>
<path d="M258.2 264.6l2.3-1.5l-0.4 0.7l-2.4 1.4z" fill="#004f35"/>
<path d="M307.3 258.4l2.3 1.2l-0.5 0.1l-2.4-1.2z" fill="#004f35"/>
<path d="M263.2 261.4l2.4-0.9l-0.4 0.8l-2.5 0.8z" fill="#004f35"/>
<path d="M312.3 260.7l2.4 1.3l-0.6 0.2l-2.4-1.3z" fill="#005b3c"/>
<path d="M268.2 259.2l2.5-0.8l-0.5 0.5l-2.4 0.9z" fill="#004f35"/>
<path d="M317.4 263.4l2.3 1.6l-0.6 0l-2.3-1.6z" fill="#00593b"/>
<path d="M322.5 266.0l2.3 0.5l-0.6 1.3l-2.4-0.6z" fill="#009362"/>
<path d="M303.7 257.0l2.4 1.1l-0.5-0.2l-2.4-1.3z" fill="#004f35"/>
<path d="M259.6 263.6l2.4-1.3l-0.4 0.7l-2.4 1.3z" fill="#004f35"/>
<path d="M308.8 259.2l2.4 1.2l-0.6 0.1l-2.4-1.3z" fill="#005237"/>
<path d="M264.7 260.8l2.4-0.8l-0.4 0.7l-2.5 0.9z" fill="#004f35"/>
<path d="M313.9 261.5l2.3 1.3l-0.6 0.3l-2.4-1.4z" fill="#005c3d"/>
<path d="M269.7 258.7l2.5-0.9l-0.5 0.4l-2.4 1z" fill="#004f35"/>
<path d="M319.0 264.4l2.2 1.9l-0.5-0.2l-2.4-1.7z" fill="#005236"/>
<path d="M324.0 266.3l2.3 0.5l-0.6 1.3l-2.4-0.5z" fill="#008f60"/>
<path d="M305.2 257.7l2.4 1.2l-0.6-0.1l-2.3-1.4z" fill="#004f35"/>
<path d="M261.1 262.7l2.5-1.1l-0.5 0.8l-2.4 1z" fill="#004f35"/>
<path d="M310.3 259.9l2.4 1.3l-0.6 0.2l-2.4-1.4z" fill="#005a3c"/>
<path d="M266.2 260.3l2.4-0.9l-0.4 0.6l-2.5 1z" fill="#004f35"/>
<path d="M315.4 262.3l2.3 1.5l-0.6 0.2l-2.3-1.5z" fill="#005e3e"/>
<path d="M271.3 258.2l2.4-1.1l-0.5 0.3l-2.4 1.2z" fill="#004f35"/>
<path d="M320.4 265.7l2.3 1.6l-0.6 0.1l-2.2-1.9z" fill="#005a3c"/>
<path d="M257.6 265.1l2.4-1.4l-0.4 0.8l-2.4 1.3z" fill="#004f35"/>
<path d="M306.7 258.4l2.4 1.2l-0.6 0l-2.3-1.3z" fill="#004f35"/>
<path d="M262.6 261.9l2.5-0.8l-0.5 0.8l-2.4 0.8z" fill="#004f35"/>
<path d="M311.8 260.7l2.4 1.3l-0.6 0.3l-2.4-1.4z" fill="#005c3e"/>
<path d="M267.7 259.7l2.5-0.9l-0.5 0.6l-2.5 0.9z" fill="#004f35"/>
<path d="M316.9 263.3l2.3 1.6l-0.6 0.1l-2.3-1.6z" fill="#005e3f"/>
<path d="M321.9 266.8l2.4 0.6l-0.7 1.2l-2.3-1.7z" fill="#00744d"/>
<path d="M259.1 264.1l2.4-1.2l-0.4 0.8l-2.4 1.2z" fill="#004f35"/>
<path d="M308.3 259.1l2.3 1.3l-0.6 0.1l-2.3-1.4z" fill="#005639"/>
<path d="M264.2 261.3l2.4-0.8l-0.5 0.8l-2.4 0.9z" fill="#004f35"/>
<path d="M313.4 261.5l2.3 1.4l-0.6 0.3l-2.4-1.4z" fill="#005f3f"/>
<path d="M269.2 259.1l2.5-1l-0.5 0.5l-2.4 1.1z" fill="#004f35"/>
<path d="M318.4 264.3l2.3 1.7l-0.6 0.1l-2.3-1.7z" fill="#005d3e"/>
<path d="M323.5 267.1l2.3 0.5l-0.7 1.3l-2.3-0.6z" fill="#009060"/>
<path d="M304.7 257.4l2.4 1.3l-0.6-0.2l-2.3-1.5z" fill="#004f35"/>
<path d="M260.6 263.2l2.4-1l-0.4 0.9l-2.4 0.9z" fill="#004f35"/>
<path d="M309.8 259.9l2.3 1.4l-0.6 0.1l-2.3-1.4z" fill="#00573a"/>
<path d="M265.7 260.8l2.4-1l-0.4 0.8l-2.5 0.9z" fill="#004f35"/>
<path d="M314.9 262.4l2.3 1.4l-0.6 0.3l-2.4-1.5z" fill="#006543"/>
<path d="M270.8 258.5l2.4-1.1l-0.5 0.3l-2.4 1.3z" fill="#004f35"/>
<path d="M320.0 265.4l2.2 1.9l-0.6-0.1l-2.3-1.7z" fill="#005c3d"/>
<path d="M257.1 265.6l2.4-1.3l-0.5 0.9l-2.4 1.2z" fill="#004f35"/>
<path d="M306.2 258.2l2.4 1.4l-0.6-0.1l-2.3-1.5z" fill="#004f35"/>
<path d="M262.1 262.5l2.5-0.9l-0.5 1l-2.4 0.8z" fill="#005639"/>
<path d="M311.3 260.7l2.4 1.4l-0.7 0.2l-2.3-1.4z" fill="#005c3d"/>
<path d="M267.2 260.2l2.4-1l-0.4 0.7l-2.5 1z" fill="#004f35"/>
<path d="M316.4 263.3l2.3 1.5l-0.6 0.2l-2.3-1.5z" fill="#006241"/>
<path d="M321.5 266.7l2.2 1.8l-0.6 0.1l-2.2-2z" fill="#006342"/>
<path d="M258.6 264.7l2.4-1.2l-0.4 0.9l-2.4 1.2z" fill="#004f35"/>
<path d="M307.7 259.0l2.4 1.4l-0.6 0.1l-2.3-1.5z" fill="#005438"/>
<path d="M263.6 261.9l2.5-0.9l-0.5 0.9l-2.4 0.9z" fill="#005236"/>
<path d="M312.8 261.6l2.4 1.4l-0.7 0.3l-2.3-1.5z" fill="#006342"/>
<path d="M268.7 259.6l2.4-1.1l-0.4 0.6l-2.5 1.1z" fill="#004f35"/>
<path d="M317.9 264.2l2.3 1.7l-0.6 0.2l-2.3-1.6z" fill="#006342"/>
<path d="M322.9 267.9l2.4 0.6l-0.7 1.3l-2.3-1.7z" fill="#007a51"/>
<path d="M260.1 263.8l2.4-0.9l-0.4 0.9l-2.5 0.9z" fill="#005337"/>
<path d="M309.3 259.9l2.3 1.4l-0.6 0.2l-2.3-1.6z" fill="#00583b"/>
<path d="M265.1 261.3l2.5-0.9l-0.5 0.8l-2.4 1z" fill="#005035"/>
<path d="M314.4 262.5l2.3 1.4l-0.7 0.4l-2.3-1.5z" fill="#006845"/>
<path d="M270.2 259.0l2.4-1.3l-0.5 0.4l-2.3 1.4z" fill="#004f35"/>
<path d="M319.4 265.3l2.3 1.8l-0.6 0.2l-2.3-1.8z" fill="#006342"/>
<path d="M324.5 268.2l2.3 0.5l-0.7 1.3l-2.3-0.5z" fill="#009161"/>
<path d="M256.6 266.2l2.3-1.2l-0.4 0.9l-2.4 1.3z" fill="#005136"/>
<path d="M305.7 257.9l2.3 1.5l-0.5-0.1l-2.3-1.7z" fill="#004f35"/>
<path d="M261.6 263.1l2.4-0.8l-0.4 1l-2.4 0.8z" fill="#00573a"/>
<path d="M310.8 260.7l2.3 1.5l-0.6 0.2l-2.3-1.5z" fill="#006040"/>
<path d="M266.7 260.7l2.4-1l-0.5 0.8l-2.4 1z" fill="#004f35"/>
<path d="M315.9 263.4l2.3 1.5l-0.7 0.3l-2.3-1.5z" fill="#006946"/>
<path d="M271.8 258.2l2.3-1.5l-0.5 0.2l-2.3 1.7z" fill="#004f35"/>
<path d="M321.0 266.5l2.2 2l-0.6 0l-2.3-1.9z" fill="#005f40"/>
<path d="M258.1 265.3l2.4-1.1l-0.5 1l-2.4 1.1z" fill="#005539"/>
<path d="M307.2 258.9l2.4 1.5l-0.6 0l-2.3-1.7z" fill="#005136"/>
<path d="M263.1 262.5l2.4-0.9l-0.4 1l-2.4 0.9z" fill="#005539"/>
<path d="M312.3 261.6l2.3 1.5l-0.6 0.3l-2.3-1.5z" fill="#006543"/>
<path d="M268.2 260.1l2.4-1.2l-0.5 0.7l-2.4 1.2z" fill="#004f35"/>
<path d="M317.4 264.3l2.3 1.6l-0.7 0.3l-2.3-1.6z" fill="#006f4a"/>
<path d="M322.5 267.9l2.2 1.7l-0.7 0.4l-2.1-2.2z" fill="#006a47"/>
<path d="M259.6 264.4l2.4-0.9l-0.4 1.1l-2.5 0.9z" fill="#005d3e"/>
<path d="M308.8 259.8l2.3 1.6l-0.6 0.1l-2.3-1.7z" fill="#00593b"/>
<path d="M264.6 261.9l2.5-0.9l-0.5 0.9l-2.4 0.9z" fill="#005236"/>
<path d="M313.8 262.6l2.4 1.5l-0.7 0.3l-2.3-1.5z" fill="#006745"/>
<path d="M269.7 259.4l2.4-1.4l-0.5 0.5l-2.3 1.5z" fill="#004f35"/>
<path d="M318.9 265.3l2.3 1.8l-0.7 0.2l-2.2-1.7z" fill="#006b47"/>
<path d="M323.9 269.0l2.4 0.6l-0.7 1.3l-2.3-1.4z" fill="#008257"/>
<path d="M256.0 266.9l2.4-1.2l-0.4 1l-2.4 1.3z" fill="#005438"/>
<path d="M305.2 257.6l2.3 1.6l-0.6-0.2l-2.2-1.9z" fill="#004f35"/>
<path d="M261.1 263.7l2.4-0.8l-0.4 1.1l-2.5 0.8z" fill="#005f40"/>
<path d="M310.3 260.8l2.3 1.5l-0.6 0.2l-2.3-1.6z" fill="#006140"/>
<path d="M266.1 261.3l2.5-1l-0.5 0.8l-2.4 1.1z" fill="#005035"/>
<path d="M315.4 263.5l2.3 1.5l-0.7 0.4l-2.3-1.5z" fill="#006b47"/>
<path d="M271.3 258.6l2.3-1.7l-0.5 0.4l-2.3 1.7z" fill="#004f35"/>
<path d="M320.4 266.5l2.3 1.8l-0.7 0.2l-2.2-1.8z" fill="#006a47"/>
<path d="M325.5 269.3l2.3 0.5l-0.7 1.3l-2.3-0.5z" fill="#008e5f"/>
<path d="M257.5 266.0l2.4-1.1l-0.4 1.1l-2.4 1.1z" fill="#00593b"/>
<path d="M306.7 258.6l2.3 1.7l-0.6-0.1l-2.2-1.9z" fill="#005136"/>
<path d="M262.6 263.2l2.4-0.9l-0.4 1l-2.4 0.9z" fill="#00593b"/>
<path d="M311.8 261.7l2.3 1.5l-0.6 0.4l-2.3-1.6z" fill="#006946"/>
<path d="M267.7 260.7l2.4-1.3l-0.5 0.8l-2.4 1.3z" fill="#004f35"/>
<path d="M316.9 264.5l2.3 1.5l-0.7 0.4l-2.3-1.5z" fill="#006d48"/>
<path d="M322.0 267.7l2.2 2.1l-0.6 0l-2.3-1.9z" fill="#006745"/>
<path d="M259.1 265.1l2.4-0.8l-0.5 1.1l-2.4 0.9z" fill="#005e3f"/>
<path d="M308.2 259.7l2.3 1.7l-0.6 0l-2.2-1.8z" fill="#005b3d"/>
<path d="M264.1 262.5l2.4-0.9l-0.4 1l-2.4 1z" fill="#00593b"/>
<path d="M313.3 262.7l2.3 1.5l-0.6 0.4l-2.3-1.6z" fill="#006b47"/>
<path d="M269.2 259.9l2.4-1.5l-0.5 0.7l-2.4 1.5z" fill="#004f35"/>
<path d="M318.4 265.4l2.3 1.7l-0.7 0.4l-2.3-1.7z" fill="#00724c"/>
<path d="M323.4 269.2l2.4 1.4l-0.8 0.8l-2.2-2.3z" fill="#00734d"/>
<path d="M255.5 267.7l2.4-1.3l-0.4 1.2l-2.4 1.2z" fill="#00583b"/>
<path d="M304.7 257.1l2.3 1.8l-0.6-0.3l-2.2-2.1z" fill="#004f35"/>
<path d="M260.6 264.5l2.4-0.8l-0.5 1.1l-2.4 0.8z" fill="#005c3d"/>
<path d="M309.8 260.8l2.3 1.6l-0.7 0.2l-2.2-1.8z" fill="#006141"/>
<path d="M265.6 261.9l2.4-1l-0.4 1l-2.4 1z" fill="#005237"/>
<path d="M314.9 263.7l2.2 1.5l-0.6 0.5l-2.3-1.7z" fill="#006e49"/>
<path d="M270.7 259.0l2.4-1.7l-0.5 0.5l-2.3 1.8z" fill="#004f35"/>
<path d="M319.9 266.5l2.3 1.9l-0.7 0.3l-2.2-1.8z" fill="#006f4a"/>
<path d="M324.9 270.1l2.4 0.6l-0.7 1.3l-2.3-1z" fill="#00895b"/>
<path d="M257.0 266.7l2.4-1l-0.4 1.1l-2.4 1.1z" fill="#005b3d"/>
<path d="M306.2 258.3l2.3 1.9l-0.6-0.2l-2.2-2.1z" fill="#005035"/>
<path d="M262.1 263.9l2.4-0.9l-0.4 1.1l-2.5 0.9z" fill="#006140"/>
<path d="M311.3 261.8l2.3 1.6l-0.7 0.3l-2.2-1.7z" fill="#006b48"/>
<path d="M267.1 261.3l2.4-1.3l-0.4 0.9l-2.4 1.3z" fill="#004f35"/>
<path d="M316.4 264.7l2.3 1.5l-0.7 0.5l-2.3-1.6z" fill="#00744d"/>
<path d="M272.3 257.9l2.3-1.9l-0.6 0.3l-2.2 2.1z" fill="#004f35"/>
<path d="M321.4 267.7l2.3 2l-0.7 0.2l-2.2-1.9z" fill="#00704b"/>
<path d="M258.5 265.9l2.4-0.9l-0.4 1.3l-2.4 0.8z" fill="#006241"/>
<path d="M307.7 259.5l2.3 1.8l-0.6 0l-2.2-2z" fill="#00583b"/>
<path d="M263.6 263.2l2.4-0.9l-0.4 1.1l-2.5 1z" fill="#005f3f"/>
<path d="M312.8 262.8l2.3 1.6l-0.7 0.4l-2.2-1.7z" fill="#006d48"/>
<path d="M268.7 260.5l2.3-1.5l-0.4 0.7l-2.4 1.6z" fill="#004f35"/>
<path d="M317.9 265.6l2.3 1.7l-0.7 0.4l-2.3-1.6z" fill="#00764f"/>
<path d="M323.0 269.0l2.2 2.2l-0.7 0.1l-2.2-2z" fill="#006f4a"/>
<path d="M255.0 268.5l2.4-1.2l-0.4 1.2l-2.4 1.2z" fill="#00593c"/>
<path d="M304.1 256.5l2.3 2.1l-0.5-0.4l-2.2-2.4z" fill="#004f35"/>
<path d="M260.0 265.2l2.5-0.8l-0.5 1.3l-2.4 0.8z" fill="#006241"/>
<path d="M309.3 260.7l2.2 1.8l-0.6 0.1l-2.3-1.9z" fill="#006141"/>
<path d="M265.1 262.6l2.4-1l-0.4 1.1l-2.4 1z" fill="#00583b"/>
<path d="M314.3 263.8l2.3 1.7l-0.7 0.4l-2.2-1.7z" fill="#00724c"/>
<path d="M270.2 259.5l2.3-1.7l-0.4 0.6l-2.3 1.9z" fill="#004f35"/>
<path d="M319.4 266.7l2.3 1.8l-0.7 0.4l-2.3-1.8z" fill="#007850"/>
<path d="M324.4 270.6l2.4 1l-0.8 1.2l-2.2-2.1z" fill="#007f55"/>
<path d="M256.5 267.6l2.4-1.1l-0.4 1.2l-2.4 1.1z" fill="#006241"/>
<path d="M305.7 257.9l2.2 2l-0.5-0.2l-2.2-2.2z" fill="#005136"/>
<path d="M261.6 264.6l2.4-0.8l-0.5 1.2l-2.4 0.9z" fill="#006141"/>
<path d="M310.8 261.8l2.3 1.8l-0.7 0.3l-2.3-1.9z" fill="#006846"/>
<path d="M266.6 261.9l2.4-1.2l-0.4 1l-2.4 1.3z" fill="#005438"/>
<path d="M315.9 264.9l2.2 1.6l-0.7 0.5l-2.2-1.7z" fill="#00714b"/>
<path d="M271.8 258.4l2.2-2.1l-0.5 0.6l-2.2 2.2z" fill="#004f35"/>
<path d="M320.9 267.8l2.3 2l-0.7 0.3l-2.2-1.9z" fill="#00774f"/>
<path d="M258.0 266.7l2.4-0.8l-0.4 1.3l-2.4 0.8z" fill="#006745"/>
<path d="M307.2 259.2l2.3 2.1l-0.7-0.1l-2.2-2.2z" fill="#005e3f"/>
<path d="M263.1 264.0l2.4-0.9l-0.5 1.2l-2.4 0.9z" fill="#006241"/>
<path d="M312.3 262.9l2.3 1.7l-0.7 0.4l-2.3-1.7z" fill="#00704b"/>
<path d="M268.1 261.1l2.4-1.5l-0.4 0.9l-2.4 1.6z" fill="#004f35"/>
<path d="M317.4 265.9l2.3 1.6l-0.7 0.5l-2.3-1.6z" fill="#007750"/>
<path d="M322.5 269.1l2.2 2.1l-0.7 0.2l-2.2-1.9z" fill="#00764e"/>
<path d="M327.5 271.5l2.3 0.5l-0.7 1.3l-2.3-0.5z" fill="#009161"/>
<path d="M254.5 269.3l2.3-1.1l-0.4 1.3l-2.3 1.2z" fill="#006442"/>
<path d="M259.5 266.0l2.4-0.7l-0.4 1.3l-2.4 0.7z" fill="#006946"/>
<path d="M308.8 260.6l2.2 1.9l-0.7 0.2l-2.2-2.2z" fill="#006544"/>
<path d="M264.6 263.3l2.4-1l-0.4 1.2l-2.4 1z" fill="#005e3e"/>
<path d="M313.8 264.0l2.3 1.7l-0.7 0.5l-2.3-1.8z" fill="#00774f"/>
<path d="M269.7 260.1l2.3-1.8l-0.4 0.9l-2.4 1.8z" fill="#004f35"/>
<path d="M318.9 266.9l2.3 1.7l-0.7 0.5l-2.3-1.6z" fill="#007b52"/>
<path d="M324.0 270.5l2.2 2.1l-0.7 0.4l-2.2-2.3z" fill="#007e54"/>
<path d="M256.0 268.4l2.4-1l-0.4 1.3l-2.4 1.1z" fill="#006242"/>
<path d="M305.2 257.4l2.2 2.3l-0.6-0.2l-2.1-2.6z" fill="#004f35"/>
<path d="M261.0 265.4l2.4-0.8l-0.4 1.3l-2.4 0.8z" fill="#006644"/>
<path d="M310.3 261.8l2.2 1.9l-0.6 0.3l-2.3-2z" fill="#006b47"/>
<path d="M266.1 262.7l2.4-1.3l-0.4 1.2l-2.4 1.2z" fill="#00583b"/>
<path d="M315.3 265.1l2.3 1.7l-0.7 0.5l-2.2-1.7z" fill="#007a52"/>
<path d="M271.2 259.0l2.3-2.1l-0.5 0.7l-2.2 2.2z" fill="#004f35"/>
<path d="M320.4 268.0l2.3 1.9l-0.7 0.4l-2.3-1.8z" fill="#007a52"/>
<path d="M325.4 272.0l2.4 0.6l-0.8 1.3l-2.3-1.4z" fill="#008357"/>
<path d="M257.5 267.6l2.4-0.9l-0.5 1.4l-2.3 0.8z" fill="#006644"/>
<path d="M306.7 259.0l2.2 2.2l-0.6-0.1l-2.2-2.4z" fill="#006241"/>
<path d="M262.5 264.8l2.4-0.9l-0.4 1.3l-2.4 0.9z" fill="#006644"/>
<path d="M311.8 263.1l2.3 1.8l-0.7 0.4l-2.3-1.9z" fill="#00744e"/>
<path d="M267.6 261.8l2.4-1.5l-0.4 1.1l-2.4 1.5z" fill="#005136"/>
<path d="M316.9 266.2l2.2 1.6l-0.7 0.6l-2.2-1.7z" fill="#007c53"/>
<path d="M272.8 257.6l2.2-2.6l-0.5 0.7l-2.2 2.6z" fill="#004f35"/>
<path d="M321.9 269.3l2.3 2l-0.7 0.4l-2.3-2z" fill="#007b52"/>
<path d="M326.9 272.3l2.4 0.5l-0.7 1.3l-2.3-0.5z" fill="#008f60"/>
<path d="M253.9 270.3l2.4-1.2l-0.4 1.4l-2.4 1.2z" fill="#006845"/>
<path d="M303.2 254.9l2.1 2.7l-0.5-0.5l-2.1-3z" fill="#004f35"/>
<path d="M259.0 266.9l2.4-0.8l-0.4 1.4l-2.4 0.8z" fill="#006b47"/>
<path d="M308.3 260.4l2.2 2.2l-0.7 0.1l-2.2-2.3z" fill="#006644"/>
<path d="M264.1 264.1l2.3-0.9l-0.4 1.3l-2.4 0.9z" fill="#006442"/>
<path d="M313.3 264.2l2.3 1.7l-0.7 0.6l-2.3-1.8z" fill="#00774f"/>
<path d="M269.1 260.9l2.4-1.8l-0.4 1l-2.4 1.8z" fill="#005035"/>
<path d="M318.4 267.2l2.2 1.7l-0.7 0.6l-2.2-1.7z" fill="#008156"/>
<path d="M274.4 255.8l2.1-2.9l-0.6 0.7l-2.1 2.9z" fill="#004f35"/>
<path d="M323.5 270.6l2.1 2.3l-0.6 0.2l-2.2-2.1z" fill="#007850"/>
<path d="M255.5 269.3l2.3-1l-0.4 1.4l-2.4 1.1z" fill="#006543"/>
<path d="M304.7 256.8l2.1 2.6l-0.6-0.2l-2-2.9z" fill="#005a3c"/>
<path d="M260.5 266.3l2.4-0.8l-0.4 1.4l-2.4 0.8z" fill="#006a47"/>
<path d="M309.8 261.9l2.2 2l-0.7 0.3l-2.2-2.2z" fill="#00714b"/>
<path d="M265.6 263.5l2.3-1.2l-0.4 1.3l-2.3 1.1z" fill="#006141"/>
<path d="M314.8 265.3l2.3 1.8l-0.7 0.5l-2.3-1.7z" fill="#007c53"/>
<path d="M270.7 259.7l2.3-2.1l-0.5 1l-2.2 2.1z" fill="#004f35"/>
<path d="M319.9 268.3l2.2 1.8l-0.7 0.6l-2.2-1.8z" fill="#007c53"/>
<path d="M324.9 272.2l2.3 1.4l-0.8 1l-2.1-2.2z" fill="#008358"/>
<path d="M301.2 252.0l2.1 2.9l-0.6-0.7l-2-3.1z" fill="#004f35"/>
<path d="M257.0 268.5l2.4-0.8l-0.5 1.4l-2.4 0.8z" fill="#006d49"/>
<path d="M306.2 258.6l2.2 2.5l-0.6 0l-2.2-2.7z" fill="#006443"/>
<path d="M262.0 265.6l2.4-0.8l-0.4 1.4l-2.4 0.8z" fill="#006c48"/>
<path d="M311.3 263.2l2.2 1.9l-0.7 0.5l-2.2-2.1z" fill="#007951"/>
<path d="M267.1 262.6l2.3-1.4l-0.3 1.3l-2.4 1.4z" fill="#005e3f"/>
<path d="M316.3 266.5l2.3 1.7l-0.7 0.6l-2.3-1.8z" fill="#008257"/>
<path d="M272.3 258.3l2.1-2.6l-0.4 1l-2.2 2.5z" fill="#004f35"/>
<path d="M321.4 269.5l2.2 2l-0.7 0.5l-2.2-2z" fill="#007e54"/>
<path d="M326.4 273.1l2.3 0.6l-0.6 1.3l-2.4-0.7z" fill="#009060"/>
<path d="M253.4 271.3l2.4-1.2l-0.4 1.4l-2.4 1.4z" fill="#006846"/>
<path d="M302.7 254.1l2.1 2.9l-0.6-0.5l-2-3.1z" fill="#00583b"/>
<path d="M258.5 267.8l2.4-0.7l-0.5 1.4l-2.4 0.7z" fill="#00714c"/>
<path d="M307.8 260.3l2.1 2.3l-0.6 0.2l-2.2-2.5z" fill="#006a47"/>
<path d="M263.5 265.0l2.4-0.9l-0.4 1.4l-2.4 0.9z" fill="#006b47"/>
<path d="M312.8 264.5l2.2 1.8l-0.7 0.5l-2.2-1.9z" fill="#007c52"/>
<path d="M268.6 261.7l2.3-1.8l-0.3 1.3l-2.4 1.7z" fill="#00583b"/>
<path d="M317.9 267.6l2.2 1.6l-0.7 0.7l-2.3-1.7z" fill="#008055"/>
<path d="M273.8 256.5l2.1-2.9l-0.4 1l-2.2 2.8z" fill="#004f35"/>
<path d="M322.9 270.8l2.2 2.1l-0.7 0.4l-2.2-2z" fill="#007d54"/>
<path d="M254.9 270.3l2.4-1l-0.4 1.5l-2.4 1z" fill="#006c48"/>
<path d="M304.2 256.2l2.1 2.9l-0.6-0.2l-2-3.2z" fill="#005b3d"/>
<path d="M260.0 267.2l2.4-0.8l-0.5 1.5l-2.3 0.8z" fill="#00704b"/>
<path d="M309.3 261.9l2.2 2.1l-0.7 0.4l-2.2-2.4z" fill="#007850"/>
<path d="M265.0 264.3l2.4-1.1l-0.4 1.4l-2.4 1.1z" fill="#006744"/>
<path d="M314.3 265.6l2.3 1.8l-0.8 0.6l-2.2-1.8z" fill="#008156"/>
<path d="M270.1 260.5l2.3-2l-0.4 1.2l-2.3 2z" fill="#005136"/>
<path d="M319.4 268.7l2.2 1.7l-0.7 0.6l-2.2-1.7z" fill="#008458"/>
<path d="M275.3 254.4l2.1-3l-0.4 1l-2.1 3z" fill="#004f35"/>
<path d="M324.5 272.2l2.1 2.2l-0.7 0.6l-2.1-2.4z" fill="#008559"/>
<path d="M300.7 251.1l2 3.1l-0.5-0.5l-2.1-3.4z" fill="#005639"/>
<path d="M256.5 269.4l2.3-0.8l-0.4 1.5l-2.4 0.9z" fill="#00724c"/>
<path d="M305.7 258.3l2.2 2.7l-0.7 0l-2.1-3z" fill="#006b48"/>
<path d="M261.5 266.6l2.4-0.8l-0.5 1.5l-2.3 0.7z" fill="#00714c"/>
<path d="M310.8 263.3l2.2 2.1l-0.7 0.4l-2.2-2.1z" fill="#007951"/>
<path d="M266.5 263.5l2.4-1.3l-0.4 1.4l-2.3 1.3z" fill="#006241"/>
<path d="M315.8 266.8l2.3 1.7l-0.7 0.7l-2.3-1.8z" fill="#008055"/>
<path d="M271.7 259.1l2.2-2.5l-0.4 1.3l-2.2 2.4z" fill="#004f35"/>
<path d="M320.9 269.8l2.2 1.9l-0.7 0.6l-2.2-1.9z" fill="#008458"/>
<path d="M276.9 252.2l2-3.1l-0.5 1l-2 3.1z" fill="#004f35"/>
<path d="M325.9 273.8l2.3 0.7l-0.7 1.3l-2.3-1.3z" fill="#008559"/>
<path d="M252.9 272.4l2.3-1.3l-0.3 1.5l-2.4 1.5z" fill="#006946"/>
<path d="M302.2 253.4l2.1 3.1l-0.6-0.3l-2.1-3.3z" fill="#006442"/>
<path d="M258.0 268.7l2.3-0.7l-0.4 1.6l-2.4 0.7z" fill="#00774f"/>
<path d="M307.3 260.2l2.1 2.5l-0.7 0.2l-2.1-2.7z" fill="#00744d"/>
<path d="M263.0 265.9l2.4-0.8l-0.4 1.5l-2.4 0.8z" fill="#00714b"/>
<path d="M312.3 264.7l2.2 1.9l-0.7 0.6l-2.2-2z" fill="#008055"/>
<path d="M268.1 262.6l2.3-1.7l-0.4 1.5l-2.3 1.6z" fill="#006443"/>
<path d="M317.3 267.9l2.3 1.7l-0.7 0.8l-2.3-1.8z" fill="#008659"/>
<path d="M273.2 257.3l2.2-2.8l-0.4 1.3l-2.2 2.8z" fill="#004f35"/>
<path d="M322.4 271.1l2.2 2l-0.7 0.6l-2.2-2.1z" fill="#008659"/>
<path d="M278.4 249.9l2-3.3l-0.5 1l-2 3.4z" fill="#004f35"/>
<path d="M298.7 247.8l2 3.4l-0.6-0.5l-2-3.8z" fill="#005a3c"/>
<path d="M254.4 271.4l2.4-1.1l-0.4 1.6l-2.4 1z" fill="#006d49"/>
<path d="M303.7 255.7l2.1 3.1l-0.6-0.1l-2.1-3.4z" fill="#006946"/>
<path d="M259.5 268.2l2.4-0.8l-0.5 1.6l-2.4 0.7z" fill="#007850"/>
<path d="M308.8 261.9l2.1 2.3l-0.7 0.4l-2.1-2.5z" fill="#007b52"/>
<path d="M264.5 265.3l2.4-1.1l-0.4 1.6l-2.4 1z" fill="#006e49"/>
<path d="M313.8 266.0l2.2 1.8l-0.7 0.6l-2.2-1.8z" fill="#00875a"/>
<path d="M269.6 261.4l2.3-1.9l-0.3 1.6l-2.4 1.7z" fill="#005d3e"/>
<path d="M318.9 269.1l2.2 1.7l-0.7 0.7l-2.3-1.7z" fill="#00895b"/>
<path d="M274.8 255.3l2.1-2.9l-0.4 1.4l-2.2 2.8z" fill="#004f35"/>
<path d="M324.0 272.5l2.1 2.3l-0.7 0.4l-2.2-2.2z" fill="#008256"/>
<path d="M279.9 247.4l2-3.6l-0.5 1.1l-2 3.6z" fill="#004f35"/>
<path d="M300.2 250.3l2 3.4l-0.6-0.3l-2-3.6z" fill="#006845"/>
<path d="M255.9 270.5l2.4-0.9l-0.4 1.6l-2.4 0.9z" fill="#00744d"/>
<path d="M305.2 258.0l2.1 2.9l-0.6 0.1l-2.1-3.2z" fill="#00714c"/>
<path d="M261.0 267.5l2.4-0.7l-0.5 1.6l-2.3 0.7z" fill="#00754e"/>
<path d="M310.3 263.5l2.2 2.2l-0.8 0.5l-2.1-2.3z" fill="#008055"/>
<path d="M266.0 264.5l2.4-1.3l-0.4 1.7l-2.4 1.1z" fill="#006c48"/>
<path d="M315.3 267.2l2.3 1.7l-0.8 0.7l-2.2-1.8z" fill="#008a5c"/>
<path d="M271.1 260.1l2.3-2.4l-0.4 1.6l-2.2 2.2z" fill="#00573a"/>
<path d="M320.4 270.2l2.2 1.9l-0.7 0.6l-2.3-1.8z" fill="#00895b"/>
<path d="M276.3 253.2l2.1-3.1l-0.4 1.5l-2.1 2.9z" fill="#004f35"/>
<path d="M325.4 274.1l2.3 1.4l-0.8 1.1l-2.2-2z" fill="#008d5e"/>
<path d="M281.5 244.7l1.9-3.9l-0.5 1.2l-2 3.8z" fill="#004f35"/>
<path d="M296.7 244.1l1.9 3.7l-0.6-0.5l-1.9-4.1z" fill="#005f3f"/>
<path d="M252.4 273.6l2.3-1.4l-0.3 1.6l-2.4 1.4z" fill="#006d48"/>
<path d="M301.7 252.8l2 3.3l-0.6-0.1l-2-3.5z" fill="#006c48"/>
<path d="M257.5 269.7l2.3-0.6l-0.4 1.6l-2.4 0.7z" fill="#007d53"/>
<path d="M306.8 260.1l2.1 2.7l-0.7 0.3l-2.1-2.9z" fill="#007d53"/>
<path d="M262.5 266.9l2.4-0.8l-0.5 1.6l-2.3 0.8z" fill="#007850"/>
<path d="M311.8 265.0l2.2 2l-0.7 0.6l-2.2-2.1z" fill="#008458"/>
<path d="M267.5 263.6l2.4-1.5l-0.4 1.7l-2.3 1.3z" fill="#006946"/>
<path d="M316.8 268.3l2.3 1.8l-0.8 0.7l-2.2-1.8z" fill="#008c5d"/>
<path d="M272.7 258.4l2.2-2.7l-0.4 1.7l-2.2 2.5z" fill="#00583b"/>
<path d="M321.9 271.4l2.2 2.1l-0.7 0.6l-2.2-2z" fill="#008c5d"/>
<path d="M277.8 250.9l2.1-3.3l-0.4 1.6l-2.1 3.1z" fill="#005237"/>
<path d="M283.0 241.7l1.9-4.3l-0.5 1.5l-1.9 4z" fill="#004f35"/>
<path d="M287.8 231.2l2.5-0.4l-0.6 0.1l-2.4 0.6z" fill="#004f35"/>
<path d="M293.1 236.5l1.9 4.3l-0.5-0.8l-1.9-5.5z" fill="#00593b"/>
<path d="M298.2 246.9l2 3.7l-0.7-0.2l-1.9-4z" fill="#006a47"/>
<path d="M253.9 272.4l2.3-1l-0.4 1.7l-2.3 1z" fill="#00734d"/>
<path d="M303.2 255.3l2.1 3.3l-0.7 0l-2-3.4z" fill="#007850"/>
<path d="M259.0 269.2l2.3-0.7l-0.4 1.6l-2.4 0.7z" fill="#007a51"/>
<path d="M308.3 262.0l2.1 2.4l-0.7 0.5l-2.1-2.6z" fill="#008257"/>
<path d="M264.0 266.3l2.4-1l-0.5 1.7l-2.3 0.9z" fill="#00744d"/>
<path d="M313.3 266.3l2.2 1.9l-0.7 0.7l-2.2-1.9z" fill="#008a5c"/>
<path d="M269.0 262.5l2.4-1.8l-0.4 1.8l-2.3 1.6z" fill="#006744"/>
<path d="M318.3 269.5l2.3 1.7l-0.8 0.8l-2.2-1.7z" fill="#008e5f"/>
<path d="M274.2 256.4l2.2-2.8l-0.4 1.8l-2.2 2.6z" fill="#00593b"/>
<path d="M323.4 272.8l2.2 2.2l-0.7 0.5l-2.2-2.1z" fill="#00885b"/>
<path d="M279.3 248.4l2.1-3.5l-0.4 1.8l-2.1 3.3z" fill="#005438"/>
<path d="M284.5 238.4l1.9-5.4l-0.5 1.9l-1.9 4.9z" fill="#004f35"/>
<path d="M289.4 230.5l2.4 1.4l-0.7 0.5l-2.3-1.6z" fill="#006e49"/>
<path d="M294.7 239.9l1.9 4.2l-0.6-0.4l-1.9-4.6z" fill="#006d48"/>
<path d="M299.7 249.7l2 3.6l-0.7 0l-1.9-3.8z" fill="#00754e"/>
<path d="M255.4 271.6l2.4-0.9l-0.5 1.7l-2.3 0.9z" fill="#007850"/>
<path d="M304.8 257.7l2 3.2l-0.7 0.2l-2-3.3z" fill="#007e54"/>
<path d="M260.5 268.6l2.3-0.8l-0.4 1.7l-2.4 0.7z" fill="#007951"/>
<path d="M309.8 263.7l2.1 2.3l-0.7 0.5l-2.1-2.3z" fill="#008559"/>
<path d="M265.5 265.5l2.4-1.1l-0.4 1.8l-2.4 1z" fill="#00714c"/>
<path d="M314.8 267.6l2.2 1.8l-0.7 0.7l-2.2-1.8z" fill="#008d5e"/>
<path d="M270.6 261.2l2.2-2.1l-0.3 1.9l-2.3 1.9z" fill="#006644"/>
<path d="M319.9 270.6l2.2 1.8l-0.7 0.8l-2.3-1.8z" fill="#008d5e"/>
<path d="M275.7 254.3l2.2-2.9l-0.3 2l-2.3 2.7z" fill="#005f3f"/>
<path d="M324.9 274.3l2.2 2.1l-0.7 0.8l-2.2-2.4z" fill="#009362"/>
<path d="M280.8 245.7l2.1-3.7l-0.3 2.1l-2.2 3.4z" fill="#005c3d"/>
<path d="M285.8 233.7l2.2-2.7l-0.4 1.4l-2.1 3.4z" fill="#00593b"/>
<path d="M291.1 231.3l2 4.1l-0.7-0.2l-1.9-3.6z" fill="#008156"/>
<path d="M296.2 243.2l1.9 4.1l-0.6-0.1l-1.9-4.4z" fill="#007a51"/>
<path d="M251.8 274.8l2.4-1.4l-0.4 1.8l-2.3 1z" fill="#006d49"/>
<path d="M301.2 252.5l2 3.5l-0.6 0.1l-2-3.6z" fill="#007f55"/>
<path d="M257.0 270.8l2.3-0.7l-0.5 1.7l-2.3 0.7z" fill="#007951"/>
<path d="M306.3 260.1l2 2.9l-0.7 0.4l-2-3.1z" fill="#008156"/>
<path d="M262.0 267.9l2.3-0.7l-0.4 1.7l-2.3 0.7z" fill="#007e54"/>
<path d="M311.3 265.3l2.2 2.1l-0.8 0.7l-2.2-2.2z" fill="#00895b"/>
<path d="M267.0 264.6l2.4-1.3l-0.4 1.9l-2.3 1.2z" fill="#00704b"/>
<path d="M316.3 268.8l2.3 1.8l-0.8 0.8l-2.2-1.9z" fill="#009362"/>
<path d="M272.1 259.6l2.2-2.4l-0.2 2l-2.3 2.2z" fill="#006342"/>
<path d="M321.4 271.8l2.2 2l-0.7 0.7l-2.3-1.9z" fill="#008e5f"/>
<path d="M277.2 252.1l2.2-3l-0.3 2.2l-2.2 2.7z" fill="#006544"/>
<path d="M282.3 242.8l2.1-3.9l-0.3 2.7l-2.1 3.3z" fill="#006141"/>
<path d="M287.4 231.0l2.2-0.4l-0.6 2.3l-2.2 0.2z" fill="#00a26c"/>
<path d="M292.7 234.5l1.8 5.5l-0.6 0.2l-1.8-6z" fill="#008559"/>
<path d="M297.7 246.4l1.9 3.9l-0.6 0.2l-1.9-4.2z" fill="#008257"/>
<path d="M253.4 273.6l2.3-1l-0.4 1.7l-2.3 1.1z" fill="#00754e"/>
<path d="M302.7 255.1l2 3.4l-0.6 0.3l-2-3.5z" fill="#008156"/>
<path d="M258.5 270.2l2.3-0.6l-0.5 1.7l-2.3 0.6z" fill="#008156"/>
<path d="M307.8 262.2l2.1 2.5l-0.7 0.6l-2.2-2.7z" fill="#008b5d"/>
<path d="M263.5 267.3l2.3-0.8l-0.4 1.8l-2.3 0.7z" fill="#007c53"/>
<path d="M312.8 266.7l2.2 2l-0.8 0.7l-2.2-2z" fill="#009161"/>
<path d="M268.5 263.6l2.3-1.5l-0.3 1.9l-2.3 1.4z" fill="#00724c"/>
<path d="M317.8 270.0l2.3 1.7l-0.8 0.8l-2.2-1.7z" fill="#009161"/>
<path d="M273.6 257.7l2.2-2.5l-0.2 2.1l-2.3 2.4z" fill="#006946"/>
<path d="M322.9 273.2l2.2 2.1l-0.7 0.7l-2.2-2.1z" fill="#008d5e"/>
<path d="M278.7 249.8l2.2-3.2l-0.3 2.5l-2.2 2.8z" fill="#006644"/>
<path d="M283.8 239.7l2-4.8l-0.1 4.2l-2.2 3.2z" fill="#00744d"/>
<path d="M289.1 230.5l2.2 1.4l-0.9 1.9l-2.2-1.2z" fill="#02d791"/>
<path d="M294.2 239.1l1.9 4.6l-0.7 0.4l-1.9-4.9z" fill="#008d5e"/>
<path d="M299.2 249.4l2 3.9l-0.7 0.3l-1.9-4z" fill="#00875a"/>
<path d="M254.9 272.7l2.3-0.9l-0.4 1.8l-2.3 0.9z" fill="#007950"/>
<path d="M304.2 257.7l2.1 3.3l-0.7 0.4l-2-3.5z" fill="#00895c"/>
<path d="M260.0 269.6l2.3-0.6l-0.5 1.7l-2.3 0.6z" fill="#008156"/>
<path d="M309.3 264.0l2.1 2.4l-0.7 0.6l-2.2-2.5z" fill="#008f60"/>
<path d="M265.0 266.6l2.3-1l-0.4 1.9l-2.3 0.9z" fill="#007c53"/>
<path d="M314.3 268.0l2.2 1.9l-0.7 0.8l-2.3-1.9z" fill="#009161"/>
<path d="M270.0 262.4l2.3-1.8l-0.3 2.2l-2.3 1.5z" fill="#00734d"/>
<path d="M319.3 271.1l2.3 1.8l-0.8 0.8l-2.2-1.7z" fill="#009362"/>
<path d="M275.1 255.7l2.2-2.6l-0.2 2.4l-2.3 2.3z" fill="#006b47"/>
<path d="M324.4 274.6l2.2 2.4l-0.8 0.7l-2.1-2.4z" fill="#008f60"/>
<path d="M280.2 247.2l2.1-3.2l-0.2 3l-2.2 2.7z" fill="#00704b"/>
<path d="M285.4 235.0l2-2.7l-0.4 4.5l-2 2.7z" fill="#009764"/>
<path d="M290.6 231.5l2.1 3.4l-0.8 2.1l-2.1-3.9z" fill="#00c583"/>
<path d="M295.7 242.8l1.9 4.4l-0.7 0.5l-1.9-4.5z" fill="#009463"/>
<path d="M251.3 275.7l2.4-1l-0.5 2.1l-2.3 0.2z" fill="#008156"/>
<path d="M300.7 252.4l2 3.6l-0.7 0.5l-2-3.8z" fill="#008d5e"/>
<path d="M256.4 271.9l2.4-0.7l-0.5 1.8l-2.3 0.7z" fill="#008056"/>
<path d="M305.8 260.2l2 3l-0.7 0.6l-2-3.2z" fill="#008e5f"/>
<path d="M261.5 269.0l2.3-0.6l-0.5 1.7l-2.3 0.7z" fill="#008357"/>
<path d="M310.8 265.6l2.1 2.2l-0.7 0.8l-2.2-2.3z" fill="#009362"/>
<path d="M266.5 265.8l2.3-1.2l-0.4 2l-2.3 1z" fill="#007a51"/>
<path d="M315.8 269.3l2.2 1.8l-0.7 0.8l-2.3-1.8z" fill="#009664"/>
<path d="M271.5 261.0l2.3-2.2l-0.3 2.4l-2.2 1.9z" fill="#00714b"/>
<path d="M320.9 272.3l2.2 2l-0.8 0.7l-2.2-1.9z" fill="#009462"/>
<path d="M276.6 253.6l2.2-2.6l-0.2 2.7l-2.2 2.3z" fill="#00764f"/>
<path d="M281.7 244.4l2.1-3.1l-0.2 3.8l-2.2 2.3z" fill="#008257"/>
<path d="M287.1 232.3l1.9-0.2l-0.6 4.1l-1.9 0.7z" fill="#01d08b"/>
<path d="M292.2 234.2l1.8 5.9l-0.7 1.6l-1.8-5.6z" fill="#00b578"/>
<path d="M297.2 246.3l1.9 4.1l-0.7 0.7l-1.9-4.3z" fill="#009664"/>
<path d="M252.9 274.9l2.3-1.1l-0.4 1.8l-2.3 1.3z" fill="#00754e"/>
<path d="M302.2 255.2l2 3.5l-0.7 0.5l-2-3.6z" fill="#009664"/>
<path d="M258.0 271.3l2.3-0.6l-0.5 1.8l-2.3 0.6z" fill="#008659"/>
<path d="M307.2 262.4l2.2 2.7l-0.8 0.7l-2.1-2.8z" fill="#009261"/>
<path d="M263.0 268.4l2.3-0.7l-0.4 1.9l-2.4 0.6z" fill="#008257"/>
<path d="M312.3 267.2l2.2 2l-0.8 0.8l-2.2-2.1z" fill="#009765"/>
<path d="M268.0 264.8l2.3-1.3l-0.4 2.1l-2.2 1.2z" fill="#007d53"/>
<path d="M317.3 270.5l2.2 1.8l-0.7 0.8l-2.2-1.8z" fill="#009463"/>
<path d="M273.1 259.2l2.2-2.2l-0.3 2.5l-2.2 2z" fill="#00714b"/>
<path d="M322.4 273.6l2.2 2.1l-0.8 0.8l-2.2-2.1z" fill="#009564"/>
<path d="M278.1 251.4l2.2-2.6l-0.2 3.1l-2.2 2.2z" fill="#007c53"/>
<path d="M283.3 241.5l2-3l-0.4 4.8l-1.9 2z" fill="#009564"/>
<path d="M288.6 232.0l1.9 1l-0.7 4.6l-1.9-1.5z" fill="#41ffff"/>
<path d="M293.7 239.2l1.9 4.8l-0.7 1.4l-2-4.6z" fill="#00b679"/>
<path d="M298.7 249.6l2 3.9l-0.7 0.7l-2-4z" fill="#009a67"/>
<path d="M254.4 273.9l2.3-0.9l-0.4 1.9l-2.3 0.9z" fill="#007d53"/>
<path d="M303.7 257.8l2.1 3.5l-0.8 0.6l-2-3.5z" fill="#009564"/>
<path d="M259.5 270.8l2.3-0.7l-0.5 1.9l-2.3 0.5z" fill="#008055"/>
<path d="M308.8 264.4l2.1 2.4l-0.8 0.7l-2.1-2.5z" fill="#009664"/>
<path d="M264.5 267.8l2.3-0.9l-0.4 2l-2.3 0.7z" fill="#008257"/>
<path d="M313.8 268.5l2.2 1.9l-0.8 0.9l-2.2-1.9z" fill="#009865"/>
<path d="M269.5 263.8l2.3-1.6l-0.4 2.3l-2.2 1.3z" fill="#007e54"/>
<path d="M318.8 271.7l2.3 1.7l-0.8 0.9l-2.2-1.7z" fill="#009664"/>
<path d="M274.6 257.3l2.2-2.2l-0.3 2.7l-2.2 2z" fill="#007b52"/>
<path d="M323.9 275.1l2.2 2.4l-0.8 0.6l-2.1-2.3z" fill="#009362"/>
<path d="M279.7 249.0l2.1-2.5l-0.3 3.6l-2.1 2z" fill="#00885b"/>
<path d="M285.0 238.6l1.8-2.6l-0.5 6.1l-1.8 1.3z" fill="#00b378"/>
<path d="M290.2 232.9l2 3.5l-0.9 4.3l-2.1-3.5z" fill="#0cfdb3"/>
<path d="M295.2 243.2l1.9 4.4l-0.7 1.3l-2-4.4z" fill="#00b277"/>
<path d="M250.9 276.4l2.3-0.2l-0.6 1.9l-2.3-0.4z" fill="#009362"/>
<path d="M300.2 252.6l2 3.8l-0.7 0.7l-2-3.8z" fill="#009d69"/>
<path d="M255.9 273.1l2.3-0.7l-0.4 1.8l-2.3 0.8z" fill="#008458"/>
<path d="M305.2 260.5l2.1 3.1l-0.7 0.7l-2.1-3.3z" fill="#009865"/>
<path d="M261.0 270.2l2.3-0.7l-0.5 1.9l-2.3 0.6z" fill="#008458"/>
<path d="M310.3 266.1l2.1 2.2l-0.7 0.9l-2.2-2.3z" fill="#009966"/>
<path d="M266.0 267.0l2.3-1l-0.4 2.1l-2.3 0.9z" fill="#008558"/>
<path d="M315.3 269.8l2.2 1.8l-0.8 0.9l-2.2-1.8z" fill="#009765"/>
<path d="M271.0 262.5l2.3-1.8l-0.3 2.6l-2.3 1.4z" fill="#007f54"/>
<path d="M320.3 272.9l2.3 1.9l-0.8 0.8l-2.2-1.9z" fill="#009664"/>
<path d="M276.1 255.4l2.2-2.2l-0.3 3l-2.2 1.9z" fill="#008458"/>
<path d="M281.3 246.6l2-2.3l-0.4 4.2l-2 1.8z" fill="#009664"/>
<path d="M286.6 236.0l1.8-0.8l-0.6 6.5l-1.8 0.4z" fill="#02d992"/>
<path d="M291.7 236.1l2 5.4l-0.9 2.6l-2.1-4z" fill="#01dc94"/>
<path d="M296.7 246.8l2 4.2l-0.8 1.1l-2-4.1z" fill="#00b075"/>
<path d="M252.3 276.3l2.3-1.2l-0.3 1.9l-2.4 1.1z" fill="#00744d"/>
<path d="M301.7 255.5l2 3.6l-0.7 0.8l-2-3.6z" fill="#009f6a"/>
<path d="M257.5 272.4l2.3-0.5l-0.5 1.8l-2.3 0.6z" fill="#008659"/>
<path d="M306.7 262.8l2.1 2.8l-0.7 0.8l-2.1-2.9z" fill="#009b67"/>
<path d="M262.5 269.6l2.3-0.6l-0.5 1.9l-2.3 0.5z" fill="#00875a"/>
<path d="M311.8 267.7l2.2 2l-0.8 0.9l-2.2-2.1z" fill="#009d69"/>
<path d="M267.5 266.2l2.3-1.2l-0.4 2.3l-2.3 0.9z" fill="#008659"/>
<path d="M316.8 271.0l2.2 1.8l-0.7 1l-2.3-1.9z" fill="#009966"/>
<path d="M272.6 260.9l2.2-2l-0.3 2.9l-2.2 1.7z" fill="#008357"/>
<path d="M321.9 274.1l2.2 2.1l-0.8 0.8l-2.2-2z" fill="#009664"/>
<path d="M277.7 253.4l2.1-2.2l-0.3 3.5l-2.2 1.7z" fill="#008d5e"/>
<path d="M282.9 244.4l1.9-2l-0.5 4.7l-1.9 1.4z" fill="#00a971"/>
<path d="M288.1 235.2l1.8 1.4l-0.6 6.1l-1.8-1z" fill="#1cffd6"/>
<path d="M293.2 240.7l2 4.5l-0.9 2.1l-2-3.9z" fill="#00d08b"/>
<path d="M298.2 250.1l2 4l-0.8 1.1l-2-3.9z" fill="#00ae74"/>
<path d="M253.9 275.2l2.3-0.9l-0.5 1.9l-2.2 1z" fill="#008055"/>
<path d="M303.2 258.3l2 3.4l-0.7 0.9l-2-3.5z" fill="#00a16b"/>
<path d="M259.0 271.9l2.3-0.6l-0.5 1.9l-2.3 0.5z" fill="#00895c"/>
<path d="M308.2 264.8l2.2 2.5l-0.8 0.9l-2.1-2.6z" fill="#009f6a"/>
<path d="M264.0 269.0l2.3-0.7l-0.5 2l-2.3 0.6z" fill="#00885b"/>
<path d="M313.3 269.1l2.2 1.9l-0.8 0.9l-2.2-1.9z" fill="#009c68"/>
<path d="M269.0 265.2l2.3-1.3l-0.4 2.4l-2.2 1.1z" fill="#00895b"/>
<path d="M318.3 272.3l2.2 1.7l-0.7 1l-2.3-1.8z" fill="#009a67"/>
<path d="M274.1 259.2l2.2-2l-0.4 3.1l-2.1 1.7z" fill="#008559"/>
<path d="M323.4 275.6l2.2 2.3l-0.8 0.7l-2.2-2.2z" fill="#009463"/>
<path d="M279.2 251.3l2.1-2l-0.4 3.9l-2 1.6z" fill="#009a67"/>
<path d="M284.5 242.4l1.8-1.3l-0.5 5.2l-1.9 0.8z" fill="#00c281"/>
<path d="M289.7 236.6l1.9 3.3l-0.8 4.7l-1.9-2z" fill="#24ffe9"/>
<path d="M294.7 244.4l2 4.3l-0.8 1.9l-2.1-4z" fill="#00c986"/>
<path d="M250.4 277.2l2.4 0.4l-0.7 1.4l-2.3-0.5z" fill="#009261"/>
<path d="M299.7 253.2l2 3.8l-0.8 1.1l-2-3.7z" fill="#00ad73"/>
<path d="M255.4 274.4l2.3-0.8l-0.5 1.9l-2.2 0.8z" fill="#008558"/>
<path d="M304.7 260.9l2.1 3.3l-0.8 0.8l-2-3.2z" fill="#00a06a"/>
<path d="M260.5 271.4l2.3-0.6l-0.5 1.9l-2.3 0.5z" fill="#00895b"/>
<path d="M309.7 266.6l2.2 2.3l-0.8 0.9l-2.1-2.3z" fill="#009c68"/>
<path d="M265.5 268.3l2.3-0.8l-0.5 2.1l-2.2 0.7z" fill="#00895b"/>
<path d="M314.8 270.4l2.2 1.8l-0.8 1l-2.2-1.8z" fill="#009f6a"/>
<path d="M270.6 264.1l2.2-1.5l-0.4 2.7l-2.2 1.1z" fill="#008d5e"/>
<path d="M319.8 273.4l2.2 1.9l-0.7 0.9l-2.2-1.8z" fill="#009a67"/>
<path d="M275.7 257.4l2.1-1.9l-0.4 3.3l-2.1 1.6z" fill="#009161"/>
<path d="M280.8 249.4l2-1.8l-0.5 4.3l-1.9 1.4z" fill="#00a66f"/>
<path d="M286.0 241.1l1.9-0.4l-0.6 5.5l-1.9 0.1z" fill="#03e098"/>
<path d="M291.2 239.7l2 3.9l-0.9 3.5l-2-2.8z" fill="#0effb8"/>
<path d="M296.2 247.9l2 4.1l-0.8 1.6l-2-3.8z" fill="#00c583"/>
<path d="M251.8 277.6l2.3-1.2l-0.5 2.3l-2.2 0.2z" fill="#008358"/>
<path d="M301.2 256.2l2 3.5l-0.7 1.1l-2.1-3.5z" fill="#00af75"/>
<path d="M256.9 273.7l2.3-0.6l-0.5 1.9l-2.2 0.6z" fill="#008a5c"/>
<path d="M306.2 263.4l2.1 2.8l-0.7 0.9l-2.1-2.8z" fill="#00a46e"/>
<path d="M262.0 270.8l2.3-0.6l-0.5 2l-2.3 0.5z" fill="#008e5f"/>
<path d="M311.2 268.3l2.2 2.1l-0.8 0.9l-2.1-2.1z" fill="#00a06b"/>
<path d="M267.0 267.6l2.3-1l-0.5 2.3l-2.2 0.8z" fill="#008a5c"/>
<path d="M316.3 271.6l2.2 1.9l-0.8 1l-2.2-1.9z" fill="#00a06b"/>
<path d="M272.1 262.8l2.2-1.7l-0.4 3l-2.2 1.3z" fill="#008c5d"/>
<path d="M321.4 274.7l2.1 2.1l-0.7 0.8l-2.2-2z" fill="#009b67"/>
<path d="M277.2 255.6l2.1-1.7l-0.4 3.6l-2.1 1.4z" fill="#009a67"/>
<path d="M282.4 247.6l1.9-1.4l-0.5 4.7l-1.9 1z" fill="#00b87b"/>
<path d="M287.6 240.7l1.9 1.1l-0.7 5.1l-1.9-0.8z" fill="#23ffe4"/>
<path d="M292.7 243.1l2 3.9l-0.9 2.9l-2.1-3.3z" fill="#03e69c"/>
<path d="M297.7 251.2l2 3.8l-0.8 1.6l-2-3.7z" fill="#00c080"/>
<path d="M253.4 276.5l2.2-0.9l-0.4 2l-2.2 1.1z" fill="#008156"/>
<path d="M302.7 258.9l2 3.5l-0.7 1.1l-2.1-3.5z" fill="#00ae74"/>
<path d="M258.5 273.1l2.2-0.5l-0.5 1.9l-2.2 0.5z" fill="#008c5d"/>
<path d="M307.7 265.4l2.2 2.6l-0.8 0.9l-2.2-2.5z" fill="#00a770"/>
<path d="M263.5 270.3l2.3-0.7l-0.5 2.1l-2.3 0.5z" fill="#008e5f"/>
<path d="M312.7 269.7l2.3 1.9l-0.8 1.1l-2.2-2z" fill="#00a26c"/>
<path d="M268.6 266.7l2.2-1.1l-0.5 2.5l-2.2 0.9z" fill="#008f5f"/>
<path d="M317.8 272.9l2.2 1.7l-0.8 1.1l-2.2-1.8z" fill="#00a06b"/>
<path d="M273.6 261.2l2.2-1.7l-0.4 3.3l-2.1 1.4z" fill="#009362"/>
<path d="M322.9 276.1l2.1 2.2l-0.7 0.8l-2.2-2.1z" fill="#009a67"/>
<path d="M278.8 253.9l2-1.6l-0.5 4l-2 1.2z" fill="#00a66e"/>
<path d="M284.0 246.2l1.8-0.9l-0.5 5l-1.9 0.5z" fill="#00cc88"/>
<path d="M289.1 241.7l2 2l-0.8 4.7l-1.9-1.6z" fill="#3effff"/>
<path d="M294.2 246.4l2 3.9l-0.9 2.4l-2.1-3.5z" fill="#01d992"/>
<path d="M299.2 254.2l2 3.7l-0.8 1.5l-2-3.6z" fill="#00bc7d"/>
<path d="M254.9 275.7l2.3-0.8l-0.5 2l-2.3 0.8z" fill="#008a5c"/>
<path d="M304.2 261.6l2.1 3.3l-0.8 1l-2.1-3.2z" fill="#00ac73"/>
<path d="M260.0 272.6l2.2-0.5l-0.5 1.9l-2.2 0.5z" fill="#009060"/>
<path d="M309.2 267.3l2.2 2.3l-0.8 1l-2.2-2.3z" fill="#00a76f"/>
<path d="M265.0 269.7l2.3-0.7l-0.5 2.1l-2.3 0.6z" fill="#009262"/>
<path d="M314.3 271.1l2.2 1.8l-0.8 1l-2.2-1.8z" fill="#00a06b"/>
<path d="M270.1 265.7l2.2-1.1l-0.5 2.6l-2.1 1z" fill="#009261"/>
<path d="M319.3 274.1l2.2 1.8l-0.7 1l-2.3-1.8z" fill="#00a26c"/>
<path d="M275.2 259.6l2.1-1.6l-0.5 3.5l-2 1.3z" fill="#009b67"/>
<path d="M280.4 252.4l1.9-1.4l-0.5 4.2l-1.9 1.1z" fill="#00b378"/>
<path d="M285.5 245.3l1.9-0.1l-0.6 5.1l-1.9-0.1z" fill="#07e9a1"/>
<path d="M290.6 243.6l2.1 2.8l-0.9 4l-2-2.2z" fill="#24ffe8"/>
<path d="M295.7 249.6l2 3.8l-0.8 2.1l-2.1-3.5z" fill="#00d58f"/>
<path d="M251.4 278.3l2.3-0.2l-0.6 2l-2.3-0.5z" fill="#009765"/>
<path d="M300.7 257.1l2 3.5l-0.8 1.4l-2-3.4z" fill="#00bb7d"/>
<path d="M256.4 275.0l2.3-0.7l-0.5 2l-2.3 0.7z" fill="#008a5c"/>
<path d="M305.7 264.1l2.1 2.8l-0.8 1.1l-2.1-2.8z" fill="#00b075"/>
<path d="M261.5 272.1l2.3-0.6l-0.6 2l-2.2 0.5z" fill="#009160"/>
<path d="M310.7 268.9l2.2 2.1l-0.8 1.1l-2.2-2.1z" fill="#00a870"/>
<path d="M266.5 269.0l2.3-0.8l-0.5 2.3l-2.2 0.7z" fill="#009261"/>
<path d="M315.8 272.3l2.2 1.8l-0.8 1.1l-2.2-1.8z" fill="#00a26c"/>
<path d="M271.6 264.6l2.2-1.3l-0.5 3l-2.1 1z" fill="#009966"/>
<path d="M320.8 275.3l2.2 2.1l-0.8 0.9l-2.1-2z" fill="#009d69"/>
<path d="M276.7 258.1l2.1-1.4l-0.5 3.6l-2 1.2z" fill="#00a36d"/>
<path d="M281.9 251.0l1.9-1.1l-0.5 4.5l-1.9 0.8z" fill="#00c281"/>
<path d="M287.1 245.2l1.8 0.8l-0.6 4.9l-1.9-0.7z" fill="#23ffe3"/>
<path d="M292.1 246.1l2.1 3.2l-0.9 3.4l-2.1-2.7z" fill="#0dffb6"/>
<path d="M297.2 252.7l2 3.6l-0.8 2l-2.1-3.5z" fill="#00cc88"/>
<path d="M252.8 278.1l2.3-1.1l-0.4 2.2l-2.3 0.8z" fill="#008257"/>
<path d="M302.2 259.9l2 3.4l-0.8 1.3l-2-3.3z" fill="#00b97c"/>
<path d="M257.9 274.3l2.3-0.5l-0.5 2l-2.3 0.5z" fill="#009060"/>
<path d="M307.2 266.2l2.1 2.5l-0.8 1.1l-2.1-2.5z" fill="#00af75"/>
<path d="M263.0 271.6l2.3-0.6l-0.6 2.1l-2.2 0.5z" fill="#009261"/>
<path d="M312.2 270.4l2.2 1.9l-0.8 1.1l-2.2-1.9z" fill="#00a870"/>
<path d="M268.1 268.2l2.2-0.8l-0.5 2.4l-2.2 0.7z" fill="#009664"/>
<path d="M317.3 273.6l2.2 1.7l-0.8 1.1l-2.2-1.8z" fill="#00a36d"/>
<path d="M273.1 263.4l2.2-1.4l-0.5 3.2l-2.1 1.1z" fill="#009d69"/>
<path d="M322.3 276.7l2.2 2.2l-0.7 0.9l-2.2-2.1z" fill="#009f6a"/>
<path d="M278.3 256.7l2-1.3l-0.5 3.9l-2 1z" fill="#00b076"/>
<path d="M283.5 249.9l1.8-0.6l-0.6 4.8l-1.8 0.3z" fill="#01d18c"/>
<path d="M288.6 245.9l1.9 1.6l-0.7 4.6l-2-1.3z" fill="#3dffff"/>
<path d="M293.6 248.9l2.1 3.4l-0.9 2.9l-2.1-3z" fill="#06eda3"/>
<path d="M298.7 255.6l2 3.5l-0.8 1.8l-2.1-3.3z" fill="#00c885"/>
<path d="M254.4 277.1l2.2-0.8l-0.4 2.1l-2.3 0.9z" fill="#008b5c"/>
<path d="M303.7 262.5l2.1 3.2l-0.8 1.3l-2.1-3.1z" fill="#00b77a"/>
<path d="M259.5 273.9l2.2-0.5l-0.5 2l-2.3 0.4z" fill="#009362"/>
<path d="M308.7 268.0l2.2 2.3l-0.8 1.2l-2.2-2.3z" fill="#00ae74"/>
<path d="M264.5 271.0l2.3-0.5l-0.6 2.1l-2.2 0.5z" fill="#009563"/>
<path d="M313.7 271.8l2.3 1.8l-0.8 1.1l-2.3-1.8z" fill="#00a870"/>
<path d="M269.6 267.4l2.2-0.9l-0.5 2.6l-2.2 0.8z" fill="#009a67"/>
<path d="M318.8 274.8l2.2 1.8l-0.8 1l-2.2-1.8z" fill="#00a56e"/>
<path d="M274.7 262.0l2.1-1.4l-0.5 3.6l-2.1 1.1z" fill="#00a36d"/>
<path d="M279.9 255.4l1.9-1.1l-0.5 4.2l-2 0.8z" fill="#00bd7e"/>
<path d="M285.0 249.3l1.9 0l-0.7 4.8l-1.8-0.1z" fill="#08eca4"/>
<path d="M290.1 247.4l2 2.2l-0.8 4.1l-2-1.8z" fill="#3bffff"/>
<path d="M295.1 251.7l2.1 3.5l-0.9 2.5l-2.1-3.1z" fill="#02e198"/>
<path d="M250.9 279.1l2.3 0.4l-0.6 1.4l-2.4-0.5z" fill="#009161"/>
<path d="M300.2 258.4l2 3.4l-0.8 1.7l-2.1-3.3z" fill="#00c785"/>
<path d="M255.9 276.3l2.3-0.7l-0.5 2.1l-2.3 0.8z" fill="#009060"/>
<path d="M305.2 265.0l2.1 2.7l-0.8 1.3l-2.1-2.7z" fill="#00b67a"/>
<path d="M261.0 273.4l2.2-0.5l-0.5 2.1l-2.2 0.4z" fill="#009563"/>
<path d="M310.2 269.7l2.2 2.1l-0.8 1.1l-2.2-2.1z" fill="#00b076"/>
<path d="M266.0 270.5l2.3-0.7l-0.6 2.3l-2.2 0.5z" fill="#009865"/>
<path d="M315.2 273.0l2.3 1.9l-0.8 1.1l-2.2-1.9z" fill="#00ab72"/>
<path d="M271.1 266.5l2.2-1l-0.5 2.9l-2.2 0.7z" fill="#009d69"/>
<path d="M320.3 276.0l2.2 2l-0.8 1l-2.2-2z" fill="#00a66f"/>
<path d="M276.3 260.7l2-1.3l-0.5 3.7l-2 1.1z" fill="#00ae74"/>
<path d="M281.4 254.3l1.9-0.8l-0.6 4.4l-1.9 0.5z" fill="#00c986"/>
<path d="M286.5 249.3l1.9 0.7l-0.7 4.7l-1.8-0.6z" fill="#1dffd5"/>
<path d="M291.6 249.4l2.1 2.6l-0.9 3.7l-2.1-2.2z" fill="#22ffe3"/>
<path d="M296.6 254.5l2.1 3.4l-0.9 2.3l-2.1-3.1z" fill="#01da92"/>
<path d="M252.3 279.5l2.3-1l-0.5 2.4l-2.3-0.1z" fill="#008f5f"/>
<path d="M301.7 261.1l2 3.3l-0.8 1.6l-2.1-3.2z" fill="#00c382"/>
<path d="M257.4 275.7l2.3-0.6l-0.5 2.1l-2.3 0.6z" fill="#009362"/>
<path d="M306.7 267.0l2.1 2.5l-0.8 1.3l-2.1-2.5z" fill="#00b87a"/>
<path d="M262.5 272.9l2.2-0.5l-0.5 2.1l-2.2 0.4z" fill="#009966"/>
<path d="M311.7 271.2l2.2 1.9l-0.8 1.2l-2.2-1.9z" fill="#00af74"/>
<path d="M267.6 269.8l2.2-0.7l-0.6 2.5l-2.1 0.5z" fill="#009c68"/>
<path d="M316.8 274.3l2.2 1.8l-0.8 1.1l-2.2-1.8z" fill="#00aa71"/>
<path d="M272.6 265.5l2.2-1.1l-0.5 3.2l-2.1 0.8z" fill="#00a36c"/>
<path d="M321.8 277.4l2.2 2.1l-0.8 1l-2.2-2.1z" fill="#00a36d"/>
<path d="M277.8 259.4l2-1l-0.6 3.9l-1.9 0.8z" fill="#00b77a"/>
<path d="M282.9 253.5l1.9-0.4l-0.6 4.5l-1.9 0.3z" fill="#02d690"/>
<path d="M288.0 249.9l2 1.3l-0.8 4.5l-1.9-1.1z" fill="#3bffff"/>
<path d="M293.1 251.7l2.1 2.9l-0.9 3.2l-2.1-2.4z" fill="#11ffbf"/>
<path d="M248.9 279.6l2.3 0.5l-0.7 1.3l-2.3-0.5z" fill="#009362"/>
<path d="M298.2 257.3l2 3.3l-0.8 2.1l-2.1-3.1z" fill="#00d48e"/>
<path d="M253.9 278.6l2.2-0.9l-0.4 2.2l-2.3 1z" fill="#008c5d"/>
<path d="M303.2 263.7l2.1 3l-0.9 1.5l-2.1-2.9z" fill="#00c180"/>
<path d="M259.0 275.1l2.2-0.4l-0.5 2l-2.3 0.5z" fill="#009161"/>
<path d="M308.2 268.9l2.2 2.3l-0.9 1.2l-2.1-2.2z" fill="#00b77a"/>
<path d="M264.0 272.4l2.3-0.5l-0.6 2.2l-2.2 0.4z" fill="#009a67"/>
<path d="M313.2 272.5l2.2 1.9l-0.8 1.1l-2.2-1.8z" fill="#00ab72"/>
<path d="M269.1 269.1l2.2-0.7l-0.6 2.6l-2.1 0.6z" fill="#00a36d"/>
<path d="M318.3 275.5l2.2 1.8l-0.8 1.1l-2.2-1.8z" fill="#00aa71"/>
<path d="M274.2 264.4l2-1.1l-0.5 3.5l-2 0.8z" fill="#00ab72"/>
<path d="M279.3 258.4l2-0.8l-0.6 4l-1.9 0.7z" fill="#00c181"/>
<path d="M284.5 253.1l1.9 0.1l-0.7 4.6l-1.9-0.2z" fill="#09efa7"/>
<path d="M289.6 251.1l1.9 1.8l-0.8 4.1l-1.9-1.5z" fill="#43ffff"/>
<path d="M294.6 254.2l2.1 3l-0.9 2.9l-2.1-2.7z" fill="#09f5aa"/>
<path d="M250.4 279.9l2.3 0.5l-0.7 1.3l-2.3-0.5z" fill="#009160"/>
<path d="M299.7 259.9l2 3.3l-0.8 1.9l-2.1-3.1z" fill="#00d18b"/>
<path d="M255.4 277.8l2.2-0.7l-0.5 2.1l-2.2 0.8z" fill="#009261"/>
<path d="M304.7 266.0l2.1 2.7l-0.8 1.4l-2.2-2.5z" fill="#00c080"/>
<path d="M260.5 274.7l2.2-0.4l-0.5 2.1l-2.3 0.3z" fill="#009a67"/>
<path d="M309.7 270.5l2.2 2.1l-0.8 1.3l-2.2-2.1z" fill="#00b478"/>
<path d="M265.5 271.9l2.3-0.5l-0.6 2.3l-2.2 0.4z" fill="#009e69"/>
<path d="M314.7 273.8l2.2 1.8l-0.8 1.2l-2.2-1.8z" fill="#00ad73"/>
<path d="M270.6 268.4l2.2-0.8l-0.6 2.8l-2.1 0.6z" fill="#00a770"/>
<path d="M319.8 276.7l2.2 2l-0.8 1.1l-2.2-2z" fill="#00ab72"/>
<path d="M275.7 263.3l2.1-1l-0.6 3.7l-2 0.8z" fill="#00b679"/>
<path d="M280.9 257.5l1.9-0.5l-0.6 4.2l-1.9 0.4z" fill="#01d08c"/>
<path d="M286.0 253.2l1.9 0.6l-0.7 4.4l-1.9-0.5z" fill="#1cffd3"/>
<path d="M291.1 252.7l2 2.2l-0.8 3.8l-2.1-1.8z" fill="#34ffff"/>
<path d="M296.1 256.7l2.1 3.1l-0.9 2.6l-2.1-2.8z" fill="#04e79e"/>
<path d="M251.9 280.2l2.3 0.1l-0.7 1.7l-2.3-0.5z" fill="#009a67"/>
<path d="M301.2 262.5l2.1 3.2l-0.9 1.8l-2.1-3z" fill="#00cc88"/>
<path d="M256.9 277.1l2.2-0.6l-0.5 2.1l-2.2 0.7z" fill="#009563"/>
<path d="M306.2 268.0l2.1 2.5l-0.8 1.4l-2.2-2.4z" fill="#00bf7f"/>
<path d="M262.0 274.3l2.2-0.5l-0.5 2.2l-2.3 0.3z" fill="#009a67"/>
<path d="M311.2 272.0l2.2 1.9l-0.8 1.3l-2.2-1.9z" fill="#00b277"/>
<path d="M267.1 271.4l2.1-0.6l-0.5 2.4l-2.2 0.5z" fill="#00a66f"/>
<path d="M316.2 275.1l2.3 1.7l-0.8 1.2l-2.3-1.7z" fill="#00ab72"/>
<path d="M272.2 267.6l2.1-0.8l-0.6 3l-2.1 0.6z" fill="#00af74"/>
<path d="M321.3 278.1l2.2 2.1l-0.8 1.1l-2.2-2.1z" fill="#00a870"/>
<path d="M277.3 262.3l2-0.9l-0.6 3.8l-2 0.8z" fill="#00bd7e"/>
<path d="M282.4 256.9l1.9-0.2l-0.6 4.3l-1.9 0.1z" fill="#03db95"/>
<path d="M287.5 253.7l2 1.1l-0.8 4.3l-1.9-0.9z" fill="#37ffff"/>
<path d="M292.6 254.7l2.1 2.5l-0.9 3.4l-2.1-2.1z" fill="#1fffdc"/>
<path d="M297.6 259.2l2.1 3.1l-0.9 2.4l-2.1-2.9z" fill="#02df96"/>
<path d="M253.3 280.3l2.3-1.1l-0.5 2.5l-2.3 0.3z" fill="#009060"/>
<path d="M302.7 265.0l2.1 2.9l-0.9 1.6l-2.1-2.6z" fill="#00cb87"/>
<path d="M258.4 276.5l2.3-0.4l-0.6 2.1l-2.2 0.5z" fill="#009a67"/>
<path d="M307.7 269.8l2.1 2.3l-0.8 1.3l-2.2-2.1z" fill="#00bb7d"/>
<path d="M263.5 273.8l2.2-0.4l-0.5 2.2l-2.2 0.3z" fill="#009c68"/>
<path d="M312.7 273.4l2.2 1.8l-0.8 1.2l-2.2-1.8z" fill="#00b276"/>
<path d="M268.6 270.8l2.1-0.6l-0.5 2.6l-2.2 0.4z" fill="#00a76f"/>
<path d="M317.8 276.3l2.2 1.8l-0.8 1.2l-2.2-1.8z" fill="#00ae74"/>
<path d="M273.7 266.8l2.1-0.9l-0.6 3.3l-2 0.5z" fill="#00b276"/>
<path d="M278.8 261.4l2-0.7l-0.6 4l-1.9 0.5z" fill="#00c885"/>
<path d="M283.9 256.7l2 0.1l-0.7 4.4l-1.9-0.2z" fill="#0bf3ab"/>
<path d="M289.0 254.7l2 1.5l-0.8 4.1l-1.9-1.3z" fill="#45ffff"/>
<path d="M294.1 256.9l2.1 2.6l-0.9 3.1l-2.1-2.4z" fill="#12ffc0"/>
<path d="M299.1 261.7l2.1 3.1l-0.8 2.2l-2.2-2.9z" fill="#01d991"/>
<path d="M254.9 279.3l2.2-0.7l-0.5 2.2l-2.2 0.9z" fill="#009462"/>
<path d="M304.2 267.3l2.1 2.5l-0.9 1.6l-2.1-2.5z" fill="#00c684"/>
<path d="M260.0 276.0l2.2-0.3l-0.6 2.1l-2.2 0.3z" fill="#009f6a"/>
<path d="M309.2 271.5l2.2 2l-0.9 1.4l-2.1-2z" fill="#00b97b"/>
<path d="M265.0 273.4l2.2-0.4l-0.5 2.2l-2.2 0.4z" fill="#00a26c"/>
<path d="M314.2 274.6l2.2 1.8l-0.8 1.3l-2.2-1.8z" fill="#00b076"/>
<path d="M270.1 270.2l2.1-0.6l-0.5 2.7l-2.1 0.5z" fill="#00a970"/>
<path d="M319.3 277.5l2.2 2l-0.8 1.2l-2.2-2z" fill="#00ad73"/>
<path d="M275.2 265.9l2-0.8l-0.5 3.5l-2 0.6z" fill="#00b87b"/>
<path d="M280.4 260.7l1.9-0.4l-0.6 4.1l-1.9 0.3z" fill="#01d28d"/>
<path d="M285.5 256.8l1.9 0.6l-0.7 4.2l-1.9-0.5z" fill="#1dffd6"/>
<path d="M290.5 256.1l2.1 1.8l-0.9 3.8l-2-1.6z" fill="#3dffff"/>
<path d="M295.6 259.1l2.1 2.7l-0.9 2.9l-2.1-2.5z" fill="#09f6ac"/>
<path d="M300.6 264.2l2.2 3l-0.9 1.9l-2.2-2.7z" fill="#01d58e"/>
<path d="M256.4 278.6l2.2-0.6l-0.5 2.2l-2.2 0.6z" fill="#009c68"/>
<path d="M305.7 269.2l2.1 2.3l-0.8 1.5l-2.2-2.2z" fill="#00c583"/>
<path d="M261.5 275.6l2.2-0.3l-0.6 2.1l-2.2 0.3z" fill="#009d69"/>
<path d="M310.7 272.9l2.2 1.9l-0.8 1.3l-2.2-1.8z" fill="#00b679"/>
<path d="M266.5 272.9l2.2-0.4l-0.5 2.4l-2.2 0.3z" fill="#00a46e"/>
<path d="M315.7 275.9l2.2 1.7l-0.8 1.3l-2.2-1.7z" fill="#00af75"/>
<path d="M271.6 269.6l2.1-0.7l-0.5 2.9l-2.1 0.5z" fill="#00b377"/>
<path d="M320.8 278.9l2.2 2.1l-0.8 1.1l-2.2-2.1z" fill="#00ad73"/>
<path d="M276.8 265.1l2-0.7l-0.6 3.7l-2 0.5z" fill="#00c382"/>
<path d="M281.9 260.2l1.9-0.1l-0.6 4.2l-1.9 0z" fill="#04e099"/>
<path d="M287.0 257.3l1.9 0.9l-0.7 4.2l-1.9-0.9z" fill="#32ffff"/>
<path d="M292.1 257.7l2 2.2l-0.8 3.5l-2.1-1.9z" fill="#31ffff"/>
<path d="M297.1 261.4l2.1 2.8l-0.9 2.6l-2.1-2.6z" fill="#05eaa0"/>
<path d="M252.8 281.3l2.3-0.2l-0.6 2l-2.3-0.5z" fill="#009c68"/>
<path d="M302.1 266.5l2.2 2.7l-0.9 1.8l-2.1-2.4z" fill="#00d28c"/>
<path d="M257.9 278.0l2.2-0.5l-0.5 2.2l-2.2 0.5z" fill="#009a67"/>
<path d="M307.2 270.9l2.1 2.2l-0.8 1.4l-2.2-2z" fill="#00c181"/>
<path d="M263.0 275.2l2.2-0.3l-0.6 2.2l-2.2 0.3z" fill="#00a36d"/>
<path d="M312.2 274.3l2.2 1.8l-0.8 1.3l-2.2-1.8z" fill="#00b579"/>
<path d="M268.1 272.5l2.1-0.5l-0.5 2.5l-2.2 0.3z" fill="#00ab72"/>
<path d="M317.2 277.1l2.2 1.8l-0.8 1.2l-2.2-1.7z" fill="#00ae74"/>
<path d="M273.2 268.9l2.1-0.6l-0.6 3.1l-2.1 0.4z" fill="#00b77a"/>
<path d="M278.3 264.3l2-0.5l-0.6 3.9l-2 0.4z" fill="#01ce8a"/>
<path d="M283.4 260.1l1.9 0.2l-0.6 4.1l-1.9-0.2z" fill="#0cf5ae"/>
<path d="M288.5 258.1l2 1.4l-0.8 3.9l-1.9-1.1z" fill="#42ffff"/>
<path d="M293.6 259.6l2.1 2.3l-0.9 3.3l-2.1-2.1z" fill="#22ffe2"/>
<path d="M298.6 263.7l2.1 2.9l-0.9 2.3l-2.1-2.6z" fill="#02e198"/>
<path d="M254.3 281.0l2.3-0.9l-0.5 2.5l-2.2 0.5z" fill="#009664"/>
<path d="M303.6 268.6l2.2 2.4l-0.9 1.7l-2.1-2.3z" fill="#00cf8a"/>
<path d="M259.4 277.4l2.3-0.3l-0.6 2.1l-2.2 0.5z" fill="#009f6a"/>
<path d="M308.7 272.5l2.1 2l-0.8 1.4l-2.2-1.9z" fill="#00bf7f"/>
<path d="M264.5 274.8l2.2-0.3l-0.5 2.3l-2.3 0.3z" fill="#00a46d"/>
<path d="M313.7 275.5l2.2 1.8l-0.8 1.3l-2.2-1.7z" fill="#00b579"/>
<path d="M269.6 272.0l2.1-0.5l-0.5 2.7l-2.2 0.3z" fill="#00ae74"/>
<path d="M318.8 278.3l2.2 2l-0.9 1.3l-2.2-2z" fill="#00b276"/>
<path d="M274.7 268.3l2.1-0.5l-0.6 3.2l-2.1 0.4z" fill="#00bf7f"/>
<path d="M279.8 263.8l2-0.3l-0.6 4l-2 0.2z" fill="#02d690"/>
<path d="M284.9 260.2l2 0.6l-0.7 4.1l-1.9-0.5z" fill="#1bffd1"/>
<path d="M290.0 259.3l2 1.6l-0.8 3.8l-2-1.4z" fill="#44ffff"/>
<path d="M295.1 261.6l2.1 2.5l-0.9 3l-2.1-2.3z" fill="#12ffbf"/>
<path d="M250.8 281.8l2.4 0.5l-0.7 1.3l-2.3-0.5z" fill="#009161"/>
<path d="M300.1 266.0l2.1 2.7l-0.8 2.1l-2.2-2.4z" fill="#02dd95"/>
<path d="M255.9 280.1l2.2-0.6l-0.5 2.3l-2.2 0.8z" fill="#009c68"/>
<path d="M305.1 270.4l2.2 2.2l-0.9 1.7l-2.1-2.2z" fill="#00cc88"/>
<path d="M261.0 277.0l2.2-0.3l-0.6 2.2l-2.2 0.3z" fill="#00a16b"/>
<path d="M310.2 273.9l2.2 1.9l-0.9 1.4l-2.2-1.8z" fill="#00bb7d"/>
<path d="M266.0 274.5l2.2-0.4l-0.5 2.4l-2.2 0.2z" fill="#00ac73"/>
<path d="M315.2 276.8l2.2 1.7l-0.8 1.3l-2.2-1.7z" fill="#00b377"/>
<path d="M271.1 271.5l2.1-0.5l-0.5 2.8l-2.1 0.3z" fill="#00b378"/>
<path d="M320.3 279.7l2.2 2.1l-0.9 1.2l-2.1-2z" fill="#00b075"/>
<path d="M276.2 267.7l2.1-0.5l-0.6 3.5l-2.1 0.3z" fill="#00c583"/>
<path d="M281.4 263.4l1.9 0l-0.6 4l-2 0z" fill="#04e19a"/>
<path d="M286.5 260.7l1.9 0.8l-0.7 4.1l-2-0.8z" fill="#2efff9"/>
<path d="M291.5 260.8l2.1 1.8l-0.9 3.6l-2-1.7z" fill="#37ffff"/>
<path d="M296.6 263.7l2.1 2.6l-0.9 2.7l-2.1-2.3z" fill="#09f6ac"/>
<path d="M252.4 282.1l2.3 0.5l-0.7 1.3l-2.3-0.5z" fill="#008f5f"/>
<path d="M301.6 268.2l2.2 2.4l-0.9 1.9l-2.2-2.2z" fill="#01d790"/>
<path d="M257.4 279.5l2.2-0.6l-0.5 2.4l-2.2 0.5z" fill="#00a06b"/>
<path d="M306.6 272.1l2.2 2l-0.8 1.6l-2.2-2z" fill="#00c583"/>
<path d="M262.5 276.7l2.2-0.3l-0.6 2.2l-2.2 0.3z" fill="#00a56e"/>
<path d="M311.7 275.2l2.2 1.8l-0.8 1.4l-2.3-1.8z" fill="#00b77a"/>
<path d="M267.6 274.1l2.1-0.3l-0.6 2.4l-2.1 0.2z" fill="#00ab72"/>
<path d="M316.7 278.0l2.2 1.8l-0.8 1.3l-2.2-1.8z" fill="#00b176"/>
<path d="M272.7 271.0l2-0.4l-0.5 2.9l-2.1 0.3z" fill="#00bc7d"/>
<path d="M277.8 267.2l2-0.4l-0.6 3.6l-2 0.2z" fill="#01cc89"/>
<path d="M282.9 263.3l1.9 0.3l-0.6 4l-2-0.2z" fill="#0bf3ac"/>
<path d="M288.0 261.4l2 1.2l-0.8 3.9l-2-1z" fill="#42ffff"/>
<path d="M293.0 262.4l2.1 2.1l-0.9 3.3l-2-1.9z" fill="#2bfff6"/>
<path d="M298.1 265.8l2.1 2.6l-0.9 2.4l-2.1-2.2z" fill="#07efa6"/>
<path d="M253.8 282.5l2.3-0.6l-0.6 2.3l-2.3-0.4z" fill="#009d69"/>
<path d="M303.1 270.0l2.2 2.3l-0.9 1.8l-2.2-2.1z" fill="#01d38d"/>
<path d="M258.9 278.9l2.2-0.4l-0.5 2.3l-2.2 0.5z" fill="#00a16c"/>
<path d="M308.1 273.6l2.2 1.9l-0.8 1.5l-2.2-1.8z" fill="#00c080"/>
<path d="M264.0 276.3l2.2-0.3l-0.6 2.3l-2.2 0.3z" fill="#00a76f"/>
<path d="M313.2 276.5l2.2 1.7l-0.8 1.4l-2.2-1.7z" fill="#00b77a"/>
<path d="M269.1 273.7l2.1-0.3l-0.6 2.5l-2.1 0.2z" fill="#00b076"/>
<path d="M318.2 279.2l2.2 2l-0.8 1.3l-2.2-2z" fill="#00b478"/>
<path d="M274.2 270.5l2.1-0.3l-0.6 3l-2.1 0.2z" fill="#00c281"/>
<path d="M279.3 266.8l2-0.2l-0.7 3.7l-1.9 0.1z" fill="#03da94"/>
<path d="M284.4 263.5l2 0.5l-0.7 4l-2-0.4z" fill="#1cffd3"/>
<path d="M289.5 262.5l2 1.4l-0.8 3.8l-2-1.3z" fill="#45ffff"/>
<path d="M294.6 264.2l2 2.3l-0.8 3l-2.1-2z" fill="#1effdb"/>
<path d="M299.6 267.9l2.1 2.4l-0.9 2.2l-2.1-2.1z" fill="#04e49b"/>
<path d="M255.3 281.9l2.2-0.8l-0.5 2.6l-2.1 0.5z" fill="#009e69"/>
<path d="M304.6 271.7l2.2 2.1l-0.9 1.8l-2.1-2z" fill="#00cf8b"/>
<path d="M260.5 278.5l2.2-0.3l-0.6 2.2l-2.2 0.4z" fill="#00a56e"/>
<path d="M309.6 275.0l2.2 1.7l-0.8 1.5l-2.2-1.7z" fill="#00c080"/>
<path d="M265.5 276.0l2.2-0.3l-0.6 2.3l-2.2 0.3z" fill="#00aa71"/>
<path d="M314.7 277.7l2.2 1.7l-0.8 1.4l-2.2-1.7z" fill="#00b77a"/>
<path d="M270.6 273.3l2.1-0.3l-0.6 2.7l-2.1 0.2z" fill="#00b578"/>
<path d="M319.8 280.6l2.1 2.1l-0.8 1.3l-2.2-2.1z" fill="#00b77a"/>
<path d="M275.7 270.1l2.1-0.3l-0.7 3.2l-2 0.1z" fill="#00c885"/>
<path d="M280.8 266.5l2 0.1l-0.7 3.8l-1.9-0.1z" fill="#06e69e"/>
<path d="M285.9 263.9l2 0.8l-0.7 4l-2-0.7z" fill="#2afff1"/>
<path d="M291.0 263.7l2 1.7l-0.8 3.6l-2-1.5z" fill="#40ffff"/>
<path d="M296.1 266.1l2.1 2.3l-0.9 2.8l-2.1-2z" fill="#13ffc1"/>
<path d="M251.8 282.9l2.4 0.5l-0.7 1.3l-2.3-0.5z" fill="#009060"/>
<path d="M301.1 269.8l2.1 2.2l-0.8 2.1l-2.2-2.1z" fill="#02dc95"/>
<path d="M256.9 281.1l2.2-0.6l-0.5 2.4l-2.2 0.8z" fill="#00a36d"/>
<path d="M306.1 273.3l2.2 2l-0.9 1.6l-2.1-1.8z" fill="#00c885"/>
<path d="M262.0 278.1l2.2-0.2l-0.6 2.2l-2.2 0.3z" fill="#00a76f"/>
<path d="M311.1 276.2l2.3 1.8l-0.9 1.4l-2.2-1.7z" fill="#00be7f"/>
<path d="M267.0 275.7l2.2-0.2l-0.6 2.3l-2.2 0.2z" fill="#00ad73"/>
<path d="M316.2 278.9l2.2 1.8l-0.8 1.4l-2.2-1.8z" fill="#00b87b"/>
<path d="M272.1 273.0l2.1-0.3l-0.6 2.8l-2.1 0.1z" fill="#00bb7d"/>
<path d="M277.2 269.8l2.1-0.2l-0.7 3.3l-2 0z" fill="#01ce8a"/>
<path d="M282.4 266.5l1.9 0.2l-0.7 3.9l-1.9-0.3z" fill="#12ffbb"/>
<path d="M287.4 264.6l2 1.1l-0.7 3.8l-2-0.9z" fill="#3cffff"/>
<path d="M292.5 265.2l2.1 1.9l-0.9 3.3l-2-1.6z" fill="#32ffff"/>
<path d="M297.6 268.1l2.1 2.2l-0.9 2.4l-2.1-1.9z" fill="#0cfab1"/>
<path d="M253.3 283.2l2.4 0.5l-0.7 1.3l-2.3-0.5z" fill="#009362"/>
<path d="M302.6 271.5l2.1 2.1l-0.8 1.9l-2.2-1.9z" fill="#01d891"/>
<path d="M258.4 280.5l2.2-0.4l-0.5 2.4l-2.2 0.4z" fill="#00a870"/>
<path d="M307.6 274.8l2.2 1.8l-0.8 1.5l-2.2-1.7z" fill="#00c684"/>
<path d="M263.5 277.8l2.2-0.2l-0.6 2.3l-2.2 0.2z" fill="#00ab72"/>
<path d="M312.7 277.5l2.2 1.7l-0.9 1.4l-2.2-1.6z" fill="#00b97b"/>
<path d="M268.6 275.4l2.1-0.2l-0.6 2.4l-2.1 0.2z" fill="#00b578"/>
<path d="M317.7 280.2l2.2 1.9l-0.8 1.4l-2.2-2z" fill="#00b87b"/>
<path d="M273.7 272.6l2.1-0.2l-0.7 2.9l-2.1 0.1z" fill="#00c483"/>
<path d="M278.8 269.5l2 0l-0.7 3.4l-2-0.1z" fill="#03d993"/>
<path d="M283.9 266.7l1.9 0.5l-0.6 3.8l-2-0.5z" fill="#18ffc9"/>
<path d="M289.0 265.6l2 1.3l-0.8 3.6l-2-1.1z" fill="#42ffff"/>
<path d="M294.0 266.9l2.1 2l-0.9 3l-2-1.7z" fill="#26ffeb"/>
<path d="M299.1 269.9l2.1 2.1l-0.9 2.2l-2.1-1.9z" fill="#06eaa1"/>
<path d="M254.8 283.5l2.3-0.6l-0.6 2.4l-2.3-0.4z" fill="#009f6a"/>
<path d="M304.1 273.1l2.2 2l-0.9 1.8l-2.2-1.8z" fill="#01d38d"/>
<path d="M259.9 280.0l2.2-0.3l-0.5 2.3l-2.2 0.4z" fill="#00a971"/>
<path d="M309.1 276.1l2.2 1.7l-0.8 1.5l-2.2-1.6z" fill="#00c583"/>
<path d="M265.0 277.5l2.2-0.2l-0.6 2.4l-2.2 0.1z" fill="#00ae74"/>
<path d="M314.2 278.7l2.2 1.7l-0.8 1.4l-2.3-1.7z" fill="#00ba7c"/>
<path d="M270.1 275.1l2.1-0.2l-0.6 2.6l-2.1 0.1z" fill="#00b87b"/>
<path d="M319.2 281.6l2.2 2l-0.8 1.4l-2.2-2.1z" fill="#00b87b"/>
<path d="M275.2 272.3l2.1-0.1l-0.7 3l-2 0z" fill="#00c987"/>
<path d="M280.3 269.4l2 0.1l-0.7 3.5l-2-0.2z" fill="#06e59e"/>
<path d="M285.4 267.1l2 0.7l-0.7 3.8l-2-0.7z" fill="#2afff2"/>
<path d="M290.5 266.7l2 1.5l-0.8 3.5l-2-1.3z" fill="#42ffff"/>
<path d="M295.5 268.6l2.1 2l-0.8 2.6l-2.1-1.6z" fill="#13ffc1"/>
<path d="M300.6 271.5l2.1 2.1l-0.9 2l-2.1-1.8z" fill="#03e198"/>
<path d="M256.4 282.9l2.1-0.7l-0.5 2.7l-2.2 0.4z" fill="#00a36d"/>
<path d="M305.6 274.6l2.2 1.9l-0.9 1.7l-2.2-1.8z" fill="#00cb87"/>
<path d="M261.5 279.6l2.1-0.2l-0.5 2.3l-2.2 0.3z" fill="#00a971"/>
<path d="M310.6 277.3l2.2 1.7l-0.8 1.5l-2.2-1.6z" fill="#00bf7f"/>
<path d="M266.5 277.2l2.2-0.1l-0.6 2.3l-2.2 0.2z" fill="#00b378"/>
<path d="M315.7 279.9l2.2 1.8l-0.8 1.4l-2.2-1.8z" fill="#00bd7e"/>
<path d="M271.6 274.8l2.1-0.1l-0.6 2.6l-2.1 0.1z" fill="#00bf80"/>
<path d="M276.7 272.1l2.1-0.1l-0.7 3.1l-2 0z" fill="#01d08c"/>
<path d="M281.8 269.4l2 0.3l-0.7 3.5l-2-0.3z" fill="#0df6af"/>
<path d="M286.9 267.7l2 1l-0.7 3.6l-2-0.9z" fill="#37ffff"/>
<path d="M292.0 268.0l2.1 1.7l-0.9 3.1l-2-1.4z" fill="#37ffff"/>
<path d="M297.0 270.2l2.2 2l-0.9 2.4l-2.1-1.7z" fill="#0fffb8"/>
<path d="M252.8 284.0l2.4 0.5l-0.7 1.3l-2.3-0.5z" fill="#009261"/>
<path d="M302.1 273.1l2.1 1.9l-0.8 2l-2.2-1.8z" fill="#01d992"/>
<path d="M257.9 282.2l2.2-0.5l-0.6 2.5l-2.1 0.6z" fill="#00a76f"/>
<path d="M307.1 276.0l2.2 1.7l-0.8 1.6l-2.2-1.6z" fill="#00ca87"/>
<path d="M263.0 279.3l2.2-0.2l-0.6 2.3l-2.2 0.2z" fill="#00ac73"/>
<path d="M312.1 278.5l2.2 1.7l-0.8 1.5l-2.2-1.6z" fill="#00be7f"/>
<path d="M268.0 277.0l2.2-0.1l-0.6 2.4l-2.2 0.1z" fill="#00b77a"/>
<path d="M317.2 281.1l2.2 2l-0.8 1.5l-2.2-2z" fill="#00b97c"/>
<path d="M273.1 274.6l2.1-0.1l-0.6 2.7l-2.1 0z" fill="#00c281"/>
<path d="M278.2 272.0l2.1 0l-0.7 3.1l-2-0.1z" fill="#02d691"/>
<path d="M283.3 269.7l2.1 0.4l-0.8 3.5l-2-0.5z" fill="#17ffc7"/>
<path d="M288.4 268.6l2.1 1.1l-0.8 3.4l-2-1z" fill="#3bffff"/>
<path d="M293.5 269.5l2.1 1.7l-0.9 2.8l-2.1-1.4z" fill="#29ffef"/>
<path d="M298.5 271.8l2.2 1.9l-0.9 2.3l-2.1-1.7z" fill="#07eda5"/>
<path d="M254.3 284.3l2.4 0.5l-0.7 1.3l-2.3-0.5z" fill="#009160"/>
<path d="M303.6 274.6l2.1 1.8l-0.8 1.9l-2.2-1.7z" fill="#01d58f"/>
<path d="M259.4 281.7l2.2-0.4l-0.6 2.5l-2.1 0.4z" fill="#00aa72"/>
<path d="M308.6 277.2l2.2 1.7l-0.8 1.6l-2.2-1.6z" fill="#00c584"/>
<path d="M264.5 279.1l2.2-0.2l-0.6 2.3l-2.2 0.1z" fill="#00af75"/>
<path d="M313.6 279.7l2.3 1.7l-0.9 1.5l-2.2-1.7z" fill="#00c080"/>
<path d="M269.6 276.8l2.1-0.1l-0.6 2.5l-2.2 0z" fill="#00bb7d"/>
<path d="M318.7 282.6l2.2 2.1l-0.8 1.5l-2.2-2.2z" fill="#00be7f"/>
<path d="M274.7 274.4l2.1-0.1l-0.7 2.9l-2.1-0.1z" fill="#00c885"/>
<path d="M279.8 271.9l2 0.2l-0.7 3.2l-2-0.2z" fill="#04de97"/>
<path d="M284.9 270.0l2 0.7l-0.7 3.4l-2.1-0.7z" fill="#1cffd2"/>
<path d="M289.9 269.6l2.1 1.3l-0.8 3.1l-2.1-1.1z" fill="#35ffff"/>
<path d="M295.0 270.9l2.1 1.7l-0.8 2.6l-2.2-1.5z" fill="#19ffce"/>
<path d="M300.0 273.3l2.2 1.8l-0.9 2.1l-2.1-1.6z" fill="#06e9a0"/>
<path d="M255.8 284.6l2.3-0.5l-0.7 2.4l-2.2-0.5z" fill="#009f6a"/>
<path d="M305.1 276.0l2.1 1.7l-0.8 1.7l-2.2-1.6z" fill="#00cc88"/>
<path d="M260.9 281.2l2.2-0.3l-0.6 2.5l-2.1 0.3z" fill="#00ac73"/>
<path d="M310.1 278.4l2.2 1.7l-0.8 1.6l-2.2-1.6z" fill="#00c483"/>
<path d="M266.0 278.8l2.2-0.1l-0.6 2.4l-2.2 0z" fill="#00b478"/>
<path d="M315.2 280.9l2.2 1.8l-0.9 1.5l-2.2-1.8z" fill="#00c080"/>
<path d="M271.1 276.6l2.1 0l-0.6 2.5l-2.1 0z" fill="#00be7e"/>
<path d="M276.2 274.3l2.1 0l-0.7 2.9l-2.1-0.1z" fill="#01cc88"/>
<path d="M281.3 272.0l2 0.4l-0.7 3.1l-2-0.3z" fill="#0aeea7"/>
<path d="M286.4 270.6l2 0.9l-0.7 3.2l-2.1-0.8z" fill="#27ffea"/>
<path d="M291.4 270.7l2.1 1.4l-0.8 2.9l-2.1-1.2z" fill="#2ffffc"/>
<path d="M296.5 272.3l2.1 1.7l-0.8 2.5l-2.2-1.6z" fill="#0efbb3"/>
<path d="M301.5 274.7l2.2 1.8l-0.9 2l-2.1-1.7z" fill="#02dd96"/>
<path d="M257.4 284.1l2.1-0.7l-0.5 2.8l-2.2 0.2z" fill="#00ab72"/>
<path d="M306.6 277.2l2.2 1.7l-0.9 1.7l-2.2-1.6z" fill="#00cc89"/>
<path d="M262.5 280.9l2.1-0.2l-0.6 2.3l-2.1 0.3z" fill="#00b176"/>
<path d="M311.6 279.6l2.2 1.7l-0.8 1.5l-2.2-1.6z" fill="#00c180"/>
<path d="M267.5 278.6l2.2-0.1l-0.6 2.4l-2.2 0.1z" fill="#00b77a"/>
<path d="M316.7 282.2l2.2 2l-0.9 1.5l-2.2-2z" fill="#00c181"/>
<path d="M272.6 276.5l2.1-0.1l-0.6 2.6l-2.1 0z" fill="#00c483"/>
<path d="M277.7 274.2l2.1 0.1l-0.7 3l-2.1-0.2z" fill="#02d48f"/>
<path d="M282.8 272.2l2 0.5l-0.7 3.2l-2-0.5z" fill="#0cf5ae"/>
<path d="M287.9 271.3l2 1l-0.7 3.1l-2.1-0.9z" fill="#31ffff"/>
<path d="M292.9 271.9l2.2 1.4l-0.9 2.8l-2.1-1.3z" fill="#24ffe4"/>
<path d="M298.0 273.7l2.1 1.7l-0.8 2.3l-2.2-1.6z" fill="#09f2a9"/>
<path d="M253.8 285.1l2.3 0.6l-0.6 1.3l-2.4-0.6z" fill="#008f5f"/>
<path d="M303.0 276.1l2.2 1.6l-0.8 1.9l-2.2-1.5z" fill="#01d790"/>
<path d="M258.9 283.4l2.1-0.4l-0.5 2.5l-2.1 0.7z" fill="#00b075"/>
<path d="M308.1 278.4l2.2 1.6l-0.9 1.7l-2.2-1.6z" fill="#00cb88"/>
<path d="M264.0 280.6l2.1-0.1l-0.6 2.3l-2.1 0.2z" fill="#00b378"/>
<path d="M313.1 280.8l2.2 1.7l-0.8 1.5l-2.2-1.7z" fill="#00c482"/>
<path d="M269.0 278.4l2.2 0l-0.6 2.4l-2.2 0.1z" fill="#00bb7d"/>
<path d="M318.2 283.6l2.2 2.2l-0.9 1.6l-2.1-2.3z" fill="#00c181"/>
<path d="M274.1 276.3l2.2 0.1l-0.7 2.7l-2.1-0.2z" fill="#01cb88"/>
<path d="M279.2 274.2l2.1 0.3l-0.7 2.9l-2-0.2z" fill="#04de97"/>
<path d="M284.3 272.6l2.1 0.7l-0.8 3.1l-2-0.6z" fill="#19ffcb"/>
<path d="M289.4 272.1l2.1 1.2l-0.8 2.9l-2.1-1z" fill="#28ffec"/>
<path d="M294.5 273.1l2.1 1.5l-0.9 2.6l-2.1-1.4z" fill="#1cffd3"/>
<path d="M299.5 275.0l2.2 1.7l-0.9 2.1l-2.2-1.5z" fill="#05e49c"/>
<path d="M255.3 285.4l2.4 0.5l-0.7 1.4l-2.3-0.6z" fill="#009160"/>
<path d="M304.5 277.3l2.2 1.6l-0.8 1.8l-2.2-1.5z" fill="#01d28c"/>
<path d="M260.4 282.9l2.2-0.3l-0.6 2.5l-2.1 0.4z" fill="#00b377"/>
<path d="M309.6 279.6l2.2 1.6l-0.8 1.7l-2.2-1.6z" fill="#00ca87"/>
<path d="M265.5 280.4l2.2-0.1l-0.7 2.4l-2.1 0z" fill="#00b578"/>
<path d="M314.6 282.0l2.2 1.8l-0.8 1.6l-2.2-1.9z" fill="#00c483"/>
<path d="M270.6 278.3l2.1 0l-0.6 2.5l-2.2-0.1z" fill="#00be7f"/>
<path d="M275.7 276.3l2.1 0.1l-0.7 2.7l-2.1-0.2z" fill="#01cc88"/>
<path d="M280.8 274.4l2 0.3l-0.7 3l-2-0.4z" fill="#08e9a2"/>
<path d="M285.8 273.1l2.1 0.8l-0.7 3l-2.1-0.7z" fill="#19ffcb"/>
<path d="M290.9 273.1l2.1 1.2l-0.8 2.8l-2.1-1.1z" fill="#25ffe7"/>
<path d="M296.0 274.3l2.1 1.5l-0.8 2.5l-2.2-1.4z" fill="#0cf8af"/>
<path d="M301.0 276.3l2.2 1.6l-0.9 2l-2.1-1.4z" fill="#03dd95"/>
<path d="M256.8 285.7l2.3-0.2l-0.7 2.1l-2.2-0.5z" fill="#00a06a"/>
<path d="M306.0 278.5l2.2 1.6l-0.8 1.8l-2.2-1.6z" fill="#01cf8b"/>
<path d="M261.9 282.5l2.2-0.2l-0.6 2.5l-2.1 0.3z" fill="#00b77a"/>
<path d="M311.1 280.8l2.2 1.6l-0.8 1.6l-2.2-1.6z" fill="#00c584"/>
<path d="M267.0 280.2l2.2 0l-0.7 2.4l-2.1 0z" fill="#00b77a"/>
<path d="M316.2 283.3l2.1 2l-0.8 1.5l-2.2-1.9z" fill="#00c583"/>
<path d="M272.1 278.2l2.1 0.1l-0.6 2.5l-2.2-0.1z" fill="#00c181"/>
<path d="M277.2 276.3l2.1 0.2l-0.7 2.7l-2.1-0.2z" fill="#02d590"/>
<path d="M282.3 274.6l2 0.5l-0.7 2.9l-2-0.4z" fill="#0aefa8"/>
<path d="M287.4 273.7l2 0.9l-0.7 3l-2.1-0.8z" fill="#1cffd2"/>
<path d="M292.4 274.1l2.1 1.3l-0.8 2.7l-2.1-1.2z" fill="#1bffd1"/>
<path d="M297.5 275.5l2.1 1.6l-0.8 2.2l-2.2-1.4z" fill="#08eda5"/>
<path d="M302.5 277.5l2.2 1.6l-0.8 1.9l-2.2-1.4z" fill="#01d690"/>
<path d="M258.3 285.4l2.2-0.6l-0.6 2.8l-2.1-0.1z" fill="#00b176"/>
<path d="M307.5 279.7l2.2 1.5l-0.8 1.8l-2.2-1.6z" fill="#00cb88"/>
<path d="M263.5 282.2l2.1-0.1l-0.6 2.4l-2.1 0.3z" fill="#00b579"/>
<path d="M312.6 281.9l2.2 1.7l-0.8 1.6l-2.2-1.7z" fill="#00c785"/>
<path d="M268.5 280.1l2.2 0l-0.7 2.4l-2.1 0z" fill="#00bc7e"/>
<path d="M317.7 284.7l2.1 2.3l-0.8 1.5l-2.2-2.3z" fill="#00c382"/>
<path d="M273.6 278.2l2.1 0.1l-0.6 2.5l-2.2-0.1z" fill="#00c886"/>
<path d="M278.7 276.4l2.1 0.2l-0.7 2.8l-2.1-0.3z" fill="#03d994"/>
<path d="M283.8 275.0l2.1 0.6l-0.8 2.9l-2-0.6z" fill="#0ffcb5"/>
<path d="M288.9 274.5l2.1 1l-0.8 2.8l-2.1-0.9z" fill="#21ffdd"/>
<path d="M293.9 275.1l2.2 1.4l-0.9 2.5l-2.1-1.2z" fill="#13ffc0"/>
<path d="M299.0 276.7l2.1 1.6l-0.8 2.1l-2.2-1.4z" fill="#04e199"/>
<path d="M304.0 278.7l2.2 1.5l-0.8 1.9l-2.2-1.5z" fill="#01d48e"/>
<path d="M259.9 284.7l2.1-0.3l-0.5 2.7l-2.1 0.5z" fill="#00b579"/>
<path d="M309.1 280.8l2.2 1.6l-0.9 1.7l-2.2-1.6z" fill="#00c785"/>
<path d="M265.0 282.0l2.1-0.1l-0.6 2.4l-2.1 0.2z" fill="#00b97b"/>
<path d="M314.1 283.1l2.2 1.9l-0.8 1.6l-2.2-1.9z" fill="#00c986"/>
<path d="M270.0 280.0l2.2 0l-0.6 2.5l-2.2-0.1z" fill="#00bf80"/>
<path d="M275.1 278.2l2.2 0.1l-0.7 2.6l-2.1-0.2z" fill="#01ca87"/>
<path d="M280.2 276.5l2.1 0.4l-0.7 2.8l-2.1-0.4z" fill="#05e29b"/>
<path d="M285.3 275.4l2.1 0.8l-0.8 2.8l-2-0.7z" fill="#15ffc1"/>
<path d="M290.4 275.3l2.1 1.1l-0.8 2.7l-2.1-1z" fill="#1dffd5"/>
<path d="M295.4 276.2l2.2 1.4l-0.9 2.4l-2.1-1.3z" fill="#0efcb4"/>
<path d="M300.5 277.9l2.1 1.5l-0.8 2l-2.2-1.4z" fill="#03dc95"/>
<path d="M256.3 286.5l2.3 0.6l-0.6 1.3l-2.4-0.6z" fill="#009261"/>
<path d="M305.5 279.8l2.2 1.5l-0.8 1.9l-2.2-1.5z" fill="#01d18c"/>
<path d="M261.4 284.3l2.2-0.3l-0.6 2.6l-2.2 0.4z" fill="#00b478"/>
<path d="M310.6 281.9l2.2 1.6l-0.9 1.7l-2.2-1.6z" fill="#00c885"/>
<path d="M266.5 281.8l2.2 0l-0.7 2.4l-2.1 0.1z" fill="#00bb7d"/>
<path d="M315.6 284.5l2.2 1.9l-0.8 1.7l-2.2-2z" fill="#00c885"/>
<path d="M271.6 279.9l2.1 0.1l-0.6 2.5l-2.2-0.1z" fill="#00c684"/>
<path d="M276.6 278.2l2.2 0.3l-0.7 2.6l-2.1-0.3z" fill="#01ce8a"/>
<path d="M281.7 276.8l2.1 0.5l-0.7 2.7l-2.1-0.4z" fill="#07e7a0"/>
<path d="M286.8 276.0l2.1 0.8l-0.7 2.8l-2.1-0.8z" fill="#14ffc0"/>
<path d="M291.9 276.2l2.1 1.2l-0.8 2.5l-2.1-1z" fill="#13ffbe"/>
<path d="M296.9 277.3l2.2 1.4l-0.8 2.3l-2.2-1.3z" fill="#08eda5"/>
<path d="M302.0 279.0l2.2 1.5l-0.9 1.9l-2.2-1.4z" fill="#02d892"/>
<path d="M257.8 286.8l2.3 0.2l-0.6 1.7l-2.3-0.6z" fill="#009764"/>
<path d="M307.0 280.9l2.2 1.6l-0.8 1.7l-2.2-1.4z" fill="#01cf8a"/>
<path d="M262.9 284.0l2.2-0.2l-0.6 2.6l-2.2 0.2z" fill="#00b77a"/>
<path d="M312.1 283.1l2.2 1.7l-0.9 1.7l-2.1-1.7z" fill="#00c885"/>
<path d="M268.0 281.7l2.2 0.1l-0.7 2.4l-2.1-0.1z" fill="#00be7f"/>
<path d="M317.2 285.9l2.1 2.3l-0.8 1.4l-2.2-2z" fill="#00c281"/>
<path d="M273.1 279.9l2.1 0.2l-0.6 2.5l-2.2-0.2z" fill="#01ca88"/>
<path d="M278.2 278.3l2.1 0.4l-0.7 2.6l-2.1-0.4z" fill="#02d58f"/>
<path d="M283.3 277.1l2.1 0.6l-0.8 2.8l-2.1-0.6z" fill="#0aefa8"/>
<path d="M288.3 276.6l2.1 1l-0.7 2.7l-2.1-0.9z" fill="#14ffc0"/>
<path d="M293.4 277.1l2.1 1.3l-0.8 2.4l-2.1-1.1z" fill="#0efab2"/>
<path d="M298.4 278.4l2.2 1.4l-0.8 2.1l-2.2-1.3z" fill="#05e49c"/>
<path d="M303.5 280.1l2.2 1.4l-0.9 2l-2.1-1.5z" fill="#01d38e"/>
<path d="M259.3 286.8l2.2-0.5l-0.6 2.7l-2.2-0.5z" fill="#00b277"/>
<path d="M308.5 282.1l2.2 1.5l-0.8 1.7l-2.2-1.5z" fill="#00cc88"/>
<path d="M264.5 283.7l2.1-0.1l-0.6 2.5l-2.1 0.2z" fill="#00bd7e"/>
<path d="M313.6 284.3l2.2 1.9l-0.9 1.7l-2.1-1.9z" fill="#00cc88"/>
<path d="M269.5 281.7l2.2 0l-0.7 2.5l-2.1-0.1z" fill="#00c181"/>
<path d="M274.6 279.9l2.1 0.3l-0.6 2.5l-2.2-0.3z" fill="#01cc89"/>
<path d="M279.7 278.5l2.1 0.4l-0.7 2.7l-2.1-0.5z" fill="#03da94"/>
<path d="M284.8 277.6l2.1 0.6l-0.8 2.7l-2.1-0.6z" fill="#0cf5ae"/>
<path d="M289.8 277.4l2.2 1l-0.8 2.6l-2.1-1z" fill="#10fdb7"/>
<path d="M294.9 278.1l2.1 1.3l-0.8 2.3l-2.1-1.2z" fill="#08eda5"/>
<path d="M299.9 279.4l2.2 1.4l-0.8 2.1l-2.2-1.3z" fill="#02db94"/>
<path d="M305.0 281.2l2.2 1.5l-0.8 1.8l-2.2-1.4z" fill="#01d18c"/>
<path d="M260.9 286.2l2.1-0.4l-0.6 3l-2.1 0.1z" fill="#00be7e"/>
<path d="M310.1 283.1l2.1 1.6l-0.8 1.8l-2.2-1.6z" fill="#00ce8a"/>
<path d="M266.0 283.5l2.1 0l-0.6 2.5l-2.1 0.1z" fill="#00c080"/>
<path d="M315.1 285.7l2.2 2l-0.9 1.8l-2.1-2.1z" fill="#00ce89"/>
<path d="M271.0 281.6l2.2 0.2l-0.7 2.4l-2.1-0.2z" fill="#00c684"/>
<path d="M276.1 280.0l2.2 0.3l-0.7 2.5l-2.2-0.3z" fill="#01cf8b"/>
<path d="M281.2 278.8l2.1 0.5l-0.7 2.6l-2.1-0.5z" fill="#05e19a"/>
<path d="M286.3 278.1l2.1 0.8l-0.8 2.6l-2.1-0.8z" fill="#0ef8b1"/>
<path d="M291.3 278.2l2.2 1l-0.8 2.5l-2.1-1z" fill="#0df8b1"/>
<path d="M296.4 279.1l2.2 1.2l-0.8 2.2l-2.2-1.1z" fill="#05e49c"/>
<path d="M301.5 280.5l2.1 1.4l-0.8 2l-2.2-1.4z" fill="#02d993"/>
<path d="M306.5 282.3l2.2 1.4l-0.8 1.8l-2.2-1.4z" fill="#01cf8b"/>
<path d="M262.4 285.8l2.1-0.2l-0.6 2.7l-2 0.4z" fill="#00bf7f"/>
<path d="M311.6 284.3l2.2 1.7l-0.9 1.9l-2.2-1.8z" fill="#00ce8a"/>
<path d="M267.5 283.4l2.1 0l-0.6 2.5l-2.1 0z" fill="#00c080"/>
<path d="M316.6 287.2l2.2 2l-0.8 1.2l-2.2-1.3z" fill="#00c080"/>
<path d="M272.6 281.6l2.1 0.2l-0.7 2.5l-2.1-0.2z" fill="#00c886"/>
<path d="M277.6 280.2l2.2 0.3l-0.7 2.6l-2.2-0.4z" fill="#01d18c"/>
<path d="M282.7 279.1l2.1 0.6l-0.7 2.6l-2.1-0.6z" fill="#05e29b"/>
<path d="M287.8 278.7l2.1 0.8l-0.7 2.6l-2.2-0.8z" fill="#0df7b0"/>
<path d="M292.9 279.0l2.1 1.1l-0.8 2.4l-2.1-1.1z" fill="#08eca4"/>
<path d="M297.9 280.0l2.2 1.3l-0.8 2.1l-2.2-1.2z" fill="#03dc95"/>
<path d="M303.0 281.5l2.2 1.4l-0.9 2l-2.2-1.4z" fill="#01d58f"/>
<path d="M258.8 287.9l2.3 0.5l-0.6 1.4l-2.4-0.6z" fill="#009060"/>
<path d="M308.0 283.3l2.2 1.5l-0.8 1.9l-2.2-1.6z" fill="#01d08c"/>
<path d="M264.0 285.5l2.1-0.1l-0.6 2.6l-2.2 0.2z" fill="#00bb7d"/>
<path d="M313.1 285.6l2.2 1.8l-0.9 1.9l-2.2-1.9z" fill="#01d28c"/>
<path d="M269.0 283.3l2.2 0.1l-0.7 2.5l-2.1-0.1z" fill="#00c382"/>
<path d="M274.1 281.7l2.1 0.2l-0.7 2.5l-2.1-0.2z" fill="#01cc89"/>
<path d="M279.2 280.4l2.1 0.4l-0.7 2.5l-2.1-0.4z" fill="#02d690"/>
<path d="M284.2 279.5l2.2 0.7l-0.8 2.5l-2.1-0.6z" fill="#06e59e"/>
<path d="M289.3 279.3l2.1 1l-0.7 2.4l-2.2-0.9z" fill="#08eaa3"/>
<path d="M294.4 279.9l2.1 1.1l-0.8 2.3l-2.1-1.1z" fill="#08eba3"/>
<path d="M299.4 281.0l2.2 1.3l-0.8 2.1l-2.2-1.3z" fill="#03db94"/>
<path d="M304.5 282.6l2.2 1.4l-0.9 1.9l-2.2-1.4z" fill="#01d38d"/>
<path d="M260.3 288.2l2.3-0.2l-0.7 2.1l-2.2-0.5z" fill="#009f6a"/>
<path d="M309.5 284.4l2.2 1.6l-0.8 1.9l-2.2-1.7z" fill="#01cf8a"/>
<path d="M265.5 285.3l2.1-0.1l-0.6 2.7l-2.2 0.1z" fill="#00c483"/>
<path d="M314.6 287.0l2.2 2.1l-0.9 1.7l-2.1-2z" fill="#00ca87"/>
<path d="M270.5 283.3l2.2 0.2l-0.7 2.4l-2.1-0.2z" fill="#00c282"/>
<path d="M275.6 281.8l2.1 0.3l-0.7 2.5l-2.1-0.3z" fill="#01d08c"/>
<path d="M280.7 280.6l2.1 0.5l-0.7 2.6l-2.1-0.5z" fill="#03d993"/>
<path d="M285.7 280.0l2.2 0.7l-0.8 2.5l-2.1-0.7z" fill="#08e9a2"/>
<path d="M290.8 280.0l2.2 1l-0.8 2.4l-2.2-0.9z" fill="#07e8a1"/>
<path d="M295.9 280.7l2.1 1.2l-0.8 2.2l-2.1-1.1z" fill="#05e49c"/>
<path d="M300.9 281.9l2.2 1.4l-0.8 2l-2.2-1.3z" fill="#02da93"/>
<path d="M306.0 283.6l2.2 1.4l-0.9 1.9l-2.1-1.4z" fill="#01d28c"/>
<path d="M261.9 287.9l2.1-0.4l-0.6 2.8l-2.2-0.3z" fill="#00bf7f"/>
<path d="M311.1 285.6l2.1 1.8l-0.8 1.8l-2.2-1.7z" fill="#01d18c"/>
<path d="M267.0 285.1l2.1 0l-0.6 2.7l-2.2 0z" fill="#00c684"/>
<path d="M316.1 288.6l2.2 1.3l-0.7 1.2l-2.3-0.6z" fill="#00b478"/>
<path d="M272.0 283.3l2.2 0.2l-0.7 2.5l-2.1-0.2z" fill="#00c886"/>
<path d="M277.1 281.9l2.2 0.4l-0.7 2.5l-2.2-0.4z" fill="#01d18c"/>
<path d="M282.2 281.0l2.1 0.5l-0.7 2.5l-2.1-0.5z" fill="#04de98"/>
<path d="M287.3 280.5l2.1 0.9l-0.8 2.4l-2.1-0.8z" fill="#06e59e"/>
<path d="M292.3 280.8l2.2 1l-0.8 2.3l-2.2-1z" fill="#06e59e"/>
<path d="M297.4 281.6l2.2 1.2l-0.9 2.2l-2.1-1.2z" fill="#05e59d"/>
<path d="M302.4 282.9l2.2 1.4l-0.8 2l-2.2-1.3z" fill="#02d892"/>
<path d="M307.5 284.6l2.2 1.5l-0.8 2l-2.2-1.6z" fill="#01d58f"/>
<path d="M263.4 287.4l2.1-0.2l-0.6 3l-2.1 0.1z" fill="#00c785"/>
<path d="M312.6 286.9l2.1 1.9l-0.8 2l-2.2-2.1z" fill="#01d58f"/>
<path d="M268.5 285.0l2.1 0.1l-0.6 2.6l-2.1 0z" fill="#00c684"/>
<path d="M273.6 283.4l2.1 0.3l-0.7 2.4l-2.1-0.3z" fill="#00c886"/>
<path d="M278.6 282.2l2.2 0.4l-0.7 2.5l-2.2-0.4z" fill="#02d690"/>
<path d="M283.7 281.4l2.1 0.6l-0.7 2.5l-2.1-0.6z" fill="#05e19a"/>
<path d="M288.8 281.1l2.1 0.9l-0.8 2.4l-2.1-0.8z" fill="#07e8a1"/>
<path d="M293.8 281.5l2.2 1.1l-0.8 2.3l-2.2-1z" fill="#08eaa3"/>
<path d="M298.9 282.5l2.2 1.3l-0.8 2.1l-2.2-1.2z" fill="#03dc95"/>
<path d="M303.9 283.9l2.2 1.4l-0.8 2l-2.2-1.4z" fill="#01d38e"/>
<path d="M259.8 289.0l2.3 0.6l-0.6 1.3l-2.4-0.6z" fill="#008d5e"/>
<path d="M309.0 285.7l2.2 1.7l-0.8 2l-2.2-1.7z" fill="#01d68f"/>
<path d="M265.0 287.2l2-0.1l-0.6 2.8l-2.1 0.2z" fill="#00c684"/>
<path d="M314.1 288.3l2.2 2.1l-0.8 1.3l-2.3-1.3z" fill="#00c785"/>
<path d="M270.0 285.0l2.1 0.1l-0.6 2.6l-2.1-0.1z" fill="#01c987"/>
<path d="M275.1 283.5l2.1 0.3l-0.7 2.5l-2.1-0.3z" fill="#01cf8b"/>
<path d="M280.2 282.4l2.1 0.5l-0.7 2.5l-2.2-0.5z" fill="#02d690"/>
<path d="M285.2 281.8l2.2 0.7l-0.8 2.5l-2.1-0.7z" fill="#05e19b"/>
<path d="M290.3 281.8l2.1 0.9l-0.7 2.4l-2.2-0.9z" fill="#06e69e"/>
<path d="M295.3 282.4l2.2 1.1l-0.8 2.2l-2.2-1.1z" fill="#05e49d"/>
<path d="M300.4 283.5l2.2 1.2l-0.8 2.1l-2.2-1.2z" fill="#02d791"/>
<path d="M305.5 284.9l2.2 1.5l-0.9 2l-2.2-1.5z" fill="#02d891"/>
<path d="M261.3 289.3l2.3 0.5l-0.6 1.4l-2.4-0.6z" fill="#009463"/>
<path d="M310.5 287.0l2.2 1.7l-0.8 2.1l-2.2-1.9z" fill="#02d992"/>
<path d="M266.5 287.0l2.1 0l-0.7 2.7l-2.1 0.1z" fill="#00c584"/>
<path d="M271.5 285.0l2.2 0.2l-0.7 2.6l-2.1-0.2z" fill="#01c987"/>
<path d="M276.6 283.7l2.1 0.4l-0.7 2.4l-2.1-0.3z" fill="#01d08c"/>
<path d="M281.7 282.8l2.1 0.5l-0.7 2.5l-2.2-0.5z" fill="#04dd96"/>
<path d="M286.7 282.3l2.2 0.8l-0.8 2.4l-2.1-0.7z" fill="#06e59e"/>
<path d="M291.8 282.5l2.2 1l-0.8 2.3l-2.2-1z" fill="#08eca5"/>
<path d="M296.9 283.2l2.1 1.2l-0.8 2.1l-2.1-1.1z" fill="#04de97"/>
<path d="M301.9 284.4l2.2 1.3l-0.8 2l-2.2-1.3z" fill="#02d892"/>
<path d="M307.0 286.0l2.2 1.6l-0.9 2l-2.2-1.6z" fill="#02da93"/>
<path d="M262.8 289.6l2.3-0.1l-0.7 2l-2.2-0.5z" fill="#00a36d"/>
<path d="M312.1 288.3l2.1 2.1l-0.8 1.8l-2.2-1.9z" fill="#01d48e"/>
<path d="M268.0 286.9l2.1 0l-0.7 2.7l-2.1 0z" fill="#00c886"/>
<path d="M273.0 285.1l2.2 0.3l-0.7 2.5l-2.1-0.3z" fill="#01d08c"/>
<path d="M278.1 283.9l2.1 0.5l-0.7 2.4l-2.1-0.4z" fill="#02d38e"/>
<path d="M283.2 283.1l2.1 0.7l-0.7 2.4l-2.2-0.6z" fill="#04de98"/>
<path d="M288.2 282.9l2.2 0.8l-0.8 2.4l-2.1-0.8z" fill="#07e69f"/>
<path d="M293.3 283.2l2.2 1l-0.8 2.3l-2.2-1z" fill="#06e59e"/>
<path d="M298.4 284.1l2.1 1.2l-0.8 2.1l-2.1-1.2z" fill="#03da94"/>
<path d="M303.4 285.4l2.2 1.3l-0.8 2.1l-2.2-1.4z" fill="#02db94"/>
<path d="M308.5 287.2l2.2 1.6l-0.9 2.1l-2.1-1.7z" fill="#02da93"/>
<path d="M264.4 289.4l2.1-0.3l-0.6 2.7l-2.2-0.4z" fill="#00c080"/>
<path d="M313.5 289.9l2.2 1.3l-0.7 1.2l-2.3-0.6z" fill="#00b578"/>
<path d="M269.5 286.8l2.1 0.1l-0.7 2.7l-2.1-0.1z" fill="#01cf8b"/>
<path d="M274.6 285.2l2.1 0.3l-0.7 2.6l-2.1-0.4z" fill="#01cb88"/>
<path d="M279.6 284.2l2.2 0.5l-0.8 2.4l-2.1-0.5z" fill="#02d691"/>
<path d="M284.7 283.6l2.1 0.7l-0.7 2.4l-2.1-0.7z" fill="#04df99"/>
<path d="M289.8 283.5l2.1 0.9l-0.8 2.4l-2.1-0.9z" fill="#05e39c"/>
<path d="M294.8 284.0l2.2 1.1l-0.8 2.2l-2.2-1z" fill="#05e19a"/>
<path d="M299.9 285.0l2.2 1.2l-0.9 2.1l-2.1-1.2z" fill="#03dd96"/>
<path d="M304.9 286.3l2.2 1.5l-0.8 2.1l-2.2-1.5z" fill="#03de96"/>
<path d="M310.0 288.4l2.2 1.9l-0.9 2.1l-2.1-2z" fill="#02dd95"/>
<path d="M265.9 289.0l2.1-0.1l-0.6 3l-2.1-0.2z" fill="#01cd89"/>
<path d="M314.9 290.9l2.3 0.5l-0.6 1.3l-2.4-0.5z" fill="#008e5f"/>
<path d="M271.0 286.8l2.1 0.2l-0.7 2.7l-2.1-0.2z" fill="#01d08c"/>
<path d="M276.1 285.4l2.1 0.4l-0.7 2.5l-2.1-0.4z" fill="#01d28d"/>
<path d="M281.1 284.5l2.2 0.6l-0.7 2.4l-2.2-0.5z" fill="#03da94"/>
<path d="M286.2 284.1l2.2 0.7l-0.8 2.4l-2.1-0.7z" fill="#05e29b"/>
<path d="M291.3 284.2l2.1 0.9l-0.7 2.3l-2.2-0.9z" fill="#06e69f"/>
<path d="M296.3 284.8l2.2 1.1l-0.8 2.2l-2.2-1.1z" fill="#03dd96"/>
<path d="M301.4 285.9l2.2 1.2l-0.8 2.2l-2.2-1.3z" fill="#03dd96"/>
<path d="M306.5 287.4l2.1 1.6l-0.8 2.1l-2.2-1.5z" fill="#03de96"/>
<path d="M311.5 289.8l2.2 1.9l-0.8 1.3l-2.2-0.9z" fill="#00ca87"/>
<path d="M267.5 288.8l2 0l-0.6 3l-2.1 0z" fill="#01d18d"/>
<path d="M272.5 286.9l2.1 0.2l-0.6 2.7l-2.1-0.2z" fill="#01d08c"/>
<path d="M277.6 285.6l2.1 0.5l-0.7 2.5l-2.1-0.5z" fill="#02d38e"/>
<path d="M282.7 284.9l2.1 0.6l-0.7 2.4l-2.2-0.6z" fill="#03db95"/>
<path d="M287.7 284.6l2.2 0.8l-0.8 2.4l-2.1-0.8z" fill="#04df99"/>
<path d="M292.8 284.9l2.1 1l-0.7 2.2l-2.2-0.9z" fill="#06e59e"/>
<path d="M297.8 285.6l2.2 1.2l-0.8 2.1l-2.2-1.1z" fill="#04e19a"/>
<path d="M302.9 286.8l2.2 1.4l-0.8 2.2l-2.2-1.5z" fill="#03de97"/>
<path d="M308.0 288.7l2.2 1.6l-0.9 2.3l-2.2-1.9z" fill="#03de96"/>
<path d="M312.9 291.3l2.3 0.6l-0.7 1.3l-2.3-0.5z" fill="#009463"/>
<path d="M269.0 288.7l2.1 0.1l-0.7 3l-2.1 0z" fill="#01cf8b"/>
<path d="M274.0 287.0l2.2 0.3l-0.7 2.7l-2.1-0.3z" fill="#03d892"/>
<path d="M279.1 285.9l2.1 0.5l-0.7 2.5l-2.1-0.5z" fill="#03d892"/>
<path d="M284.2 285.3l2.1 0.7l-0.7 2.4l-2.2-0.7z" fill="#04dd96"/>
<path d="M289.2 285.2l2.2 0.9l-0.8 2.3l-2.1-0.8z" fill="#05e29b"/>
<path d="M294.3 285.6l2.2 1l-0.8 2.3l-2.2-1z" fill="#04de98"/>
<path d="M299.4 286.5l2.1 1.2l-0.8 2.2l-2.2-1.3z" fill="#04e099"/>
<path d="M304.4 287.8l2.2 1.6l-0.8 2.1l-2.2-1.5z" fill="#05e49c"/>
<path d="M309.5 289.9l2.2 2.1l-0.9 1.5l-2.1-1.2z" fill="#01d690"/>
<path d="M270.5 288.8l2.1 0.1l-0.7 2.8l-2.1 0z" fill="#02d38e"/>
<path d="M275.6 287.2l2.1 0.3l-0.7 2.7l-2.1-0.4z" fill="#03db95"/>
<path d="M280.6 286.2l2.2 0.6l-0.8 2.5l-2.1-0.6z" fill="#03d993"/>
<path d="M285.7 285.8l2.1 0.7l-0.7 2.4l-2.2-0.7z" fill="#05e29b"/>
<path d="M290.7 285.8l2.2 0.9l-0.8 2.4l-2.1-0.9z" fill="#05e39c"/>
<path d="M295.8 286.4l2.2 1l-0.8 2.3l-2.2-1.1z" fill="#06e69f"/>
<path d="M300.9 287.4l2.1 1.3l-0.8 2.3l-2.1-1.4z" fill="#07eba3"/>
<path d="M306.0 289.0l2.1 1.6l-0.8 2.3l-2.2-1.8z" fill="#07eba2"/>
<path d="M310.9 291.5l2.3 1l-0.7 1.2l-2.3-0.5z" fill="#00a76f"/>
<path d="M272.0 288.8l2.1 0.2l-0.7 2.8l-2.1-0.2z" fill="#02d48f"/>
<path d="M277.1 287.4l2.1 0.4l-0.7 2.7l-2.1-0.5z" fill="#03db95"/>
<path d="M282.1 286.6l2.2 0.6l-0.8 2.5l-2.1-0.6z" fill="#05e09a"/>
<path d="M287.2 286.3l2.1 0.8l-0.7 2.4l-2.2-0.8z" fill="#04df98"/>
<path d="M292.3 286.5l2.1 1l-0.8 2.3l-2.1-1z" fill="#06e49d"/>
<path d="M297.3 287.2l2.2 1.1l-0.8 2.3l-2.2-1.2z" fill="#08eca4"/>
<path d="M302.4 288.3l2.2 1.5l-0.9 2.2l-2.1-1.4z" fill="#07eaa2"/>
<path d="M307.5 290.2l2.1 1.9l-0.8 1.9l-2.2-1.4z" fill="#04e29a"/>
<path d="M273.5 288.9l2.1 0.3l-0.7 2.8l-2.1-0.3z" fill="#03d892"/>
<path d="M278.6 287.7l2.1 0.4l-0.7 2.7l-2.1-0.5z" fill="#06e39d"/>
<path d="M283.7 287.0l2.1 0.7l-0.8 2.5l-2.1-0.7z" fill="#05e29b"/>
<path d="M288.7 286.9l2.2 0.8l-0.8 2.4l-2.2-0.8z" fill="#05e29b"/>
<path d="M293.8 287.2l2.1 1l-0.8 2.4l-2.1-1.1z" fill="#08eba3"/>
<path d="M298.8 288.0l2.2 1.3l-0.8 2.3l-2.2-1.3z" fill="#09eea6"/>
<path d="M303.9 289.4l2.2 1.5l-0.9 2.5l-2.1-1.7z" fill="#07eca3"/>
<path d="M308.9 291.7l2.2 1.3l-0.7 1.3l-2.3-0.6z" fill="#00ba7c"/>
<path d="M275.0 289.1l2.1 0.3l-0.7 2.8l-2-0.4z" fill="#03dc95"/>
<path d="M280.1 288.0l2.1 0.5l-0.7 2.7l-2.1-0.6z" fill="#06e49d"/>
<path d="M285.2 287.5l2.1 0.7l-0.8 2.5l-2.1-0.7z" fill="#06e49d"/>
<path d="M290.2 287.5l2.2 0.9l-0.8 2.4l-2.1-0.9z" fill="#08eaa2"/>
<path d="M295.3 288.0l2.1 1l-0.8 2.5l-2.1-1.2z" fill="#0af0a9"/>
<path d="M300.4 289.0l2.1 1.3l-0.8 2.4l-2.2-1.4z" fill="#08eca4"/>
<path d="M305.4 290.6l2.2 1.8l-0.9 2.1l-2.1-1.5z" fill="#05e59d"/>
<path d="M310.3 292.7l2.3 0.5l-0.6 1.3l-2.4-0.5z" fill="#009261"/>
<path d="M276.6 289.3l2.1 0.4l-0.7 2.8l-2.1-0.5z" fill="#06e39c"/>
<path d="M281.6 288.4l2.1 0.5l-0.7 2.7l-2.1-0.6z" fill="#0aefa8"/>
<path d="M286.7 288.0l2.1 0.8l-0.7 2.5l-2.2-0.8z" fill="#08eaa2"/>
<path d="M291.7 288.1l2.2 1l-0.8 2.5l-2.1-1z" fill="#0aefa8"/>
<path d="M296.8 288.8l2.2 1.2l-0.9 2.4l-2.1-1.2z" fill="#0df9b1"/>
<path d="M301.9 290.0l2.1 1.4l-0.8 2.5l-2.2-1.6z" fill="#0bf6ae"/>
<path d="M306.9 292.0l2.2 1.5l-0.7 1.3l-2.3-0.6z" fill="#00c080"/>
<path d="M278.1 289.5l2.1 0.5l-0.7 2.8l-2.1-0.5z" fill="#07e8a1"/>
<path d="M283.1 288.8l2.1 0.6l-0.7 2.7l-2.1-0.7z" fill="#0aeea7"/>
<path d="M288.2 288.6l2.1 0.8l-0.7 2.6l-2.2-0.9z" fill="#0df7b0"/>
<path d="M293.3 288.9l2.1 1l-0.8 2.5l-2.1-1.1z" fill="#0efab2"/>
<path d="M298.3 289.7l2.2 1.3l-0.8 2.4l-2.2-1.3z" fill="#0efab3"/>
<path d="M303.4 291.1l2.2 1.7l-0.9 2.2l-2.1-1.4z" fill="#09f0a8"/>
<path d="M308.3 293.2l2.3 0.5l-0.7 1.3l-2.3-0.5z" fill="#009060"/>
<path d="M279.6 289.9l2.1 0.5l-0.7 2.8l-2.1-0.6z" fill="#07e8a1"/>
<path d="M284.7 289.3l2.1 0.7l-0.8 2.7l-2.1-0.8z" fill="#0cf3ac"/>
<path d="M289.7 289.2l2.1 0.9l-0.7 2.6l-2.2-0.9z" fill="#0cf6af"/>
<path d="M294.8 289.7l2.1 1.1l-0.8 2.5l-2.1-1.1z" fill="#0ffdb5"/>
<path d="M299.9 290.7l2.1 1.3l-0.8 2.6l-2.2-1.5z" fill="#0ffdb6"/>
<path d="M304.9 292.4l2.2 1.6l-0.8 1.3l-2.2-0.6z" fill="#00c885"/>
<path d="M281.1 290.3l2.1 0.6l-0.7 2.7l-2.1-0.6z" fill="#0aefa8"/>
<path d="M286.2 289.8l2.1 0.8l-0.8 2.7l-2.1-0.8z" fill="#0ef9b2"/>
<path d="M291.2 289.9l2.2 1l-0.8 2.6l-2.2-1z" fill="#10feb7"/>
<path d="M296.3 290.5l2.1 1.2l-0.8 2.6l-2.1-1.3z" fill="#12ffbd"/>
<path d="M301.4 291.7l2.1 1.6l-0.8 2.2l-2.2-1.1z" fill="#0df9b1"/>
<path d="M306.3 293.6l2.3 0.6l-0.7 1.3l-2.3-0.5z" fill="#009462"/>
<path d="M282.6 290.7l2.1 0.7l-0.7 2.8l-2.1-0.7z" fill="#0ef8b1"/>
<path d="M287.7 290.4l2.1 0.9l-0.8 2.6l-2.1-0.8z" fill="#10fdb6"/>
<path d="M292.8 290.7l2.1 1l-0.8 2.7l-2.1-1.2z" fill="#11ffba"/>
<path d="M297.8 291.5l2.1 1.2l-0.8 2.7l-2.1-1.4z" fill="#18ffca"/>
<path d="M302.8 293.0l2.2 1.5l-0.7 1.3l-2.2-0.5z" fill="#00c583"/>
<path d="M284.1 291.2l2.1 0.7l-0.7 2.9l-2.1-0.8z" fill="#13ffbe"/>
<path d="M289.2 291.1l2.1 0.9l-0.8 2.7l-2.1-1z" fill="#16ffc5"/>
<path d="M294.3 291.5l2.1 1.1l-0.8 2.8l-2.1-1.3z" fill="#19ffcd"/>
<path d="M299.3 292.5l2.2 1.6l-0.8 1.9l-2.2-0.8z" fill="#0af2aa"/>
<path d="M304.2 294.1l2.3 0.6l-0.6 1.3l-2.4-0.5z" fill="#009664"/>
<path d="M285.7 291.7l2 0.8l-0.7 3l-2.1-0.9z" fill="#19ffcc"/>
<path d="M290.7 291.8l2.1 0.9l-0.8 2.9l-2.1-1.1z" fill="#1effd7"/>
<path d="M295.8 292.3l2.1 1.3l-0.8 2.6l-2.1-1z" fill="#18ffc9"/>
<path d="M300.8 293.7l2.2 1.3l-0.7 1.3l-2.3-0.5z" fill="#00ba7c"/>
<path d="M287.2 292.3l2.1 0.9l-0.8 2.9l-2.1-0.8z" fill="#1bffd1"/>
<path d="M292.2 292.5l2.1 1.1l-0.7 2.8l-2.1-1z" fill="#1cffd1"/>
<path d="M297.3 293.4l2.2 1.5l-0.8 1.6l-2.2-0.5z" fill="#03db94"/>
<path d="M302.2 294.7l2.3 0.6l-0.7 1.3l-2.3-0.6z" fill="#009261"/>
<path d="M288.7 293.0l2.1 1l-0.8 2.6l-2.1-0.6z" fill="#19ffca"/>
<path d="M293.7 293.4l2.2 1.4l-0.8 1.9l-2.1-0.5z" fill="#07e9a1"/>
<path d="M298.7 294.5l2.3 1l-0.7 1.3l-2.3-0.6z" fill="#00a46e"/>
<path d="M303.7 295.0l2.3 0.6l-0.7 1.3l-2.3-0.6z" fill="#009060"/>
<path d="M290.2 293.8l2.1 1.2l-0.7 1.9l-2.2-0.4z" fill="#03db94"/>
<path d="M295.2 294.5l2.2 1.2l-0.7 1.3l-2.3-0.5z" fill="#00b77a"/>
<path d="M300.1 295.2l2.4 0.6l-0.7 1.3l-2.3-0.6z" fill="#009060"/>
<path d="M291.6 294.7l2.3 1.1l-0.8 1.4l-2.2-0.5z" fill="#00b67a"/>
<path d="M301.7 295.5l2.3 0.6l-0.7 1.3l-2.3-0.6z" fill="#008f5f"/>
<path d="M293.1 295.5l2.3 0.7l-0.7 1.3l-2.3-0.6z" fill="#009865"/>
<path d="M298.1 295.7l2.3 0.6l-0.6 1.3l-2.4-0.6z" fill="#009160"/>
<path d="M294.6 295.9l2.3 0.6l-0.7 1.3l-2.3-0.6z" fill="#009160"/>
<path d="M362.9 252.6 V222.9" stroke="#909090" stroke-width="1.2" fill="none"/>
<path d="M362.4 251.6L428.9 264.8L405.9 300.3L339.4 287.1z" fill="#888" filter="url(#nz)"/>
<path d="M378.7 254.5l2.3 0.6l-0.7 1.3l-2.3-0.6z" fill="#4ba000"/>
<path d="M376.7 255.0l2.3 0.6l-0.7 1.2l-2.3-0.5z" fill="#3f9b00"/>
<path d="M381.7 255.2l2.4 0.5l-0.6 0.7l-2.5 0z" fill="#457f00"/>
<path d="M378.1 255.4l2.4 0.6l-0.5 0.4l-2.5 0.2z" fill="#326f00"/>
<path d="M383.1 255.6l2.5 0.5l-0.6-0.2l-2.5 0.4z" fill="#355c00"/>
<path d="M369.6 255.4l2.3 0.6l-0.7 1.3l-2.3-0.6z" fill="#229e00"/>
<path d="M374.6 255.6l2.4 0.5l-0.6 0.7l-2.4 0.1z" fill="#2c7f00"/>
<path d="M376.0 256.1l2.5 0.4l-0.6-0.5l-2.4 0.7z" fill="#245c00"/>
<path d="M372.5 256.1l2.4 0.6l-0.5 0l-2.5 0.6z" fill="#1c6300"/>
<path d="M369.0 256.3l2.4 0.5l-0.7 1.1l-2.3-0.3z" fill="#1b9200"/>
<path d="M365.5 256.5l2.3 0.5l-0.6 1.3l-2.4-0.5z" fill="#0fa300"/>
<path d="M370.4 256.7l2.5 0.5l-0.6-0.4l-2.4 1z" fill="#145c00"/>
<path d="M368.4 257.3l2.5 0.3l-0.6-0.5l-2.4 1.1z" fill="#0e5c00"/>
<path d="M365.0 257.3l2.3 0.5l-0.6 1.1l-2.4-0.3z" fill="#099200"/>
<path d="M366.3 257.8l2.5 0.2l-0.5-0.3l-2.5 1.1z" fill="#085c00"/>
<path d="M364.3 258.2l2.5 0.3l-0.6-0.2l-2.4 1.1z" fill="#025c00"/>
<path d="M374.4 256.3l2.5-0.5l-0.5 0.1l-2.5 0.4z" fill="#1c5c00"/>
<path d="M379.5 255.6l2.5-0.3l-0.6 0l-2.5 0.3z" fill="#2b5c00"/>
<path d="M375.9 256.0l2.5-0.4l-0.5 0.1l-2.5 0.3z" fill="#205c00"/>
<path d="M381.0 255.4l2.5-0.2l-0.5 0l-2.6 0.2z" fill="#2f5c00"/>
<path d="M362.3 258.7l2.5 0.4l-0.6 0.1l-2.4 0.8z" fill="#006403"/>
<path d="M372.4 256.6l2.5-0.5l-0.6 0.1l-2.4 0.5z" fill="#155c00"/>
<path d="M377.4 255.7l2.5-0.2l-0.5 0.1l-2.5 0.3z" fill="#255c00"/>
<path d="M368.8 257.5l2.5-0.7l-0.5 0.1l-2.5 0.6z" fill="#0b5c00"/>
<path d="M373.9 256.2l2.5-0.3l-0.5 0.2l-2.5 0.3z" fill="#195c00"/>
<path d="M378.9 255.6l2.5-0.3l-0.5 0.2l-2.5 0.2z" fill="#295c00"/>
<path d="M360.3 259.1l2.4 0.6l-0.5 0.7l-2.5 0z" fill="#00820b"/>
<path d="M370.3 257.0l2.5-0.5l-0.5 0.2l-2.5 0.4z" fill="#0f5c00"/>
<path d="M375.4 256.0l2.5-0.3l-0.5 0.3l-2.5 0.2z" fill="#1e5c00"/>
<path d="M380.4 255.4l2.6-0.2l-0.6 0.2l-2.5 0.2z" fill="#2d5c00"/>
<path d="M405.7 260.2l2.5 0.5l-0.6 0.5l-2.3-1.6z" fill="#5c5a00"/>
<path d="M361.7 259.9l2.5-0.8l-0.6-0.1l-2.3 1.4z" fill="#005c06"/>
<path d="M366.8 258.0l2.5-0.7l-0.5 0.1l-2.5 0.7z" fill="#055c00"/>
<path d="M371.8 256.6l2.5-0.4l-0.5 0.3l-2.5 0.3z" fill="#125c00"/>
<path d="M376.9 255.8l2.5-0.2l-0.5 0.3l-2.5 0.1z" fill="#225c00"/>
<path d="M382.0 255.3l2.5-0.3l-0.6 0.2l-2.5 0.2z" fill="#325c00"/>
<path d="M358.3 259.6l2.4 0.6l-0.7 1.2l-2.3-0.5z" fill="#009815"/>
<path d="M407.4 260.3l2.3 0.5l-0.7 1.2l-2.3-1.2z" fill="#898500"/>
<path d="M368.3 257.5l2.5-0.6l-0.5 0.2l-2.5 0.6z" fill="#085c00"/>
<path d="M373.4 256.3l2.5-0.3l-0.6 0.3l-2.5 0.3z" fill="#165c00"/>
<path d="M378.4 255.6l2.5-0.2l-0.5 0.4l-2.5 0.1z" fill="#265c00"/>
<path d="M383.5 255.1l2.5-0.3l-0.5 0.1l-2.5 0.4z" fill="#365c00"/>
<path d="M359.7 260.1l2.5-0.1l-0.6 0l-2.4 1.3z" fill="#005c0b"/>
<path d="M369.8 257.1l2.5-0.5l-0.5 0.3l-2.5 0.4z" fill="#0b5c00"/>
<path d="M374.9 256.1l2.5-0.2l-0.5 0.3l-2.5 0.2z" fill="#1b5c00"/>
<path d="M379.9 255.5l2.5-0.2l-0.5 0.3l-2.5 0.2z" fill="#2b5c00"/>
<path d="M385.0 255.0l2.5-0.4l-0.5-0.1l-2.5 0.5z" fill="#3b5c00"/>
<path d="M366.3 258.1l2.5-0.7l-0.6 0.2l-2.4 0.7z" fill="#015c00"/>
<path d="M371.3 256.7l2.5-0.3l-0.5 0.4l-2.5 0.3z" fill="#0f5c00"/>
<path d="M376.4 255.9l2.5-0.2l-0.5 0.5l-2.5 0.1z" fill="#1f5c00"/>
<path d="M381.4 255.4l2.5-0.3l-0.5 0.3l-2.5 0.3z" fill="#305c00"/>
<path d="M357.8 260.5l2.4 0.4l-0.6 0.5l-2.4 0.4z" fill="#007814"/>
<path d="M367.8 257.6l2.5-0.5l-0.5 0.3l-2.5 0.5z" fill="#045c00"/>
<path d="M372.8 256.5l2.5-0.3l-0.5 0.4l-2.5 0.2z" fill="#135c00"/>
<path d="M377.9 255.8l2.5-0.2l-0.5 0.5l-2.5 0.1z" fill="#245c00"/>
<path d="M382.9 255.2l2.5-0.4l-0.5 0.3l-2.5 0.4z" fill="#355c00"/>
<path d="M364.3 258.8l2.4-0.8l-0.5 0.2l-2.5 0.7z" fill="#005c05"/>
<path d="M369.3 257.2l2.5-0.4l-0.5 0.4l-2.5 0.3z" fill="#085c00"/>
<path d="M374.3 256.2l2.5-0.1l-0.5 0.4l-2.5 0.2z" fill="#175c00"/>
<path d="M379.4 255.6l2.5-0.1l-0.5 0.5l-2.5 0.1z" fill="#295c00"/>
<path d="M384.5 255.0l2.5-0.4l-0.6 0.1l-2.5 0.6z" fill="#395c00"/>
<path d="M409.8 261.7l2.5 0.6l-0.8 1.1l-2.3-1.5z" fill="#847900"/>
<path d="M365.8 258.2l2.4-0.6l-0.5 0.3l-2.5 0.5z" fill="#005c02"/>
<path d="M370.8 256.9l2.5-0.3l-0.5 0.5l-2.5 0.2z" fill="#0b5c00"/>
<path d="M375.9 256.1l2.5-0.1l-0.6 0.5l-2.5 0z" fill="#1c5c00"/>
<path d="M380.9 255.5l2.5-0.2l-0.5 0.5l-2.5 0.2z" fill="#2e5c00"/>
<path d="M386.0 254.8l2.5-0.6l-0.6 0l-2.4 0.7z" fill="#3e5c00"/>
<path d="M357.1 261.5l2.5-0.4l-0.5 0.1l-2.4 1.4z" fill="#005c12"/>
<path d="M362.2 259.6l2.5-1l-0.6 0.2l-2.4 0.9z" fill="#005c0a"/>
<path d="M367.3 257.8l2.4-0.5l-0.5 0.3l-2.5 0.5z" fill="#015c00"/>
<path d="M372.3 256.7l2.5-0.2l-0.5 0.5l-2.5 0.1z" fill="#0f5c00"/>
<path d="M377.4 256.0l2.5-0.1l-0.6 0.6l-2.4 0z" fill="#225e00"/>
<path d="M382.4 255.4l2.5-0.4l-0.5 0.4l-2.5 0.4z" fill="#335c00"/>
<path d="M363.7 258.9l2.5-0.7l-0.5 0.2l-2.5 0.7z" fill="#005c08"/>
<path d="M368.8 257.4l2.5-0.3l-0.5 0.4l-2.5 0.3z" fill="#045c00"/>
<path d="M373.8 256.5l2.5-0.1l-0.5 0.5l-2.5 0.1z" fill="#145c00"/>
<path d="M378.9 255.9l2.5-0.1l-0.6 0.6l-2.4 0z" fill="#286000"/>
<path d="M383.9 255.2l2.5-0.5l-0.5 0.3l-2.5 0.6z" fill="#385c00"/>
<path d="M355.2 261.8l2.4 0.4l-0.6 0.8l-2.4 0.1z" fill="#008220"/>
<path d="M365.2 258.4l2.5-0.6l-0.5 0.3l-2.5 0.5z" fill="#005c06"/>
<path d="M370.3 257.2l2.5-0.3l-0.5 0.5l-2.5 0.2z" fill="#075c00"/>
<path d="M375.3 256.3l2.5 0l-0.5 0.6l-2.5 0z" fill="#1a6100"/>
<path d="M380.4 255.8l2.5-0.2l-0.5 0.6l-2.5 0.2z" fill="#2b5c00"/>
<path d="M385.5 254.9l2.4-0.7l-0.5 0.2l-2.4 0.8z" fill="#3d5c00"/>
<path d="M356.7 262.6l2.4-1.4l-0.6 0.1l-2.3 1.8z" fill="#005c15"/>
<path d="M361.7 259.8l2.5-1l-0.6 0.1l-2.4 1z" fill="#005c0e"/>
<path d="M410.7 263.0l2.5 0.6l-0.7 0.4l-2.2-2.3z" fill="#5c5200"/>
<path d="M366.7 258.0l2.5-0.4l-0.5 0.3l-2.5 0.4z" fill="#005c03"/>
<path d="M371.8 256.9l2.5-0.1l-0.5 0.6l-2.5 0z" fill="#0b5d00"/>
<path d="M376.9 256.2l2.4 0l-0.5 0.7l-2.5-0.1z" fill="#1f6100"/>
<path d="M381.9 255.6l2.5-0.3l-0.5 0.6l-2.5 0.3z" fill="#315c00"/>
<path d="M363.2 259.1l2.5-0.8l-0.6 0.2l-2.4 0.8z" fill="#005c0c"/>
<path d="M412.4 263.1l2.3 0.6l-0.7 1.2l-2.3-1.3z" fill="#918000"/>
<path d="M368.2 257.7l2.5-0.3l-0.5 0.4l-2.5 0.2z" fill="#005c00"/>
<path d="M373.3 256.8l2.5-0.1l-0.5 0.6l-2.5 0z" fill="#116200"/>
<path d="M378.4 256.2l2.5-0.1l-0.6 0.8l-2.5-0.1z" fill="#276700"/>
<path d="M383.4 255.4l2.5-0.5l-0.5 0.5l-2.5 0.6z" fill="#365c00"/>
<path d="M354.6 262.7l2.5-0.1l-0.5 0.3l-2.5 1.1z" fill="#00611a"/>
<path d="M364.7 258.6l2.5-0.6l-0.5 0.2l-2.5 0.6z" fill="#005c0a"/>
<path d="M369.8 257.4l2.5-0.2l-0.6 0.5l-2.5 0.1z" fill="#035c00"/>
<path d="M374.8 256.6l2.5 0l-0.5 0.7l-2.5 0z" fill="#176600"/>
<path d="M379.9 256.1l2.5-0.1l-0.6 0.7l-2.4 0.1z" fill="#2d6700"/>
<path d="M384.9 255.1l2.5-0.7l-0.5 0.4l-2.5 0.8z" fill="#3c5c00"/>
<path d="M366.2 258.2l2.5-0.4l-0.5 0.2l-2.5 0.4z" fill="#005c07"/>
<path d="M371.3 257.2l2.5-0.1l-0.6 0.6l-2.5 0z" fill="#075e00"/>
<path d="M376.4 256.6l2.4 0l-0.5 0.7l-2.5-0.1z" fill="#1e6b00"/>
<path d="M381.4 256.0l2.5-0.3l-0.6 0.8l-2.4 0.2z" fill="#326300"/>
<path d="M386.5 254.7l2.4-0.9l-0.5 0.2l-2.4 1.1z" fill="#415c00"/>
<path d="M362.7 259.3l2.5-0.8l-0.6 0.1l-2.4 0.8z" fill="#005c0f"/>
<path d="M367.7 257.9l2.5-0.3l-0.5 0.4l-2.5 0.1z" fill="#005c04"/>
<path d="M372.8 257.1l2.5 0l-0.6 0.7l-2.4-0.1z" fill="#0c6400"/>
<path d="M377.9 256.5l2.4 0.1l-0.5 0.8l-2.5-0.2z" fill="#246b00"/>
<path d="M382.9 255.8l2.5-0.6l-0.5 0.8l-2.5 0.5z" fill="#355c00"/>
<path d="M354.1 263.8l2.4-1l-0.5 0.2l-2.4 1.8z" fill="#005c1c"/>
<path d="M364.2 258.8l2.5-0.6l-0.6 0.1l-2.4 0.6z" fill="#005c0d"/>
<path d="M369.2 257.7l2.5-0.1l-0.5 0.4l-2.5 0z" fill="#005c01"/>
<path d="M374.3 257.0l2.5 0l-0.6 0.8l-2.4-0.1z" fill="#126900"/>
<path d="M379.4 256.5l2.4-0.1l-0.5 0.9l-2.5 0z" fill="#2d6f00"/>
<path d="M384.4 255.5l2.5-0.9l-0.5 0.7l-2.5 0.9z" fill="#3a5c00"/>
<path d="M365.7 258.4l2.5-0.4l-0.5 0.1l-2.5 0.4z" fill="#005c0b"/>
<path d="M370.8 257.5l2.4 0l-0.5 0.5l-2.5-0.1z" fill="#025d00"/>
<path d="M375.8 256.9l2.5 0.1l-0.6 0.9l-2.4-0.2z" fill="#1a6f00"/>
<path d="M380.9 256.4l2.4-0.2l-0.5 1l-2.4 0.1z" fill="#346e00"/>
<path d="M385.9 255.0l2.5-1l-0.5 0.4l-2.4 1.2z" fill="#405c00"/>
<path d="M367.2 258.1l2.5-0.2l-0.5 0.2l-2.5 0.1z" fill="#005c09"/>
<path d="M372.3 257.4l2.5 0.1l-0.6 0.7l-2.5-0.2z" fill="#076000"/>
<path d="M377.4 256.9l2.4 0.1l-0.6 0.9l-2.4-0.2z" fill="#217100"/>
<path d="M382.4 256.2l2.4-0.5l-0.5 1l-2.4 0.5z" fill="#396a00"/>
<path d="M387.5 254.4l2.4-1.2l-0.6 0.2l-2.3 1.4z" fill="#455c00"/>
<path d="M353.6 264.7l2.3-1.7l-0.5 0.3l-2.3 2z" fill="#005c1e"/>
<path d="M368.7 257.9l2.5-0.1l-0.5 0.3l-2.5 0z" fill="#005c06"/>
<path d="M373.8 257.4l2.5 0.1l-0.6 0.8l-2.5-0.2z" fill="#0d6800"/>
<path d="M378.9 256.9l2.4 0.1l-0.6 1l-2.4-0.2z" fill="#2c7a00"/>
<path d="M383.9 255.9l2.4-0.8l-0.4 0.9l-2.5 0.9z" fill="#395e00"/>
<path d="M365.2 258.5l2.5-0.4l-0.6 0l-2.5 0.5z" fill="#005c0f"/>
<path d="M370.2 257.8l2.5 0.1l-0.5 0.4l-2.5-0.2z" fill="#005c02"/>
<path d="M375.3 257.4l2.5 0.1l-0.6 0.9l-2.4-0.2z" fill="#157800"/>
<path d="M380.4 256.9l2.4-0.1l-0.6 1.1l-2.4 0z" fill="#387f00"/>
<path d="M385.4 255.4l2.4-1.1l-0.4 0.7l-2.4 1.3z" fill="#3f5c00"/>
<path d="M366.7 258.2l2.5-0.2l-0.5 0.1l-2.5 0.2z" fill="#005c0d"/>
<path d="M415.9 265.6l2.3 0.5l-0.7 1.3l-2.3-0.9z" fill="#997d00"/>
<path d="M371.8 257.7l2.4 0.2l-0.5 0.6l-2.5-0.3z" fill="#026200"/>
<path d="M376.9 257.4l2.4 0.2l-0.6 1l-2.4-0.3z" fill="#1e7b00"/>
<path d="M381.9 256.8l2.4-0.5l-0.5 1.3l-2.4 0.3z" fill="#3d7600"/>
<path d="M386.9 254.8l2.4-1.4l-0.5 0.4l-2.3 1.6z" fill="#445c00"/>
<path d="M368.2 258.0l2.5 0l-0.5 0.1l-2.5 0z" fill="#005c0a"/>
<path d="M373.3 257.8l2.4 0.2l-0.5 0.8l-2.5-0.5z" fill="#076800"/>
<path d="M378.4 257.4l2.4 0.2l-0.6 1.1l-2.4-0.3z" fill="#298200"/>
<path d="M383.4 256.5l2.4-0.8l-0.5 1.2l-2.4 0.8z" fill="#427000"/>
<path d="M388.5 253.9l2.3-1.5l-0.5 0.2l-2.3 1.8z" fill="#4a5c00"/>
<path d="M369.7 258.0l2.5 0.1l-0.5 0.3l-2.5-0.3z" fill="#005c07"/>
<path d="M374.8 257.8l2.5 0.3l-0.7 0.9l-2.4-0.4z" fill="#0e7500"/>
<path d="M379.9 257.5l2.4 0l-0.6 1.3l-2.4-0.2z" fill="#368800"/>
<path d="M384.9 256.0l2.4-1.2l-0.4 1l-2.4 1.3z" fill="#406100"/>
<path d="M415.2 266.4l2.5 0.8l-0.8 0.8l-2.1-2.9z" fill="#635000"/>
<path d="M371.2 258.0l2.5 0.3l-0.5 0.4l-2.5-0.5z" fill="#005c04"/>
<path d="M376.4 257.9l2.4 0.3l-0.7 1.1l-2.3-0.5z" fill="#198500"/>
<path d="M381.4 257.4l2.4-0.3l-0.6 1.5l-2.3 0.1z" fill="#448d00"/>
<path d="M386.4 255.3l2.4-1.5l-0.5 0.7l-2.3 1.7z" fill="#445c00"/>
<path d="M352.6 265.8l2.3-2.1l-0.6 0.4l-2.2 2.2z" fill="#005c23"/>
<path d="M416.9 266.7l2.3 0.5l-0.7 1.3l-2.3-0.9z" fill="#997a00"/>
<path d="M372.8 258.1l2.4 0.4l-0.6 0.6l-2.4-0.6z" fill="#006500"/>
<path d="M377.9 258.0l2.4 0.3l-0.7 1.2l-2.3-0.4z" fill="#258d00"/>
<path d="M382.9 257.2l2.3-0.7l-0.4 1.5l-2.4 0.6z" fill="#498200"/>
<path d="M388.0 254.3l2.3-1.7l-0.5 0.5l-2.3 2z" fill="#4a5c00"/>
<path d="M354.1 264.4l2.3-2l-0.5 0.4l-2.3 2z" fill="#005c23"/>
<path d="M369.2 258.1l2.5 0.2l-0.5 0l-2.5-0.3z" fill="#005c0c"/>
<path d="M374.3 258.2l2.4 0.5l-0.6 0.9l-2.4-0.7z" fill="#077500"/>
<path d="M379.4 258.1l2.4 0.2l-0.7 1.4l-2.3-0.4z" fill="#349700"/>
<path d="M384.3 256.7l2.4-1.2l-0.4 1.4l-2.3 1.3z" fill="#4a7200"/>
<path d="M370.7 258.1l2.5 0.5l-0.6 0.1l-2.4-0.6z" fill="#005c09"/>
<path d="M375.9 258.4l2.3 0.5l-0.6 1.1l-2.4-0.7z" fill="#118900"/>
<path d="M380.9 258.2l2.3-0.1l-0.6 1.7l-2.3-0.2z" fill="#439b00"/>
<path d="M385.9 256.0l2.3-1.6l-0.4 1.1l-2.3 1.8z" fill="#466100"/>
<path d="M352.1 266.3l2.2-2.2l-0.5 0.5l-2.2 2.3z" fill="#005c26"/>
<path d="M416.2 267.4l2.5 0.9l-0.8 0.9l-2.1-3z" fill="#644e00"/>
<path d="M372.2 258.3l2.5 0.6l-0.6 0.4l-2.4-0.9z" fill="#005c06"/>
<path d="M377.4 258.6l2.3 0.4l-0.6 1.4l-2.4-0.7z" fill="#1d9600"/>
<path d="M382.4 258.1l2.3-0.6l-0.5 1.9l-2.3 0.3z" fill="#509700"/>
<path d="M387.4 254.9l2.3-1.9l-0.4 0.8l-2.3 2.2z" fill="#495c00"/>
<path d="M353.6 264.8l2.3-2l-0.6 0.4l-2.2 2.1z" fill="#005c25"/>
<path d="M373.8 258.6l2.4 0.7l-0.6 0.6l-2.4-1z" fill="#007001"/>
<path d="M378.9 258.8l2.4 0.4l-0.7 1.5l-2.3-0.6z" fill="#2ea400"/>
<path d="M383.8 257.7l2.4-1.2l-0.4 1.9l-2.3 1z" fill="#518200"/>
<path d="M389.0 253.7l2.2-2l-0.5 0.5l-2.2 2.3z" fill="#4f5c00"/>
<path d="M375.3 258.9l2.4 0.7l-0.7 1l-2.3-1.1z" fill="#078500"/>
<path d="M380.4 259.0l2.3 0.2l-0.6 1.8l-2.3-0.5z" fill="#44b300"/>
<path d="M385.3 256.9l2.4-1.7l-0.4 1.6l-2.3 1.8z" fill="#507100"/>
<path d="M351.6 266.9l2.2-2.3l-0.5 0.6l-2.2 2.3z" fill="#005c28"/>
<path d="M371.7 258.4l2.5 0.7l-0.6 0l-2.4-0.9z" fill="#005c0c"/>
<path d="M376.9 259.3l2.3 0.6l-0.7 1.3l-2.3-1z" fill="#139f00"/>
<path d="M381.9 259.1l2.3-0.4l-0.6 2.2l-2.2 0z" fill="#53ac00"/>
<path d="M386.9 255.8l2.3-2.1l-0.4 1.2l-2.3 2.3z" fill="#4b5f00"/>
<path d="M353.1 265.3l2.2-2.1l-0.5 0.5l-2.2 2.2z" fill="#005c28"/>
<path d="M373.3 258.7l2.4 1l-0.6 0.3l-2.4-1.3z" fill="#006008"/>
<path d="M378.4 259.6l2.3 0.6l-0.7 1.6l-2.3-0.9z" fill="#25b000"/>
<path d="M383.4 258.8l2.2-1l-0.4 2.3l-2.3 0.7z" fill="#5b9a00"/>
<path d="M388.4 254.4l2.3-2.2l-0.5 0.8l-2.2 2.6z" fill="#505c00"/>
<path d="M354.6 263.9l2.3-2l-0.6 0.4l-2.2 2.1z" fill="#005c28"/>
<path d="M418.9 268.9l2.3 0.5l-0.7 1.3l-2.3-0.6z" fill="#9c7500"/>
<path d="M374.8 259.3l2.4 1l-0.7 0.6l-2.3-1.4z" fill="#007403"/>
<path d="M380.0 259.9l2.2 0.5l-0.7 1.8l-2.2-0.7z" fill="#3dc400"/>
<path d="M384.8 258.1l2.3-1.7l-0.3 2.1l-2.3 1.7z" fill="#5b8400"/>
<path d="M390.0 252.9l2.2-2.2l-0.5 0.6l-2.2 2.4z" fill="#565c00"/>
<path d="M351.1 267.5l2.2-2.3l-0.5 0.6l-2.2 2.5z" fill="#005c2a"/>
<path d="M415.4 265.2l2 3.2l-0.5-0.9l-2-3.2z" fill="#5c4600"/>
<path d="M376.4 259.8l2.3 1l-0.7 1.1l-2.3-1.4z" fill="#059200"/>
<path d="M381.5 260.2l2.2 0l-0.7 2.3l-2.2-0.4z" fill="#54c600"/>
<path d="M386.3 256.9l2.3-2.2l-0.3 1.7l-2.3 2.4z" fill="#556c00"/>
<path d="M391.5 251.4l2.3-1.9l-0.6 0.3l-2.2 2.2z" fill="#5b5c00"/>
<path d="M352.6 265.9l2.2-2.2l-0.5 0.6l-2.2 2.3z" fill="#005c2a"/>
<path d="M411.8 260.0l2.1 2.9l-0.5-0.8l-2.1-2.9z" fill="#5c4700"/>
<path d="M416.9 267.6l2.1 2.8l-0.6-0.4l-2-3.3z" fill="#634a00"/>
<path d="M372.7 258.7l2.4 1.2l-0.5-0.2l-2.4-1.4z" fill="#005c0e"/>
<path d="M377.9 260.4l2.3 0.9l-0.7 1.5l-2.3-1.3z" fill="#16b400"/>
<path d="M382.9 260.1l2.2-0.7l-0.5 2.6l-2.2 0.4z" fill="#60af00"/>
<path d="M387.9 255.4l2.2-2.5l-0.4 1.3l-2.2 2.8z" fill="#546000"/>
<path d="M354.1 264.4l2.2-2.1l-0.5 0.5l-2.2 2.2z" fill="#005c2a"/>
<path d="M408.2 255.4l2.2 2.6l-0.5-0.7l-2.2-2.6z" fill="#5c4800"/>
<path d="M413.3 262.0l2.1 3.1l-0.5-0.8l-2.1-3z" fill="#5c4500"/>
<path d="M418.2 269.7l2.5 0.7l-0.8 1.2l-2.2-2.3z" fill="#7f5f00"/>
<path d="M374.3 259.4l2.3 1.4l-0.6 0.1l-2.3-1.7z" fill="#005e0b"/>
<path d="M379.5 260.9l2.2 0.8l-0.7 1.8l-2.3-1z" fill="#2fcc00"/>
<path d="M384.3 259.5l2.3-1.5l-0.4 2.5l-2.2 1.5z" fill="#619100"/>
<path d="M389.4 253.7l2.3-2.5l-0.5 1l-2.2 2.7z" fill="#575c00"/>
<path d="M350.5 268.2l2.2-2.4l-0.5 0.8l-2.1 2.5z" fill="#005c2c"/>
<path d="M355.6 263.0l2.2-2l-0.5 0.4l-2.2 2.1z" fill="#005c2a"/>
<path d="M409.8 257.2l2.1 2.8l-0.5-0.7l-2.2-2.8z" fill="#5c4600"/>
<path d="M414.9 264.3l2 3.2l-0.5-0.8l-2.1-3.2z" fill="#5c4500"/>
<path d="M375.9 260.2l2.3 1.5l-0.7 0.6l-2.3-2z" fill="#007d07"/>
<path d="M381.0 261.4l2.2 0.4l-0.8 2.3l-2.1-0.8z" fill="#4fdd02"/>
<path d="M385.8 258.4l2.3-2.3l-0.3 2.1l-2.3 2.5z" fill="#607a00"/>
<path d="M390.9 251.9l2.3-2.1l-0.5 0.7l-2.2 2.4z" fill="#5c5b00"/>
<path d="M352.0 266.5l2.3-2.3l-0.5 0.7l-2.2 2.4z" fill="#005c2c"/>
<path d="M406.2 253.1l2.2 2.4l-0.6-0.5l-2.1-2.4z" fill="#5c4800"/>
<path d="M411.3 259.1l2.1 3l-0.6-0.6l-2-3z" fill="#5f4800"/>
<path d="M416.4 266.6l2 3.4l-0.5-0.7l-2-3.4z" fill="#664c00"/>
<path d="M377.4 261.1l2.3 1.4l-0.8 1.1l-2.2-1.9z" fill="#03a200"/>
<path d="M382.5 261.6l2.1-0.4l-0.6 2.9l-2.1-0.1z" fill="#67cf01"/>
<path d="M387.3 256.7l2.3-2.6l-0.4 1.6l-2.1 3z" fill="#5e6a00"/>
<path d="M392.4 250.4l2.4-1.7l-0.6 0.5l-2.2 1.9z" fill="#5c5600"/>
<path d="M353.5 264.9l2.3-2.1l-0.5 0.6l-2.2 2.3z" fill="#005c2c"/>
<path d="M402.6 250.0l2.3 1.8l-0.5-0.4l-2.3-1.8z" fill="#5c4900"/>
<path d="M407.7 254.7l2.2 2.6l-0.6-0.5l-2.1-2.6z" fill="#604900"/>
<path d="M412.8 261.2l2.1 3.1l-0.6-0.6l-2-3.1z" fill="#674d00"/>
<path d="M417.8 269.2l2.2 2.3l-0.7 0.3l-2-3.4z" fill="#735500"/>
<path d="M379.0 261.9l2.2 1.1l-0.8 1.8l-2.2-1.7z" fill="#19cd00"/>
<path d="M383.9 261.3l2.1-1.5l-0.4 3.1l-2.1 1.2z" fill="#69a400"/>
<path d="M388.9 254.8l2.2-2.7l-0.4 1.3l-2.1 3.1z" fill="#5b5e00"/>
<path d="M393.9 249.2l2.4-1.1l-0.5 0.3l-2.4 1.3z" fill="#5c5200"/>
<path d="M350.0 269.1l2.2-2.5l-0.5 0.9l-2.1 2.6z" fill="#005c2e"/>
<path d="M399.0 248.2l2.4 0.9l-0.5-0.2l-2.5-0.9z" fill="#5c4b00"/>
<path d="M355.1 263.5l2.2-2.1l-0.5 0.5l-2.2 2.2z" fill="#005c2c"/>
<path d="M404.1 251.1l2.3 2.2l-0.6-0.4l-2.2-2.2z" fill="#5d4800"/>
<path d="M409.3 256.5l2.1 2.8l-0.6-0.5l-2.1-2.8z" fill="#634a00"/>
<path d="M414.4 263.5l2 3.2l-0.6-0.6l-2-3.2z" fill="#654b00"/>
<path d="M375.3 260.2l2.3 2l-0.6-0.2l-2.2-2.2z" fill="#00620f"/>
<path d="M380.5 262.6l2.2 0.9l-0.8 2.2l-2.2-1.2z" fill="#3fec04"/>
<path d="M385.3 260.2l2.2-2.4l-0.2 2.7l-2.3 2.5z" fill="#698800"/>
<path d="M390.4 252.8l2.2-2.4l-0.4 1.1l-2.2 2.7z" fill="#5c5900"/>
<path d="M395.4 248.3l2.5-0.4l-0.5 0.3l-2.5 0.6z" fill="#5c4f00"/>
<path d="M351.5 267.3l2.2-2.4l-0.5 0.8l-2.1 2.5z" fill="#005c2f"/>
<path d="M400.5 248.7l2.4 1.4l-0.6-0.1l-2.3-1.5z" fill="#5c4900"/>
<path d="M356.6 262.1l2.2-2l-0.5 0.4l-2.2 2.1z" fill="#005c2d"/>
<path d="M405.7 252.5l2.2 2.4l-0.6-0.3l-2.2-2.4z" fill="#654d00"/>
<path d="M410.8 258.5l2.1 2.9l-0.6-0.4l-2.1-3z" fill="#694e00"/>
<path d="M415.9 265.9l2 3.3l-0.6-0.6l-2-3.3z" fill="#674c00"/>
<path d="M420.8 271.1l2.4 0.5l-0.7 1.3l-2.3-0.5z" fill="#a07500"/>
<path d="M376.9 261.4l2.2 2l-0.7 0.5l-2.1-2.6z" fill="#007c0b"/>
<path d="M382.0 263.2l2.1 0.1l-0.7 2.9l-2.1-0.7z" fill="#68f306"/>
<path d="M386.8 258.4l2.2-2.8l-0.3 2.1l-2.1 3.2z" fill="#687500"/>
<path d="M391.9 251.0l2.3-1.9l-0.4 0.9l-2.3 2.2z" fill="#5c5400"/>
<path d="M396.9 247.9l2.5 0.3l-0.5 0.3l-2.5-0.2z" fill="#5c4c00"/>
<path d="M353.0 265.6l2.2-2.3l-0.4 0.8l-2.2 2.4z" fill="#005c2f"/>
<path d="M402.1 249.5l2.3 1.9l-0.6-0.1l-2.3-1.9z" fill="#634d00"/>
<path d="M407.2 254.2l2.2 2.6l-0.6-0.3l-2.1-2.6z" fill="#684e00"/>
<path d="M412.3 260.6l2.1 3.1l-0.6-0.4l-2-3.1z" fill="#6f5200"/>
<path d="M417.4 268.4l2 3.4l-0.6-0.5l-2-3.5z" fill="#694d00"/>
<path d="M378.4 262.7l2.3 1.8l-0.8 1.2l-2.2-2.5z" fill="#00ab00"/>
<path d="M383.4 263.2l2.1-1.1l-0.5 3.4l-2.1 0.7z" fill="#6fbc00"/>
<path d="M388.3 256.2l2.2-2.9l-0.3 1.8l-2.1 3.3z" fill="#6b6d00"/>
<path d="M393.4 249.5l2.4-1.2l-0.5 0.9l-2.3 1.4z" fill="#5c5000"/>
<path d="M349.5 270.0l2.2-2.6l-0.5 1l-2.2 2.7z" fill="#005c30"/>
<path d="M398.5 247.9l2.4 1l-0.6 0.2l-2.4-0.9z" fill="#614e00"/>
<path d="M354.5 264.0l2.3-2.1l-0.5 0.6l-2.2 2.3z" fill="#005c2f"/>
<path d="M403.7 250.7l2.2 2.2l-0.6-0.1l-2.2-2.2z" fill="#684f00"/>
<path d="M408.8 256.0l2.1 2.8l-0.6-0.3l-2.1-2.8z" fill="#6f5200"/>
<path d="M413.9 262.9l2 3.2l-0.6-0.4l-2-3.3z" fill="#6e5100"/>
<path d="M418.8 271.0l2.3 1.5l-0.8 1l-2-3z" fill="#805e00"/>
<path d="M380.0 263.9l2.2 1.3l-0.8 2l-2.2-2z" fill="#1cdb01"/>
<path d="M384.8 262.3l2.2-2.3l-0.3 3.2l-2.2 2.3z" fill="#709300"/>
<path d="M389.9 254.0l2.2-2.6l-0.4 1.6l-2.2 2.9z" fill="#676100"/>
<path d="M394.9 248.5l2.4-0.5l-0.4 0.9l-2.5 0.6z" fill="#645300"/>
<path d="M351.0 268.1l2.2-2.4l-0.5 0.9l-2.2 2.6z" fill="#005c31"/>
<path d="M400.1 248.4l2.3 1.5l-0.6 0.2l-2.4-1.4z" fill="#6f5600"/>
<path d="M356.0 262.6l2.3-2.1l-0.5 0.6l-2.3 2.1z" fill="#005c2f"/>
<path d="M405.2 252.1l2.2 2.5l-0.7-0.1l-2.1-2.5z" fill="#735600"/>
<path d="M410.3 258.0l2.1 2.9l-0.6-0.2l-2.1-3z" fill="#745600"/>
<path d="M415.4 265.2l2 3.4l-0.6-0.4l-2-3.4z" fill="#705200"/>
<path d="M376.3 261.3l2.2 2.5l-0.6-0.4l-2.1-2.9z" fill="#005d13"/>
<path d="M381.5 264.8l2.1 0.7l-0.7 2.8l-2.2-1.4z" fill="#5aff0e"/>
<path d="M386.3 260.5l2.2-3l-0.3 2.6l-2.1 3.3z" fill="#6e7b00"/>
<path d="M391.3 251.9l2.3-2l-0.3 1.4l-2.3 2.3z" fill="#695d00"/>
<path d="M396.5 248.0l2.4 0.2l-0.6 0.8l-2.4-0.1z" fill="#755d00"/>
<path d="M352.5 266.4l2.2-2.4l-0.5 0.9l-2.2 2.5z" fill="#005c31"/>
<path d="M401.6 249.3l2.3 1.8l-0.7 0.3l-2.2-1.9z" fill="#795b00"/>
<path d="M357.5 261.2l2.3-1.9l-0.5 0.4l-2.3 2z" fill="#005c2f"/>
<path d="M406.7 253.8l2.2 2.6l-0.7 0l-2.1-2.7z" fill="#785900"/>
<path d="M411.8 260.1l2.1 3.1l-0.6-0.2l-2.1-3.1z" fill="#755600"/>
<path d="M416.9 267.7l2 3.5l-0.6-0.4l-2-3.5z" fill="#6e5000"/>
<path d="M377.9 263.0l2.1 2.6l-0.6 0.1l-2.1-3.1z" fill="#007511"/>
<path d="M383.0 265.3l2-0.7l-0.6 3.7l-2-0.1z" fill="#73de02"/>
<path d="M387.8 258.1l2.2-3.1l-0.3 2.2l-2.1 3.5z" fill="#757400"/>
<path d="M392.8 250.2l2.4-1.3l-0.4 1.5l-2.3 1.5z" fill="#756200"/>
<path d="M348.9 271.0l2.2-2.6l-0.4 1.2l-2.2 2.6z" fill="#005c32"/>
<path d="M398.0 248.0l2.4 0.9l-0.7 0.7l-2.3-0.8z" fill="#806200"/>
<path d="M354.0 264.7l2.2-2.2l-0.4 0.8l-2.3 2.3z" fill="#005c31"/>
<path d="M403.2 250.5l2.2 2.2l-0.7 0.2l-2.2-2.2z" fill="#7e5e00"/>
<path d="M359.1 259.9l2.3-1.8l-0.6 0.3l-2.3 2z" fill="#005c30"/>
<path d="M408.3 255.6l2.1 2.9l-0.7-0.1l-2.1-2.8z" fill="#7a5a00"/>
<path d="M413.3 262.4l2.1 3.2l-0.6-0.2l-2.1-3.3z" fill="#785700"/>
<path d="M418.4 270.4l2 3l-0.6 0.1l-2-3.6z" fill="#825e00"/>
<path d="M379.4 264.8l2.2 2.2l-0.8 1.1l-2-3.2z" fill="#00a307"/>
<path d="M384.3 264.8l2.1-2.3l-0.3 3.7l-2.1 2.1z" fill="#739c00"/>
<path d="M389.3 255.5l2.2-2.7l-0.3 2.1l-2.1 3z" fill="#766b00"/>
<path d="M394.4 249.1l2.4-0.6l-0.5 1.5l-2.4 0.7z" fill="#846900"/>
<path d="M350.4 269.1l2.2-2.5l-0.4 1.1l-2.2 2.6z" fill="#005c33"/>
<path d="M399.6 248.5l2.3 1.4l-0.7 0.6l-2.3-1.3z" fill="#886600"/>
<path d="M355.5 263.2l2.3-2.2l-0.5 0.8l-2.3 2.2z" fill="#005c31"/>
<path d="M404.7 251.9l2.2 2.5l-0.7 0.2l-2.2-2.5z" fill="#846100"/>
<path d="M409.8 257.6l2.1 3l-0.7 0l-2-3z" fill="#7c5a00"/>
<path d="M414.9 264.8l2 3.3l-0.6-0.2l-2-3.4z" fill="#795800"/>
<path d="M419.7 272.7l2.4 0.7l-0.7 1.2l-2.3-1.7z" fill="#896300"/>
<path d="M381.0 266.3l2.2 1.4l-0.9 2.3l-2.1-2.5z" fill="#1cdf01"/>
<path d="M385.7 263.0l2.2-3.2l-0.2 3l-2.1 3.5z" fill="#7c8700"/>
<path d="M390.8 253.2l2.3-2.1l-0.3 2.1l-2.3 2.3z" fill="#7b6800"/>
<path d="M396.0 248.5l2.3 0.1l-0.6 1.4l-2.3 0z" fill="#9c7700"/>
<path d="M351.9 267.3l2.3-2.4l-0.5 1l-2.2 2.5z" fill="#005c33"/>
<path d="M401.1 249.3l2.3 1.9l-0.7 0.5l-2.3-1.8z" fill="#926c00"/>
<path d="M357.0 261.7l2.3-2l-0.5 0.6l-2.3 2.2z" fill="#005c32"/>
<path d="M406.2 253.6l2.2 2.7l-0.7 0.2l-2.1-2.7z" fill="#876300"/>
<path d="M411.3 259.8l2.1 3.1l-0.7 0l-2-3.2z" fill="#7e5b00"/>
<path d="M416.4 267.3l2 3.4l-0.6-0.2l-2-3.5z" fill="#7b5800"/>
<path d="M382.5 267.3l2 0.2l-0.7 3.5l-2.1-1.2z" fill="#7dff17"/>
<path d="M387.3 260.3l2.1-3.3l-0.2 2.7l-2.1 3.7z" fill="#7b7600"/>
<path d="M392.4 251.3l2.2-1.3l-0.3 2.1l-2.3 1.5z" fill="#8c7000"/>
<path d="M348.4 272.1l2.2-2.6l-0.4 1.3l-2.2 2.6z" fill="#005c34"/>
<path d="M397.6 248.4l2.3 0.8l-0.7 1.3l-2.3-0.7z" fill="#a67c00"/>
<path d="M353.5 265.5l2.2-2.3l-0.4 1l-2.3 2.4z" fill="#005c33"/>
<path d="M402.7 250.5l2.2 2.2l-0.7 0.5l-2.2-2.1z" fill="#956d00"/>
<path d="M358.5 260.3l2.3-1.9l-0.5 0.6l-2.3 2z" fill="#005c32"/>
<path d="M407.8 255.5l2.1 2.8l-0.7 0.2l-2.1-2.8z" fill="#896300"/>
<path d="M412.8 262.1l2.1 3.2l-0.7-0.1l-2-3.2z" fill="#805c00"/>
<path d="M417.9 269.9l2 3.5l-0.6-0.2l-2-3.6z" fill="#7b5800"/>
<path d="M378.9 264.8l2 3.3l-0.6-0.5l-1.9-3.7z" fill="#006717"/>
<path d="M383.9 267.5l2-2.1l-0.4 4.1l-2 1.5z" fill="#77ac00"/>
<path d="M388.8 257.5l2.2-2.9l-0.3 2.7l-2.2 3.1z" fill="#816f00"/>
<path d="M393.9 250.0l2.3-0.6l-0.5 2.1l-2.2 0.8z" fill="#a07900"/>
<path d="M349.9 270.2l2.2-2.6l-0.4 1.3l-2.2 2.6z" fill="#005d35"/>
<path d="M399.1 248.8l2.3 1.4l-0.8 1.1l-2.2-1.2z" fill="#b18200"/>
<path d="M355.0 263.9l2.2-2.2l-0.4 0.9l-2.3 2.3z" fill="#005c34"/>
<path d="M404.2 252.0l2.2 2.4l-0.8 0.5l-2.1-2.4z" fill="#956c00"/>
<path d="M360.0 259.0l2.3-1.7l-0.5 0.4l-2.3 1.9z" fill="#005c33"/>
<path d="M409.3 257.5l2.1 3l-0.7 0.2l-2.1-3z" fill="#8e6600"/>
<path d="M414.4 264.5l2 3.3l-0.7-0.1l-2-3.3z" fill="#845e00"/>
<path d="M419.3 272.6l2.3 1.8l-0.8 1l-2.1-3z" fill="#8d6400"/>
<path d="M380.4 267.2l2.1 2.7l-0.7 0.8l-1.9-3.9z" fill="#008c10"/>
<path d="M385.2 265.8l2.2-3.4l-0.2 3.4l-2.2 3.7z" fill="#808700"/>
<path d="M390.3 254.9l2.2-2.1l-0.3 2.7l-2.2 2.3z" fill="#8c7000"/>
<path d="M395.5 249.4l2.3 0l-0.7 2l-2.2 0.1z" fill="#ba8a00"/>
<path d="M351.4 268.3l2.2-2.5l-0.4 1.3l-2.2 2.5z" fill="#005c35"/>
<path d="M400.7 249.7l2.2 1.7l-0.8 1.1l-2.2-1.7z" fill="#b08000"/>
<path d="M356.5 262.4l2.2-2.1l-0.4 0.8l-2.3 2.2z" fill="#005c34"/>
<path d="M405.7 253.7l2.2 2.6l-0.8 0.5l-2.1-2.6z" fill="#976d00"/>
<path d="M361.5 257.9l2.4-1.6l-0.6 0.3l-2.3 1.7z" fill="#005c33"/>
<path d="M410.8 259.7l2.1 3.1l-0.7 0.1l-2.1-3.1z" fill="#896200"/>
<path d="M415.9 266.9l2 3.5l-0.7-0.1l-2-3.4z" fill="#815c00"/>
<path d="M382.0 269.1l2.2 1.3l-0.9 2.8l-2.1-3.2z" fill="#1ce001"/>
<path d="M386.7 262.9l2.2-3.5l-0.2 3.3l-2.2 3.6z" fill="#827400"/>
<path d="M391.9 252.9l2.2-1.4l-0.4 2.7l-2.2 1.6z" fill="#9d7500"/>
<path d="M347.9 273.3l2.2-2.6l-0.4 1.6l-2.2 2.2z" fill="#005e37"/>
<path d="M397.1 249.3l2.2 0.6l-0.7 1.8l-2.2-0.5z" fill="#cb9400"/>
<path d="M352.9 266.5l2.2-2.4l-0.4 1.2l-2.2 2.5z" fill="#006038"/>
<path d="M402.2 250.9l2.2 2.1l-0.8 0.9l-2.2-2.1z" fill="#b18000"/>
<path d="M358.0 260.9l2.3-2l-0.5 0.8l-2.3 2.1z" fill="#005c35"/>
<path d="M407.3 255.6l2.1 2.8l-0.8 0.4l-2-2.8z" fill="#996e00"/>
<path d="M412.3 261.9l2.1 3.3l-0.7 0.1l-2-3.2z" fill="#896100"/>
<path d="M417.4 269.5l2 3.6l-0.7-0.1l-1.9-3.6z" fill="#825c00"/>
<path d="M383.4 270.1l2-1.5l-0.5 4.3l-2 0.2z" fill="#78ca00"/>
<path d="M388.3 259.8l2.1-2.9l-0.2 3.4l-2.2 2.9z" fill="#8c7000"/>
<path d="M393.5 251.5l2.1-0.7l-0.5 2.7l-2.1 0.9z" fill="#b48400"/>
<path d="M349.4 271.4l2.2-2.6l-0.4 1.4l-2.2 2.7z" fill="#005e37"/>
<path d="M398.6 249.6l2.3 1.2l-0.8 1.6l-2.3-1z" fill="#d19701"/>
<path d="M354.4 264.8l2.3-2.3l-0.4 1.2l-2.3 2.3z" fill="#005f38"/>
<path d="M403.7 252.3l2.2 2.4l-0.8 0.8l-2.2-2.3z" fill="#b07e00"/>
<path d="M359.5 259.5l2.3-1.8l-0.5 0.7l-2.3 1.9z" fill="#005c35"/>
<path d="M408.8 257.6l2 2.9l-0.7 0.4l-2-2.9z" fill="#9a6e00"/>
<path d="M413.8 264.3l2.1 3.3l-0.7 0.1l-2-3.3z" fill="#8d6300"/>
<path d="M418.9 272.2l2 3.1l-0.7 0.4l-1.9-3.6z" fill="#8c6300"/>
<path d="M384.7 269.0l2.2-3.6l-0.2 3.7l-2.2 3.8z" fill="#8b8900"/>
<path d="M389.9 257.1l2.1-2.2l-0.3 3.4l-2.2 2.3z" fill="#956f00"/>
<path d="M395.1 250.8l2.1-0.2l-0.6 2.6l-2.2 0.3z" fill="#cd9401"/>
<path d="M350.9 269.4l2.2-2.5l-0.4 1.5l-2.2 2.5z" fill="#006039"/>
<path d="M400.2 250.4l2.2 1.6l-0.8 1.5l-2.3-1.5z" fill="#cd9300"/>
<path d="M355.9 263.2l2.3-2.2l-0.4 1.1l-2.3 2.2z" fill="#005c37"/>
<path d="M405.2 254.0l2.2 2.6l-0.8 0.8l-2.1-2.6z" fill="#ac7a00"/>
<path d="M361.0 258.3l2.3-1.8l-0.5 0.7l-2.3 1.8z" fill="#005c36"/>
<path d="M410.3 259.7l2 3.1l-0.6 0.4l-2.1-3.1z" fill="#996c00"/>
<path d="M415.4 266.8l2 3.4l-0.7 0.1l-2-3.4z" fill="#8a6100"/>
<path d="M420.2 274.6l2.4 0.6l-0.7 1.3l-2.3-1.4z" fill="#946800"/>
<path d="M381.4 269.8l2 3.3l-0.6-0.3l-1.9-4.4z" fill="#00621c"/>
<path d="M386.2 265.8l2.2-3.5l-0.2 3.9l-2.2 3.4z" fill="#907300"/>
<path d="M391.4 255.0l2.1-1.5l-0.4 3.4l-2.1 1.6z" fill="#ab7c00"/>
<path d="M347.3 274.3l2.3-2.2l-0.4 2l-2.3 1.3z" fill="#006d42"/>
<path d="M396.6 250.5l2.1 0.5l-0.7 2.4l-2.1-0.3z" fill="#e6a503"/>
<path d="M352.4 267.6l2.2-2.4l-0.4 1.4l-2.2 2.5z" fill="#00613a"/>
<path d="M401.7 251.5l2.2 2l-0.8 1.4l-2.2-1.9z" fill="#c88e00"/>
<path d="M357.4 261.6l2.3-2l-0.4 1.1l-2.3 2.1z" fill="#005c37"/>
<path d="M406.8 255.9l2.1 2.7l-0.8 0.7l-2.1-2.7z" fill="#ab7800"/>
<path d="M362.5 257.1l2.3-1.5l-0.4 0.5l-2.4 1.6z" fill="#005c37"/>
<path d="M411.8 262.0l2 3.2l-0.6 0.3l-2.1-3.1z" fill="#936800"/>
<path d="M416.9 269.4l2 3.5l-0.7 0l-2-3.5z" fill="#8d6300"/>
<path d="M382.9 272.3l2.1-0.2l-0.8 4.3l-1.9-4.4z" fill="#20ee03"/>
<path d="M387.8 262.5l2.1-2.8l-0.3 4l-2.1 2.8z" fill="#976e00"/>
<path d="M393.0 253.5l2-0.8l-0.5 3.2l-2 1z" fill="#bc8600"/>
<path d="M348.8 272.7l2.2-2.6l-0.3 1.6l-2.2 2.7z" fill="#00683f"/>
<path d="M398.1 250.8l2.2 1l-0.8 2.1l-2.1-0.8z" fill="#f4ae06"/>
<path d="M353.9 265.8l2.2-2.3l-0.3 1.4l-2.3 2.4z" fill="#00653d"/>
<path d="M403.2 253.0l2.2 2.2l-0.8 1.2l-2.2-2.2z" fill="#c18800"/>
<path d="M358.9 260.2l2.3-1.9l-0.4 1l-2.3 2z" fill="#005c38"/>
<path d="M408.3 257.9l2 2.9l-0.7 0.6l-2.1-2.8z" fill="#a57400"/>
<path d="M364.0 256.1l2.4-1.3l-0.5 0.4l-2.4 1.4z" fill="#005c38"/>
<path d="M413.3 264.4l2 3.2l-0.6 0.3l-2.1-3.2z" fill="#966900"/>
<path d="M418.4 272.0l2 3.6l-0.7 0.1l-2-3.6z" fill="#8c6200"/>
<path d="M384.2 272.3l2.1-3.7l-0.2 4.4l-2.1 3.4z" fill="#917400"/>
<path d="M389.4 259.8l2-2.2l-0.3 4l-2.1 2.3z" fill="#a27300"/>
<path d="M394.6 252.6l2-0.2l-0.6 3l-2 0.5z" fill="#d09201"/>
<path d="M350.3 270.7l2.3-2.5l-0.4 1.7l-2.2 2.5z" fill="#006941"/>
<path d="M399.7 251.5l2.1 1.5l-0.8 1.9l-2.2-1.3z" fill="#f0a905"/>
<path d="M355.4 264.1l2.3-2.1l-0.4 1.3l-2.3 2.2z" fill="#00653e"/>
<path d="M404.7 254.6l2.2 2.5l-0.8 1.1l-2.2-2.4z" fill="#be8400"/>
<path d="M360.4 258.8l2.4-1.7l-0.5 0.9l-2.3 1.9z" fill="#005c39"/>
<path d="M409.8 260.0l2 3l-0.7 0.6l-2-2.9z" fill="#a67400"/>
<path d="M365.5 255.2l2.4-0.9l-0.5 0.3l-2.4 1.1z" fill="#005c39"/>
<path d="M414.8 266.8l2.1 3.4l-0.7 0.2l-2-3.3z" fill="#926500"/>
<path d="M385.8 268.8l2-3.2l-0.2 4.5l-2.1 3.2z" fill="#936600"/>
<path d="M391.0 257.6l2-1.6l-0.5 3.9l-2 1.8z" fill="#b07a00"/>
<path d="M396.1 252.3l2.1 0.3l-0.7 2.8l-2.1-0.1z" fill="#efa705"/>
<path d="M351.8 268.8l2.3-2.4l-0.4 1.7l-2.2 2.4z" fill="#006841"/>
<path d="M401.2 252.6l2.2 1.8l-0.9 1.8l-2.2-1.7z" fill="#e29d02"/>
<path d="M356.9 262.5l2.3-2l-0.4 1.3l-2.3 2.1z" fill="#00653f"/>
<path d="M406.2 256.4l2.2 2.7l-0.8 1l-2.2-2.6z" fill="#b77f00"/>
<path d="M361.9 257.6l2.4-1.6l-0.4 0.9l-2.4 1.7z" fill="#005c39"/>
<path d="M411.3 262.2l2 3.2l-0.7 0.5l-2-3.1z" fill="#a37100"/>
<path d="M367.0 254.5l2.5-0.4l-0.6 0.2l-2.4 0.6z" fill="#005c3a"/>
<path d="M416.4 269.4l2 3.5l-0.7 0.2l-2-3.5z" fill="#956800"/>
<path d="M387.3 265.7l2.1-2.7l-0.3 4.4l-2.1 2.8z" fill="#9f6b00"/>
<path d="M392.5 256.1l2-1.1l-0.5 3.7l-2 1.2z" fill="#c18400"/>
<path d="M348.3 274.2l2.2-2.7l-0.3 1.9l-2.2 2.6z" fill="#006e45"/>
<path d="M397.6 252.4l2.1 0.8l-0.7 2.6l-2.1-0.5z" fill="#ffbf0f"/>
<path d="M353.3 267.0l2.3-2.3l-0.3 1.6l-2.3 2.4z" fill="#006640"/>
<path d="M402.7 253.9l2.2 2.2l-0.9 1.5l-2.2-2z" fill="#d99601"/>
<path d="M358.4 261.0l2.3-1.9l-0.4 1.3l-2.3 2z" fill="#006641"/>
<path d="M407.8 258.4l2.1 2.9l-0.8 0.9l-2.1-2.8z" fill="#b37c00"/>
<path d="M363.4 256.4l2.4-1.3l-0.4 0.9l-2.4 1.4z" fill="#005c3a"/>
<path d="M412.8 264.6l2 3.2l-0.7 0.5l-2-3.2z" fill="#9e6d00"/>
<path d="M368.5 254.1l2.5 0.1l-0.5 0.1l-2.5 0.1z" fill="#005c3b"/>
<path d="M417.9 272.0l2 3.6l-0.7 0.1l-2-3.5z" fill="#8d6100"/>
<path d="M388.9 263.0l2-2.3l-0.4 4.3l-2 2.5z" fill="#a96f00"/>
<path d="M394.1 255.0l1.9-0.4l-0.5 3.4l-2 0.7z" fill="#d48f01"/>
<path d="M349.8 272.1l2.2-2.5l-0.3 1.9l-2.2 2.5z" fill="#006e46"/>
<path d="M399.2 253.0l2.1 1.2l-0.8 2.4l-2.1-1z" fill="#ffc211"/>
<path d="M354.8 265.3l2.3-2.2l-0.3 1.6l-2.3 2.2z" fill="#006c45"/>
<path d="M404.2 255.5l2.2 2.4l-0.9 1.4l-2.1-2.3z" fill="#d08f00"/>
<path d="M359.9 259.6l2.3-1.7l-0.3 1.3l-2.4 1.8z" fill="#006641"/>
<path d="M409.3 260.5l2 3l-0.7 0.8l-2.1-2.9z" fill="#b27a00"/>
<path d="M364.9 255.5l2.5-1l-0.5 0.8l-2.4 1.1z" fill="#005e3d"/>
<path d="M414.3 267.0l2 3.3l-0.7 0.5l-2-3.3z" fill="#9e6c00"/>
<path d="M370.0 254.0l2.5 0.8l-0.5 0l-2.5-0.6z" fill="#005c3d"/>
<path d="M419.3 274.7l2.2 2.5l-0.8 0.9l-2-3.2z" fill="#9e6d00"/>
<path d="M385.2 273.0l2.1-3.7l-0.2 3.9l-2.2 2.1z" fill="#894700"/>
<path d="M390.5 260.8l1.9-1.8l-0.4 4.2l-2 1.9z" fill="#b27400"/>
<path d="M346.3 275.5l2.4-0.2l-0.7 1.9l-2.3-0.4z" fill="#00a569"/>
<path d="M395.6 254.5l2 0.1l-0.6 3.2l-2 0.2z" fill="#f0a205"/>
<path d="M351.3 270.2l2.2-2.4l-0.3 1.9l-2.2 2.4z" fill="#00734a"/>
<path d="M400.7 254.0l2.1 1.6l-0.8 2.2l-2.2-1.5z" fill="#ffb30a"/>
<path d="M356.3 263.6l2.3-2l-0.3 1.6l-2.3 2.1z" fill="#006f48"/>
<path d="M405.7 257.3l2.2 2.6l-0.9 1.3l-2.1-2.5z" fill="#ca8900"/>
<path d="M361.4 258.3l2.3-1.6l-0.3 1.3l-2.4 1.6z" fill="#006a45"/>
<path d="M410.8 262.7l2 3.1l-0.7 0.7l-2.1-3z" fill="#ae7700"/>
<path d="M366.5 254.7l2.4-0.6l-0.5 0.8l-2.4 0.7z" fill="#006543"/>
<path d="M415.8 269.5l2 3.5l-0.6 0.3l-2.1-3.4z" fill="#9b6a00"/>
<path d="M371.6 254.4l2.4 1.4l-0.6-0.1l-2.4-1.3z" fill="#005c3f"/>
<path d="M386.7 269.6l2.1-3.1l-0.2 4.1l-2.1 2.8z" fill="#985700"/>
<path d="M392.0 259.0l2-1.2l-0.5 4l-2 1.4z" fill="#bf7c00"/>
<path d="M347.8 275.8l2.2-2.6l-0.3 2.1l-2.3 2z" fill="#00734a"/>
<path d="M397.1 254.5l2.1 0.5l-0.7 3.1l-2.1-0.4z" fill="#ffbc10"/>
<path d="M352.8 268.3l2.3-2.2l-0.3 1.8l-2.3 2.3z" fill="#006f48"/>
<path d="M402.2 255.2l2.2 2l-0.9 1.9l-2.2-1.8z" fill="#f0a304"/>
<path d="M357.8 262.1l2.4-1.9l-0.4 1.6l-2.3 1.9z" fill="#00714a"/>
<path d="M407.2 259.2l2.2 2.7l-0.9 1.2l-2.1-2.6z" fill="#c48500"/>
<path d="M362.9 257.1l2.4-1.3l-0.4 1.3l-2.4 1.4z" fill="#006f4a"/>
<path d="M412.3 265.0l2 3.2l-0.7 0.7l-2-3.2z" fill="#ab7400"/>
<path d="M368.0 254.2l2.5 0l-0.6 0.7l-2.4 0.2z" fill="#006947"/>
<path d="M417.4 272.1l1.9 3.6l-0.6 0.3l-2-3.5z" fill="#986800"/>
<path d="M373.2 255.2l2.2 2.1l-0.5-0.3l-2.3-1.9z" fill="#006447"/>
<path d="M378.3 262.0l2 3.9l-0.5-1.1l-2-3.8z" fill="#005d48"/>
<path d="M388.3 266.7l2.1-2.5l-0.4 4.1l-2 2.5z" fill="#9f5d00"/>
<path d="M393.5 257.8l2-0.7l-0.6 3.8l-1.9 0.9z" fill="#cf8600"/>
<path d="M349.3 273.7l2.2-2.5l-0.3 2.1l-2.2 2.5z" fill="#00764d"/>
<path d="M398.6 254.9l2.1 1l-0.7 2.8l-2.1-0.8z" fill="#ffce19"/>
<path d="M354.3 266.6l2.3-2.2l-0.3 1.9l-2.3 2.2z" fill="#00784f"/>
<path d="M403.7 256.7l2.2 2.2l-0.9 1.8l-2.2-2.1z" fill="#e39902"/>
<path d="M359.4 260.6l2.3-1.7l-0.4 1.6l-2.3 1.8z" fill="#00734d"/>
<path d="M408.8 261.2l2 2.9l-0.7 1.1l-2.1-2.8z" fill="#c08100"/>
<path d="M364.4 256.0l2.4-0.9l-0.4 1.3l-2.4 1z" fill="#00724e"/>
<path d="M413.8 267.4l2 3.2l-0.7 0.7l-2-3.3z" fill="#a97300"/>
<path d="M369.6 254.0l2.4 0.6l-0.6 0.6l-2.5-0.4z" fill="#007250"/>
<path d="M418.9 274.8l2 3.2l-0.7 0.6l-2-3.5z" fill="#a06d00"/>
<path d="M374.8 256.6l2.1 2.7l-0.6-0.4l-2.1-2.6z" fill="#00644b"/>
<path d="M379.9 265.0l1.9 4.4l-0.5-1.3l-1.9-4.2z" fill="#005f4d"/>
<path d="M389.9 264.2l2-1.9l-0.4 4.1l-2 2.1z" fill="#ab6600"/>
<path d="M345.9 276.2l2.3 0.5l-0.7 1.4l-2.3-0.6z" fill="#00a169"/>
<path d="M395.1 257.1l1.9-0.2l-0.6 3.6l-1.9 0.3z" fill="#e39303"/>
<path d="M350.8 271.7l2.2-2.3l-0.3 2l-2.2 2.4z" fill="#00774f"/>
<path d="M400.2 255.7l2.1 1.4l-0.8 2.5l-2.2-1.2z" fill="#ffc916"/>
<path d="M355.8 264.9l2.3-2l-0.3 1.9l-2.3 2z" fill="#007850"/>
<path d="M405.2 258.4l2.2 2.4l-0.9 1.6l-2.1-2.3z" fill="#da9201"/>
<path d="M360.9 259.2l2.3-1.5l-0.3 1.7l-2.4 1.5z" fill="#007952"/>
<path d="M410.3 263.4l2 2.9l-0.7 1l-2.1-2.9z" fill="#b77b00"/>
<path d="M366.0 255.2l2.3-0.6l-0.4 1.4l-2.4 0.6z" fill="#007d57"/>
<path d="M415.3 269.8l2 3.4l-0.7 0.5l-2-3.3z" fill="#a36e00"/>
<path d="M371.1 254.3l2.4 1.2l-0.7 0.5l-2.3-1.1z" fill="#007656"/>
<path d="M376.3 258.5l2 3.3l-0.5-0.6l-2.1-3.1z" fill="#006850"/>
<path d="M386.3 273.2l2.1-3.3l-0.3 2.8l-2.3 1.7z" fill="#722c00"/>
<path d="M391.5 262.3l1.9-1.4l-0.4 4l-2 1.6z" fill="#bb7100"/>
<path d="M347.2 276.9l2.3-2l-0.4 2.6l-2.3 0.6z" fill="#00895a"/>
<path d="M396.6 256.9l2 0.3l-0.7 3.3l-2-0.1z" fill="#ffac0c"/>
<path d="M352.3 269.8l2.2-2.2l-0.2 2.1l-2.3 2.2z" fill="#007e54"/>
<path d="M401.7 256.8l2.1 1.7l-0.8 2.3l-2.2-1.5z" fill="#ffba0f"/>
<path d="M357.3 263.3l2.3-1.8l-0.3 1.9l-2.3 1.8z" fill="#007a53"/>
<path d="M406.7 260.2l2.2 2.6l-0.9 1.4l-2.1-2.4z" fill="#d48d00"/>
<path d="M362.4 258.0l2.3-1.3l-0.3 1.8l-2.4 1.3z" fill="#00835b"/>
<path d="M411.8 265.6l2 3.1l-0.7 0.9l-2.1-3.1z" fill="#b67a00"/>
<path d="M367.5 254.6l2.4-0.1l-0.6 1.3l-2.3 0.2z" fill="#008861"/>
<path d="M416.8 272.4l2 3.5l-0.7 0.4l-2-3.4z" fill="#a16d00"/>
<path d="M372.7 255.0l2.2 1.9l-0.6 0.3l-2.3-1.8z" fill="#007f60"/>
<path d="M377.8 260.9l2 3.9l-0.5-0.8l-2-3.7z" fill="#006d57"/>
<path d="M387.7 270.3l2.2-2.8l-0.3 3.4l-2.2 2.1z" fill="#8f4400"/>
<path d="M393.0 260.9l2-0.9l-0.6 3.8l-1.9 1.1z" fill="#c97a00"/>
<path d="M348.7 275.4l2.3-2.5l-0.3 2.3l-2.2 2.5z" fill="#007a52"/>
<path d="M398.1 257.1l2.1 0.8l-0.8 3l-2-0.5z" fill="#ffc819"/>
<path d="M353.8 268.0l2.2-2l-0.2 2.1l-2.3 2.1z" fill="#007e55"/>
<path d="M403.2 258.2l2.1 2l-0.8 2.1l-2.2-1.9z" fill="#faa606"/>
<path d="M358.8 261.8l2.3-1.6l-0.3 1.9l-2.3 1.7z" fill="#008059"/>
<path d="M408.2 262.2l2.2 2.7l-0.9 1.3l-2.1-2.6z" fill="#cd8800"/>
<path d="M363.9 256.9l2.4-0.9l-0.5 1.8l-2.3 0.9z" fill="#008b62"/>
<path d="M413.3 267.9l2 3.2l-0.7 0.8l-2.1-3.1z" fill="#b17600"/>
<path d="M369.1 254.4l2.3 0.4l-0.6 1.3l-2.4-0.4z" fill="#009971"/>
<path d="M418.3 275.0l2 3.5l-0.7 0.5l-2-3.5z" fill="#a06c00"/>
<path d="M374.3 256.2l2.1 2.6l-0.7 0l-2.1-2.3z" fill="#008062"/>
<path d="M379.4 263.9l1.9 4.2l-0.5-1l-2-4z" fill="#006756"/>
<path d="M389.3 267.7l2.1-2.2l-0.4 3.7l-2.1 1.9z" fill="#a25400"/>
<path d="M394.5 260.0l2-0.4l-0.6 3.7l-1.9 0.5z" fill="#de8802"/>
<path d="M350.2 273.4l2.3-2.3l-0.3 2.3l-2.2 2.3z" fill="#008057"/>
<path d="M399.6 257.7l2.1 1.2l-0.8 2.8l-2-0.9z" fill="#ffd11e"/>
<path d="M355.3 266.3l2.3-1.9l-0.3 2.2l-2.3 1.9z" fill="#00845b"/>
<path d="M404.7 259.7l2.2 2.3l-0.9 1.8l-2.2-2z" fill="#e89802"/>
<path d="M360.4 260.4l2.3-1.4l-0.4 2l-2.3 1.5z" fill="#008860"/>
<path d="M409.8 264.2l2 2.9l-0.8 1.2l-2.1-2.8z" fill="#c68300"/>
<path d="M365.5 256.0l2.3-0.5l-0.5 1.8l-2.3 0.6z" fill="#00956c"/>
<path d="M414.8 270.3l2 3.3l-0.7 0.7l-2-3.2z" fill="#ab7200"/>
<path d="M370.7 254.6l2.3 1l-0.7 1.1l-2.4-1z" fill="#00a37b"/>
<path d="M375.8 258.0l2 3.2l-0.6-0.2l-2-3z" fill="#007a60"/>
<path d="M380.9 267.2l1.9 4.2l-0.5-1.2l-2-4z" fill="#00645a"/>
<path d="M385.8 274.3l2.2-2.1l-0.4 1.1l-2.5 0.7z" fill="#5c0400"/>
<path d="M390.9 265.6l2-1.6l-0.4 3.8l-2 1.5z" fill="#b16000"/>
<path d="M346.8 277.4l2.3-0.5l-0.6 2.3l-2.3-0.5z" fill="#00a771"/>
<path d="M396.1 259.5l2 0.2l-0.7 3.4l-2 0.1z" fill="#f79a07"/>
<path d="M351.7 271.5l2.3-2.2l-0.3 2.4l-2.2 2.1z" fill="#008158"/>
<path d="M401.2 258.7l2.1 1.5l-0.9 2.6l-2.1-1.3z" fill="#ffc618"/>
<path d="M356.8 264.7l2.3-1.7l-0.3 2.2l-2.3 1.7z" fill="#00845c"/>
<path d="M406.2 261.4l2.2 2.5l-0.9 1.7l-2.2-2.3z" fill="#e09201"/>
<path d="M361.9 259.2l2.3-1.2l-0.4 2.1l-2.3 1.2z" fill="#009068"/>
<path d="M411.3 266.4l2 3l-0.7 1l-2.1-2.9z" fill="#be7d00"/>
<path d="M367.1 255.4l2.2-0.1l-0.5 1.8l-2.3 0.2z" fill="#00a279"/>
<path d="M416.3 272.8l2 3.4l-0.7 0.6l-2-3.3z" fill="#a87000"/>
<path d="M372.2 255.2l2.3 1.7l-0.8 0.8l-2.2-1.5z" fill="#00a27d"/>
<path d="M377.3 260.3l2 3.7l-0.6-0.4l-2-3.4z" fill="#007a63"/>
<path d="M387.2 272.8l2.2-2.5l-0.3 2.2l-2.3 1.2z" fill="#6e2100"/>
<path d="M392.5 264.0l1.9-1.1l-0.5 3.8l-2 1.1z" fill="#c06c00"/>
<path d="M348.2 277.3l2.2-2.5l-0.2 2.6l-2.3 1.8z" fill="#00835a"/>
<path d="M397.6 259.6l2 0.5l-0.7 3.3l-2-0.4z" fill="#ffb212"/>
<path d="M353.3 269.7l2.2-2.1l-0.3 2.4l-2.2 2z" fill="#00845c"/>
<path d="M402.7 259.9l2.1 1.8l-0.9 2.3l-2.1-1.6z" fill="#ffb00d"/>
<path d="M358.3 263.2l2.3-1.6l-0.3 2.3l-2.3 1.6z" fill="#008961"/>
<path d="M407.7 263.3l2.2 2.6l-0.9 1.5l-2.1-2.4z" fill="#d78c01"/>
<path d="M363.5 258.1l2.2-0.9l-0.4 2.2l-2.3 0.8z" fill="#009a71"/>
<path d="M412.8 268.6l2 3.1l-0.7 1l-2.1-3z" fill="#b87900"/>
<path d="M368.6 255.2l2.3 0.3l-0.7 1.7l-2.2-0.2z" fill="#00b78a"/>
<path d="M417.8 275.4l2 3.5l-0.7 0.6l-2-3.5z" fill="#a66e00"/>
<path d="M373.8 256.3l2.1 2.4l-0.7 0.5l-2.2-2.1z" fill="#009e7c"/>
<path d="M378.9 263.1l1.9 4l-0.6-0.6l-1.9-3.8z" fill="#007363"/>
<path d="M388.7 270.6l2.2-2.2l-0.3 3l-2.2 1.4z" fill="#8d3a00"/>
<path d="M394.0 262.9l2-0.5l-0.6 3.6l-2 0.7z" fill="#d57a01"/>
<path d="M349.7 275.2l2.2-2.3l-0.2 2.6l-2.2 2.2z" fill="#00855c"/>
<path d="M399.1 260.0l2.1 0.9l-0.8 3l-2-0.7z" fill="#ffca1e"/>
<path d="M354.8 267.9l2.2-1.8l-0.3 2.4l-2.2 1.9z" fill="#008c63"/>
<path d="M404.2 261.3l2.1 2l-0.8 2.2l-2.2-1.9z" fill="#ffa508"/>
<path d="M359.9 261.8l2.2-1.3l-0.4 2.3l-2.2 1.4z" fill="#00926a"/>
<path d="M409.2 265.3l2.1 2.7l-0.8 1.4l-2.1-2.6z" fill="#d08700"/>
<path d="M365.0 257.2l2.2-0.6l-0.5 2.2l-2.2 0.6z" fill="#00aa7f"/>
<path d="M414.3 270.9l2 3.3l-0.7 0.8l-2.1-3.1z" fill="#b57700"/>
<path d="M370.2 255.3l2.2 0.9l-0.7 1.5l-2.3-0.7z" fill="#00c194"/>
<path d="M375.3 258.0l2.1 2.9l-0.7 0.3l-2.1-2.7z" fill="#00977a"/>
<path d="M380.4 266.2l1.9 4l-0.6-0.8l-1.9-3.8z" fill="#006d63"/>
<path d="M390.3 268.6l2.1-1.7l-0.4 3.3l-2.1 1.3z" fill="#a64d00"/>
<path d="M346.3 278.2l2.4 0.4l-0.7 1.4l-2.3-0.5z" fill="#00a16f"/>
<path d="M395.5 262.3l2-0.1l-0.6 3.5l-2 0.3z" fill="#ed8b05"/>
<path d="M351.2 273.3l2.3-2.1l-0.3 2.5l-2.2 2.1z" fill="#008a61"/>
<path d="M400.6 260.8l2.1 1.2l-0.8 2.8l-2.1-1.1z" fill="#ffca1d"/>
<path d="M356.3 266.3l2.2-1.6l-0.3 2.5l-2.2 1.6z" fill="#009369"/>
<path d="M405.7 262.9l2.1 2.2l-0.8 2l-2.2-2.1z" fill="#ee9803"/>
<path d="M361.4 260.6l2.2-1.1l-0.4 2.4l-2.2 1.1z" fill="#009a72"/>
<path d="M410.7 267.3l2.1 2.9l-0.8 1.3l-2.1-2.8z" fill="#c98200"/>
<path d="M366.6 256.6l2.2-0.2l-0.6 2.2l-2.2 0.2z" fill="#00b68b"/>
<path d="M415.8 273.4l2 3.3l-0.7 0.8l-2.1-3.3z" fill="#af7200"/>
<path d="M371.7 255.8l2.3 1.5l-0.8 1.4l-2.3-1.4z" fill="#00c69b"/>
<path d="M376.8 260.1l2 3.4l-0.6 0.1l-2.1-3.2z" fill="#008972"/>
<path d="M381.8 269.4l2 3.3l-0.5-0.9l-2-3.3z" fill="#005f5e"/>
<path d="M386.7 273.6l2.3-1.5l-0.4 1.1l-2.5 0.5z" fill="#5c0400"/>
<path d="M391.9 267.0l2-1.2l-0.5 3.4l-2 1.1z" fill="#b95d00"/>
<path d="M347.7 278.7l2.3-1.8l-0.5 2.9l-2.2 0.2z" fill="#009669"/>
<path d="M397.1 262.2l2 0.3l-0.7 3.3l-2-0.1z" fill="#ff9f0c"/>
<path d="M352.8 271.4l2.2-1.9l-0.3 2.6l-2.2 2z" fill="#008d64"/>
<path d="M402.1 261.8l2.2 1.6l-0.9 2.5l-2.1-1.4z" fill="#ffbb15"/>
<path d="M357.9 264.8l2.2-1.5l-0.4 2.6l-2.2 1.5z" fill="#00976f"/>
<path d="M407.2 264.6l2.1 2.5l-0.8 1.7l-2.2-2.3z" fill="#e39102"/>
<path d="M363.0 259.5l2.2-0.8l-0.5 2.4l-2.2 0.9z" fill="#00a77d"/>
<path d="M412.3 269.5l2 3l-0.8 1.1l-2.1-2.9z" fill="#bf7b00"/>
<path d="M368.1 256.3l2.2 0.2l-0.6 2.2l-2.2-0.2z" fill="#01ce9f"/>
<path d="M417.3 275.9l2 3.4l-0.7 0.7l-2-3.3z" fill="#ae7200"/>
<path d="M373.3 256.8l2.1 2.2l-0.7 1l-2.3-1.9z" fill="#00bc96"/>
<path d="M378.3 262.7l2 3.7l-0.6-0.2l-2-3.5z" fill="#008473"/>
<path d="M388.1 272.5l2.4-1.8l-0.4 2l-2.4 0.8z" fill="#761e00"/>
<path d="M393.5 265.8l2-0.7l-0.6 3.5l-2 0.6z" fill="#ce6b00"/>
<path d="M349.2 277.2l2.2-2.3l-0.2 2.8l-2.3 2.1z" fill="#008961"/>
<path d="M398.6 262.4l2 0.7l-0.7 3.2l-2-0.6z" fill="#ffb517"/>
<path d="M354.3 269.7l2.2-1.8l-0.3 2.7l-2.2 1.8z" fill="#009169"/>
<path d="M403.7 263.1l2.1 1.8l-0.9 2.3l-2.1-1.6z" fill="#ffaf0f"/>
<path d="M359.4 263.5l2.2-1.3l-0.4 2.6l-2.2 1.3z" fill="#009b74"/>
<path d="M408.7 266.5l2.1 2.6l-0.8 1.5l-2.2-2.4z" fill="#da8a01"/>
<path d="M364.5 258.7l2.2-0.6l-0.5 2.5l-2.2 0.6z" fill="#00b68a"/>
<path d="M413.8 271.7l2 3.1l-0.7 1.1l-2.1-3z" fill="#bc7a00"/>
<path d="M369.7 256.4l2.2 0.7l-0.8 2l-2.2-0.6z" fill="#02ddad"/>
<path d="M374.8 258.3l2.1 2.7l-0.8 0.8l-2.1-2.5z" fill="#00b090"/>
<path d="M379.8 265.6l2 3.8l-0.6-0.5l-2-3.6z" fill="#00786e"/>
<path d="M389.7 270.9l2.2-1.5l-0.4 2.7l-2.2 0.8z" fill="#983700"/>
<path d="M395.0 265.1l2-0.2l-0.6 3.3l-2 0.3z" fill="#e07902"/>
<path d="M350.7 275.2l2.2-2l-0.2 2.7l-2.3 2.1z" fill="#008c64"/>
<path d="M400.1 263.0l2.1 1.1l-0.8 2.9l-2.1-0.9z" fill="#ffc21d"/>
<path d="M355.8 268.1l2.2-1.6l-0.3 2.7l-2.2 1.6z" fill="#009870"/>
<path d="M405.2 264.5l2.1 2.1l-0.9 2.1l-2.1-1.9z" fill="#f89c06"/>
<path d="M360.9 262.3l2.2-1.1l-0.4 2.7l-2.2 1z" fill="#00a47c"/>
<path d="M410.2 268.4l2.1 2.8l-0.8 1.4l-2.1-2.6z" fill="#cf8300"/>
<path d="M366.1 258.1l2.1-0.2l-0.6 2.5l-2.1 0.2z" fill="#00c597"/>
<path d="M415.3 274.1l2 3.2l-0.7 0.9l-2.1-3.1z" fill="#b97700"/>
<path d="M371.2 256.8l2.2 1.3l-0.8 1.8l-2.2-1.1z" fill="#02e0b3"/>
<path d="M376.3 260.3l2.1 3.2l-0.8 0.5l-2-3z" fill="#00a48b"/>
<path d="M381.3 268.5l2 3.3l-0.5-0.5l-2.1-3.3z" fill="#006c6a"/>
<path d="M386.1 273.6l2.5-0.6l-0.5 0.6l-2.5 0z" fill="#00175c"/>
<path d="M391.3 269.5l2.1-1.1l-0.5 3l-2.1 0.7z" fill="#b24b00"/>
<path d="M347.3 279.3l2.3-0.2l-0.7 2l-2.2-0.5z" fill="#00ad7b"/>
<path d="M396.5 264.8l2 0.2l-0.6 3.2l-2 0z" fill="#f88b07"/>
<path d="M352.3 273.4l2.2-1.9l-0.4 2.8l-2.2 1.9z" fill="#00926a"/>
<path d="M401.6 263.9l2.1 1.3l-0.8 2.7l-2.1-1.2z" fill="#ffc21c"/>
<path d="M357.4 266.6l2.1-1.4l-0.4 2.8l-2.1 1.4z" fill="#009f77"/>
<path d="M406.7 266.1l2.1 2.3l-0.8 1.9l-2.2-2.1z" fill="#ec9303"/>
<path d="M362.5 261.2l2.1-0.8l-0.5 2.7l-2.1 0.8z" fill="#00b489"/>
<path d="M411.7 270.5l2.1 2.9l-0.8 1.3l-2.1-2.8z" fill="#cc8100"/>
<path d="M367.6 257.8l2.2 0.1l-0.7 2.5l-2.1-0.1z" fill="#01d8a9"/>
<path d="M416.8 276.5l2 3.4l-0.7 0.8l-2.1-3.3z" fill="#b17200"/>
<path d="M372.8 257.8l2.1 1.8l-0.8 1.5l-2.2-1.6z" fill="#01d9b0"/>
<path d="M377.8 262.7l2 3.4l-0.6 0.2l-2.1-3.2z" fill="#009683"/>
<path d="M382.7 271.0l2.2 2.4l-0.6-0.4l-2.1-2.5z" fill="#00565f"/>
<path d="M387.6 273.2l2.4-0.9l-0.5 1.3l-2.4 0.1z" fill="#6a0400"/>
<path d="M392.9 268.4l2.1-0.7l-0.6 3.1l-2.1 0.6z" fill="#c45a00"/>
<path d="M348.7 279.4l2.2-2.3l-0.4 3.1l-2.2 0.9z" fill="#008e67"/>
<path d="M398.1 264.9l2 0.5l-0.7 3.1l-2.1-0.4z" fill="#ffa814"/>
<path d="M353.8 271.7l2.2-1.7l-0.4 2.8l-2.1 1.7z" fill="#009b73"/>
<path d="M403.1 265.0l2.2 1.6l-0.9 2.5l-2.1-1.5z" fill="#ffb112"/>
<path d="M358.9 265.3l2.2-1.2l-0.5 2.8l-2.1 1.2z" fill="#00aa80"/>
<path d="M408.2 267.8l2.1 2.5l-0.8 1.7l-2.2-2.3z" fill="#e48e02"/>
<path d="M364.0 260.4l2.2-0.5l-0.6 2.7l-2.1 0.5z" fill="#00bf93"/>
<path d="M413.2 272.7l2.1 3l-0.8 1.1l-2.1-2.9z" fill="#c37b00"/>
<path d="M369.2 257.8l2.1 0.6l-0.7 2.4l-2.2-0.6z" fill="#05edbc"/>
<path d="M374.3 259.1l2.1 2.4l-0.8 1.3l-2.2-2.2z" fill="#00cba9"/>
<path d="M379.3 265.3l2 3.5l-0.6 0l-2-3.3z" fill="#008a7f"/>
<path d="M384.1 272.8l2.4 1l-0.6 0.1l-2.3-1.5z" fill="#00445c"/>
<path d="M389.1 272.4l2.4-1l-0.5 2l-2.3 0.3z" fill="#8b1e00"/>
<path d="M394.4 267.7l2.1-0.3l-0.6 3.1l-2.1 0.3z" fill="#d76901"/>
<path d="M350.2 277.3l2.2-2l-0.3 3l-2.2 2z" fill="#00966e"/>
<path d="M399.6 265.3l2 0.9l-0.7 2.9l-2.1-0.7z" fill="#ffb71b"/>
<path d="M355.3 270.1l2.2-1.6l-0.4 3l-2.1 1.5z" fill="#009b74"/>
<path d="M404.6 266.3l2.2 1.8l-0.9 2.3l-2.1-1.7z" fill="#ffa00a"/>
<path d="M360.5 264.1l2.1-1l-0.5 2.9l-2.1 1z" fill="#00b086"/>
<path d="M409.7 269.7l2.1 2.6l-0.8 1.6l-2.2-2.5z" fill="#dc8801"/>
<path d="M365.6 259.8l2.1-0.2l-0.6 2.7l-2.1 0.3z" fill="#00cc9f"/>
<path d="M414.8 274.9l2 3.1l-0.8 1.1l-2-3z" fill="#bd7800"/>
<path d="M370.7 258.2l2.2 1.1l-0.8 2.2l-2.2-1z" fill="#08f9ca"/>
<path d="M375.8 260.9l2.1 2.9l-0.8 0.9l-2.1-2.7z" fill="#00ba9f"/>
<path d="M380.8 268.0l2 3.2l-0.6-0.1l-2-3.2z" fill="#007a78"/>
<path d="M385.6 273.5l2.5 0l-0.6 0.7l-2.5-0.6z" fill="#002d5c"/>
<path d="M390.7 271.4l2.3-0.8l-0.6 2.5l-2.2 0.3z" fill="#a63500"/>
<path d="M396.0 267.3l2 0.1l-0.6 3.1l-2.1 0z" fill="#f17d06"/>
<path d="M351.8 275.5l2.1-1.8l-0.3 3l-2.2 1.8z" fill="#009972"/>
<path d="M401.1 266.0l2.1 1.2l-0.8 2.7l-2.1-1z" fill="#ffb619"/>
<path d="M356.9 268.6l2.1-1.3l-0.4 2.9l-2.1 1.4z" fill="#00a37b"/>
<path d="M406.2 267.7l2.1 2.1l-0.9 2.1l-2.1-1.9z" fill="#f49405"/>
<path d="M362.0 263.1l2.1-0.8l-0.5 3l-2.1 0.7z" fill="#00b88e"/>
<path d="M411.2 271.6l2.1 2.8l-0.8 1.4l-2.1-2.6z" fill="#d48400"/>
<path d="M367.1 259.5l2.1 0.1l-0.6 2.7l-2.1-0.1z" fill="#03e3b3"/>
<path d="M416.3 277.3l2 3.3l-0.8 0.9l-2-3.2z" fill="#bb7600"/>
<path d="M372.2 259.0l2.2 1.6l-0.8 2l-2.2-1.5z" fill="#05f0c6"/>
<path d="M377.3 263.0l2.1 3.2l-0.8 0.6l-2.1-2.9z" fill="#00ad99"/>
<path d="M382.3 270.4l2.1 2.6l-0.6-0.1l-2.1-2.6z" fill="#006a71"/>
<path d="M387.1 273.4l2.5-0.2l-0.6 1.1l-2.4-0.3z" fill="#001671"/>
<path d="M392.3 270.6l2.2-0.6l-0.6 2.8l-2.1 0.2z" fill="#bf4900"/>
<path d="M397.5 267.3l2.1 0.4l-0.7 3.1l-2.1-0.4z" fill="#ff900d"/>
<path d="M353.3 273.8l2.1-1.7l-0.3 3.1l-2.2 1.6z" fill="#009b75"/>
<path d="M402.6 267.0l2.1 1.4l-0.8 2.6l-2.1-1.3z" fill="#ffb317"/>
<path d="M358.4 267.3l2.1-1.2l-0.4 3.1l-2.1 1.1z" fill="#00a981"/>
<path d="M407.7 269.3l2.1 2.3l-0.9 1.9l-2.1-2.1z" fill="#eb8f03"/>
<path d="M363.5 262.3l2.1-0.5l-0.5 2.9l-2.1 0.6z" fill="#00c498"/>
<path d="M412.7 273.7l2.1 2.9l-0.8 1.3l-2.1-2.8z" fill="#cd7f00"/>
<path d="M368.7 259.5l2.1 0.5l-0.7 2.6l-2.2-0.4z" fill="#08faca"/>
<path d="M373.8 260.2l2.1 2.1l-0.8 1.7l-2.2-1.9z" fill="#02e3bf"/>
<path d="M378.8 265.4l2 3.3l-0.7 0.4l-2-3.1z" fill="#00a093"/>
<path d="M383.7 272.3l2.3 1.5l-0.7 0.3l-2.2-1.9z" fill="#00576b"/>
<path d="M388.6 273.2l2.4-0.4l-0.5 1.6l-2.4-0.2z" fill="#890600"/>
<path d="M393.9 270.0l2.1-0.3l-0.6 2.9l-2.1 0.1z" fill="#d25a01"/>
<path d="M349.7 279.6l2.2-2l-0.4 3.2l-2.1 1.4z" fill="#009a73"/>
<path d="M399.0 267.6l2.1 0.7l-0.7 2.9l-2.1-0.6z" fill="#ffa114"/>
<path d="M354.8 272.2l2.2-1.5l-0.4 3.1l-2.2 1.5z" fill="#00a57d"/>
<path d="M404.1 268.1l2.2 1.7l-0.9 2.3l-2.1-1.5z" fill="#ffa60f"/>
<path d="M360.0 266.2l2-1l-0.4 3l-2.1 1z" fill="#00b48a"/>
<path d="M409.2 271.1l2.1 2.4l-0.8 1.7l-2.2-2.3z" fill="#e18901"/>
<path d="M365.1 261.8l2.1-0.3l-0.7 2.9l-2 0.3z" fill="#01d4a7"/>
<path d="M414.2 275.9l2.1 3l-0.8 1.2l-2.1-2.9z" fill="#c47a00"/>
<path d="M370.2 259.8l2.1 1l-0.7 2.5l-2.2-0.9z" fill="#10ffe2"/>
<path d="M375.3 261.8l2.1 2.6l-0.8 1.3l-2.2-2.3z" fill="#00cfb3"/>
<path d="M380.3 267.9l2.1 3.1l-0.7 0.2l-2.1-3z" fill="#009490"/>
<path d="M385.1 273.4l2.5 0.6l-0.7 0.7l-2.4-1.1z" fill="#00446b"/>
<path d="M390.2 272.8l2.3-0.4l-0.6 2l-2.2-0.1z" fill="#a11f00"/>
<path d="M395.4 269.6l2.1 0.1l-0.6 2.9l-2.1-0.1z" fill="#e76b04"/>
<path d="M351.3 277.7l2.1-1.8l-0.4 3.2l-2.1 1.8z" fill="#009c75"/>
<path d="M400.6 268.2l2.1 1l-0.8 2.7l-2.1-0.9z" fill="#ffaa18"/>
<path d="M356.4 270.8l2.1-1.3l-0.5 3.1l-2.1 1.3z" fill="#00a880"/>
<path d="M405.6 269.4l2.2 1.9l-0.9 2.2l-2.1-1.7z" fill="#ff9908"/>
<path d="M361.5 265.2l2.1-0.8l-0.6 3.1l-2 0.8z" fill="#00be94"/>
<path d="M410.7 272.9l2.1 2.6l-0.8 1.6l-2.2-2.5z" fill="#d98401"/>
<path d="M366.6 261.4l2.1 0.1l-0.7 2.9l-2 0z" fill="#03e6b8"/>
<path d="M415.7 278.1l2.1 3.2l-0.8 1.1l-2-3.1z" fill="#be7600"/>
<path d="M371.7 260.5l2.2 1.4l-0.8 2.3l-2.2-1.2z" fill="#0bffdb"/>
<path d="M376.8 263.7l2.1 2.9l-0.8 1l-2.1-2.6z" fill="#00c1ac"/>
<path d="M381.8 270.2l2.1 2.6l-0.7 0.2l-2.1-2.6z" fill="#008288"/>
<path d="M386.6 273.7l2.5 0.2l-0.7 1.1l-2.4-0.6z" fill="#00307a"/>
<path d="M391.8 272.3l2.2-0.3l-0.6 2.3l-2.2 0z" fill="#ba3600"/>
<path d="M347.8 281.2l2.3 0.4l-0.7 1.4l-2.3-0.5z" fill="#00a37a"/>
<path d="M397.0 269.6l2.1 0.4l-0.7 2.8l-2.1-0.3z" fill="#f97b08"/>
<path d="M352.8 276.1l2.1-1.7l-0.4 3.2l-2.1 1.7z" fill="#00a17a"/>
<path d="M402.1 269.0l2.1 1.3l-0.8 2.5l-2.1-1.1z" fill="#ffab16"/>
<path d="M357.9 269.5l2.1-1.1l-0.5 3.1l-2 1.2z" fill="#00b088"/>
<path d="M407.1 270.9l2.2 2.1l-0.9 2l-2.1-2z" fill="#f69306"/>
<path d="M363.0 264.4l2.1-0.5l-0.6 3.1l-2 0.5z" fill="#00cba0"/>
<path d="M412.2 274.9l2.1 2.7l-0.8 1.4l-2.1-2.6z" fill="#d07e00"/>
<path d="M368.2 261.4l2 0.4l-0.7 2.9l-2.1-0.4z" fill="#0affd0"/>
<path d="M373.2 261.6l2.2 1.9l-0.8 2l-2.2-1.7z" fill="#05f4d0"/>
<path d="M378.3 265.9l2.1 3l-0.8 0.7l-2.1-2.7z" fill="#00b3a6"/>
<path d="M383.2 272.1l2.3 1.8l-0.7 0.5l-2.2-2.1z" fill="#007386"/>
<path d="M388.2 273.7l2.4 0.2l-0.7 1.3l-2.3-0.4z" fill="#00168e"/>
<path d="M393.3 271.9l2.2-0.1l-0.6 2.5l-2.2-0.1z" fill="#ce4901"/>
<path d="M349.1 281.6l2.3-1.5l-0.5 3.1l-2.2-0.3z" fill="#00aa80"/>
<path d="M398.5 269.8l2.1 0.7l-0.7 2.7l-2.1-0.5z" fill="#ff9110"/>
<path d="M354.3 274.5l2.1-1.5l-0.4 3.3l-2.1 1.4z" fill="#00a67f"/>
<path d="M403.6 270.0l2.1 1.5l-0.8 2.4l-2.2-1.4z" fill="#ff9f0f"/>
<path d="M359.5 268.4l2-1l-0.5 3.2l-2 1z" fill="#00b990"/>
<path d="M408.7 272.5l2.1 2.3l-0.9 1.8l-2.1-2.1z" fill="#e38602"/>
<path d="M364.6 263.9l2-0.3l-0.6 3.1l-2 0.3z" fill="#01d8ac"/>
<path d="M413.7 276.9l2.1 2.9l-0.8 1.3l-2.1-2.8z" fill="#c97a00"/>
<path d="M369.7 261.7l2.1 0.8l-0.8 2.7l-2.1-0.7z" fill="#10ffe5"/>
<path d="M374.8 263.0l2.1 2.3l-0.8 1.7l-2.2-2z" fill="#02e5c8"/>
<path d="M379.8 268.1l2.1 2.9l-0.8 0.6l-2.1-2.7z" fill="#00a49f"/>
<path d="M384.7 273.4l2.3 1l-0.7 0.8l-2.3-1.4z" fill="#005b7e"/>
<path d="M389.7 273.7l2.3 0.1l-0.6 1.6l-2.3-0.4z" fill="#a20700"/>
<path d="M394.9 271.7l2.1 0.1l-0.6 2.6l-2.2-0.2z" fill="#de5902"/>
<path d="M350.7 280.2l2.2-1.8l-0.4 3.3l-2.1 1.5z" fill="#00a17a"/>
<path d="M400.0 270.3l2.1 0.9l-0.7 2.7l-2.1-0.8z" fill="#ff9d15"/>
<path d="M355.9 273.1l2-1.3l-0.4 3.2l-2.1 1.3z" fill="#00ae86"/>
<path d="M405.1 271.2l2.2 1.7l-0.9 2.3l-2.2-1.6z" fill="#ff9509"/>
<path d="M361.0 267.4l2-0.7l-0.5 3.2l-2 0.7z" fill="#00c298"/>
<path d="M410.2 274.2l2.1 2.5l-0.9 1.7l-2.1-2.4z" fill="#db8201"/>
<path d="M366.1 263.6l2.1 0l-0.7 3.1l-2-0.1z" fill="#04e9bc"/>
<path d="M415.2 279.1l2.1 3.1l-0.8 1.2l-2.1-3z" fill="#c57800"/>
<path d="M371.2 262.3l2.1 1.2l-0.8 2.6l-2.1-1.1z" fill="#14fff4"/>
<path d="M376.3 264.8l2.1 2.5l-0.8 1.4l-2.2-2.3z" fill="#00d4be"/>
<path d="M381.3 270.3l2.1 2.5l-0.7 0.6l-2.2-2.5z" fill="#00979b"/>
<path d="M386.2 274.0l2.3 0.6l-0.6 1.1l-2.4-0.9z" fill="#004c8b"/>
<path d="M391.3 273.6l2.2 0.1l-0.6 1.9l-2.3-0.3z" fill="#b82000"/>
<path d="M396.4 271.7l2.1 0.3l-0.7 2.7l-2.1-0.4z" fill="#ef6a06"/>
<path d="M352.3 278.5l2.1-1.7l-0.4 3.4l-2.1 1.6z" fill="#00a47d"/>
<path d="M401.5 271.0l2.2 1.1l-0.8 2.6l-2.2-1.1z" fill="#ff9e14"/>
<path d="M357.4 271.8l2.1-1.1l-0.5 3.3l-2.1 1.1z" fill="#00b58d"/>
<path d="M406.6 272.5l2.2 2l-0.9 2l-2.2-1.8z" fill="#f88f06"/>
<path d="M362.5 266.7l2.1-0.5l-0.6 3.2l-2 0.5z" fill="#01cea3"/>
<path d="M411.7 276.1l2.1 2.6l-0.8 1.5l-2.2-2.5z" fill="#d57e00"/>
<path d="M367.6 263.5l2.1 0.4l-0.7 3l-2.1-0.4z" fill="#0bffd5"/>
<path d="M372.7 263.3l2.2 1.6l-0.9 2.3l-2.1-1.4z" fill="#0effeb"/>
<path d="M377.8 266.7l2.1 2.7l-0.8 1.1l-2.2-2.4z" fill="#00c5b7"/>
<path d="M382.7 272.1l2.3 2.1l-0.8 0.6l-2.2-2.1z" fill="#008898"/>
<path d="M387.7 274.3l2.3 0.4l-0.6 1.4l-2.4-0.6z" fill="#00339b"/>
<path d="M392.8 273.5l2.2 0.1l-0.6 2.2l-2.2-0.3z" fill="#c83500"/>
<path d="M398.0 271.9l2.1 0.6l-0.8 2.6l-2.1-0.6z" fill="#ff7c0b"/>
<path d="M353.8 276.9l2.1-1.4l-0.4 3.3l-2.1 1.5z" fill="#00ac84"/>
<path d="M403.1 271.9l2.1 1.4l-0.8 2.4l-2.2-1.3z" fill="#ff9a10"/>
<path d="M358.9 270.7l2.1-0.9l-0.5 3.3l-2.1 0.9z" fill="#00be95"/>
<path d="M408.1 274.0l2.2 2.2l-0.9 1.9l-2.1-2z" fill="#ea8703"/>
<path d="M364.1 266.1l2-0.2l-0.6 3.2l-2 0.2z" fill="#02dbb0"/>
<path d="M413.2 278.1l2.1 2.8l-0.8 1.4l-2.2-2.7z" fill="#cf7b00"/>
<path d="M369.2 263.7l2 0.8l-0.7 2.8l-2.1-0.6z" fill="#13ffed"/>
<path d="M374.2 264.5l2.2 2l-0.9 2l-2.1-1.7z" fill="#06f9db"/>
<path d="M379.3 268.7l2.1 2.7l-0.8 0.9l-2.1-2.5z" fill="#00bcb6"/>
<path d="M384.2 273.5l2.3 1.4l-0.7 0.9l-2.3-1.6z" fill="#007899"/>
<path d="M389.2 274.5l2.3 0.4l-0.6 1.5l-2.3-0.6z" fill="#0014a7"/>
<path d="M394.4 273.5l2.1 0.2l-0.7 2.4l-2.1-0.4z" fill="#d74701"/>
<path d="M350.1 282.6l2.3-1.7l-0.6 3.3l-2.1-0.1z" fill="#00ae85"/>
<path d="M399.5 272.3l2.1 0.8l-0.8 2.6l-2.1-0.8z" fill="#ff880f"/>
<path d="M355.4 275.5l2-1.3l-0.4 3.4l-2.1 1.3z" fill="#00b089"/>
<path d="M404.6 273.0l2.1 1.6l-0.8 2.2l-2.2-1.5z" fill="#ff950c"/>
<path d="M360.5 269.8l2-0.7l-0.5 3.3l-2.1 0.7z" fill="#00c79d"/>
<path d="M409.6 275.7l2.2 2.3l-0.9 1.7l-2.1-2.2z" fill="#e08101"/>
<path d="M365.6 265.8l2 0l-0.6 3.2l-2.1 0z" fill="#04eabf"/>
<path d="M414.7 280.2l2.1 3l-0.8 1.3l-2.1-2.9z" fill="#ce7b00"/>
<path d="M370.7 264.3l2.1 1l-0.8 2.8l-2.1-1z" fill="#18fffe"/>
<path d="M375.7 266.1l2.2 2.2l-0.9 1.8l-2.1-2.1z" fill="#02e7d0"/>
<path d="M380.8 270.7l2.1 2.4l-0.8 0.9l-2.1-2.4z" fill="#00aeb2"/>
<path d="M385.7 274.4l2.3 0.9l-0.7 1.2l-2.3-1.1z" fill="#00649c"/>
<path d="M390.8 274.7l2.2 0.3l-0.7 1.8l-2.2-0.6z" fill="#ba0800"/>
<path d="M395.9 273.6l2.1 0.4l-0.7 2.4l-2.1-0.5z" fill="#e75804"/>
<path d="M351.8 281.0l2.1-1.6l-0.5 3.4l-2 1.4z" fill="#00a781"/>
<path d="M401.0 272.9l2.1 1.1l-0.7 2.5l-2.2-1z" fill="#ff8f11"/>
<path d="M356.9 274.2l2-1.1l-0.4 3.4l-2.1 1.1z" fill="#00bb92"/>
<path d="M406.1 274.2l2.1 1.8l-0.8 2.1l-2.2-1.7z" fill="#fe8e08"/>
<path d="M362.0 269.0l2-0.5l-0.5 3.3l-2.1 0.6z" fill="#01d2a8"/>
<path d="M411.2 277.4l2.1 2.5l-0.9 1.6l-2.1-2.4z" fill="#db7e01"/>
<path d="M367.1 265.7l2.1 0.3l-0.7 3.1l-2.1-0.2z" fill="#0affd5"/>
<path d="M372.2 265.1l2.1 1.4l-0.8 2.5l-2.1-1.2z" fill="#14fff9"/>
<path d="M377.3 267.8l2.1 2.4l-0.8 1.5l-2.2-2.2z" fill="#01d8c9"/>
<path d="M382.3 272.5l2.1 2l-0.7 0.9l-2.2-2.1z" fill="#009caa"/>
<path d="M387.2 275.0l2.3 0.6l-0.7 1.4l-2.3-0.8z" fill="#004da5"/>
<path d="M392.3 274.8l2.2 0.4l-0.7 2l-2.2-0.6z" fill="#c62000"/>
<path d="M397.4 273.8l2.2 0.6l-0.8 2.5l-2.1-0.7z" fill="#f56707"/>
<path d="M353.3 279.4l2.1-1.4l-0.5 3.5l-2 1.4z" fill="#00af88"/>
<path d="M402.5 273.8l2.2 1.2l-0.8 2.4l-2.2-1.2z" fill="#ff8f0e"/>
<path d="M358.4 273.2l2.1-1l-0.6 3.5l-2 0.9z" fill="#00c299"/>
<path d="M407.6 275.6l2.2 2l-0.9 1.9l-2.2-1.8z" fill="#f28704"/>
<path d="M363.5 268.5l2.1-0.3l-0.6 3.3l-2.1 0.3z" fill="#02ddb3"/>
<path d="M412.7 279.3l2.1 2.7l-0.9 1.5l-2.1-2.6z" fill="#d57b00"/>
<path d="M368.6 265.9l2.1 0.6l-0.7 3l-2.1-0.5z" fill="#13ffed"/>
<path d="M373.7 266.2l2.2 1.8l-0.9 2.2l-2.1-1.5z" fill="#0dffef"/>
<path d="M378.8 269.6l2.1 2.4l-0.8 1.3l-2.2-2.2z" fill="#00cac4"/>
<path d="M383.7 273.9l2.3 1.6l-0.8 1l-2.2-1.7z" fill="#008daa"/>
<path d="M388.7 275.3l2.3 0.6l-0.7 1.5l-2.3-0.7z" fill="#0031b0"/>
<path d="M393.8 275.0l2.2 0.4l-0.7 2.1l-2.2-0.5z" fill="#d43401"/>
<path d="M399.0 274.2l2.1 0.8l-0.8 2.4l-2.1-0.7z" fill="#ff740a"/>
<path d="M354.9 278.0l2-1.2l-0.5 3.5l-2 1.2z" fill="#00b38c"/>
<path d="M404.0 274.7l2.2 1.5l-0.8 2.3l-2.2-1.4z" fill="#ff8a0a"/>
<path d="M360.0 272.2l2-0.7l-0.6 3.4l-2 0.7z" fill="#00cca3"/>
<path d="M409.1 277.1l2.2 2.2l-0.9 1.8l-2.2-2.1z" fill="#e68102"/>
<path d="M365.1 268.2l2-0.1l-0.7 3.3l-2 0.1z" fill="#05edc3"/>
<path d="M414.2 281.3l2.1 2.9l-0.8 1.4l-2.2-2.8z" fill="#d07900"/>
<path d="M370.2 266.4l2 0.9l-0.7 2.9l-2.1-0.8z" fill="#1bffff"/>
<path d="M375.2 267.6l2.2 2l-0.9 2l-2.1-1.8z" fill="#06f6df"/>
<path d="M380.3 271.4l2.1 2.3l-0.8 1.1l-2.2-2.1z" fill="#00c1c4"/>
<path d="M385.2 275.0l2.3 1.1l-0.8 1.2l-2.2-1.2z" fill="#007cad"/>
<path d="M390.3 275.6l2.2 0.6l-0.7 1.7l-2.3-0.8z" fill="#0013b9"/>
<path d="M395.4 275.2l2.1 0.5l-0.7 2.3l-2.2-0.7z" fill="#e24603"/>
<path d="M351.2 283.6l2.2-1.6l-0.6 3.4l-2.1-0.2z" fill="#00b48c"/>
<path d="M400.5 274.8l2.1 1l-0.8 2.4l-2.1-1z" fill="#ff7c0b"/>
<path d="M356.4 276.8l2-1.1l-0.5 3.5l-2 1.1z" fill="#00bc94"/>
<path d="M405.6 275.9l2.1 1.7l-0.8 2.1l-2.2-1.6z" fill="#fb8607"/>
<path d="M361.5 271.5l2-0.5l-0.6 3.4l-2 0.5z" fill="#01d4aa"/>
<path d="M410.6 278.8l2.2 2.3l-0.9 1.7l-2.1-2.2z" fill="#da7a01"/>
<path d="M366.6 268.1l2 0.2l-0.7 3.2l-2-0.2z" fill="#0affd5"/>
<path d="M371.7 267.1l2.1 1.2l-0.8 2.7l-2.1-1z" fill="#19ffff"/>
<path d="M376.7 269.1l2.2 2.1l-0.9 1.8l-2.1-1.9z" fill="#02e8d8"/>
<path d="M381.7 273.1l2.2 2l-0.8 1.1l-2.2-1.9z" fill="#00b0bd"/>
<path d="M386.7 275.7l2.3 0.8l-0.7 1.5l-2.3-1z" fill="#0065b0"/>
<path d="M391.8 276.0l2.2 0.5l-0.7 1.9l-2.2-0.8z" fill="#c40800"/>
<path d="M396.9 275.5l2.2 0.7l-0.8 2.3l-2.1-0.8z" fill="#eb5504"/>
<path d="M352.8 282.1l2.1-1.5l-0.5 3.6l-2 1.2z" fill="#00b38c"/>
<path d="M402.0 275.5l2.2 1.2l-0.9 2.3l-2.1-1.1z" fill="#ff830c"/>
<path d="M357.9 275.7l2-0.9l-0.5 3.5l-2 0.9z" fill="#00c69d"/>
<path d="M407.1 277.2l2.1 1.8l-0.8 2l-2.2-1.8z" fill="#f08104"/>
<path d="M363.0 270.9l2-0.2l-0.6 3.3l-2 0.4z" fill="#02e0b6"/>
<path d="M412.1 280.6l2.2 2.5l-0.9 1.6l-2.1-2.5z" fill="#d97a01"/>
<path d="M368.1 268.2l2.1 0.5l-0.8 3.1l-2-0.4z" fill="#11ffec"/>
<path d="M373.2 268.1l2.1 1.5l-0.8 2.5l-2.1-1.4z" fill="#13ffff"/>
<path d="M378.2 270.7l2.2 2.2l-0.8 1.6l-2.2-2z" fill="#01ddd5"/>
<path d="M383.2 274.5l2.3 1.7l-0.8 1.2l-2.3-1.7z" fill="#009cb6"/>
<path d="M388.2 276.2l2.3 0.7l-0.7 1.6l-2.3-0.8z" fill="#004cbb"/>
<path d="M393.3 276.3l2.2 0.6l-0.7 2l-2.2-0.8z" fill="#cf1f01"/>
<path d="M398.4 276.0l2.2 0.8l-0.8 2.3l-2.1-0.9z" fill="#f96408"/>
<path d="M354.4 280.7l2-1.3l-0.5 3.6l-2 1.3z" fill="#00bc93"/>
<path d="M403.5 276.5l2.2 1.4l-0.9 2.2l-2.1-1.4z" fill="#ff820a"/>
<path d="M359.5 274.8l2-0.7l-0.6 3.5l-2 0.7z" fill="#00cda4"/>
<path d="M408.6 278.6l2.2 2.1l-0.9 1.8l-2.2-2z" fill="#ea7f03"/>
<path d="M364.5 270.6l2.1 0l-0.7 3.3l-2 0.1z" fill="#05eec5"/>
<path d="M413.7 282.5l2.1 2.8l-0.9 1.4l-2.1-2.7z" fill="#cf7600"/>
<path d="M369.6 268.6l2.1 0.8l-0.7 3l-2.1-0.7z" fill="#19ffff"/>
<path d="M374.7 269.3l2.2 1.7l-0.9 2.2l-2.1-1.5z" fill="#0dfff7"/>
<path d="M379.7 272.4l2.2 2.1l-0.8 1.4l-2.2-2z" fill="#00d0d1"/>
<path d="M384.7 275.6l2.3 1.3l-0.8 1.4l-2.3-1.4z" fill="#008eb9"/>
<path d="M389.8 276.6l2.2 0.7l-0.7 1.7l-2.3-0.8z" fill="#002ec0"/>
<path d="M394.8 276.7l2.2 0.6l-0.7 2.1l-2.2-0.8z" fill="#d83201"/>
<path d="M350.7 284.5l2.4 0.3l-0.7 1.6l-2.3-0.6z" fill="#00a681"/>
<path d="M399.9 276.5l2.2 1l-0.8 2.3l-2.1-1z" fill="#fa6b08"/>
<path d="M355.9 279.4l2-1.1l-0.5 3.6l-2 1.1z" fill="#00c199"/>
<path d="M405.0 277.5l2.2 1.6l-0.8 2.1l-2.2-1.5z" fill="#f87e06"/>
<path d="M361.0 274.0l2-0.5l-0.6 3.5l-2 0.5z" fill="#01d5ac"/>
<path d="M410.1 280.2l2.2 2.2l-0.9 1.8l-2.2-2.2z" fill="#e07a01"/>
<path d="M366.1 270.5l2 0.2l-0.7 3.2l-2-0.1z" fill="#09fdd4"/>
<path d="M371.2 269.2l2 1.1l-0.7 2.8l-2.1-0.9z" fill="#20ffff"/>
<path d="M376.2 270.6l2.2 1.9l-0.9 2l-2.2-1.6z" fill="#07f9e9"/>
<path d="M381.2 273.9l2.2 1.9l-0.8 1.4l-2.2-1.8z" fill="#00c0cb"/>
<path d="M386.2 276.5l2.3 1l-0.8 1.5l-2.2-1.1z" fill="#007cbe"/>
<path d="M391.3 277.0l2.2 0.8l-0.7 1.7l-2.3-0.8z" fill="#0011c6"/>
<path d="M396.4 277.1l2.2 0.7l-0.8 2.1l-2.2-0.8z" fill="#e64403"/>
<path d="M352.2 284.7l2.2-1.3l-0.6 3.2l-2.1-0.3z" fill="#00b991"/>
<path d="M401.5 277.2l2.1 1.2l-0.8 2.2l-2.1-1.1z" fill="#fc7108"/>
<path d="M357.4 278.3l2-0.9l-0.5 3.6l-2 0.9z" fill="#00c79f"/>
<path d="M406.5 278.7l2.2 1.8l-0.8 2l-2.2-1.7z" fill="#f17c04"/>
<path d="M362.5 273.5l2-0.3l-0.6 3.4l-2 0.4z" fill="#02deb6"/>
<path d="M411.6 281.9l2.2 2.5l-0.9 1.6l-2.1-2.4z" fill="#dc7801"/>
<path d="M367.6 270.6l2 0.4l-0.7 3.2l-2-0.4z" fill="#0effe6"/>
<path d="M372.7 270.1l2.1 1.3l-0.8 2.6l-2.1-1.1z" fill="#18ffff"/>
<path d="M377.7 272.1l2.2 1.9l-0.9 1.8l-2.1-1.7z" fill="#03ebe2"/>
<path d="M382.7 275.3l2.2 1.7l-0.8 1.3l-2.2-1.6z" fill="#00b1c9"/>
<path d="M387.7 277.1l2.3 0.8l-0.8 1.7l-2.2-0.9z" fill="#0063c1"/>
<path d="M392.8 277.5l2.2 0.7l-0.7 1.9l-2.3-0.8z" fill="#cf0901"/>
<path d="M397.9 277.6l2.2 0.8l-0.8 2.2l-2.2-0.9z" fill="#eb5004"/>
<path d="M353.8 283.4l2.1-1.3l-0.6 3.7l-2 0.8z" fill="#00bd96"/>
<path d="M403.0 278.1l2.2 1.4l-0.9 2.1l-2.1-1.3z" fill="#fc7608"/>
<path d="M358.9 277.4l2-0.7l-0.5 3.6l-2 0.7z" fill="#00cea6"/>
<path d="M408.1 280.1l2.1 2l-0.8 1.9l-2.2-2z" fill="#ec7a03"/>
<path d="M364.0 273.1l2-0.1l-0.6 3.4l-2 0.2z" fill="#03e7c0"/>
<path d="M413.1 283.8l2.1 2.7l-0.8 1.3l-2.1-2.4z" fill="#d27400"/>
<path d="M369.1 270.9l2.1 0.7l-0.8 3l-2-0.5z" fill="#16fffe"/>
<path d="M374.2 271.1l2.1 1.5l-0.8 2.4l-2.2-1.3z" fill="#14ffff"/>
<path d="M379.2 273.5l2.2 2l-0.8 1.6l-2.2-1.7z" fill="#02e3e3"/>
<path d="M384.2 276.5l2.3 1.3l-0.8 1.5l-2.3-1.4z" fill="#009ec4"/>
<path d="M389.2 277.6l2.3 0.8l-0.8 1.7l-2.2-0.8z" fill="#0048c7"/>
<path d="M394.3 278.0l2.2 0.7l-0.7 2l-2.2-0.9z" fill="#d81f01"/>
<path d="M399.4 278.1l2.2 1l-0.8 2.2l-2.2-1z" fill="#f25b06"/>
<path d="M355.4 282.1l2-1l-0.5 3.6l-2 1.1z" fill="#00bf98"/>
<path d="M404.5 279.1l2.2 1.5l-0.9 2.1l-2.1-1.5z" fill="#f67606"/>
<path d="M360.5 276.7l1.9-0.6l-0.5 3.6l-2 0.5z" fill="#01d4ad"/>
<path d="M409.6 281.6l2.1 2.2l-0.8 1.8l-2.2-2.2z" fill="#de7401"/>
<path d="M365.5 273.0l2.1 0.1l-0.7 3.3l-2 0z" fill="#08fad3"/>
<path d="M370.6 271.4l2.1 0.9l-0.8 3l-2-0.8z" fill="#1dffff"/>
<path d="M375.7 272.3l2.1 1.7l-0.8 2.2l-2.2-1.5z" fill="#0cfff9"/>
<path d="M380.7 275.0l2.2 1.8l-0.8 1.6l-2.2-1.7z" fill="#01cfd9"/>
<path d="M385.7 277.4l2.3 1.1l-0.8 1.6l-2.3-1.2z" fill="#008dc6"/>
<path d="M390.8 278.1l2.2 0.9l-0.8 1.7l-2.2-0.9z" fill="#002bce"/>
<path d="M395.8 278.5l2.2 0.8l-0.7 2l-2.2-0.9z" fill="#e03102"/>
<path d="M400.9 278.9l2.2 1.1l-0.8 2.2l-2.2-1.2z" fill="#f86507"/>
<path d="M356.9 281.1l2-1l-0.5 3.7l-2 0.9z" fill="#00c7a0"/>
<path d="M406.0 280.3l2.2 1.7l-0.9 2l-2.1-1.7z" fill="#f27605"/>
<path d="M362.0 276.1l2-0.3l-0.6 3.5l-2 0.3z" fill="#02e2ba"/>
<path d="M411.1 283.2l2.1 2.4l-0.8 1.8l-2.2-2.4z" fill="#de7501"/>
<path d="M367.1 273.0l2 0.4l-0.7 3.2l-2-0.3z" fill="#0dffe5"/>
<path d="M372.1 272.2l2.1 1.1l-0.8 2.7l-2-0.9z" fill="#1dffff"/>
<path d="M377.2 273.6l2.2 1.7l-0.9 2.1l-2.2-1.6z" fill="#06f5ec"/>
<path d="M382.2 276.3l2.2 1.6l-0.8 1.5l-2.2-1.5z" fill="#00bdd1"/>
<path d="M387.2 278.1l2.3 0.9l-0.8 1.7l-2.2-1z" fill="#0078c9"/>
<path d="M392.3 278.7l2.2 0.8l-0.7 1.8l-2.3-0.9z" fill="#010fd0"/>
<path d="M397.4 279.0l2.2 0.9l-0.8 2.1l-2.2-0.9z" fill="#e74003"/>
<path d="M353.2 285.9l2.2-0.9l-0.6 2.8l-2.2-0.5z" fill="#00b690"/>
<path d="M402.5 279.7l2.1 1.3l-0.8 2.1l-2.2-1.3z" fill="#f86b07"/>
<path d="M358.4 280.1l2-0.7l-0.6 3.6l-1.9 0.8z" fill="#00cea7"/>
<path d="M407.5 281.6l2.2 1.9l-0.9 1.9l-2.1-1.9z" fill="#ed7604"/>
<path d="M363.5 275.7l2-0.1l-0.6 3.4l-2 0.2z" fill="#04ebc5"/>
<path d="M412.6 285.1l2.1 2.4l-0.8 1.2l-2.2-1.9z" fill="#cf6e00"/>
<path d="M368.6 273.3l2 0.5l-0.7 3.2l-2-0.5z" fill="#11fff2"/>
<path d="M373.7 273.1l2.1 1.3l-0.8 2.6l-2.2-1.2z" fill="#18ffff"/>
<path d="M378.7 274.9l2.2 1.7l-0.9 1.9l-2.2-1.5z" fill="#04f0ef"/>
<path d="M383.7 277.4l2.2 1.4l-0.8 1.6l-2.2-1.4z" fill="#01afd1"/>
<path d="M388.7 278.7l2.3 0.9l-0.8 1.7l-2.2-0.9z" fill="#005ecc"/>
<path d="M393.8 279.2l2.2 0.9l-0.7 1.9l-2.3-1z" fill="#d70a01"/>
<path d="M398.9 279.7l2.2 1l-0.8 2.1l-2.2-1.1z" fill="#e94b04"/>
<path d="M354.8 285.0l2.1-1.1l-0.6 3.7l-2 0.2z" fill="#00caa2"/>
<path d="M404.0 280.7l2.2 1.5l-0.9 2l-2.2-1.4z" fill="#f36c05"/>
<path d="M359.9 279.4l2-0.6l-0.6 3.6l-1.9 0.6z" fill="#01d6af"/>
<path d="M409.1 283.0l2.1 2.1l-0.8 1.8l-2.2-2z" fill="#e57302"/>
<path d="M365.0 275.5l2 0.1l-0.6 3.4l-2 0z" fill="#07f6d1"/>
<path d="M370.1 273.7l2.1 0.8l-0.8 3l-2-0.7z" fill="#1bffff"/>
<path d="M375.2 274.1l2.1 1.4l-0.8 2.4l-2.2-1.2z" fill="#11ffff"/>
<path d="M380.2 276.2l2.2 1.7l-0.8 1.7l-2.2-1.5z" fill="#02dce4"/>
<path d="M385.2 278.4l2.2 1.1l-0.8 1.7l-2.2-1.2z" fill="#019fd2"/>
<path d="M390.2 279.3l2.3 0.8l-0.8 1.8l-2.2-0.9z" fill="#0142d0"/>
<path d="M395.3 279.8l2.2 0.9l-0.7 2l-2.3-1z" fill="#de1e02"/>
<path d="M400.4 280.4l2.2 1.2l-0.8 2l-2.2-1.1z" fill="#f05705"/>
<path d="M356.4 283.9l2-1l-0.6 3.8l-2 0.9z" fill="#00c9a3"/>
<path d="M405.5 281.8l2.2 1.7l-0.9 1.9l-2.2-1.6z" fill="#f06e04"/>
<path d="M361.5 278.8l1.9-0.4l-0.6 3.6l-1.9 0.4z" fill="#02dcb6"/>
<path d="M410.6 284.6l2.1 2.4l-0.8 1.7l-2.2-2.3z" fill="#e07201"/>
<path d="M366.5 275.5l2.1 0.3l-0.7 3.3l-2-0.2z" fill="#0bffdf"/>
<path d="M371.6 274.3l2.1 1l-0.8 2.9l-2-0.9z" fill="#1bffff"/>
<path d="M376.7 275.2l2.1 1.6l-0.8 2.2l-2.2-1.4z" fill="#0dffff"/>
<path d="M381.7 277.4l2.2 1.6l-0.8 1.7l-2.2-1.5z" fill="#02cde0"/>
<path d="M386.7 279.2l2.2 1l-0.7 1.7l-2.3-1z" fill="#0189d1"/>
<path d="M391.8 279.8l2.2 1l-0.8 1.8l-2.2-1z" fill="#0128d6"/>
<path d="M396.8 280.4l2.2 1l-0.7 2l-2.2-1z" fill="#dd2d02"/>
<path d="M401.9 281.2l2.2 1.3l-0.8 2.1l-2.2-1.3z" fill="#f25e05"/>
<path d="M357.9 282.9l2-0.7l-0.6 3.7l-1.9 0.8z" fill="#00cca6"/>
<path d="M407.0 283.0l2.2 1.9l-0.9 1.9l-2.1-1.8z" fill="#e96d03"/>
<path d="M363.0 278.4l2-0.2l-0.6 3.5l-2 0.2z" fill="#04e9c3"/>
<path d="M412.0 286.4l2.2 1.8l-0.7 1.2l-2.3-1z" fill="#d36d01"/>
<path d="M368.1 275.7l2 0.5l-0.7 3.2l-2-0.4z" fill="#12fff4"/>
<path d="M373.1 275.1l2.1 1.1l-0.8 2.7l-2.1-0.9z" fill="#18ffff"/>
<path d="M378.2 276.4l2.1 1.6l-0.8 2l-2.2-1.4z" fill="#08fcfa"/>
<path d="M383.2 278.5l2.2 1.4l-0.8 1.7l-2.2-1.3z" fill="#01bddc"/>
<path d="M388.2 279.9l2.2 0.9l-0.7 1.8l-2.2-1z" fill="#0172d2"/>
<path d="M393.3 280.5l2.2 0.9l-0.8 1.9l-2.2-1z" fill="#010ed7"/>
<path d="M398.4 281.1l2.2 1.1l-0.8 2l-2.2-1.1z" fill="#e63c03"/>
<path d="M354.2 287.0l2.3-0.1l-0.6 2l-2.3-0.5z" fill="#00ac8b"/>
<path d="M403.4 282.2l2.2 1.5l-0.8 2l-2.2-1.5z" fill="#ee6104"/>
<path d="M359.4 282.1l2-0.6l-0.6 3.7l-1.9 0.7z" fill="#01d5b0"/>
<path d="M408.5 284.4l2.2 2.1l-0.9 1.9l-2.1-2.1z" fill="#e56e02"/>
<path d="M364.5 278.1l2 0l-0.6 3.5l-2 0z" fill="#06f2ce"/>
<path d="M369.6 276.0l2 0.7l-0.7 3.1l-2-0.6z" fill="#14fffc"/>
<path d="M374.6 276.0l2.2 1.3l-0.8 2.5l-2.2-1.1z" fill="#16ffff"/>
<path d="M379.7 277.6l2.2 1.5l-0.9 2l-2.2-1.4z" fill="#05ebf1"/>
<path d="M384.7 279.5l2.2 1.2l-0.8 1.8l-2.2-1.2z" fill="#01abd8"/>
<path d="M389.7 280.5l2.3 0.9l-0.8 1.8l-2.2-0.9z" fill="#0159d5"/>
<path d="M394.8 281.1l2.2 1l-0.8 1.9l-2.2-1z" fill="#dc0b02"/>
<path d="M399.9 281.9l2.2 1.1l-0.8 2.1l-2.2-1.2z" fill="#ed4904"/>
<path d="M355.7 286.8l2.2-1l-0.6 3.4l-2.1-0.4z" fill="#00c8a3"/>
<path d="M405.0 283.3l2.1 1.6l-0.8 2l-2.2-1.6z" fill="#f16705"/>
<path d="M360.9 281.5l2-0.4l-0.6 3.6l-1.9 0.5z" fill="#02ddb8"/>
<path d="M410.0 286.0l2.2 2.4l-0.9 1.5l-2.1-2z" fill="#de6c01"/>
<path d="M366.0 278.1l2 0.1l-0.6 3.4l-2-0.1z" fill="#09fedb"/>
<path d="M371.1 276.6l2.1 0.8l-0.8 3l-2.1-0.8z" fill="#1affff"/>
<path d="M376.1 277.0l2.2 1.3l-0.8 2.4l-2.2-1.2z" fill="#0fffff"/>
<path d="M381.2 278.7l2.2 1.4l-0.9 1.9l-2.1-1.3z" fill="#03daea"/>
<path d="M386.2 280.3l2.2 1.1l-0.8 1.8l-2.2-1.1z" fill="#0199d8"/>
<path d="M391.3 281.1l2.2 0.9l-0.8 1.9l-2.2-1z" fill="#0240dc"/>
<path d="M396.3 281.8l2.2 1l-0.8 2l-2.2-1.1z" fill="#e21e02"/>
<path d="M401.4 282.7l2.2 1.3l-0.8 2.1l-2.2-1.4z" fill="#f25305"/>
<path d="M357.4 285.8l2-0.8l-0.6 3.8l-2 0.3z" fill="#01d5af"/>
<path d="M406.5 284.5l2.2 1.8l-0.9 2l-2.2-1.8z" fill="#ec6803"/>
<path d="M362.5 281.1l1.9-0.3l-0.6 3.6l-1.9 0.3z" fill="#03e4c0"/>
<path d="M367.5 278.2l2.1 0.3l-0.7 3.3l-2-0.3z" fill="#0effea"/>
<path d="M372.6 277.2l2.1 1l-0.8 2.8l-2.1-0.8z" fill="#1bffff"/>
<path d="M377.7 278.0l2.1 1.4l-0.8 2.3l-2.2-1.3z" fill="#0cffff"/>
<path d="M382.7 279.8l2.2 1.3l-0.8 1.8l-2.2-1.2z" fill="#02c7e3"/>
<path d="M387.7 281.0l2.2 1l-0.8 1.9l-2.2-1z" fill="#0183d6"/>
<path d="M392.8 281.7l2.2 1l-0.8 1.9l-2.2-1z" fill="#0225dd"/>
<path d="M397.8 282.5l2.2 1.1l-0.8 2l-2.2-1.1z" fill="#e62e03"/>
<path d="M402.9 283.7l2.2 1.4l-0.8 2l-2.2-1.4z" fill="#ef5904"/>
<path d="M358.9 285.0l2-0.7l-0.6 3.8l-2 0.7z" fill="#01d6b1"/>
<path d="M408.0 285.9l2.2 2l-0.9 2l-2.2-2.1z" fill="#ea6a03"/>
<path d="M364.0 280.8l2-0.1l-0.7 3.5l-2 0.2z" fill="#05efcc"/>
<path d="M369.1 278.4l2 0.6l-0.7 3.2l-2.1-0.5z" fill="#14fffe"/>
<path d="M374.1 278.0l2.1 1.1l-0.8 2.7l-2.1-1z" fill="#17ffff"/>
<path d="M379.2 279.1l2.1 1.4l-0.8 2.1l-2.2-1.2z" fill="#09faff"/>
<path d="M384.2 280.7l2.2 1.2l-0.8 1.9l-2.2-1.2z" fill="#02b7df"/>
<path d="M389.2 281.7l2.2 0.9l-0.7 2l-2.3-1z" fill="#016bd7"/>
<path d="M394.3 282.4l2.2 1l-0.8 1.9l-2.2-1z" fill="#020ee2"/>
<path d="M399.4 283.3l2.2 1.2l-0.9 2l-2.1-1.2z" fill="#e93a03"/>
<path d="M404.4 284.7l2.2 1.7l-0.8 2l-2.2-1.7z" fill="#ec5d03"/>
<path d="M360.4 284.3l2-0.4l-0.6 3.7l-2 0.5z" fill="#01dab6"/>
<path d="M409.5 287.4l2.2 2.1l-0.8 1.3l-2.2-1.3z" fill="#d86401"/>
<path d="M365.5 280.7l2 0.1l-0.7 3.4l-2 0z" fill="#09fddb"/>
<path d="M370.6 278.9l2 0.7l-0.7 3l-2.1-0.6z" fill="#19ffff"/>
<path d="M375.6 278.9l2.1 1.1l-0.8 2.6l-2.1-1.1z" fill="#13ffff"/>
<path d="M380.7 280.1l2.1 1.4l-0.8 2l-2.2-1.2z" fill="#04e0ee"/>
<path d="M385.7 281.5l2.2 1.1l-0.8 1.9l-2.2-1.1z" fill="#02a9e2"/>
<path d="M390.7 282.3l2.2 1l-0.7 1.9l-2.2-0.9z" fill="#0254dc"/>
<path d="M395.8 283.1l2.2 1.1l-0.8 1.9l-2.2-1.1z" fill="#e40c03"/>
<path d="M400.9 284.2l2.2 1.3l-0.9 2l-2.1-1.3z" fill="#ea4403"/>
<path d="M356.7 288.4l2.3-0.4l-0.7 2.3l-2.2-0.5z" fill="#00b796"/>
<path d="M406.0 286.0l2.1 1.8l-0.8 2l-2.2-1.9z" fill="#ee6204"/>
<path d="M361.9 283.8l2-0.3l-0.6 3.7l-2 0.3z" fill="#03e3c0"/>
<path d="M367.0 280.7l2 0.3l-0.7 3.3l-2-0.2z" fill="#0dffe9"/>
<path d="M372.1 279.4l2.1 0.8l-0.8 3l-2.1-0.8z" fill="#1affff"/>
<path d="M377.1 279.8l2.2 1.2l-0.8 2.4l-2.2-1.1z" fill="#10ffff"/>
<path d="M382.2 281.1l2.1 1.3l-0.8 2l-2.1-1.2z" fill="#04d5ed"/>
<path d="M387.2 282.3l2.2 1l-0.8 1.9l-2.2-1z" fill="#0296e2"/>
<path d="M392.3 283.0l2.2 1l-0.8 2l-2.2-1.1z" fill="#023adf"/>
<path d="M397.3 283.9l2.2 1.1l-0.8 2l-2.2-1.2z" fill="#e91e03"/>
<path d="M402.4 285.1l2.2 1.5l-0.9 2l-2.1-1.5z" fill="#ef4e04"/>
<path d="M358.3 287.9l2.1-0.6l-0.6 3.3l-2.1-0.4z" fill="#01d9b5"/>
<path d="M407.5 287.3l2.1 2.2l-0.8 1.7l-2.2-1.9z" fill="#e96303"/>
<path d="M363.5 283.5l1.9-0.1l-0.6 3.6l-2 0.1z" fill="#04eac8"/>
<path d="M368.5 280.9l2.1 0.4l-0.7 3.3l-2.1-0.4z" fill="#10fff4"/>
<path d="M373.6 280.1l2.1 0.9l-0.8 2.8l-2.1-0.8z" fill="#17ffff"/>
<path d="M378.6 280.7l2.2 1.3l-0.8 2.3l-2.2-1.2z" fill="#0cffff"/>
<path d="M383.7 282.0l2.2 1.2l-0.8 2l-2.2-1.1z" fill="#04c5ea"/>
<path d="M388.7 283.0l2.2 0.9l-0.8 2l-2.2-1z" fill="#027edf"/>
<path d="M393.8 283.7l2.2 1.1l-0.8 1.9l-2.2-1.1z" fill="#0324e6"/>
<path d="M398.8 284.7l2.2 1.2l-0.8 2l-2.2-1.2z" fill="#e72c03"/>
<path d="M403.9 286.2l2.2 1.6l-0.8 2.1l-2.2-1.7z" fill="#ef5504"/>
<path d="M359.9 287.2l2-0.5l-0.6 3.8l-2 0z" fill="#02e2be"/>
<path d="M408.9 289.0l2.3 1.3l-0.8 1.2l-2.2-0.6z" fill="#c65600"/>
<path d="M365.0 283.3l2 0l-0.7 3.6l-2 0z" fill="#07f5d5"/>
<path d="M370.0 281.2l2.1 0.6l-0.7 3.1l-2.1-0.4z" fill="#14ffff"/>
<path d="M375.1 280.8l2.1 1.1l-0.8 2.6l-2.1-0.9z" fill="#14ffff"/>
<path d="M380.1 281.7l2.2 1.2l-0.8 2.2l-2.2-1.1z" fill="#08effb"/>
<path d="M385.2 282.9l2.2 1l-0.8 2l-2.2-1z" fill="#03b6e9"/>
<path d="M390.2 283.7l2.2 0.9l-0.8 2l-2.2-1z" fill="#0268e2"/>
<path d="M395.3 284.4l2.2 1.2l-0.8 2l-2.2-1.2z" fill="#030de5"/>
<path d="M400.4 285.6l2.1 1.3l-0.8 2.1l-2.2-1.4z" fill="#f23b05"/>
<path d="M405.4 287.4l2.2 1.9l-0.9 2.1l-2.1-2z" fill="#f55e05"/>
<path d="M361.4 286.7l2-0.4l-0.6 3.8l-2 0.3z" fill="#03e5c3"/>
<path d="M366.5 283.3l2 0.2l-0.7 3.4l-2-0.1z" fill="#09fbde"/>
<path d="M371.6 281.7l2 0.7l-0.7 3l-2.1-0.6z" fill="#16ffff"/>
<path d="M376.6 281.6l2.1 1.1l-0.8 2.6l-2.1-1z" fill="#13ffff"/>
<path d="M381.6 282.6l2.2 1.1l-0.8 2.2l-2.2-1.1z" fill="#07e0f7"/>
<path d="M386.7 283.6l2.2 1l-0.8 2.1l-2.2-1.1z" fill="#03a2e5"/>
<path d="M391.7 284.3l2.2 1l-0.8 2.1l-2.2-1.1z" fill="#0351e6"/>
<path d="M396.8 285.2l2.2 1.2l-0.8 2l-2.2-1.2z" fill="#ed0e04"/>
<path d="M401.9 286.6l2.2 1.5l-0.9 2l-2.2-1.5z" fill="#ee4304"/>
<path d="M357.7 289.5l2.4 0.5l-0.7 1.4l-2.3-0.6z" fill="#00a489"/>
<path d="M406.9 288.8l2.2 2l-0.8 1.3l-2.2-1.1z" fill="#de5802"/>
<path d="M362.9 286.3l2-0.2l-0.6 3.6l-2 0.3z" fill="#04e9c8"/>
<path d="M368.0 283.4l2 0.3l-0.7 3.4l-2-0.3z" fill="#0efff1"/>
<path d="M373.1 282.2l2 0.8l-0.7 2.9l-2.1-0.7z" fill="#17ffff"/>
<path d="M378.1 282.5l2.2 1.1l-0.8 2.4l-2.2-1z" fill="#10ffff"/>
<path d="M383.1 283.4l2.2 1.1l-0.8 2.2l-2.1-1.1z" fill="#06d2f4"/>
<path d="M388.2 284.3l2.2 1l-0.8 2.1l-2.2-1z" fill="#0492e9"/>
<path d="M393.3 285.0l2.1 1.1l-0.8 2.1l-2.1-1.1z" fill="#0439ea"/>
<path d="M398.3 286.1l2.2 1.3l-0.8 2l-2.2-1.3z" fill="#f22005"/>
<path d="M403.4 287.7l2.2 1.6l-0.9 2.2l-2.1-1.8z" fill="#f64f06"/>
<path d="M359.2 289.8l2.3-0.1l-0.7 2l-2.2-0.5z" fill="#00b094"/>
<path d="M408.3 290.4l2.3 0.6l-0.7 1.3l-2.3-0.5z" fill="#a44300"/>
<path d="M364.5 286.0l1.9 0l-0.6 3.6l-2 0.1z" fill="#05f0d1"/>
<path d="M369.5 283.6l2 0.5l-0.7 3.2l-2-0.3z" fill="#11fffb"/>
<path d="M374.6 282.9l2.1 0.9l-0.8 2.7l-2.1-0.7z" fill="#16ffff"/>
<path d="M379.6 283.3l2.2 1.1l-0.8 2.4l-2.2-1z" fill="#0af6ff"/>
<path d="M384.7 284.3l2.1 1l-0.8 2.1l-2.1-1z" fill="#05c2f1"/>
<path d="M389.7 285.0l2.2 1l-0.8 2.1l-2.2-1z" fill="#047deb"/>
<path d="M394.8 285.8l2.2 1.2l-0.8 2l-2.2-1.2z" fill="#0421e9"/>
<path d="M399.8 287.0l2.2 1.4l-0.8 2.1l-2.2-1.4z" fill="#f12d05"/>
<path d="M404.9 288.9l2.2 2l-0.8 1.7l-2.2-1.5z" fill="#ea5003"/>
<path d="M360.8 289.6l2.1-0.4l-0.6 2.8l-2.2-0.4z" fill="#01d2b3"/>
<path d="M366.0 285.9l2 0.1l-0.7 3.5l-2 0z" fill="#0affe4"/>
<path d="M371.0 284.0l2.1 0.6l-0.7 3.1l-2.1-0.5z" fill="#14ffff"/>
<path d="M376.1 283.6l2.1 0.9l-0.8 2.7l-2.1-0.9z" fill="#14ffff"/>
<path d="M381.1 284.2l2.2 1l-0.8 2.3l-2.2-1z" fill="#09eafe"/>
<path d="M386.2 285.0l2.1 1l-0.7 2.1l-2.2-1z" fill="#05b2ef"/>
<path d="M391.2 285.7l2.2 1l-0.8 2.2l-2.2-1.1z" fill="#0568f1"/>
<path d="M396.3 286.6l2.2 1.3l-0.8 2l-2.2-1.2z" fill="#050ef0"/>
<path d="M401.4 288.0l2.1 1.6l-0.8 2.1l-2.2-1.6z" fill="#f93b07"/>
<path d="M406.3 290.5l2.3 1.1l-0.7 1.2l-2.3-0.5z" fill="#bd4300"/>
<path d="M362.4 289.1l2-0.2l-0.6 3.4l-2.1-0.3z" fill="#05eccc"/>
<path d="M367.5 286.0l2 0.2l-0.7 3.4l-2-0.1z" fill="#0affe4"/>
<path d="M372.5 284.4l2.1 0.7l-0.7 3l-2.1-0.5z" fill="#16ffff"/>
<path d="M377.6 284.3l2.1 1l-0.8 2.6l-2.1-0.9z" fill="#11ffff"/>
<path d="M382.6 285.0l2.2 1l-0.8 2.3l-2.2-1z" fill="#08dcfb"/>
<path d="M387.7 285.7l2.2 1l-0.8 2.2l-2.2-1z" fill="#05a2f1"/>
<path d="M392.7 286.5l2.2 1l-0.8 2.2l-2.2-1.1z" fill="#0650f3"/>
<path d="M397.8 287.5l2.2 1.3l-0.8 2.2l-2.2-1.4z" fill="#f51006"/>
<path d="M402.9 289.2l2.2 1.8l-0.9 2l-2.2-1.7z" fill="#f44305"/>
<path d="M363.9 288.8l2-0.1l-0.6 3.6l-2-0.1z" fill="#08f9da"/>
<path d="M369.0 286.1l2 0.4l-0.7 3.3l-2-0.3z" fill="#10fff9"/>
<path d="M374.1 285.0l2 0.8l-0.7 2.9l-2.1-0.7z" fill="#15ffff"/>
<path d="M379.1 285.1l2.1 1l-0.8 2.5l-2.1-1z" fill="#10ffff"/>
<path d="M384.1 285.7l2.2 1.1l-0.8 2.2l-2.2-1z" fill="#07cdf7"/>
<path d="M389.2 286.5l2.2 1l-0.8 2.1l-2.2-1z" fill="#058df0"/>
<path d="M394.3 287.2l2.1 1.2l-0.8 2.2l-2.2-1.2z" fill="#0638f3"/>
<path d="M399.3 288.5l2.2 1.4l-0.8 2.2l-2.2-1.5z" fill="#fc2208"/>
<path d="M404.4 290.6l2.2 1.5l-0.8 1.3l-2.2-0.6z" fill="#d13d01"/>
<path d="M365.4 288.6l2 0.1l-0.6 3.6l-2 0z" fill="#08fbde"/>
<path d="M370.5 286.4l2 0.5l-0.7 3.2l-2-0.4z" fill="#12ffff"/>
<path d="M375.6 285.6l2 0.8l-0.7 2.8l-2.1-0.7z" fill="#16ffff"/>
<path d="M380.6 285.8l2.1 1l-0.7 2.5l-2.2-1z" fill="#0efbff"/>
<path d="M385.6 286.5l2.2 1l-0.8 2.2l-2.1-1z" fill="#07c0f7"/>
<path d="M390.7 287.2l2.2 1l-0.8 2.2l-2.2-1.1z" fill="#087df9"/>
<path d="M395.8 288.1l2.1 1.2l-0.8 2.2l-2.1-1.3z" fill="#0622f6"/>
<path d="M400.9 289.6l2.1 1.6l-0.8 2.3l-2.2-1.8z" fill="#ff3209"/>
<path d="M405.7 291.8l2.4 0.5l-0.7 1.3l-2.3-0.5z" fill="#a13400"/>
<path d="M367.0 288.6l1.9 0.2l-0.6 3.5l-2-0.1z" fill="#0affe7"/>
<path d="M372.0 286.8l2.1 0.5l-0.8 3.2l-2-0.5z" fill="#13ffff"/>
<path d="M377.1 286.3l2.1 0.8l-0.8 2.7l-2.1-0.8z" fill="#14ffff"/>
<path d="M382.1 286.6l2.2 1l-0.8 2.4l-2.2-1z" fill="#0cebff"/>
<path d="M387.2 287.2l2.1 1l-0.8 2.3l-2.1-1z" fill="#07aff7"/>
<path d="M392.2 287.9l2.2 1.1l-0.8 2.3l-2.2-1.2z" fill="#0866fb"/>
<path d="M397.3 289.0l2.2 1.4l-0.9 2.2l-2.1-1.4z" fill="#0911ff"/>
<path d="M402.3 290.8l2.2 1.8l-0.7 1.3l-2.3-0.7z" fill="#de2f02"/>
<path d="M368.5 288.7l2 0.3l-0.7 3.4l-2-0.2z" fill="#0efff4"/>
<path d="M373.5 287.2l2.1 0.7l-0.7 3l-2.1-0.6z" fill="#14ffff"/>
<path d="M378.6 286.9l2.1 0.9l-0.8 2.7l-2.1-0.9z" fill="#11ffff"/>
<path d="M383.6 287.3l2.2 1l-0.8 2.4l-2.2-1z" fill="#0bdeff"/>
<path d="M388.7 288.0l2.1 1l-0.8 2.2l-2.1-1z" fill="#09a3ff"/>
<path d="M393.7 288.7l2.2 1.2l-0.8 2.3l-2.2-1.2z" fill="#0950ff"/>
<path d="M398.8 290.0l2.2 1.5l-0.9 2.4l-2.1-1.6z" fill="#ff150b"/>
<path d="M370.0 288.9l2 0.3l-0.7 3.4l-2-0.3z" fill="#0ffffc"/>
<path d="M375.0 287.7l2.1 0.7l-0.7 3l-2.1-0.7z" fill="#15ffff"/>
<path d="M380.1 287.6l2.1 1l-0.8 2.5l-2.1-0.8z" fill="#0fffff"/>
<path d="M385.1 288.1l2.2 1l-0.8 2.3l-2.2-1z" fill="#0acdff"/>
<path d="M390.2 288.7l2.1 1.1l-0.7 2.3l-2.2-1.1z" fill="#0a90ff"/>
<path d="M395.3 289.6l2.1 1.3l-0.8 2.4l-2.2-1.4z" fill="#0a3aff"/>
<path d="M400.3 291.2l2.2 1.8l-0.8 1.4l-2.2-0.8z" fill="#ec1c04"/>
<path d="M371.5 289.2l2 0.4l-0.7 3.3l-2-0.4z" fill="#13ffff"/>
<path d="M376.5 288.3l2.1 0.8l-0.7 2.8l-2.1-0.7z" fill="#17ffff"/>
<path d="M381.6 288.3l2.1 1l-0.8 2.5l-2.1-0.9z" fill="#0df1ff"/>
<path d="M386.6 288.8l2.2 1l-0.8 2.4l-2.1-1z" fill="#0ec9ff"/>
<path d="M391.7 289.5l2.2 1.1l-0.8 2.4l-2.2-1.2z" fill="#0c7fff"/>
<path d="M396.8 290.6l2.1 1.4l-0.8 2.5l-2.2-1.6z" fill="#0c27ff"/>
<path d="M373.0 289.5l2 0.6l-0.7 3.2l-2-0.5z" fill="#13ffff"/>
<path d="M378.1 288.9l2 0.8l-0.7 2.8l-2.1-0.7z" fill="#14ffff"/>
<path d="M383.1 289.0l2.1 1l-0.7 2.5l-2.2-0.9z" fill="#0fecff"/>
<path d="M388.2 289.5l2.1 1.1l-0.8 2.4l-2.1-1.1z" fill="#0db5ff"/>
<path d="M393.2 290.3l2.2 1.2l-0.8 2.5l-2.2-1.3z" fill="#0f6bff"/>
<path d="M398.3 291.7l2.2 1.7l-0.8 1.5l-2.2-0.7z" fill="#040bed"/>
<path d="M403.2 293.1l2.3 0.5l-0.7 1.3l-2.3-0.5z" fill="#a12000"/>
<path d="M374.5 290.0l2.1 0.6l-0.8 3.1l-2-0.6z" fill="#17ffff"/>
<path d="M379.6 289.5l2.1 0.9l-0.8 2.7l-2.1-0.8z" fill="#14ffff"/>
<path d="M384.6 289.8l2.1 0.9l-0.7 2.6l-2.2-1z" fill="#10e2ff"/>
<path d="M389.7 290.3l2.1 1.1l-0.8 2.5l-2.1-1.2z" fill="#0ea6ff"/>
<path d="M394.7 291.3l2.2 1.3l-0.8 2.5l-2.2-1.4z" fill="#1055ff"/>
<path d="M376.0 290.4l2.1 0.7l-0.7 3.1l-2.1-0.6z" fill="#16ffff"/>
<path d="M381.1 290.2l2.1 0.9l-0.8 2.7l-2.1-0.8z" fill="#14ffff"/>
<path d="M386.1 290.5l2.2 1l-0.8 2.6l-2.2-1.1z" fill="#11d8ff"/>
<path d="M391.2 291.1l2.1 1.2l-0.8 2.6l-2.1-1.3z" fill="#1298ff"/>
<path d="M396.2 292.3l2.2 1.6l-0.7 1.5l-2.2-0.6z" fill="#032ce9"/>
<path d="M401.1 293.6l2.4 0.5l-0.7 1.3l-2.3-0.5z" fill="#9d1000"/>
<path d="M377.5 291.0l2.1 0.7l-0.7 3.1l-2.1-0.7z" fill="#17ffff"/>
<path d="M382.6 290.9l2.1 0.9l-0.8 2.8l-2.1-1z" fill="#16ffff"/>
<path d="M387.7 291.3l2.1 1l-0.8 2.7l-2.1-1.2z" fill="#16d2ff"/>
<path d="M392.7 292.0l2.2 1.4l-0.8 2.2l-2.2-0.9z" fill="#0e7aff"/>
<path d="M397.6 293.6l2.3 0.8l-0.7 1.3l-2.3-0.6z" fill="#0011ad"/>
<path d="M379.1 291.6l2 0.8l-0.7 3l-2.1-0.8z" fill="#19ffff"/>
<path d="M384.1 291.6l2.1 0.9l-0.8 2.9l-2.1-1.1z" fill="#17f8ff"/>
<path d="M389.2 292.1l2.1 1.1l-0.8 2.6l-2.1-1z" fill="#16c1ff"/>
<path d="M380.6 292.2l2 0.9l-0.7 2.8l-2.1-0.7z" fill="#15ffff"/>
<path d="M385.6 292.3l2.1 1l-0.8 2.7l-2.1-0.8z" fill="#16e9ff"/>
<path d="M390.7 293.0l2.1 1.3l-0.7 1.8l-2.2-0.5z" fill="#068af3"/>
<path d="M382.1 292.9l2.1 0.9l-0.8 2.5l-2.1-0.6z" fill="#0eeeff"/>
<path d="M387.1 293.1l2.2 1.2l-0.8 2l-2.1-0.5z" fill="#09bcff"/>
<path d="M392.1 294.0l2.3 1.1l-0.8 1.3l-2.2-0.5z" fill="#005abd"/>
<path d="M383.6 293.6l2.1 1.1l-0.7 1.8l-2.2-0.5z" fill="#04c4e7"/>
<path d="M388.6 294.1l2.2 1.2l-0.7 1.3l-2.3-0.5z" fill="#0085c7"/>
<path d="M393.5 294.8l2.4 0.6l-0.7 1.3l-2.3-0.6z" fill="#003f9f"/>
<path d="M385.0 294.5l2.3 1l-0.8 1.3l-2.2-0.5z" fill="#0097bc"/>
<path d="M391.5 295.3l2.3 0.6l-0.6 1.3l-2.4-0.6z" fill="#00549f"/>
<path d="M389.5 295.8l2.3 0.6l-0.7 1.3l-2.3-0.6z" fill="#00659f"/>
</g>
<defs><linearGradient id="cb" x1="0" y1="0" x2="0" y2="1">
<stop offset="0.000" stop-color="#ff0000"/>
<stop offset="0.125" stop-color="#ff7f00"/>
<stop offset="0.250" stop-color="#ffff00"/>
<stop offset="0.375" stop-color="#7fff00"/>
<stop offset="0.500" stop-color="#00ff00"/>
<stop offset="0.625" stop-color="#00ff7f"/>
<stop offset="0.750" stop-color="#00ffff"/>
<stop offset="0.875" stop-color="#007fff"/>
<stop offset="1.000" stop-color="#0000ff"/>
</linearGradient></defs>
<rect x="133.6" y="98.8" width="7.1" height="60.7" fill="url(#cb)"/>
<g stroke="#000" fill="none">
<rect x="95.3" y="87.6" width="340.2" height="240.2" stroke-width="1.35"/>
<path d="M95.3 114.0h2.9 M435.5 114.0h-2.9 M95.3 140.9h5.6 M435.5 140.9h-5.6 M95.3 167.7h2.9 M435.5 167.7h-2.9 M95.3 194.5h5.6 M435.5 194.5h-5.6 M95.3 221.3h2.9 M435.5 221.3h-2.9 M95.3 248.2h5.6 M435.5 248.2h-5.6 M95.3 275.0h2.9 M435.5 275.0h-2.9 M95.3 301.8h5.6 M435.5 301.8h-5.6 M208.7 327.8v-5 M208.7 87.6v5 M322.1 327.8v-5 M322.1 87.6v5" stroke-width="1.3"/>
</g>
<path d="M145.3 201.0 V257.6" stroke="#666" stroke-width="1" fill="none"/><path d="M145.3 261.6 l-4.3 -7.4 l4.3 2.4 l4.3 -2.4 z" fill="#000"/>
<path d="M167.6 201.0 V265.7" stroke="#666" stroke-width="1" fill="none"/><path d="M167.6 269.7 l-4.3 -7.4 l4.3 2.4 l4.3 -2.4 z" fill="#000"/>
<g font-family="Liberation Serif, serif" fill="#000">
<text x="87.3" y="91.6" text-anchor="end" font-size="13.6"><tspan>10</tspan><tspan font-size="8.8" dy="-5.8">0</tspan></text>
<text x="87.3" y="145.3" text-anchor="end" font-size="13.6"><tspan>10</tspan><tspan font-size="8.8" dy="-5.8">−2</tspan></text>
<text x="87.3" y="198.9" text-anchor="end" font-size="13.6"><tspan>10</tspan><tspan font-size="8.8" dy="-5.8">−4</tspan></text>
<text x="87.3" y="252.6" text-anchor="end" font-size="13.6"><tspan>10</tspan><tspan font-size="8.8" dy="-5.8">−6</tspan></text>
<text x="87.3" y="306.2" text-anchor="end" font-size="13.6"><tspan>10</tspan><tspan font-size="8.8" dy="-5.8">−8</tspan></text>
<text x="123.2" y="101.8" font-size="16">π</text>
<text x="116.0" y="164.2" font-size="16">−π</text>
<text x="199.5" y="117.9" font-size="16.2">m=−1</text>
<text x="295.2" y="236.1" font-size="16.2">m=0</text>
<text x="386.9" y="236.1" font-size="16.2">m=1</text>
<text x="141.0" y="198.9" font-size="16.2"><tspan font-style="italic">P</tspan><tspan font-size="9.5" dy="2.3">−1</tspan></text>
<text x="163.3" y="198.9" font-size="16.2"><tspan font-style="italic">P</tspan><tspan font-size="9.5" dy="2.3">1</tspan></text>
<text x="256" y="365.2" font-size="16.2" font-style="italic">ω t</text>
<text transform="translate(53.5 218.2) rotate(-90)" font-size="16.2"><tspan font-style="italic">P</tspan><tspan font-size="9.5" dy="2.3">±1</tspan></text>
</g>
<g font-family="Liberation Sans, sans-serif" font-size="12.7" text-anchor="middle" fill="#000">
<text x="95.3" y="346.2">0</text>
<text x="208.7" y="346.2">50</text>
<text x="322.1" y="346.2">100</text>
<text x="435.5" y="346.2">150</text>
</g>
</svg>
</body></html>
